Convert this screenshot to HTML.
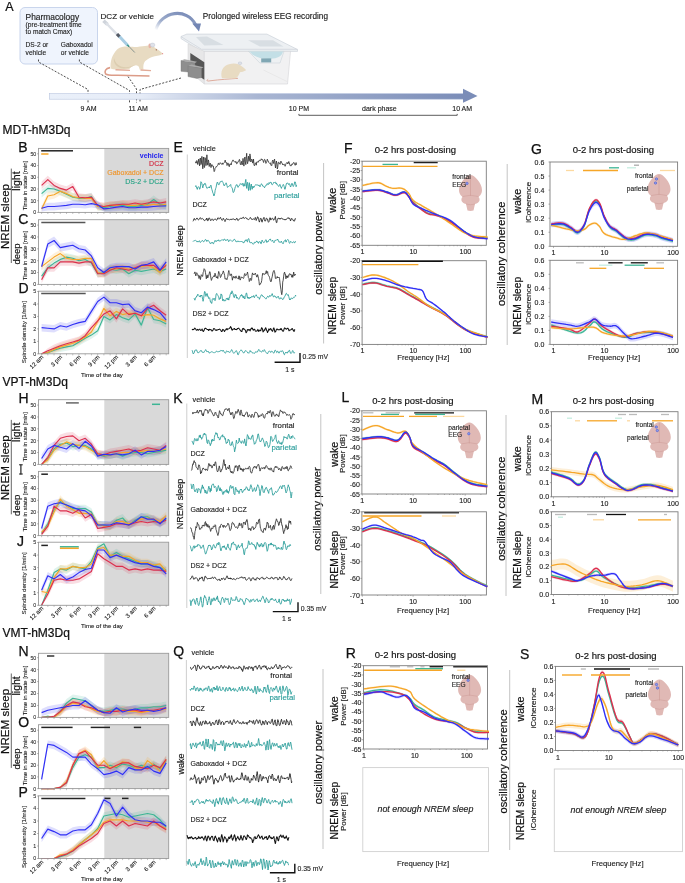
<!DOCTYPE html>
<html><head><meta charset="utf-8"><style>
html,body{margin:0;padding:0;background:#fff;width:685px;height:883px;overflow:hidden}
svg{display:block;font-family:"Liberation Sans",sans-serif;will-change:transform}
</style></head><body>
<svg width="685" height="883" viewBox="0 0 685 883">
<rect width="685" height="883" fill="#fff"/>
<defs><linearGradient id="tl" x1="0" x2="1" y1="0" y2="0"><stop offset="0" stop-color="#eaf0fa"/><stop offset="0.22" stop-color="#e6ecf7"/><stop offset="0.5" stop-color="#a9b6d3"/><stop offset="1" stop-color="#7b8db8"/></linearGradient><linearGradient id="arc" x1="0" x2="1" y1="1" y2="0"><stop offset="0" stop-color="#ffffff"/><stop offset="0.35" stop-color="#9eadcc"/><stop offset="1" stop-color="#7386b4"/></linearGradient></defs>
<text x="5.2" y="10.5" font-size="12.5" fill="#111" stroke="#111" stroke-width="0.22">A</text>
<rect x="20" y="7.5" width="77.5" height="56.5" fill="#eff4fd" stroke="#c3d0ea" stroke-width="0.9" rx="5"/>
<text x="25.6" y="19.5" font-size="8.4" fill="#222" stroke="#222" stroke-width="0.15">Pharmacology</text>
<text x="25.6" y="26.6" font-size="6.6" fill="#222" stroke="#222" stroke-width="0.12">(pre-treatment time</text>
<text x="25.6" y="33.6" font-size="6.6" fill="#222" stroke="#222" stroke-width="0.12">to match Cmax)</text>
<text x="25.6" y="47.2" font-size="6.6" fill="#222" stroke="#222" stroke-width="0.12">DS-2 or</text>
<text x="25.6" y="55.2" font-size="6.6" fill="#222" stroke="#222" stroke-width="0.12">vehicle</text>
<text x="60.8" y="47.2" font-size="6.6" fill="#222" stroke="#222" stroke-width="0.12">Gaboxadol</text>
<text x="60.8" y="55.2" font-size="6.6" fill="#222" stroke="#222" stroke-width="0.12">or vehicle</text>
<text x="100.5" y="19.4" font-size="8.1" fill="#222" stroke="#222" stroke-width="0.15">DCZ or vehicle</text>
<text x="202.8" y="19.2" font-size="8.2" fill="#222" stroke="#222" stroke-width="0.15">Prolonged wireless EEG recording</text>
<path d="M38.5,59.5 L38.5,62 L88,89.5 L88,102.5" fill="none" stroke="#3a3a3a" stroke-width="0.9" stroke-dasharray="2.0,1.5"/>
<path d="M79.4,59.5 L79.4,62 L129.5,90.5 L129.5,102.5" fill="none" stroke="#3a3a3a" stroke-width="0.9" stroke-dasharray="2.0,1.5"/>
<path d="M128,76.5 L136.5,89 L136.5,102.5" fill="none" stroke="#3a3a3a" stroke-width="0.9" stroke-dasharray="2.0,1.5"/>
<path d="M181,78 L140,89.5 L140,102.5" fill="none" stroke="#3a3a3a" stroke-width="0.9" stroke-dasharray="2.0,1.5"/>
<rect x="49.3" y="93.6" width="415" height="5.6" fill="url(#tl)" stroke="#b9c5df" stroke-width="0.6"/>
<path d="M463,88.8 L477.5,95.9 L463,102.8 Z" fill="#7b8db8" />
<text x="88.5" y="110.9" font-size="7" fill="#222" stroke="#222" stroke-width="0.13" text-anchor="middle">9 AM</text>
<text x="138.1" y="110.9" font-size="7" fill="#222" stroke="#222" stroke-width="0.13" text-anchor="middle">11 AM</text>
<text x="298.9" y="110.9" font-size="7" fill="#222" stroke="#222" stroke-width="0.13" text-anchor="middle">10 PM</text>
<text x="379.4" y="110.9" font-size="7" fill="#222" stroke="#222" stroke-width="0.13" text-anchor="middle">dark phase</text>
<text x="462.2" y="110.9" font-size="7" fill="#222" stroke="#222" stroke-width="0.13" text-anchor="middle">10 AM</text>
<path d="M298.9,113.9 L298.9,115.3 L457.2,115.3 L457.2,113.9" fill="none" stroke="#333" stroke-width="0.8" />
<path d="M155.8,30 C161,11 187,7 195.8,25" fill="none" stroke="url(#arc)" stroke-width="3.1" />
<path d="M192.3,23.6 L201,23.6 L199,31.4 Z" fill="#7386b4" />
<path d="M110,67.6 C105.5,68.3 104.2,71.5 105.6,73.8 C107.5,75.5 112,75.2 118,75.3 C130,75.5 142,75.8 149.5,76" fill="none" stroke="#dc9c88" stroke-width="1.6" />
<path d="M110.6,68.6 C110.2,62 111.5,55 117.6,49 C121,46.5 126.6,46.3 131,46.8 C137,47.3 141,46.2 145,45.9 C148.5,45 151,45.3 154,47 C157.5,49.3 160.5,51.5 162.8,53.6 C162,55 158.5,56 154.7,56.2 C151,57 148,58.5 146,60.5 C144,62 143,64.5 143.5,69.5 L139.5,69.6 C139.5,67 138.5,65.5 136,65.2 C132,66 130,68 129,69.3 C124,69.6 118,69.6 113,69.3 C112,69.2 111,69 110.6,68.6 Z" fill="#e8dbc2" />
<path d="M114,58 C113,64 117,68 124,68.5 C130,68.3 134,65.5 136,64 C132,67 126,68 121,66.5 C117,65 115,62 114,58 Z" fill="#dccdb0" />
<ellipse cx="149.9" cy="45.8" rx="1.5" ry="2.4" fill="#e7b2a4"/>
<circle cx="156.3" cy="49.8" r="0.65" fill="#8a4a3a"/>
<circle cx="162.6" cy="53.7" r="0.6" fill="#e58a8a"/>
<ellipse cx="152.5" cy="45" rx="2.4" ry="1.9" fill="#dfe2ea" stroke="#b4bbc9" stroke-width="0.4"/>
<path d="M115.5,69.8 L130,70.4" fill="none" stroke="#e2ab98" stroke-width="1.4" />
<path d="M140.5,70.0 L151,70.6" fill="none" stroke="#e2ab98" stroke-width="1.4" />
<path d="M103.5,20.8 L107.5,24.5" fill="none" stroke="#cfd4db" stroke-width="3.6" />
<path d="M106,23 L117.5,34.8" fill="none" stroke="#dde1e7" stroke-width="2.4" />
<path d="M117,34 L119.8,37" fill="none" stroke="#555b66" stroke-width="3.2" />
<path d="M119.5,36.5 L127.6,45.2" fill="none" stroke="#a8cde3" stroke-width="3" />
<path d="M127.3,44.8 L129,46.6" fill="none" stroke="#3a9a8a" stroke-width="1.6" />
<path d="M128.5,46 L134.8,52.5" fill="none" stroke="#45616a" stroke-width="0.6" />
<path d="M181,36.5 L186.8,34.1 L266.9,34.1 L297.5,49.5 L297.5,51.4 L201.6,51.4 L181,38.6 Z" fill="#edf0f3" stroke="#c6cdd5" stroke-width="0.6" />
<path d="M181,36.6 L201.6,49.3 L297.5,49.3" fill="none" stroke="#cdd3da" stroke-width="0.7" />
<path d="M196,37 L207,36.6 L223.5,45 L204.3,45.5 Z" fill="#d8dee3" />
<path d="M248,40.3 L273,40.3 L283.5,46.4 L259.9,46.4 Z" fill="#d8dee3" />
<path d="M188,43.8 L204.3,51.4 L204.3,84 L188,70.5 Z" fill="#e7e7e8" stroke="#d2d2d4" stroke-width="0.5" />
<path d="M204.3,51.4 L290.5,51.4 L287.5,84 L204.3,84 Z" fill="#f1f1f2" stroke="#d4d4d6" stroke-width="0.6" />
<path d="M263.4,70 L287,81.5" fill="none" stroke="#dedede" stroke-width="0.5" />
<path d="M248.5,51.4 L284,51.4 L280,63 L259.9,63 Z" fill="#eef1f3" stroke="#c5ced5" stroke-width="0.5" />
<path d="M249.5,51.6 L283,51.6 C282,56 278,58.5 270,59 C262,59.2 254,57.5 249.5,51.6 Z" fill="#c3dfe6" />
<rect x="261.2" y="58.4" width="10" height="4" fill="#80a7b4"/>
<path d="M190.3,53 L204.3,62.2 L204.3,79.7 L190.3,70 Z" fill="#565656" />
<path d="M181,60.4 L195,63 L195,72.7 L181,71.3 Z" fill="#8e8e8e" stroke="#777" stroke-width="0.4" />
<path d="M181,60.4 L184.5,59.3 L197,61.8 L195,63 Z" fill="#a9a9a9" />
<path d="M188,65.7 L201.6,68.3 L201.6,77.5 L196.8,78.4 L188,76.6 Z" fill="#8e8e8e" stroke="#777" stroke-width="0.4" />
<path d="M188,65.7 L191.5,64.6 L203.5,67.2 L201.6,68.3 Z" fill="#a9a9a9" />
<path d="M208.2,79.2 C206,80.5 207,81.5 210,80.8 C220,79.5 230,79 238,78.3" fill="none" stroke="#d99a88" stroke-width="0.8" />
<path d="M222,78.3 C220,72 222.5,66 229,64.2 C234,62.8 239,63.5 242,66.5 C244,68 245.5,69 246,70.2 C244,71.5 241.5,72 240,72.2 C239,75 237.5,77.5 235.5,78.4 Z" fill="#e8dbc2" />
<ellipse cx="240" cy="63.2" rx="1.8" ry="1.3" fill="#dfe2ea" stroke="#b4bbc9" stroke-width="0.4"/>
<rect x="104.3" y="148.4" width="64.4" height="64" fill="#d9d9d9"/>
<polygon points="41.6,189.8 47.8,184.5 54.1,185.1 60.3,187.4 66.5,190.4 72.8,193.3 79,194.5 85.2,194.5 91.4,192.7 97.7,202.7 103.9,204.2 110.1,202.7 116.4,201.5 122.6,201.5 128.8,202.7 135.1,202.7 141.3,201.5 147.5,200.3 153.7,195.6 160,200.3 166.2,201.5 166.2,209.2 160,208.1 153.7,203.4 147.5,208.1 141.3,209.2 135.1,210.4 128.8,210.4 122.6,209.2 116.4,209.2 110.1,210.4 103.9,211.2 97.7,210.4 91.4,200.4 85.2,202.2 79,202.2 72.8,201 66.5,198.1 60.3,195.2 54.1,192.8 47.8,192.2 41.6,197.5" fill="#3db595" fill-opacity="0.16"/>
<polygon points="41.6,206.2 47.8,192.1 54.1,191 60.3,187.4 66.5,189.8 72.8,192.7 79,193.9 85.2,194.5 91.4,194.5 97.7,202.7 103.9,202.7 110.1,201.5 116.4,201.5 122.6,200.3 128.8,201.5 135.1,201.5 141.3,200.3 147.5,201.5 153.7,200.3 160,201.5 166.2,200.3 166.2,208.1 160,209.2 153.7,208.1 147.5,209.2 141.3,208.1 135.1,209.2 128.8,209.2 122.6,208.1 116.4,209.2 110.1,209.2 103.9,210.4 97.7,210.4 91.4,202.2 85.2,202.2 79,201.6 72.8,200.4 66.5,197.5 60.3,195.2 54.1,198.7 47.8,199.9 41.6,211.6" fill="#f6a628" fill-opacity="0.16"/>
<polygon points="41.6,181.6 47.8,175.7 54.1,181.6 60.3,184.5 66.5,186.3 72.8,182.7 79,193.3 85.2,193.9 91.4,193.3 97.7,201.5 103.9,202.7 110.1,201.5 116.4,200.9 122.6,200.3 128.8,200.3 135.1,199.2 141.3,200.3 147.5,199.2 153.7,198 160,199.2 166.2,198 166.2,205.7 160,206.9 153.7,205.7 147.5,206.9 141.3,208.1 135.1,206.9 128.8,208.1 122.6,208.1 116.4,208.6 110.1,209.2 103.9,210.4 97.7,209.2 91.4,201 85.2,201.6 79,201 72.8,190.5 66.5,194 60.3,192.2 54.1,189.3 47.8,183.5 41.6,189.3" fill="#dc2f4e" fill-opacity="0.16"/>
<polygon points="41.6,205.2 47.8,202.7 54.1,202.7 60.3,202.1 66.5,201.5 72.8,200.3 79,200.3 85.2,200.9 91.4,199.7 97.7,200.9 103.9,206.2 110.1,205.2 116.4,203.3 122.6,202.7 128.8,204.2 135.1,204.2 141.3,203.3 147.5,203.3 153.7,202.7 160,202.1 166.2,202.1 166.2,209.8 160,209.8 153.7,210.4 147.5,211 141.3,211 135.1,211.2 128.8,211.2 122.6,210.4 116.4,211 110.1,211.4 103.9,211.6 97.7,208.6 91.4,207.5 85.2,208.6 79,208.1 72.8,208.1 66.5,209.2 60.3,209.8 54.1,210.4 47.8,210.4 41.6,211.4" fill="#2f2ff5" fill-opacity="0.16"/>
<polyline points="41.6,193.6 47.8,188.4 54.1,189 60.3,191.3 66.5,194.2 72.8,197.2 79,198.3 85.2,198.3 91.4,196.6 97.7,206.5 103.9,207.7 110.1,206.5 116.4,205.4 122.6,205.4 128.8,206.5 135.1,206.5 141.3,205.4 147.5,204.2 153.7,199.5 160,204.2 166.2,205.4" fill="none" stroke="#3db595" stroke-width="1.15" stroke-linejoin="round"/>
<polyline points="41.6,208.9 47.8,196 54.1,194.8 60.3,191.3 66.5,193.6 72.8,196.6 79,197.8 85.2,198.3 91.4,198.3 97.7,206.5 103.9,206.5 110.1,205.4 116.4,205.4 122.6,204.2 128.8,205.4 135.1,205.4 141.3,204.2 147.5,205.4 153.7,204.2 160,205.4 166.2,204.2" fill="none" stroke="#f6a628" stroke-width="1.15" stroke-linejoin="round"/>
<polyline points="41.6,185.4 47.8,179.6 54.1,185.4 60.3,188.4 66.5,190.1 72.8,186.6 79,197.2 85.2,197.8 91.4,197.2 97.7,205.4 103.9,206.5 110.1,205.4 116.4,204.8 122.6,204.2 128.8,204.2 135.1,203 141.3,204.2 147.5,203 153.7,201.9 160,203 166.2,201.9" fill="none" stroke="#dc2f4e" stroke-width="1.15" stroke-linejoin="round"/>
<polyline points="41.6,208.3 47.8,206.5 54.1,206.5 60.3,206 66.5,205.4 72.8,204.2 79,204.2 85.2,204.8 91.4,203.6 97.7,204.8 103.9,208.9 110.1,208.3 116.4,207.1 122.6,206.5 128.8,207.7 135.1,207.7 141.3,207.1 147.5,207.1 153.7,206.5 160,206 166.2,206" fill="none" stroke="#2f2ff5" stroke-width="1.15" stroke-linejoin="round"/>
<rect x="38.5" y="148.4" width="130.2" height="64" fill="none" stroke="#9a9a9a" stroke-width="0.9"/>
<line x1="41.6" y1="212.4" x2="41.6" y2="214" stroke="#888" stroke-width="0.5"/>
<line x1="47.83" y1="212.4" x2="47.83" y2="214" stroke="#888" stroke-width="0.5"/>
<line x1="54.06" y1="212.4" x2="54.06" y2="214" stroke="#888" stroke-width="0.5"/>
<line x1="60.29" y1="212.4" x2="60.29" y2="214" stroke="#888" stroke-width="0.5"/>
<line x1="66.52" y1="212.4" x2="66.52" y2="214" stroke="#888" stroke-width="0.5"/>
<line x1="72.75" y1="212.4" x2="72.75" y2="214" stroke="#888" stroke-width="0.5"/>
<line x1="78.98" y1="212.4" x2="78.98" y2="214" stroke="#888" stroke-width="0.5"/>
<line x1="85.21" y1="212.4" x2="85.21" y2="214" stroke="#888" stroke-width="0.5"/>
<line x1="91.44" y1="212.4" x2="91.44" y2="214" stroke="#888" stroke-width="0.5"/>
<line x1="97.67" y1="212.4" x2="97.67" y2="214" stroke="#888" stroke-width="0.5"/>
<line x1="103.9" y1="212.4" x2="103.9" y2="214" stroke="#888" stroke-width="0.5"/>
<line x1="110.13" y1="212.4" x2="110.13" y2="214" stroke="#888" stroke-width="0.5"/>
<line x1="116.36" y1="212.4" x2="116.36" y2="214" stroke="#888" stroke-width="0.5"/>
<line x1="122.59" y1="212.4" x2="122.59" y2="214" stroke="#888" stroke-width="0.5"/>
<line x1="128.82" y1="212.4" x2="128.82" y2="214" stroke="#888" stroke-width="0.5"/>
<line x1="135.05" y1="212.4" x2="135.05" y2="214" stroke="#888" stroke-width="0.5"/>
<line x1="141.28" y1="212.4" x2="141.28" y2="214" stroke="#888" stroke-width="0.5"/>
<line x1="147.51" y1="212.4" x2="147.51" y2="214" stroke="#888" stroke-width="0.5"/>
<line x1="153.74" y1="212.4" x2="153.74" y2="214" stroke="#888" stroke-width="0.5"/>
<line x1="159.97" y1="212.4" x2="159.97" y2="214" stroke="#888" stroke-width="0.5"/>
<line x1="166.2" y1="212.4" x2="166.2" y2="214" stroke="#888" stroke-width="0.5"/>
<line x1="37" y1="212.4" x2="38.5" y2="212.4" stroke="#777" stroke-width="0.5"/>
<text x="36.3" y="214.3" font-size="5.3" fill="#333" stroke="#333" stroke-width="0.1" text-anchor="end">0</text>
<line x1="37" y1="200.68" x2="38.5" y2="200.68" stroke="#777" stroke-width="0.5"/>
<text x="36.3" y="202.58" font-size="5.3" fill="#333" stroke="#333" stroke-width="0.1" text-anchor="end">10</text>
<line x1="37" y1="188.96" x2="38.5" y2="188.96" stroke="#777" stroke-width="0.5"/>
<text x="36.3" y="190.86" font-size="5.3" fill="#333" stroke="#333" stroke-width="0.1" text-anchor="end">20</text>
<line x1="37" y1="177.24" x2="38.5" y2="177.24" stroke="#777" stroke-width="0.5"/>
<text x="36.3" y="179.14" font-size="5.3" fill="#333" stroke="#333" stroke-width="0.1" text-anchor="end">30</text>
<line x1="37" y1="165.52" x2="38.5" y2="165.52" stroke="#777" stroke-width="0.5"/>
<text x="36.3" y="167.42" font-size="5.3" fill="#333" stroke="#333" stroke-width="0.1" text-anchor="end">40</text>
<line x1="37" y1="153.8" x2="38.5" y2="153.8" stroke="#777" stroke-width="0.5"/>
<text x="36.3" y="155.7" font-size="5.3" fill="#333" stroke="#333" stroke-width="0.1" text-anchor="end">50</text>
<line x1="41.2" y1="150.8" x2="73" y2="150.8" stroke="#222" stroke-width="1.5"/>
<line x1="41.2" y1="154" x2="48.5" y2="154" stroke="#f6a628" stroke-width="1.5"/>
<rect x="104.3" y="219.7" width="64.4" height="64.7" fill="#d9d9d9"/>
<polygon points="41.6,272.2 47.8,263.9 54.1,259.1 60.3,255.6 66.5,253.2 72.8,254.4 79,256.8 85.2,255.6 91.4,259.1 97.7,269.8 103.9,268.6 110.1,265.1 116.4,266.3 122.6,265.1 128.8,269.8 135.1,266.3 141.3,267.4 147.5,266.3 153.7,265.1 160,267.4 166.2,265.1 166.2,272.9 160,275.3 153.7,272.9 147.5,274.1 141.3,275.3 135.1,274.1 128.8,277.6 122.6,272.9 116.4,274.1 110.1,272.9 103.9,276.5 97.7,277.6 91.4,267 85.2,263.4 79,264.6 72.8,262.2 66.5,261 60.3,263.4 54.1,267 47.8,271.7 41.6,280" fill="#3db595" fill-opacity="0.16"/>
<polygon points="41.6,262.7 47.8,258 54.1,253.2 60.3,249.7 66.5,254.4 72.8,255.6 79,255.6 85.2,254.4 91.4,254.4 97.7,268.6 103.9,269.8 110.1,265.1 116.4,265.1 122.6,263.9 128.8,265.1 135.1,263.9 141.3,262.7 147.5,261.5 153.7,263.9 160,268.6 166.2,260.3 166.2,268.2 160,276.5 153.7,271.7 147.5,269.3 141.3,270.5 135.1,271.7 128.8,272.9 122.6,271.7 116.4,272.9 110.1,272.9 103.9,277.6 97.7,276.5 91.4,262.2 85.2,262.2 79,263.4 72.8,263.4 66.5,262.2 60.3,257.5 54.1,261 47.8,265.8 41.6,270.5" fill="#f6a628" fill-opacity="0.16"/>
<polygon points="41.6,276.1 47.8,263.9 54.1,263.9 60.3,258 66.5,258 72.8,258 79,259.1 85.2,258 91.4,258 97.7,269.8 103.9,269.8 110.1,266.3 116.4,263.9 122.6,265.1 128.8,266.3 135.1,263.9 141.3,261.5 147.5,261.5 153.7,261.5 160,266.3 166.2,261.5 166.2,269.3 160,274.1 153.7,269.3 147.5,269.3 141.3,269.3 135.1,271.7 128.8,274.1 122.6,272.9 116.4,271.7 110.1,274.1 103.9,277.6 97.7,277.6 91.4,265.8 85.2,265.8 79,267 72.8,265.8 66.5,265.8 60.3,265.8 54.1,271.7 47.8,271.7 41.6,283.2" fill="#dc2f4e" fill-opacity="0.16"/>
<polygon points="41.6,262.7 47.8,240.2 54.1,236.6 60.3,243.7 66.5,242.5 72.8,241.3 79,244.9 85.2,246.1 91.4,252 97.7,263.9 103.9,268.6 110.1,263.9 116.4,262.7 122.6,262.7 128.8,262.7 135.1,265.1 141.3,261.5 147.5,260.3 153.7,258 160,266.3 166.2,258 166.2,265.8 160,274.1 153.7,265.8 147.5,268.2 141.3,269.3 135.1,272.9 128.8,270.5 122.6,270.5 116.4,270.5 110.1,271.7 103.9,276.5 97.7,271.7 91.4,259.8 85.2,253.9 79,252.7 72.8,249.2 66.5,250.4 60.3,251.5 54.1,244.4 47.8,248 41.6,270.5" fill="#2f2ff5" fill-opacity="0.16"/>
<polyline points="41.6,276.1 47.8,267.8 54.1,263.1 60.3,259.5 66.5,257.1 72.8,258.3 79,260.7 85.2,259.5 91.4,263.1 97.7,273.7 103.9,272.5 110.1,269 116.4,270.2 122.6,269 128.8,273.7 135.1,270.2 141.3,271.4 147.5,270.2 153.7,269 160,271.4 166.2,269" fill="none" stroke="#3db595" stroke-width="1.15" stroke-linejoin="round"/>
<polyline points="41.6,266.6 47.8,261.9 54.1,257.1 60.3,253.6 66.5,258.3 72.8,259.5 79,259.5 85.2,258.3 91.4,258.3 97.7,272.5 103.9,273.7 110.1,269 116.4,269 122.6,267.8 128.8,269 135.1,267.8 141.3,266.6 147.5,265.4 153.7,267.8 160,272.5 166.2,264.2" fill="none" stroke="#f6a628" stroke-width="1.15" stroke-linejoin="round"/>
<polyline points="41.6,279.7 47.8,267.8 54.1,267.8 60.3,261.9 66.5,261.9 72.8,261.9 79,263.1 85.2,261.9 91.4,261.9 97.7,273.7 103.9,273.7 110.1,270.2 116.4,267.8 122.6,269 128.8,270.2 135.1,267.8 141.3,265.4 147.5,265.4 153.7,265.4 160,270.2 166.2,265.4" fill="none" stroke="#dc2f4e" stroke-width="1.15" stroke-linejoin="round"/>
<polyline points="41.6,266.6 47.8,244.1 54.1,240.5 60.3,247.6 66.5,246.4 72.8,245.3 79,248.8 85.2,250 91.4,255.9 97.7,267.8 103.9,272.5 110.1,267.8 116.4,266.6 122.6,266.6 128.8,266.6 135.1,269 141.3,265.4 147.5,264.2 153.7,261.9 160,270.2 166.2,261.9" fill="none" stroke="#2f2ff5" stroke-width="1.15" stroke-linejoin="round"/>
<rect x="38.5" y="219.7" width="130.2" height="64.7" fill="none" stroke="#9a9a9a" stroke-width="0.9"/>
<line x1="41.6" y1="284.4" x2="41.6" y2="286" stroke="#888" stroke-width="0.5"/>
<line x1="47.83" y1="284.4" x2="47.83" y2="286" stroke="#888" stroke-width="0.5"/>
<line x1="54.06" y1="284.4" x2="54.06" y2="286" stroke="#888" stroke-width="0.5"/>
<line x1="60.29" y1="284.4" x2="60.29" y2="286" stroke="#888" stroke-width="0.5"/>
<line x1="66.52" y1="284.4" x2="66.52" y2="286" stroke="#888" stroke-width="0.5"/>
<line x1="72.75" y1="284.4" x2="72.75" y2="286" stroke="#888" stroke-width="0.5"/>
<line x1="78.98" y1="284.4" x2="78.98" y2="286" stroke="#888" stroke-width="0.5"/>
<line x1="85.21" y1="284.4" x2="85.21" y2="286" stroke="#888" stroke-width="0.5"/>
<line x1="91.44" y1="284.4" x2="91.44" y2="286" stroke="#888" stroke-width="0.5"/>
<line x1="97.67" y1="284.4" x2="97.67" y2="286" stroke="#888" stroke-width="0.5"/>
<line x1="103.9" y1="284.4" x2="103.9" y2="286" stroke="#888" stroke-width="0.5"/>
<line x1="110.13" y1="284.4" x2="110.13" y2="286" stroke="#888" stroke-width="0.5"/>
<line x1="116.36" y1="284.4" x2="116.36" y2="286" stroke="#888" stroke-width="0.5"/>
<line x1="122.59" y1="284.4" x2="122.59" y2="286" stroke="#888" stroke-width="0.5"/>
<line x1="128.82" y1="284.4" x2="128.82" y2="286" stroke="#888" stroke-width="0.5"/>
<line x1="135.05" y1="284.4" x2="135.05" y2="286" stroke="#888" stroke-width="0.5"/>
<line x1="141.28" y1="284.4" x2="141.28" y2="286" stroke="#888" stroke-width="0.5"/>
<line x1="147.51" y1="284.4" x2="147.51" y2="286" stroke="#888" stroke-width="0.5"/>
<line x1="153.74" y1="284.4" x2="153.74" y2="286" stroke="#888" stroke-width="0.5"/>
<line x1="159.97" y1="284.4" x2="159.97" y2="286" stroke="#888" stroke-width="0.5"/>
<line x1="166.2" y1="284.4" x2="166.2" y2="286" stroke="#888" stroke-width="0.5"/>
<line x1="37" y1="284.4" x2="38.5" y2="284.4" stroke="#777" stroke-width="0.5"/>
<text x="36.3" y="286.3" font-size="5.3" fill="#333" stroke="#333" stroke-width="0.1" text-anchor="end">0</text>
<line x1="37" y1="272.54" x2="38.5" y2="272.54" stroke="#777" stroke-width="0.5"/>
<text x="36.3" y="274.44" font-size="5.3" fill="#333" stroke="#333" stroke-width="0.1" text-anchor="end">10</text>
<line x1="37" y1="260.68" x2="38.5" y2="260.68" stroke="#777" stroke-width="0.5"/>
<text x="36.3" y="262.58" font-size="5.3" fill="#333" stroke="#333" stroke-width="0.1" text-anchor="end">20</text>
<line x1="37" y1="248.82" x2="38.5" y2="248.82" stroke="#777" stroke-width="0.5"/>
<text x="36.3" y="250.72" font-size="5.3" fill="#333" stroke="#333" stroke-width="0.1" text-anchor="end">30</text>
<line x1="37" y1="236.96" x2="38.5" y2="236.96" stroke="#777" stroke-width="0.5"/>
<text x="36.3" y="238.86" font-size="5.3" fill="#333" stroke="#333" stroke-width="0.1" text-anchor="end">40</text>
<line x1="37" y1="225.1" x2="38.5" y2="225.1" stroke="#777" stroke-width="0.5"/>
<text x="36.3" y="227" font-size="5.3" fill="#333" stroke="#333" stroke-width="0.1" text-anchor="end">50</text>
<line x1="41.3" y1="222.6" x2="85.4" y2="222.6" stroke="#555" stroke-width="1.5"/>
<rect x="104.3" y="291.2" width="64.4" height="62.6" fill="#d9d9d9"/>
<polygon points="41.6,353.4 47.8,351.3 54.1,347.2 60.3,344.5 66.5,343.2 72.8,342 79,338.2 85.2,334.5 91.4,331.4 97.7,327 103.9,312.7 110.1,316.2 116.4,310.8 122.6,313.9 128.8,316.2 135.1,310.2 141.3,321.4 147.5,304 153.7,315.8 160,317 166.2,320.2 166.2,327.6 160,324.5 153.7,323.3 147.5,311.4 141.3,328.9 135.1,317.7 128.8,323.6 122.6,321.4 116.4,318.3 110.1,323.6 103.9,320.2 97.7,334.5 91.4,338.8 85.2,342 79,345.7 72.8,349.4 66.5,350.7 60.3,351.9 54.1,352.9 47.8,353.8 41.6,353.8" fill="#3db595" fill-opacity="0.16"/>
<polygon points="41.6,353.4 47.8,351.3 54.1,346.2 60.3,343.2 66.5,341.3 72.8,339.5 79,337 85.2,333.2 91.4,328.3 97.7,317.7 103.9,304.6 110.1,312.1 116.4,307.7 122.6,310.8 128.8,309.6 135.1,309.6 141.3,312.1 147.5,310.8 153.7,311.4 160,315.2 166.2,317.7 166.2,325.1 160,322.7 153.7,318.9 147.5,318.3 141.3,319.5 135.1,317 128.8,317 122.6,318.3 116.4,315.2 110.1,319.5 103.9,312.1 97.7,325.1 91.4,335.7 85.2,340.7 79,344.5 72.8,346.9 66.5,348.8 60.3,350.7 54.1,352.7 47.8,353.8 41.6,353.8" fill="#f6a628" fill-opacity="0.16"/>
<polygon points="41.6,353.4 47.8,348.2 54.1,344.5 60.3,342 66.5,340.1 72.8,338.2 79,336.4 85.2,332 91.4,323.9 97.7,317 103.9,310.2 110.1,307.1 116.4,315.2 122.6,305.2 128.8,310.8 135.1,309.6 141.3,312.1 147.5,304.6 153.7,301.5 160,307.1 166.2,311.4 166.2,318.9 160,314.6 153.7,308.9 147.5,312.1 141.3,319.5 135.1,317 128.8,318.3 122.6,312.7 116.4,322.7 110.1,314.6 103.9,317.7 97.7,324.5 91.4,331.4 85.2,339.5 79,343.8 72.8,345.7 66.5,347.6 60.3,349.4 54.1,351.9 47.8,353.1 41.6,353.8" fill="#dc2f4e" fill-opacity="0.16"/>
<polygon points="41.6,323.9 47.8,324.5 54.1,325.1 60.3,322 66.5,323.3 72.8,320.8 79,318.9 85.2,317.7 91.4,307.7 97.7,297.7 103.9,293.4 110.1,299 116.4,299 122.6,300.8 128.8,300.2 135.1,307.1 141.3,308.9 147.5,303.3 153.7,305.8 160,308.9 166.2,316.4 166.2,323.9 160,316.4 153.7,313.3 147.5,310.8 141.3,316.4 135.1,314.6 128.8,307.7 122.6,308.3 116.4,306.5 110.1,306.5 103.9,300.8 97.7,305.2 91.4,315.2 85.2,325.1 79,326.4 72.8,328.3 66.5,330.7 60.3,329.5 54.1,332.6 47.8,332 41.6,331.4" fill="#2f2ff5" fill-opacity="0.16"/>
<polyline points="41.6,353.8 47.8,352.6 54.1,350.1 60.3,348.2 66.5,346.9 72.8,345.7 79,342 85.2,338.2 91.4,335.1 97.7,330.7 103.9,316.4 110.1,319.9 116.4,314.6 122.6,317.7 128.8,319.9 135.1,313.9 141.3,325.1 147.5,307.7 153.7,319.5 160,320.8 166.2,323.9" fill="none" stroke="#3db595" stroke-width="1.15" stroke-linejoin="round"/>
<polyline points="41.6,353.8 47.8,352.6 54.1,349.4 60.3,346.9 66.5,345.1 72.8,343.2 79,340.7 85.2,337 91.4,332 97.7,321.4 103.9,308.3 110.1,315.8 116.4,311.4 122.6,314.6 128.8,313.3 135.1,313.3 141.3,315.8 147.5,314.6 153.7,315.2 160,318.9 166.2,321.4" fill="none" stroke="#f6a628" stroke-width="1.15" stroke-linejoin="round"/>
<polyline points="41.6,353.8 47.8,350.7 54.1,348.2 60.3,345.7 66.5,343.8 72.8,342 79,340.1 85.2,335.7 91.4,327.6 97.7,320.8 103.9,313.9 110.1,310.8 116.4,318.9 122.6,308.9 128.8,314.6 135.1,313.3 141.3,315.8 147.5,308.3 153.7,305.2 160,310.8 166.2,315.2" fill="none" stroke="#dc2f4e" stroke-width="1.15" stroke-linejoin="round"/>
<polyline points="41.6,327.6 47.8,328.3 54.1,328.9 60.3,325.8 66.5,327 72.8,324.5 79,322.6 85.2,321.4 91.4,311.4 97.7,301.5 103.9,297.1 110.1,302.7 116.4,302.7 122.6,304.6 128.8,304 135.1,310.8 141.3,312.7 147.5,307.1 153.7,309.6 160,312.7 166.2,320.2" fill="none" stroke="#2f2ff5" stroke-width="1.15" stroke-linejoin="round"/>
<rect x="38.5" y="291.2" width="130.2" height="62.6" fill="none" stroke="#9a9a9a" stroke-width="0.9"/>
<line x1="41.6" y1="353.8" x2="41.6" y2="355.4" stroke="#888" stroke-width="0.5"/>
<line x1="47.83" y1="353.8" x2="47.83" y2="355.4" stroke="#888" stroke-width="0.5"/>
<line x1="54.06" y1="353.8" x2="54.06" y2="355.4" stroke="#888" stroke-width="0.5"/>
<line x1="60.29" y1="353.8" x2="60.29" y2="355.4" stroke="#888" stroke-width="0.5"/>
<line x1="66.52" y1="353.8" x2="66.52" y2="355.4" stroke="#888" stroke-width="0.5"/>
<line x1="72.75" y1="353.8" x2="72.75" y2="355.4" stroke="#888" stroke-width="0.5"/>
<line x1="78.98" y1="353.8" x2="78.98" y2="355.4" stroke="#888" stroke-width="0.5"/>
<line x1="85.21" y1="353.8" x2="85.21" y2="355.4" stroke="#888" stroke-width="0.5"/>
<line x1="91.44" y1="353.8" x2="91.44" y2="355.4" stroke="#888" stroke-width="0.5"/>
<line x1="97.67" y1="353.8" x2="97.67" y2="355.4" stroke="#888" stroke-width="0.5"/>
<line x1="103.9" y1="353.8" x2="103.9" y2="355.4" stroke="#888" stroke-width="0.5"/>
<line x1="110.13" y1="353.8" x2="110.13" y2="355.4" stroke="#888" stroke-width="0.5"/>
<line x1="116.36" y1="353.8" x2="116.36" y2="355.4" stroke="#888" stroke-width="0.5"/>
<line x1="122.59" y1="353.8" x2="122.59" y2="355.4" stroke="#888" stroke-width="0.5"/>
<line x1="128.82" y1="353.8" x2="128.82" y2="355.4" stroke="#888" stroke-width="0.5"/>
<line x1="135.05" y1="353.8" x2="135.05" y2="355.4" stroke="#888" stroke-width="0.5"/>
<line x1="141.28" y1="353.8" x2="141.28" y2="355.4" stroke="#888" stroke-width="0.5"/>
<line x1="147.51" y1="353.8" x2="147.51" y2="355.4" stroke="#888" stroke-width="0.5"/>
<line x1="153.74" y1="353.8" x2="153.74" y2="355.4" stroke="#888" stroke-width="0.5"/>
<line x1="159.97" y1="353.8" x2="159.97" y2="355.4" stroke="#888" stroke-width="0.5"/>
<line x1="166.2" y1="353.8" x2="166.2" y2="355.4" stroke="#888" stroke-width="0.5"/>
<line x1="37" y1="353.8" x2="38.5" y2="353.8" stroke="#777" stroke-width="0.5"/>
<text x="36.3" y="355.7" font-size="5.3" fill="#333" stroke="#333" stroke-width="0.1" text-anchor="end">0</text>
<line x1="37" y1="341.34" x2="38.5" y2="341.34" stroke="#777" stroke-width="0.5"/>
<text x="36.3" y="343.24" font-size="5.3" fill="#333" stroke="#333" stroke-width="0.1" text-anchor="end">1</text>
<line x1="37" y1="328.88" x2="38.5" y2="328.88" stroke="#777" stroke-width="0.5"/>
<text x="36.3" y="330.78" font-size="5.3" fill="#333" stroke="#333" stroke-width="0.1" text-anchor="end">2</text>
<line x1="37" y1="316.42" x2="38.5" y2="316.42" stroke="#777" stroke-width="0.5"/>
<text x="36.3" y="318.32" font-size="5.3" fill="#333" stroke="#333" stroke-width="0.1" text-anchor="end">3</text>
<line x1="37" y1="303.96" x2="38.5" y2="303.96" stroke="#777" stroke-width="0.5"/>
<text x="36.3" y="305.86" font-size="5.3" fill="#333" stroke="#333" stroke-width="0.1" text-anchor="end">4</text>
<line x1="37" y1="291.5" x2="38.5" y2="291.5" stroke="#777" stroke-width="0.5"/>
<text x="36.3" y="293.4" font-size="5.3" fill="#333" stroke="#333" stroke-width="0.1" text-anchor="end">5</text>
<line x1="41.2" y1="293.6" x2="85.7" y2="293.6" stroke="#555" stroke-width="1.5"/>
<rect x="104.3" y="399.7" width="64.4" height="64.7" fill="#d9d9d9"/>
<polygon points="41.6,464 47.8,454.6 54.1,445.1 60.3,440.3 66.5,439.1 72.8,442.7 79,441.5 85.2,441.5 91.4,445.1 97.7,451 103.9,452.2 110.1,451 116.4,449.8 122.6,452.2 128.8,449.8 135.1,448.6 141.3,448.6 147.5,449.8 153.7,448.6 160,447.4 166.2,446.3 166.2,454.1 160,455.3 153.7,456.5 147.5,457.6 141.3,456.5 135.1,456.5 128.8,457.6 122.6,460 116.4,457.6 110.1,458.8 103.9,460 97.7,458.8 91.4,452.9 85.2,449.3 79,449.3 72.8,450.5 66.5,447 60.3,448.2 54.1,452.9 47.8,462.4 41.6,464.4" fill="#3db595" fill-opacity="0.16"/>
<polygon points="41.6,464 47.8,456.1 54.1,446.3 60.3,441.5 66.5,438 72.8,440.3 79,441.5 85.2,442.7 91.4,446.3 97.7,449.8 103.9,451 110.1,451 116.4,449.8 122.6,448.6 128.8,448.6 135.1,447.4 141.3,447.4 147.5,446.3 153.7,447.4 160,446.3 166.2,445.1 166.2,452.9 160,454.1 153.7,455.3 147.5,454.1 141.3,455.3 135.1,455.3 128.8,456.5 122.6,456.5 116.4,457.6 110.1,458.8 103.9,458.8 97.7,457.6 91.4,454.1 85.2,450.5 79,449.3 72.8,448.2 66.5,445.8 60.3,449.3 54.1,454.1 47.8,463.2 41.6,464.4" fill="#f6a628" fill-opacity="0.16"/>
<polygon points="41.6,464 47.8,453.4 54.1,441.5 60.3,434.4 66.5,432.6 72.8,432 79,436.8 85.2,434.4 91.4,440.3 97.7,449.8 103.9,451 110.1,448.6 116.4,447.4 122.6,446.3 128.8,445.1 135.1,447.4 141.3,446.3 147.5,443.9 153.7,445.1 160,446.3 166.2,441.5 166.2,449.3 160,454.1 153.7,452.9 147.5,451.7 141.3,454.1 135.1,455.3 128.8,452.9 122.6,454.1 116.4,455.3 110.1,456.5 103.9,458.8 97.7,457.6 91.4,448.2 85.2,442.2 79,444.6 72.8,439.8 66.5,440.4 60.3,442.2 54.1,449.3 47.8,461.2 41.6,464.4" fill="#dc2f4e" fill-opacity="0.16"/>
<polygon points="41.6,454.6 47.8,445.1 54.1,441.5 60.3,443.3 66.5,445.1 72.8,439.7 79,444.5 85.2,437.4 91.4,442.1 97.7,452.2 103.9,450.4 110.1,451 116.4,449.8 122.6,451 128.8,449.8 135.1,446.3 141.3,451 147.5,447.4 153.7,447.4 160,446.3 166.2,442.7 166.2,450.5 160,454.1 153.7,455.3 147.5,455.3 141.3,458.8 135.1,454.1 128.8,457.6 122.6,458.8 116.4,457.6 110.1,458.8 103.9,458.2 97.7,460 91.4,449.9 85.2,445.2 79,452.3 72.8,447.6 66.5,452.9 60.3,451.1 54.1,449.3 47.8,452.9 41.6,462.4" fill="#2f2ff5" fill-opacity="0.16"/>
<polyline points="41.6,464.4 47.8,458.5 54.1,449 60.3,444.2 66.5,443.1 72.8,446.6 79,445.4 85.2,445.4 91.4,449 97.7,454.9 103.9,456.1 110.1,454.9 116.4,453.7 122.6,456.1 128.8,453.7 135.1,452.5 141.3,452.5 147.5,453.7 153.7,452.5 160,451.4 166.2,450.2" fill="none" stroke="#3db595" stroke-width="1.15" stroke-linejoin="round"/>
<polyline points="41.6,464.4 47.8,459.7 54.1,450.2 60.3,445.4 66.5,441.9 72.8,444.2 79,445.4 85.2,446.6 91.4,450.2 97.7,453.7 103.9,454.9 110.1,454.9 116.4,453.7 122.6,452.5 128.8,452.5 135.1,451.4 141.3,451.4 147.5,450.2 153.7,451.4 160,450.2 166.2,449" fill="none" stroke="#f6a628" stroke-width="1.15" stroke-linejoin="round"/>
<polyline points="41.6,464.4 47.8,457.3 54.1,445.4 60.3,438.3 66.5,436.5 72.8,435.9 79,440.7 85.2,438.3 91.4,444.2 97.7,453.7 103.9,454.9 110.1,452.5 116.4,451.4 122.6,450.2 128.8,449 135.1,451.4 141.3,450.2 147.5,447.8 153.7,449 160,450.2 166.2,445.4" fill="none" stroke="#dc2f4e" stroke-width="1.15" stroke-linejoin="round"/>
<polyline points="41.6,458.5 47.8,449 54.1,445.4 60.3,447.2 66.5,449 72.8,443.6 79,448.4 85.2,441.3 91.4,446 97.7,456.1 103.9,454.3 110.1,454.9 116.4,453.7 122.6,454.9 128.8,453.7 135.1,450.2 141.3,454.9 147.5,451.4 153.7,451.4 160,450.2 166.2,446.6" fill="none" stroke="#2f2ff5" stroke-width="1.15" stroke-linejoin="round"/>
<rect x="38.5" y="399.7" width="130.2" height="64.7" fill="none" stroke="#9a9a9a" stroke-width="0.9"/>
<line x1="41.6" y1="464.4" x2="41.6" y2="466" stroke="#888" stroke-width="0.5"/>
<line x1="47.83" y1="464.4" x2="47.83" y2="466" stroke="#888" stroke-width="0.5"/>
<line x1="54.06" y1="464.4" x2="54.06" y2="466" stroke="#888" stroke-width="0.5"/>
<line x1="60.29" y1="464.4" x2="60.29" y2="466" stroke="#888" stroke-width="0.5"/>
<line x1="66.52" y1="464.4" x2="66.52" y2="466" stroke="#888" stroke-width="0.5"/>
<line x1="72.75" y1="464.4" x2="72.75" y2="466" stroke="#888" stroke-width="0.5"/>
<line x1="78.98" y1="464.4" x2="78.98" y2="466" stroke="#888" stroke-width="0.5"/>
<line x1="85.21" y1="464.4" x2="85.21" y2="466" stroke="#888" stroke-width="0.5"/>
<line x1="91.44" y1="464.4" x2="91.44" y2="466" stroke="#888" stroke-width="0.5"/>
<line x1="97.67" y1="464.4" x2="97.67" y2="466" stroke="#888" stroke-width="0.5"/>
<line x1="103.9" y1="464.4" x2="103.9" y2="466" stroke="#888" stroke-width="0.5"/>
<line x1="110.13" y1="464.4" x2="110.13" y2="466" stroke="#888" stroke-width="0.5"/>
<line x1="116.36" y1="464.4" x2="116.36" y2="466" stroke="#888" stroke-width="0.5"/>
<line x1="122.59" y1="464.4" x2="122.59" y2="466" stroke="#888" stroke-width="0.5"/>
<line x1="128.82" y1="464.4" x2="128.82" y2="466" stroke="#888" stroke-width="0.5"/>
<line x1="135.05" y1="464.4" x2="135.05" y2="466" stroke="#888" stroke-width="0.5"/>
<line x1="141.28" y1="464.4" x2="141.28" y2="466" stroke="#888" stroke-width="0.5"/>
<line x1="147.51" y1="464.4" x2="147.51" y2="466" stroke="#888" stroke-width="0.5"/>
<line x1="153.74" y1="464.4" x2="153.74" y2="466" stroke="#888" stroke-width="0.5"/>
<line x1="159.97" y1="464.4" x2="159.97" y2="466" stroke="#888" stroke-width="0.5"/>
<line x1="166.2" y1="464.4" x2="166.2" y2="466" stroke="#888" stroke-width="0.5"/>
<line x1="37" y1="464.4" x2="38.5" y2="464.4" stroke="#777" stroke-width="0.5"/>
<text x="36.3" y="466.3" font-size="5.3" fill="#333" stroke="#333" stroke-width="0.1" text-anchor="end">0</text>
<line x1="37" y1="452.54" x2="38.5" y2="452.54" stroke="#777" stroke-width="0.5"/>
<text x="36.3" y="454.44" font-size="5.3" fill="#333" stroke="#333" stroke-width="0.1" text-anchor="end">10</text>
<line x1="37" y1="440.68" x2="38.5" y2="440.68" stroke="#777" stroke-width="0.5"/>
<text x="36.3" y="442.58" font-size="5.3" fill="#333" stroke="#333" stroke-width="0.1" text-anchor="end">20</text>
<line x1="37" y1="428.82" x2="38.5" y2="428.82" stroke="#777" stroke-width="0.5"/>
<text x="36.3" y="430.72" font-size="5.3" fill="#333" stroke="#333" stroke-width="0.1" text-anchor="end">30</text>
<line x1="37" y1="416.96" x2="38.5" y2="416.96" stroke="#777" stroke-width="0.5"/>
<text x="36.3" y="418.86" font-size="5.3" fill="#333" stroke="#333" stroke-width="0.1" text-anchor="end">40</text>
<line x1="37" y1="405.1" x2="38.5" y2="405.1" stroke="#777" stroke-width="0.5"/>
<text x="36.3" y="407" font-size="5.3" fill="#333" stroke="#333" stroke-width="0.1" text-anchor="end">50</text>
<line x1="66" y1="402.9" x2="78.8" y2="402.9" stroke="#666" stroke-width="1.5"/>
<line x1="152" y1="404.3" x2="160" y2="404.3" stroke="#3db595" stroke-width="1.5"/>
<rect x="104.3" y="471.4" width="64.4" height="64.2" fill="#d9d9d9"/>
<polygon points="41.6,531.3 47.8,520 54.1,505.8 60.3,497.6 66.5,501.1 72.8,504.7 79,504.7 85.2,504.7 91.4,508.2 97.7,521.1 103.9,521.1 110.1,522.3 116.4,516.4 122.6,514.1 128.8,521.1 135.1,516.4 141.3,512.9 147.5,512.9 153.7,516.4 160,518.8 166.2,515.3 166.2,523 160,526.5 153.7,524.2 147.5,520.7 141.3,520.7 135.1,524.2 128.8,528.9 122.6,521.8 116.4,524.2 110.1,530.1 103.9,528.9 97.7,528.9 91.4,516 85.2,512.4 79,512.4 72.8,512.4 66.5,508.9 60.3,505.4 54.1,513.6 47.8,527.7 41.6,535.2" fill="#3db595" fill-opacity="0.16"/>
<polygon points="41.6,529.3 47.8,522.3 54.1,508.2 60.3,495.3 66.5,502.3 72.8,505.8 79,509.4 85.2,509.4 91.4,510.6 97.7,520 103.9,522.3 110.1,522.3 116.4,517.6 122.6,517.6 128.8,520 135.1,517.6 141.3,515.3 147.5,514.1 153.7,515.3 160,517.6 166.2,511.7 166.2,519.5 160,525.4 153.7,523 147.5,521.8 141.3,523 135.1,525.4 128.8,527.7 122.6,525.4 116.4,525.4 110.1,530.1 103.9,530.1 97.7,527.7 91.4,518.3 85.2,517.1 79,517.1 72.8,513.6 66.5,510.1 60.3,503 54.1,516 47.8,530.1 41.6,534.8" fill="#f6a628" fill-opacity="0.16"/>
<polygon points="41.6,533.3 47.8,522.3 54.1,502.3 60.3,507 66.5,507 72.8,509.4 79,505.8 85.2,514.1 91.4,510.6 97.7,524.7 103.9,523.5 110.1,522.3 116.4,520 122.6,520 128.8,521.1 135.1,518.8 141.3,517.6 147.5,518.8 153.7,517.6 160,518.8 166.2,516.4 166.2,524.2 160,526.5 153.7,525.4 147.5,526.5 141.3,525.4 135.1,526.5 128.8,528.9 122.6,527.7 116.4,527.7 110.1,530.1 103.9,531.2 97.7,532.4 91.4,518.3 85.2,521.8 79,513.6 72.8,517.1 66.5,514.8 60.3,514.8 54.1,510.1 47.8,530.1 41.6,535.6" fill="#dc2f4e" fill-opacity="0.16"/>
<polygon points="41.6,524.7 47.8,502.3 54.1,500 60.3,498.8 66.5,501.1 72.8,503.5 79,505.8 85.2,507 91.4,511.7 97.7,521.1 103.9,521.1 110.1,521.1 116.4,518.8 122.6,520 128.8,521.1 135.1,517.6 141.3,512.9 147.5,515.3 153.7,515.3 160,520 166.2,514.1 166.2,521.8 160,527.7 153.7,523 147.5,523 141.3,520.7 135.1,525.4 128.8,528.9 122.6,527.7 116.4,526.5 110.1,528.9 103.9,528.9 97.7,528.9 91.4,519.5 85.2,514.8 79,513.6 72.8,511.3 66.5,508.9 60.3,506.6 54.1,507.7 47.8,510.1 41.6,532.4" fill="#2f2ff5" fill-opacity="0.16"/>
<polyline points="41.6,533.2 47.8,523.8 54.1,509.7 60.3,501.5 66.5,505 72.8,508.6 79,508.6 85.2,508.6 91.4,512.1 97.7,525 103.9,525 110.1,526.2 116.4,520.3 122.6,518 128.8,525 135.1,520.3 141.3,516.8 147.5,516.8 153.7,520.3 160,522.7 166.2,519.1" fill="none" stroke="#3db595" stroke-width="1.15" stroke-linejoin="round"/>
<polyline points="41.6,532.1 47.8,526.2 54.1,512.1 60.3,499.1 66.5,506.2 72.8,509.7 79,513.3 85.2,513.3 91.4,514.4 97.7,523.8 103.9,526.2 110.1,526.2 116.4,521.5 122.6,521.5 128.8,523.8 135.1,521.5 141.3,519.1 147.5,518 153.7,519.1 160,521.5 166.2,515.6" fill="none" stroke="#f6a628" stroke-width="1.15" stroke-linejoin="round"/>
<polyline points="41.6,534.4 47.8,526.2 54.1,506.2 60.3,510.9 66.5,510.9 72.8,513.3 79,509.7 85.2,518 91.4,514.4 97.7,528.5 103.9,527.4 110.1,526.2 116.4,523.8 122.6,523.8 128.8,525 135.1,522.7 141.3,521.5 147.5,522.7 153.7,521.5 160,522.7 166.2,520.3" fill="none" stroke="#dc2f4e" stroke-width="1.15" stroke-linejoin="round"/>
<polyline points="41.6,528.5 47.8,506.2 54.1,503.8 60.3,502.7 66.5,505 72.8,507.4 79,509.7 85.2,510.9 91.4,515.6 97.7,525 103.9,525 110.1,525 116.4,522.7 122.6,523.8 128.8,525 135.1,521.5 141.3,516.8 147.5,519.1 153.7,519.1 160,523.8 166.2,518" fill="none" stroke="#2f2ff5" stroke-width="1.15" stroke-linejoin="round"/>
<rect x="38.5" y="471.4" width="130.2" height="64.2" fill="none" stroke="#9a9a9a" stroke-width="0.9"/>
<line x1="41.6" y1="535.6" x2="41.6" y2="537.2" stroke="#888" stroke-width="0.5"/>
<line x1="47.83" y1="535.6" x2="47.83" y2="537.2" stroke="#888" stroke-width="0.5"/>
<line x1="54.06" y1="535.6" x2="54.06" y2="537.2" stroke="#888" stroke-width="0.5"/>
<line x1="60.29" y1="535.6" x2="60.29" y2="537.2" stroke="#888" stroke-width="0.5"/>
<line x1="66.52" y1="535.6" x2="66.52" y2="537.2" stroke="#888" stroke-width="0.5"/>
<line x1="72.75" y1="535.6" x2="72.75" y2="537.2" stroke="#888" stroke-width="0.5"/>
<line x1="78.98" y1="535.6" x2="78.98" y2="537.2" stroke="#888" stroke-width="0.5"/>
<line x1="85.21" y1="535.6" x2="85.21" y2="537.2" stroke="#888" stroke-width="0.5"/>
<line x1="91.44" y1="535.6" x2="91.44" y2="537.2" stroke="#888" stroke-width="0.5"/>
<line x1="97.67" y1="535.6" x2="97.67" y2="537.2" stroke="#888" stroke-width="0.5"/>
<line x1="103.9" y1="535.6" x2="103.9" y2="537.2" stroke="#888" stroke-width="0.5"/>
<line x1="110.13" y1="535.6" x2="110.13" y2="537.2" stroke="#888" stroke-width="0.5"/>
<line x1="116.36" y1="535.6" x2="116.36" y2="537.2" stroke="#888" stroke-width="0.5"/>
<line x1="122.59" y1="535.6" x2="122.59" y2="537.2" stroke="#888" stroke-width="0.5"/>
<line x1="128.82" y1="535.6" x2="128.82" y2="537.2" stroke="#888" stroke-width="0.5"/>
<line x1="135.05" y1="535.6" x2="135.05" y2="537.2" stroke="#888" stroke-width="0.5"/>
<line x1="141.28" y1="535.6" x2="141.28" y2="537.2" stroke="#888" stroke-width="0.5"/>
<line x1="147.51" y1="535.6" x2="147.51" y2="537.2" stroke="#888" stroke-width="0.5"/>
<line x1="153.74" y1="535.6" x2="153.74" y2="537.2" stroke="#888" stroke-width="0.5"/>
<line x1="159.97" y1="535.6" x2="159.97" y2="537.2" stroke="#888" stroke-width="0.5"/>
<line x1="166.2" y1="535.6" x2="166.2" y2="537.2" stroke="#888" stroke-width="0.5"/>
<line x1="37" y1="535.6" x2="38.5" y2="535.6" stroke="#777" stroke-width="0.5"/>
<text x="36.3" y="537.5" font-size="5.3" fill="#333" stroke="#333" stroke-width="0.1" text-anchor="end">0</text>
<line x1="37" y1="523.84" x2="38.5" y2="523.84" stroke="#777" stroke-width="0.5"/>
<text x="36.3" y="525.74" font-size="5.3" fill="#333" stroke="#333" stroke-width="0.1" text-anchor="end">10</text>
<line x1="37" y1="512.08" x2="38.5" y2="512.08" stroke="#777" stroke-width="0.5"/>
<text x="36.3" y="513.98" font-size="5.3" fill="#333" stroke="#333" stroke-width="0.1" text-anchor="end">20</text>
<line x1="37" y1="500.32" x2="38.5" y2="500.32" stroke="#777" stroke-width="0.5"/>
<text x="36.3" y="502.22" font-size="5.3" fill="#333" stroke="#333" stroke-width="0.1" text-anchor="end">30</text>
<line x1="37" y1="488.56" x2="38.5" y2="488.56" stroke="#777" stroke-width="0.5"/>
<text x="36.3" y="490.46" font-size="5.3" fill="#333" stroke="#333" stroke-width="0.1" text-anchor="end">40</text>
<line x1="37" y1="476.8" x2="38.5" y2="476.8" stroke="#777" stroke-width="0.5"/>
<text x="36.3" y="478.7" font-size="5.3" fill="#333" stroke="#333" stroke-width="0.1" text-anchor="end">50</text>
<line x1="41.3" y1="474.2" x2="47.9" y2="474.2" stroke="#222" stroke-width="1.5"/>
<rect x="104.3" y="542.2" width="64.4" height="63.1" fill="#d9d9d9"/>
<polygon points="41.6,604.9 47.8,586.5 54.1,568.9 60.3,565.1 66.5,566.4 72.8,562.6 79,563.9 85.2,565.1 91.4,557.6 97.7,543.8 103.9,542.2 110.1,552.5 116.4,548.8 122.6,552.5 128.8,555.1 135.1,557.6 141.3,560.1 147.5,560.1 153.7,561.3 160,563.9 166.2,566.4 166.2,573.9 160,571.4 153.7,568.9 147.5,567.6 141.3,567.6 135.1,565.1 128.8,562.6 122.6,560.1 116.4,556.3 110.1,560.1 103.9,547.5 97.7,551.3 91.4,565.1 85.2,572.6 79,571.4 72.8,570.1 66.5,573.9 60.3,572.6 54.1,576.4 47.8,594 41.6,605.3" fill="#3db595" fill-opacity="0.16"/>
<polygon points="41.6,587.7 47.8,589 54.1,573.9 60.3,565.1 66.5,565.1 72.8,562.6 79,563.9 85.2,563.9 91.4,560.1 97.7,545 103.9,543.8 110.1,551.3 116.4,551.3 122.6,552.5 128.8,552.5 135.1,556.3 141.3,558.8 147.5,558.8 153.7,561.3 160,560.1 166.2,567.6 166.2,575.2 160,567.6 153.7,568.9 147.5,566.4 141.3,566.4 135.1,563.9 128.8,560.1 122.6,560.1 116.4,558.8 110.1,558.8 103.9,551.3 97.7,552.5 91.4,567.6 85.2,571.4 79,571.4 72.8,570.1 66.5,572.6 60.3,572.6 54.1,581.4 47.8,596.5 41.6,595.3" fill="#f6a628" fill-opacity="0.16"/>
<polygon points="41.6,604.9 47.8,590.2 54.1,576.4 60.3,575.2 66.5,576.4 72.8,576.4 79,575.2 85.2,571.4 91.4,567.6 97.7,550 103.9,555.1 110.1,558.8 116.4,562.6 122.6,562.6 128.8,566.4 135.1,565.1 141.3,566.4 147.5,565.1 153.7,566.4 160,566.4 166.2,567.6 166.2,575.2 160,573.9 153.7,573.9 147.5,572.6 141.3,573.9 135.1,572.6 128.8,573.9 122.6,570.1 116.4,570.1 110.1,566.4 103.9,562.6 97.7,557.6 91.4,575.2 85.2,578.9 79,582.7 72.8,583.9 66.5,583.9 60.3,582.7 54.1,583.9 47.8,597.8 41.6,605.3" fill="#dc2f4e" fill-opacity="0.16"/>
<polygon points="41.6,586.5 47.8,572 54.1,575.2 60.3,570.8 66.5,575.8 72.8,573.3 79,568.9 85.2,565.7 91.4,564.5 97.7,546.3 103.9,546.3 110.1,553.8 116.4,551.3 122.6,553.8 128.8,556.3 135.1,558.8 141.3,560.1 147.5,560.1 153.7,562.6 160,563.9 166.2,570.1 166.2,577.7 160,571.4 153.7,570.1 147.5,567.6 141.3,567.6 135.1,566.4 128.8,563.9 122.6,561.3 116.4,558.8 110.1,561.3 103.9,553.8 97.7,553.8 91.4,572 85.2,573.3 79,576.4 72.8,580.8 66.5,583.3 60.3,578.3 54.1,582.7 47.8,579.6 41.6,594" fill="#2f2ff5" fill-opacity="0.16"/>
<polyline points="41.6,605.3 47.8,590.2 54.1,572.6 60.3,568.9 66.5,570.1 72.8,566.4 79,567.6 85.2,568.9 91.4,561.3 97.7,547.5 103.9,543.8 110.1,556.3 116.4,552.5 122.6,556.3 128.8,558.8 135.1,561.3 141.3,563.9 147.5,563.9 153.7,565.1 160,567.6 166.2,570.1" fill="none" stroke="#3db595" stroke-width="1.15" stroke-linejoin="round"/>
<polyline points="41.6,591.5 47.8,592.7 54.1,577.7 60.3,568.9 66.5,568.9 72.8,566.4 79,567.6 85.2,567.6 91.4,563.9 97.7,548.8 103.9,547.5 110.1,555.1 116.4,555.1 122.6,556.3 128.8,556.3 135.1,560.1 141.3,562.6 147.5,562.6 153.7,565.1 160,563.9 166.2,571.4" fill="none" stroke="#f6a628" stroke-width="1.15" stroke-linejoin="round"/>
<polyline points="41.6,605.3 47.8,594 54.1,580.2 60.3,578.9 66.5,580.2 72.8,580.2 79,578.9 85.2,575.2 91.4,571.4 97.7,553.8 103.9,558.8 110.1,562.6 116.4,566.4 122.6,566.4 128.8,570.1 135.1,568.9 141.3,570.1 147.5,568.9 153.7,570.1 160,570.1 166.2,571.4" fill="none" stroke="#dc2f4e" stroke-width="1.15" stroke-linejoin="round"/>
<polyline points="41.6,590.2 47.8,575.8 54.1,578.9 60.3,574.5 66.5,579.6 72.8,577 79,572.6 85.2,569.5 91.4,568.2 97.7,550 103.9,550 110.1,557.6 116.4,555.1 122.6,557.6 128.8,560.1 135.1,562.6 141.3,563.9 147.5,563.9 153.7,566.4 160,567.6 166.2,573.9" fill="none" stroke="#2f2ff5" stroke-width="1.15" stroke-linejoin="round"/>
<rect x="38.5" y="542.2" width="130.2" height="63.1" fill="none" stroke="#9a9a9a" stroke-width="0.9"/>
<line x1="41.6" y1="605.3" x2="41.6" y2="606.9" stroke="#888" stroke-width="0.5"/>
<line x1="47.83" y1="605.3" x2="47.83" y2="606.9" stroke="#888" stroke-width="0.5"/>
<line x1="54.06" y1="605.3" x2="54.06" y2="606.9" stroke="#888" stroke-width="0.5"/>
<line x1="60.29" y1="605.3" x2="60.29" y2="606.9" stroke="#888" stroke-width="0.5"/>
<line x1="66.52" y1="605.3" x2="66.52" y2="606.9" stroke="#888" stroke-width="0.5"/>
<line x1="72.75" y1="605.3" x2="72.75" y2="606.9" stroke="#888" stroke-width="0.5"/>
<line x1="78.98" y1="605.3" x2="78.98" y2="606.9" stroke="#888" stroke-width="0.5"/>
<line x1="85.21" y1="605.3" x2="85.21" y2="606.9" stroke="#888" stroke-width="0.5"/>
<line x1="91.44" y1="605.3" x2="91.44" y2="606.9" stroke="#888" stroke-width="0.5"/>
<line x1="97.67" y1="605.3" x2="97.67" y2="606.9" stroke="#888" stroke-width="0.5"/>
<line x1="103.9" y1="605.3" x2="103.9" y2="606.9" stroke="#888" stroke-width="0.5"/>
<line x1="110.13" y1="605.3" x2="110.13" y2="606.9" stroke="#888" stroke-width="0.5"/>
<line x1="116.36" y1="605.3" x2="116.36" y2="606.9" stroke="#888" stroke-width="0.5"/>
<line x1="122.59" y1="605.3" x2="122.59" y2="606.9" stroke="#888" stroke-width="0.5"/>
<line x1="128.82" y1="605.3" x2="128.82" y2="606.9" stroke="#888" stroke-width="0.5"/>
<line x1="135.05" y1="605.3" x2="135.05" y2="606.9" stroke="#888" stroke-width="0.5"/>
<line x1="141.28" y1="605.3" x2="141.28" y2="606.9" stroke="#888" stroke-width="0.5"/>
<line x1="147.51" y1="605.3" x2="147.51" y2="606.9" stroke="#888" stroke-width="0.5"/>
<line x1="153.74" y1="605.3" x2="153.74" y2="606.9" stroke="#888" stroke-width="0.5"/>
<line x1="159.97" y1="605.3" x2="159.97" y2="606.9" stroke="#888" stroke-width="0.5"/>
<line x1="166.2" y1="605.3" x2="166.2" y2="606.9" stroke="#888" stroke-width="0.5"/>
<line x1="37" y1="605.3" x2="38.5" y2="605.3" stroke="#777" stroke-width="0.5"/>
<text x="36.3" y="607.2" font-size="5.3" fill="#333" stroke="#333" stroke-width="0.1" text-anchor="end">0</text>
<line x1="37" y1="592.74" x2="38.5" y2="592.74" stroke="#777" stroke-width="0.5"/>
<text x="36.3" y="594.64" font-size="5.3" fill="#333" stroke="#333" stroke-width="0.1" text-anchor="end">1</text>
<line x1="37" y1="580.18" x2="38.5" y2="580.18" stroke="#777" stroke-width="0.5"/>
<text x="36.3" y="582.08" font-size="5.3" fill="#333" stroke="#333" stroke-width="0.1" text-anchor="end">2</text>
<line x1="37" y1="567.62" x2="38.5" y2="567.62" stroke="#777" stroke-width="0.5"/>
<text x="36.3" y="569.52" font-size="5.3" fill="#333" stroke="#333" stroke-width="0.1" text-anchor="end">3</text>
<line x1="37" y1="555.06" x2="38.5" y2="555.06" stroke="#777" stroke-width="0.5"/>
<text x="36.3" y="556.96" font-size="5.3" fill="#333" stroke="#333" stroke-width="0.1" text-anchor="end">4</text>
<line x1="37" y1="542.5" x2="38.5" y2="542.5" stroke="#777" stroke-width="0.5"/>
<text x="36.3" y="544.4" font-size="5.3" fill="#333" stroke="#333" stroke-width="0.1" text-anchor="end">5</text>
<line x1="41.3" y1="545.4" x2="47.9" y2="545.4" stroke="#222" stroke-width="1.5"/>
<line x1="59.9" y1="546.8" x2="78.8" y2="546.8" stroke="#3db595" stroke-width="1.5"/>
<line x1="59.9" y1="548.3" x2="78.8" y2="548.3" stroke="#f6a628" stroke-width="1.5"/>
<rect x="104.3" y="653.3" width="64.4" height="64.1" fill="#d9d9d9"/>
<polygon points="41.6,717 47.8,715 54.1,717 60.3,707.5 66.5,699.1 72.8,694.4 79,695.5 85.2,696.7 91.4,701.5 97.7,706.3 103.9,707.5 110.1,706.3 116.4,705.1 122.6,705.1 128.8,706.3 135.1,705.1 141.3,703.9 147.5,703.9 153.7,702.7 160,702.7 166.2,701.5 166.2,709.4 160,710.6 153.7,710.6 147.5,711.8 141.3,711.8 135.1,713 128.8,714.2 122.6,713 116.4,713 110.1,714.2 103.9,715.4 97.7,714.2 91.4,709.4 85.2,704.6 79,703.4 72.8,702.2 66.5,707 60.3,715.4 54.1,717.4 47.8,717.4 41.6,717.4" fill="#3db595" fill-opacity="0.16"/>
<polygon points="41.6,717 47.8,717 54.1,717 60.3,709 66.5,702.7 72.8,699.1 79,700.3 85.2,701.5 91.4,705.1 97.7,707.5 103.9,709 110.1,707.5 116.4,707.5 122.6,706.3 128.8,707.5 135.1,707.5 141.3,709 147.5,707.5 153.7,706.3 160,706.3 166.2,705.1 166.2,713 160,714.2 153.7,714.2 147.5,715.4 141.3,716.2 135.1,715.4 128.8,715.4 122.6,714.2 116.4,715.4 110.1,715.4 103.9,716.2 97.7,715.4 91.4,713 85.2,709.4 79,708.2 72.8,707 66.5,710.6 60.3,716.2 54.1,717.4 47.8,717.4 41.6,717.4" fill="#f6a628" fill-opacity="0.16"/>
<polygon points="41.6,717 47.8,717 54.1,715 60.3,707.5 66.5,701.5 72.8,697.9 79,699.1 85.2,702.7 91.4,703.9 97.7,706.3 103.9,709 110.1,707.5 116.4,707.5 122.6,706.3 128.8,706.3 135.1,706.3 141.3,707.5 147.5,706.3 153.7,706.3 160,705.1 166.2,703.9 166.2,711.8 160,713 153.7,714.2 147.5,714.2 141.3,715.4 135.1,714.2 128.8,714.2 122.6,714.2 116.4,715.4 110.1,715.4 103.9,716.2 97.7,714.2 91.4,711.8 85.2,710.6 79,707 72.8,705.8 66.5,709.4 60.3,715.4 54.1,717.4 47.8,717.4 41.6,717.4" fill="#dc2f4e" fill-opacity="0.16"/>
<polygon points="41.6,709 47.8,706.3 54.1,705.1 60.3,703.9 66.5,702.7 72.8,701.5 79,701.5 85.2,696.7 91.4,701.5 97.7,706.3 103.9,709 110.1,710 116.4,703.9 122.6,708.1 128.8,706.3 135.1,705.1 141.3,706.3 147.5,706.3 153.7,707.5 160,706.3 166.2,703.9 166.2,711.8 160,714.2 153.7,715.4 147.5,714.2 141.3,714.2 135.1,713 128.8,714.2 122.6,716 116.4,711.8 110.1,716.4 103.9,716.2 97.7,714.2 91.4,709.4 85.2,704.6 79,709.4 72.8,709.4 66.5,710.6 60.3,711.8 54.1,713 47.8,714.2 41.6,716.2" fill="#2f2ff5" fill-opacity="0.16"/>
<polyline points="41.6,717.4 47.8,716.2 54.1,717.4 60.3,711.4 66.5,703.1 72.8,698.3 79,699.5 85.2,700.7 91.4,705.5 97.7,710.2 103.9,711.4 110.1,710.2 116.4,709 122.6,709 128.8,710.2 135.1,709 141.3,707.8 147.5,707.8 153.7,706.7 160,706.7 166.2,705.5" fill="none" stroke="#3db595" stroke-width="1.15" stroke-linejoin="round"/>
<polyline points="41.6,717.4 47.8,717.4 54.1,717.4 60.3,712.6 66.5,706.7 72.8,703.1 79,704.3 85.2,705.5 91.4,709 97.7,711.4 103.9,712.6 110.1,711.4 116.4,711.4 122.6,710.2 128.8,711.4 135.1,711.4 141.3,712.6 147.5,711.4 153.7,710.2 160,710.2 166.2,709" fill="none" stroke="#f6a628" stroke-width="1.15" stroke-linejoin="round"/>
<polyline points="41.6,717.4 47.8,717.4 54.1,716.2 60.3,711.4 66.5,705.5 72.8,701.9 79,703.1 85.2,706.7 91.4,707.8 97.7,710.2 103.9,712.6 110.1,711.4 116.4,711.4 122.6,710.2 128.8,710.2 135.1,710.2 141.3,711.4 147.5,710.2 153.7,710.2 160,709 166.2,707.8" fill="none" stroke="#dc2f4e" stroke-width="1.15" stroke-linejoin="round"/>
<polyline points="41.6,712.6 47.8,710.2 54.1,709 60.3,707.8 66.5,706.7 72.8,705.5 79,705.5 85.2,700.7 91.4,705.5 97.7,710.2 103.9,712.6 110.1,713.2 116.4,707.8 122.6,712 128.8,710.2 135.1,709 141.3,710.2 147.5,710.2 153.7,711.4 160,710.2 166.2,707.8" fill="none" stroke="#2f2ff5" stroke-width="1.15" stroke-linejoin="round"/>
<rect x="38.5" y="653.3" width="130.2" height="64.1" fill="none" stroke="#9a9a9a" stroke-width="0.9"/>
<line x1="41.6" y1="717.4" x2="41.6" y2="719" stroke="#888" stroke-width="0.5"/>
<line x1="47.83" y1="717.4" x2="47.83" y2="719" stroke="#888" stroke-width="0.5"/>
<line x1="54.06" y1="717.4" x2="54.06" y2="719" stroke="#888" stroke-width="0.5"/>
<line x1="60.29" y1="717.4" x2="60.29" y2="719" stroke="#888" stroke-width="0.5"/>
<line x1="66.52" y1="717.4" x2="66.52" y2="719" stroke="#888" stroke-width="0.5"/>
<line x1="72.75" y1="717.4" x2="72.75" y2="719" stroke="#888" stroke-width="0.5"/>
<line x1="78.98" y1="717.4" x2="78.98" y2="719" stroke="#888" stroke-width="0.5"/>
<line x1="85.21" y1="717.4" x2="85.21" y2="719" stroke="#888" stroke-width="0.5"/>
<line x1="91.44" y1="717.4" x2="91.44" y2="719" stroke="#888" stroke-width="0.5"/>
<line x1="97.67" y1="717.4" x2="97.67" y2="719" stroke="#888" stroke-width="0.5"/>
<line x1="103.9" y1="717.4" x2="103.9" y2="719" stroke="#888" stroke-width="0.5"/>
<line x1="110.13" y1="717.4" x2="110.13" y2="719" stroke="#888" stroke-width="0.5"/>
<line x1="116.36" y1="717.4" x2="116.36" y2="719" stroke="#888" stroke-width="0.5"/>
<line x1="122.59" y1="717.4" x2="122.59" y2="719" stroke="#888" stroke-width="0.5"/>
<line x1="128.82" y1="717.4" x2="128.82" y2="719" stroke="#888" stroke-width="0.5"/>
<line x1="135.05" y1="717.4" x2="135.05" y2="719" stroke="#888" stroke-width="0.5"/>
<line x1="141.28" y1="717.4" x2="141.28" y2="719" stroke="#888" stroke-width="0.5"/>
<line x1="147.51" y1="717.4" x2="147.51" y2="719" stroke="#888" stroke-width="0.5"/>
<line x1="153.74" y1="717.4" x2="153.74" y2="719" stroke="#888" stroke-width="0.5"/>
<line x1="159.97" y1="717.4" x2="159.97" y2="719" stroke="#888" stroke-width="0.5"/>
<line x1="166.2" y1="717.4" x2="166.2" y2="719" stroke="#888" stroke-width="0.5"/>
<line x1="37" y1="717.4" x2="38.5" y2="717.4" stroke="#777" stroke-width="0.5"/>
<text x="36.3" y="719.3" font-size="5.3" fill="#333" stroke="#333" stroke-width="0.1" text-anchor="end">0</text>
<line x1="37" y1="705.46" x2="38.5" y2="705.46" stroke="#777" stroke-width="0.5"/>
<text x="36.3" y="707.36" font-size="5.3" fill="#333" stroke="#333" stroke-width="0.1" text-anchor="end">10</text>
<line x1="37" y1="693.52" x2="38.5" y2="693.52" stroke="#777" stroke-width="0.5"/>
<text x="36.3" y="695.42" font-size="5.3" fill="#333" stroke="#333" stroke-width="0.1" text-anchor="end">20</text>
<line x1="37" y1="681.58" x2="38.5" y2="681.58" stroke="#777" stroke-width="0.5"/>
<text x="36.3" y="683.48" font-size="5.3" fill="#333" stroke="#333" stroke-width="0.1" text-anchor="end">30</text>
<line x1="37" y1="669.64" x2="38.5" y2="669.64" stroke="#777" stroke-width="0.5"/>
<text x="36.3" y="671.54" font-size="5.3" fill="#333" stroke="#333" stroke-width="0.1" text-anchor="end">40</text>
<line x1="37" y1="657.7" x2="38.5" y2="657.7" stroke="#777" stroke-width="0.5"/>
<text x="36.3" y="659.6" font-size="5.3" fill="#333" stroke="#333" stroke-width="0.1" text-anchor="end">50</text>
<line x1="47" y1="656" x2="54.3" y2="656" stroke="#333" stroke-width="1.5"/>
<rect x="104.3" y="724.7" width="64.4" height="63.9" fill="#d9d9d9"/>
<polygon points="41.6,788.2 47.8,788.2 54.1,788.2 60.3,786.3 66.5,778.9 72.8,763.7 79,753.2 85.2,750.9 91.4,753.2 97.7,763.7 103.9,763.7 110.1,761.4 116.4,763.7 122.6,760.2 128.8,761.4 135.1,763.7 141.3,761.4 147.5,763.7 153.7,760.2 160,764.9 166.2,756.7 166.2,764.4 160,772.6 153.7,767.9 147.5,771.4 141.3,769.1 135.1,771.4 128.8,769.1 122.6,767.9 116.4,771.4 110.1,769.1 103.9,771.4 97.7,771.4 91.4,760.9 85.2,758.6 79,760.9 72.8,771.4 66.5,786.6 60.3,788.6 54.1,788.6 47.8,788.6 41.6,788.6" fill="#3db595" fill-opacity="0.16"/>
<polygon points="41.6,788.2 47.8,788.2 54.1,788.2 60.3,786.3 66.5,777.7 72.8,761.4 79,749.7 85.2,746.2 91.4,750.9 97.7,763.7 103.9,756.7 110.1,763.7 116.4,762.6 122.6,757.9 128.8,759 135.1,763.7 141.3,766.1 147.5,756.7 153.7,761.4 160,767.2 166.2,755.5 166.2,763.3 160,774.9 153.7,769.1 147.5,764.4 141.3,773.8 135.1,771.4 128.8,766.8 122.6,765.6 116.4,770.3 110.1,771.4 103.9,764.4 97.7,771.4 91.4,758.6 85.2,753.9 79,757.4 72.8,769.1 66.5,785.4 60.3,788.6 54.1,788.6 47.8,788.6 41.6,788.6" fill="#f6a628" fill-opacity="0.16"/>
<polygon points="41.6,788.2 47.8,788.2 54.1,788.2 60.3,786.3 66.5,778.9 72.8,761.4 79,749.7 85.2,747.4 91.4,754.4 97.7,761.4 103.9,761.4 110.1,764.9 116.4,761.4 122.6,759 128.8,759 135.1,762.6 141.3,763.7 147.5,764.9 153.7,761.4 160,763.7 166.2,755.5 166.2,763.3 160,771.4 153.7,769.1 147.5,772.6 141.3,771.4 135.1,770.3 128.8,766.8 122.6,766.8 116.4,769.1 110.1,772.6 103.9,769.1 97.7,769.1 91.4,762.1 85.2,755.1 79,757.4 72.8,769.1 66.5,786.6 60.3,788.6 54.1,788.6 47.8,788.6 41.6,788.6" fill="#dc2f4e" fill-opacity="0.16"/>
<polygon points="41.6,775.4 47.8,740.4 54.1,741.5 60.3,745 66.5,748.5 72.8,753.2 79,753.2 85.2,753.2 91.4,760.2 97.7,764.9 103.9,770.7 110.1,769.6 116.4,767.2 122.6,770.7 128.8,763.7 135.1,766.1 141.3,766.1 147.5,762.6 153.7,767.2 160,769.6 166.2,759 166.2,766.8 160,777.3 153.7,774.9 147.5,770.3 141.3,773.8 135.1,773.8 128.8,771.4 122.6,778.4 116.4,774.9 110.1,777.3 103.9,778.4 97.7,772.6 91.4,767.9 85.2,760.9 79,760.9 72.8,760.9 66.5,756.2 60.3,752.7 54.1,749.2 47.8,748.1 41.6,783.1" fill="#2f2ff5" fill-opacity="0.16"/>
<polyline points="41.6,788.6 47.8,788.6 54.1,788.6 60.3,787.4 66.5,782.8 72.8,767.6 79,757.1 85.2,754.7 91.4,757.1 97.7,767.6 103.9,767.6 110.1,765.2 116.4,767.6 122.6,764.1 128.8,765.2 135.1,767.6 141.3,765.2 147.5,767.6 153.7,764.1 160,768.7 166.2,760.6" fill="none" stroke="#3db595" stroke-width="1.15" stroke-linejoin="round"/>
<polyline points="41.6,788.6 47.8,788.6 54.1,788.6 60.3,787.4 66.5,781.6 72.8,765.2 79,753.6 85.2,750.1 91.4,754.7 97.7,767.6 103.9,760.6 110.1,767.6 116.4,766.4 122.6,761.7 128.8,762.9 135.1,767.6 141.3,769.9 147.5,760.6 153.7,765.2 160,771.1 166.2,759.4" fill="none" stroke="#f6a628" stroke-width="1.15" stroke-linejoin="round"/>
<polyline points="41.6,788.6 47.8,788.6 54.1,788.6 60.3,787.4 66.5,782.8 72.8,765.2 79,753.6 85.2,751.2 91.4,758.2 97.7,765.2 103.9,765.2 110.1,768.7 116.4,765.2 122.6,762.9 128.8,762.9 135.1,766.4 141.3,767.6 147.5,768.7 153.7,765.2 160,767.6 166.2,759.4" fill="none" stroke="#dc2f4e" stroke-width="1.15" stroke-linejoin="round"/>
<polyline points="41.6,779.3 47.8,744.2 54.1,745.4 60.3,748.9 66.5,752.4 72.8,757.1 79,757.1 85.2,757.1 91.4,764.1 97.7,768.7 103.9,774.6 110.1,773.4 116.4,771.1 122.6,774.6 128.8,767.6 135.1,769.9 141.3,769.9 147.5,766.4 153.7,771.1 160,773.4 166.2,762.9" fill="none" stroke="#2f2ff5" stroke-width="1.15" stroke-linejoin="round"/>
<rect x="38.5" y="724.7" width="130.2" height="63.9" fill="none" stroke="#9a9a9a" stroke-width="0.9"/>
<line x1="41.6" y1="788.6" x2="41.6" y2="790.2" stroke="#888" stroke-width="0.5"/>
<line x1="47.83" y1="788.6" x2="47.83" y2="790.2" stroke="#888" stroke-width="0.5"/>
<line x1="54.06" y1="788.6" x2="54.06" y2="790.2" stroke="#888" stroke-width="0.5"/>
<line x1="60.29" y1="788.6" x2="60.29" y2="790.2" stroke="#888" stroke-width="0.5"/>
<line x1="66.52" y1="788.6" x2="66.52" y2="790.2" stroke="#888" stroke-width="0.5"/>
<line x1="72.75" y1="788.6" x2="72.75" y2="790.2" stroke="#888" stroke-width="0.5"/>
<line x1="78.98" y1="788.6" x2="78.98" y2="790.2" stroke="#888" stroke-width="0.5"/>
<line x1="85.21" y1="788.6" x2="85.21" y2="790.2" stroke="#888" stroke-width="0.5"/>
<line x1="91.44" y1="788.6" x2="91.44" y2="790.2" stroke="#888" stroke-width="0.5"/>
<line x1="97.67" y1="788.6" x2="97.67" y2="790.2" stroke="#888" stroke-width="0.5"/>
<line x1="103.9" y1="788.6" x2="103.9" y2="790.2" stroke="#888" stroke-width="0.5"/>
<line x1="110.13" y1="788.6" x2="110.13" y2="790.2" stroke="#888" stroke-width="0.5"/>
<line x1="116.36" y1="788.6" x2="116.36" y2="790.2" stroke="#888" stroke-width="0.5"/>
<line x1="122.59" y1="788.6" x2="122.59" y2="790.2" stroke="#888" stroke-width="0.5"/>
<line x1="128.82" y1="788.6" x2="128.82" y2="790.2" stroke="#888" stroke-width="0.5"/>
<line x1="135.05" y1="788.6" x2="135.05" y2="790.2" stroke="#888" stroke-width="0.5"/>
<line x1="141.28" y1="788.6" x2="141.28" y2="790.2" stroke="#888" stroke-width="0.5"/>
<line x1="147.51" y1="788.6" x2="147.51" y2="790.2" stroke="#888" stroke-width="0.5"/>
<line x1="153.74" y1="788.6" x2="153.74" y2="790.2" stroke="#888" stroke-width="0.5"/>
<line x1="159.97" y1="788.6" x2="159.97" y2="790.2" stroke="#888" stroke-width="0.5"/>
<line x1="166.2" y1="788.6" x2="166.2" y2="790.2" stroke="#888" stroke-width="0.5"/>
<line x1="37" y1="788.6" x2="38.5" y2="788.6" stroke="#777" stroke-width="0.5"/>
<text x="36.3" y="790.5" font-size="5.3" fill="#333" stroke="#333" stroke-width="0.1" text-anchor="end">0</text>
<line x1="37" y1="776.92" x2="38.5" y2="776.92" stroke="#777" stroke-width="0.5"/>
<text x="36.3" y="778.82" font-size="5.3" fill="#333" stroke="#333" stroke-width="0.1" text-anchor="end">10</text>
<line x1="37" y1="765.24" x2="38.5" y2="765.24" stroke="#777" stroke-width="0.5"/>
<text x="36.3" y="767.14" font-size="5.3" fill="#333" stroke="#333" stroke-width="0.1" text-anchor="end">20</text>
<line x1="37" y1="753.56" x2="38.5" y2="753.56" stroke="#777" stroke-width="0.5"/>
<text x="36.3" y="755.46" font-size="5.3" fill="#333" stroke="#333" stroke-width="0.1" text-anchor="end">30</text>
<line x1="37" y1="741.88" x2="38.5" y2="741.88" stroke="#777" stroke-width="0.5"/>
<text x="36.3" y="743.78" font-size="5.3" fill="#333" stroke="#333" stroke-width="0.1" text-anchor="end">40</text>
<line x1="37" y1="730.2" x2="38.5" y2="730.2" stroke="#777" stroke-width="0.5"/>
<text x="36.3" y="732.1" font-size="5.3" fill="#333" stroke="#333" stroke-width="0.1" text-anchor="end">50</text>
<line x1="41.3" y1="727.4" x2="72.6" y2="727.4" stroke="#222" stroke-width="1.5"/>
<line x1="90.7" y1="727.4" x2="110" y2="727.4" stroke="#222" stroke-width="1.5"/>
<line x1="133.8" y1="727.4" x2="141.1" y2="727.4" stroke="#222" stroke-width="1.5"/>
<rect x="104.3" y="795.8" width="64.4" height="62.7" fill="#d9d9d9"/>
<polygon points="41.6,858.1 47.8,858.1 54.1,858.1 60.3,855 66.5,851.9 72.8,847.2 79,841 85.2,836 91.4,831 97.7,824.8 103.9,812.2 110.1,811 116.4,809.8 122.6,811 128.8,813.5 135.1,812.2 141.3,811 147.5,809.8 153.7,811 160,816 166.2,823.5 166.2,831 160,823.5 153.7,818.5 147.5,817.2 141.3,818.5 135.1,819.8 128.8,821 122.6,818.5 116.4,817.2 110.1,818.5 103.9,819.8 97.7,832.2 91.4,838.5 85.2,843.5 79,848.5 72.8,854.8 66.5,857.6 60.3,858.2 54.1,858.5 47.8,858.5 41.6,858.5" fill="#3db595" fill-opacity="0.16"/>
<polygon points="41.6,858.1 47.8,858.1 54.1,858.1 60.3,851.9 66.5,850.8 72.8,846 79,841 85.2,836 91.4,831 97.7,826 103.9,818.5 110.1,816 116.4,816 122.6,816 128.8,817.2 135.1,817.2 141.3,817.2 147.5,818.5 153.7,818.5 160,822.2 166.2,824.8 166.2,832.2 160,829.8 153.7,826 147.5,826 141.3,824.8 135.1,824.8 128.8,824.8 122.6,823.5 116.4,823.5 110.1,823.5 103.9,826 97.7,833.5 91.4,838.5 85.2,843.5 79,848.5 72.8,853.5 66.5,857.4 60.3,857.6 54.1,858.5 47.8,858.5 41.6,858.5" fill="#f6a628" fill-opacity="0.16"/>
<polygon points="41.6,858.1 47.8,858.1 54.1,858.1 60.3,854 66.5,850.8 72.8,847.2 79,842.2 85.2,838.5 91.4,834.8 97.7,829.8 103.9,819.8 110.1,817.2 116.4,822.2 122.6,817.2 128.8,822.2 135.1,819.8 141.3,821 147.5,822.2 153.7,817.2 160,822.2 166.2,826 166.2,833.5 160,829.8 153.7,824.8 147.5,829.8 141.3,828.5 135.1,827.2 128.8,829.8 122.6,824.8 116.4,829.8 110.1,824.8 103.9,827.2 97.7,837.2 91.4,842.2 85.2,846 79,849.8 72.8,854.8 66.5,857.4 60.3,858 54.1,858.5 47.8,858.5 41.6,858.5" fill="#dc2f4e" fill-opacity="0.16"/>
<polygon points="41.6,834.8 47.8,825.4 54.1,827.9 60.3,831 66.5,831 72.8,827.2 79,826 85.2,826 91.4,821 97.7,809.8 103.9,796 110.1,799.8 116.4,812.2 122.6,803.5 128.8,811 135.1,816 141.3,817.2 147.5,817.2 153.7,818.5 160,818.5 166.2,822.2 166.2,829.8 160,826 153.7,826 147.5,824.8 141.3,824.8 135.1,823.5 128.8,818.5 122.6,811 116.4,819.8 110.1,807.2 103.9,803.5 97.7,817.2 91.4,828.5 85.2,833.5 79,833.5 72.8,834.8 66.5,838.5 60.3,838.5 54.1,835.4 47.8,832.9 41.6,842.2" fill="#2f2ff5" fill-opacity="0.16"/>
<polyline points="41.6,858.5 47.8,858.5 54.1,858.5 60.3,856.6 66.5,854.8 72.8,851 79,844.8 85.2,839.8 91.4,834.8 97.7,828.5 103.9,816 110.1,814.8 116.4,813.5 122.6,814.8 128.8,817.2 135.1,816 141.3,814.8 147.5,813.5 153.7,814.8 160,819.8 166.2,827.2" fill="none" stroke="#3db595" stroke-width="1.15" stroke-linejoin="round"/>
<polyline points="41.6,858.5 47.8,858.5 54.1,858.5 60.3,854.8 66.5,854.1 72.8,849.8 79,844.8 85.2,839.8 91.4,834.8 97.7,829.8 103.9,822.2 110.1,819.8 116.4,819.8 122.6,819.8 128.8,821 135.1,821 141.3,821 147.5,822.2 153.7,822.2 160,826 166.2,828.5" fill="none" stroke="#f6a628" stroke-width="1.15" stroke-linejoin="round"/>
<polyline points="41.6,858.5 47.8,858.5 54.1,858.5 60.3,856 66.5,854.1 72.8,851 79,846 85.2,842.2 91.4,838.5 97.7,833.5 103.9,823.5 110.1,821 116.4,826 122.6,821 128.8,826 135.1,823.5 141.3,824.8 147.5,826 153.7,821 160,826 166.2,829.8" fill="none" stroke="#dc2f4e" stroke-width="1.15" stroke-linejoin="round"/>
<polyline points="41.6,838.5 47.8,829.1 54.1,831.6 60.3,834.8 66.5,834.8 72.8,831 79,829.8 85.2,829.8 91.4,824.8 97.7,813.5 103.9,799.8 110.1,803.5 116.4,816 122.6,807.2 128.8,814.8 135.1,819.8 141.3,821 147.5,821 153.7,822.2 160,822.2 166.2,826" fill="none" stroke="#2f2ff5" stroke-width="1.15" stroke-linejoin="round"/>
<rect x="38.5" y="795.8" width="130.2" height="62.7" fill="none" stroke="#9a9a9a" stroke-width="0.9"/>
<line x1="41.6" y1="858.5" x2="41.6" y2="860.1" stroke="#888" stroke-width="0.5"/>
<line x1="47.83" y1="858.5" x2="47.83" y2="860.1" stroke="#888" stroke-width="0.5"/>
<line x1="54.06" y1="858.5" x2="54.06" y2="860.1" stroke="#888" stroke-width="0.5"/>
<line x1="60.29" y1="858.5" x2="60.29" y2="860.1" stroke="#888" stroke-width="0.5"/>
<line x1="66.52" y1="858.5" x2="66.52" y2="860.1" stroke="#888" stroke-width="0.5"/>
<line x1="72.75" y1="858.5" x2="72.75" y2="860.1" stroke="#888" stroke-width="0.5"/>
<line x1="78.98" y1="858.5" x2="78.98" y2="860.1" stroke="#888" stroke-width="0.5"/>
<line x1="85.21" y1="858.5" x2="85.21" y2="860.1" stroke="#888" stroke-width="0.5"/>
<line x1="91.44" y1="858.5" x2="91.44" y2="860.1" stroke="#888" stroke-width="0.5"/>
<line x1="97.67" y1="858.5" x2="97.67" y2="860.1" stroke="#888" stroke-width="0.5"/>
<line x1="103.9" y1="858.5" x2="103.9" y2="860.1" stroke="#888" stroke-width="0.5"/>
<line x1="110.13" y1="858.5" x2="110.13" y2="860.1" stroke="#888" stroke-width="0.5"/>
<line x1="116.36" y1="858.5" x2="116.36" y2="860.1" stroke="#888" stroke-width="0.5"/>
<line x1="122.59" y1="858.5" x2="122.59" y2="860.1" stroke="#888" stroke-width="0.5"/>
<line x1="128.82" y1="858.5" x2="128.82" y2="860.1" stroke="#888" stroke-width="0.5"/>
<line x1="135.05" y1="858.5" x2="135.05" y2="860.1" stroke="#888" stroke-width="0.5"/>
<line x1="141.28" y1="858.5" x2="141.28" y2="860.1" stroke="#888" stroke-width="0.5"/>
<line x1="147.51" y1="858.5" x2="147.51" y2="860.1" stroke="#888" stroke-width="0.5"/>
<line x1="153.74" y1="858.5" x2="153.74" y2="860.1" stroke="#888" stroke-width="0.5"/>
<line x1="159.97" y1="858.5" x2="159.97" y2="860.1" stroke="#888" stroke-width="0.5"/>
<line x1="166.2" y1="858.5" x2="166.2" y2="860.1" stroke="#888" stroke-width="0.5"/>
<line x1="37" y1="858.5" x2="38.5" y2="858.5" stroke="#777" stroke-width="0.5"/>
<text x="36.3" y="860.4" font-size="5.3" fill="#333" stroke="#333" stroke-width="0.1" text-anchor="end">0</text>
<line x1="37" y1="846" x2="38.5" y2="846" stroke="#777" stroke-width="0.5"/>
<text x="36.3" y="847.9" font-size="5.3" fill="#333" stroke="#333" stroke-width="0.1" text-anchor="end">1</text>
<line x1="37" y1="833.5" x2="38.5" y2="833.5" stroke="#777" stroke-width="0.5"/>
<text x="36.3" y="835.4" font-size="5.3" fill="#333" stroke="#333" stroke-width="0.1" text-anchor="end">2</text>
<line x1="37" y1="821" x2="38.5" y2="821" stroke="#777" stroke-width="0.5"/>
<text x="36.3" y="822.9" font-size="5.3" fill="#333" stroke="#333" stroke-width="0.1" text-anchor="end">3</text>
<line x1="37" y1="808.5" x2="38.5" y2="808.5" stroke="#777" stroke-width="0.5"/>
<text x="36.3" y="810.4" font-size="5.3" fill="#333" stroke="#333" stroke-width="0.1" text-anchor="end">4</text>
<line x1="37" y1="796" x2="38.5" y2="796" stroke="#777" stroke-width="0.5"/>
<text x="36.3" y="797.9" font-size="5.3" fill="#333" stroke="#333" stroke-width="0.1" text-anchor="end">5</text>
<line x1="41.3" y1="798.4" x2="85.4" y2="798.4" stroke="#222" stroke-width="1.5"/>
<line x1="104.5" y1="798.4" x2="110.5" y2="798.4" stroke="#222" stroke-width="1.5"/>
<line x1="122" y1="798.4" x2="128.5" y2="798.4" stroke="#222" stroke-width="1.5"/>
<text x="2.5" y="134.3" font-size="12" fill="#111" stroke="#111" stroke-width="0.22">MDT-hM3Dq</text>
<text x="2.5" y="385.5" font-size="12" fill="#111" stroke="#111" stroke-width="0.22">VPT-hM3Dq</text>
<text x="2.5" y="636.8" font-size="12" fill="#111" stroke="#111" stroke-width="0.22">VMT-hM3Dq</text>
<text x="18.2" y="151.5" font-size="14" fill="#111" stroke="#111" stroke-width="0.25">B</text>
<text x="18.3" y="223.8" font-size="14" fill="#111" stroke="#111" stroke-width="0.25">C</text>
<text x="18.6" y="292.5" font-size="14" fill="#111" stroke="#111" stroke-width="0.25">D</text>
<text x="18.6" y="402.8" font-size="14" fill="#111" stroke="#111" stroke-width="0.25">H</text>
<text x="17" y="545.5" font-size="14" fill="#111" stroke="#111" stroke-width="0.25">J</text>
<text x="18.6" y="655.5" font-size="14" fill="#111" stroke="#111" stroke-width="0.25">N</text>
<text x="18.3" y="727.3" font-size="14" fill="#111" stroke="#111" stroke-width="0.25">O</text>
<text x="18.6" y="797.4" font-size="14" fill="#111" stroke="#111" stroke-width="0.25">P</text>
<line x1="20.9" y1="464.6" x2="20.9" y2="474.4" stroke="#111" stroke-width="1.1"/>
<line x1="19" y1="464.8" x2="22.8" y2="464.8" stroke="#111" stroke-width="0.9"/>
<line x1="19" y1="474" x2="22.8" y2="474" stroke="#111" stroke-width="0.9"/>
<text x="9.3" y="216.5" font-size="11.6" fill="#111" stroke="#111" stroke-width="0.21" text-anchor="middle" transform="rotate(-90 9.3 216.5)">NREM sleep</text>
<line x1="11.3" y1="168.6" x2="11.3" y2="263" stroke="#555" stroke-width="0.9"/>
<text x="20.2" y="181" font-size="10.5" fill="#111" stroke="#111" stroke-width="0.19" text-anchor="middle" transform="rotate(-90 20.2 181)">light</text>
<text x="20.3" y="254" font-size="9.5" fill="#111" stroke="#111" stroke-width="0.17" text-anchor="middle" transform="rotate(-90 20.3 254)">deep</text>
<text x="26.8" y="185.5" font-size="6.1" fill="#222" stroke="#222" stroke-width="0.11" text-anchor="middle" transform="rotate(-90 26.8 185.5)">Time in state [min]</text>
<text x="26.8" y="255.5" font-size="6.1" fill="#222" stroke="#222" stroke-width="0.11" text-anchor="middle" transform="rotate(-90 26.8 255.5)">Time in state [min]</text>
<text x="26" y="332" font-size="6.2" fill="#222" stroke="#222" stroke-width="0.11" text-anchor="middle" transform="rotate(-90 26 332)">Spindle density [1/min]</text>
<text x="43.9" y="357.5" font-size="6" fill="#222" stroke="#222" stroke-width="0.11" text-anchor="end" transform="rotate(-45 43.9 357.5)">12 am</text>
<text x="62.59" y="357.5" font-size="6" fill="#222" stroke="#222" stroke-width="0.11" text-anchor="end" transform="rotate(-45 62.59 357.5)">3 pm</text>
<text x="81.28" y="357.5" font-size="6" fill="#222" stroke="#222" stroke-width="0.11" text-anchor="end" transform="rotate(-45 81.28 357.5)">6 pm</text>
<text x="99.97" y="357.5" font-size="6" fill="#222" stroke="#222" stroke-width="0.11" text-anchor="end" transform="rotate(-45 99.97 357.5)">9 pm</text>
<text x="118.66" y="357.5" font-size="6" fill="#222" stroke="#222" stroke-width="0.11" text-anchor="end" transform="rotate(-45 118.66 357.5)">12 pm</text>
<text x="137.35" y="357.5" font-size="6" fill="#222" stroke="#222" stroke-width="0.11" text-anchor="end" transform="rotate(-45 137.35 357.5)">3 am</text>
<text x="156.04" y="357.5" font-size="6" fill="#222" stroke="#222" stroke-width="0.11" text-anchor="end" transform="rotate(-45 156.04 357.5)">6 am</text>
<text x="102" y="376.5" font-size="6.1" fill="#222" stroke="#222" stroke-width="0.11" text-anchor="middle">Time of the day</text>
<text x="9.3" y="467.8" font-size="11.6" fill="#111" stroke="#111" stroke-width="0.21" text-anchor="middle" transform="rotate(-90 9.3 467.8)">NREM sleep</text>
<line x1="11.3" y1="419.9" x2="11.3" y2="514.3" stroke="#555" stroke-width="0.9"/>
<text x="20.2" y="432.3" font-size="10.5" fill="#111" stroke="#111" stroke-width="0.19" text-anchor="middle" transform="rotate(-90 20.2 432.3)">light</text>
<text x="20.3" y="505.3" font-size="9.5" fill="#111" stroke="#111" stroke-width="0.17" text-anchor="middle" transform="rotate(-90 20.3 505.3)">deep</text>
<text x="26.8" y="436.8" font-size="6.1" fill="#222" stroke="#222" stroke-width="0.11" text-anchor="middle" transform="rotate(-90 26.8 436.8)">Time in state [min]</text>
<text x="26.8" y="506.8" font-size="6.1" fill="#222" stroke="#222" stroke-width="0.11" text-anchor="middle" transform="rotate(-90 26.8 506.8)">Time in state [min]</text>
<text x="26" y="583.3" font-size="6.2" fill="#222" stroke="#222" stroke-width="0.11" text-anchor="middle" transform="rotate(-90 26 583.3)">Spindle density [1/min]</text>
<text x="43.9" y="608.8" font-size="6" fill="#222" stroke="#222" stroke-width="0.11" text-anchor="end" transform="rotate(-45 43.9 608.8)">12 am</text>
<text x="62.59" y="608.8" font-size="6" fill="#222" stroke="#222" stroke-width="0.11" text-anchor="end" transform="rotate(-45 62.59 608.8)">3 pm</text>
<text x="81.28" y="608.8" font-size="6" fill="#222" stroke="#222" stroke-width="0.11" text-anchor="end" transform="rotate(-45 81.28 608.8)">6 pm</text>
<text x="99.97" y="608.8" font-size="6" fill="#222" stroke="#222" stroke-width="0.11" text-anchor="end" transform="rotate(-45 99.97 608.8)">9 pm</text>
<text x="118.66" y="608.8" font-size="6" fill="#222" stroke="#222" stroke-width="0.11" text-anchor="end" transform="rotate(-45 118.66 608.8)">12 pm</text>
<text x="137.35" y="608.8" font-size="6" fill="#222" stroke="#222" stroke-width="0.11" text-anchor="end" transform="rotate(-45 137.35 608.8)">3 am</text>
<text x="156.04" y="608.8" font-size="6" fill="#222" stroke="#222" stroke-width="0.11" text-anchor="end" transform="rotate(-45 156.04 608.8)">6 am</text>
<text x="102" y="627.8" font-size="6.1" fill="#222" stroke="#222" stroke-width="0.11" text-anchor="middle">Time of the day</text>
<text x="9.3" y="721.4" font-size="11.6" fill="#111" stroke="#111" stroke-width="0.21" text-anchor="middle" transform="rotate(-90 9.3 721.4)">NREM sleep</text>
<line x1="11.3" y1="673.5" x2="11.3" y2="767.9" stroke="#555" stroke-width="0.9"/>
<text x="20.2" y="685.9" font-size="10.5" fill="#111" stroke="#111" stroke-width="0.19" text-anchor="middle" transform="rotate(-90 20.2 685.9)">light</text>
<text x="20.3" y="758.9" font-size="9.5" fill="#111" stroke="#111" stroke-width="0.17" text-anchor="middle" transform="rotate(-90 20.3 758.9)">deep</text>
<text x="26.8" y="690.4" font-size="6.1" fill="#222" stroke="#222" stroke-width="0.11" text-anchor="middle" transform="rotate(-90 26.8 690.4)">Time in state [min]</text>
<text x="26.8" y="760.4" font-size="6.1" fill="#222" stroke="#222" stroke-width="0.11" text-anchor="middle" transform="rotate(-90 26.8 760.4)">Time in state [min]</text>
<text x="26" y="836.9" font-size="6.2" fill="#222" stroke="#222" stroke-width="0.11" text-anchor="middle" transform="rotate(-90 26 836.9)">Spindle density [1/min]</text>
<text x="43.9" y="862.4" font-size="6" fill="#222" stroke="#222" stroke-width="0.11" text-anchor="end" transform="rotate(-45 43.9 862.4)">12 am</text>
<text x="62.59" y="862.4" font-size="6" fill="#222" stroke="#222" stroke-width="0.11" text-anchor="end" transform="rotate(-45 62.59 862.4)">3 pm</text>
<text x="81.28" y="862.4" font-size="6" fill="#222" stroke="#222" stroke-width="0.11" text-anchor="end" transform="rotate(-45 81.28 862.4)">6 pm</text>
<text x="99.97" y="862.4" font-size="6" fill="#222" stroke="#222" stroke-width="0.11" text-anchor="end" transform="rotate(-45 99.97 862.4)">9 pm</text>
<text x="118.66" y="862.4" font-size="6" fill="#222" stroke="#222" stroke-width="0.11" text-anchor="end" transform="rotate(-45 118.66 862.4)">12 pm</text>
<text x="137.35" y="862.4" font-size="6" fill="#222" stroke="#222" stroke-width="0.11" text-anchor="end" transform="rotate(-45 137.35 862.4)">3 am</text>
<text x="156.04" y="862.4" font-size="6" fill="#222" stroke="#222" stroke-width="0.11" text-anchor="end" transform="rotate(-45 156.04 862.4)">6 am</text>
<text x="102" y="881.4" font-size="6.1" fill="#222" stroke="#222" stroke-width="0.11" text-anchor="middle">Time of the day</text>
<text x="163.5" y="157.5" font-size="7" fill="#2222ee" text-anchor="end" font-weight="bold">vehicle</text>
<text x="163.5" y="166.2" font-size="7" fill="#d3283f" stroke="#d3283f" stroke-width="0.13" text-anchor="end">DCZ</text>
<text x="163.5" y="174.9" font-size="7" fill="#f0952a" stroke="#f0952a" stroke-width="0.13" text-anchor="end">Gaboxadol + DCZ</text>
<text x="163.5" y="183.6" font-size="7" fill="#25a385" stroke="#25a385" stroke-width="0.13" text-anchor="end">DS-2 + DCZ</text>
<text x="173.4" y="151.9" font-size="14" fill="#111" stroke="#111" stroke-width="0.25">E</text>
<line x1="187.3" y1="154.5" x2="187.3" y2="358" stroke="#c8c8c8" stroke-width="0.9"/>
<text x="183" y="250.5" font-size="9" fill="#111" stroke="#111" stroke-width="0.16" text-anchor="middle" transform="rotate(-90 183 250.5)">NREM sleep</text>
<text x="193" y="150.8" font-size="7.3" fill="#222" stroke="#222" stroke-width="0.13">vehicle</text>
<polyline points="195,162.3 195.5,161.9 195.9,163.2 196.4,162.9 196.8,160.5 197.3,161.6 197.7,164.5 198.2,162.2 198.7,159.1 199.1,162.9 199.6,165.9 200,158.6 200.5,158 200.9,164.6 201.4,163.2 201.9,156.4 202.3,162.9 202.8,168.8 203.2,160.9 203.7,157 204.1,167.3 204.6,167.4 205.1,157.7 205.5,160.5 206,165.6 206.4,162.1 206.9,154.8 207.3,162.3 207.8,165.2 208.3,159.9 208.7,161.2 209.2,166.5 209.6,165.2 210.1,163 210.6,164.8 211,167.6 211.5,164.9 211.9,164.5 212.4,166.2 212.8,165.8 213.3,166 213.8,169.7 214.2,171.6 214.7,170.5 215.1,168.2 215.6,167.7 216,166.6 216.5,166.6 217,166.4 217.4,165.6 217.9,165.1 218.3,163.2 218.8,163.5 219.2,164.6 219.7,163.7 220.2,162.7 220.6,163.4 221.1,163.8 221.5,164.1 222,163.8 222.4,162.9 222.9,164.5 223.4,163.6 223.8,163.1 224.3,162.5 224.7,161.9 225.2,160.1 225.6,162.3 226.1,162.9 226.6,162.5 227,165.5 227.5,164.7 227.9,162.9 228.4,164.1 228.8,165.9 229.3,166.7 229.8,164.1 230.2,164.4 230.7,163.7 231.1,165 231.6,162.6 232,161.8 232.5,160.9 233,159.9 233.4,160.9 233.9,161.3 234.3,161.6 234.8,162.1 235.3,161.4 235.7,162.4 236.2,161.8 236.6,163.8 237.1,163.5 237.5,163.2 238,161.5 238.5,161.3 238.9,161.3 239.4,159.4 239.8,160.1 240.3,164.3 240.7,164.8 241.2,163.1 241.7,161.3 242.1,164.9 242.6,162.6 243,158.4 243.5,162.7 243.9,166.1 244.4,159.8 244.9,157 245.3,161.9 245.8,164.6 246.2,158 246.7,153.3 247.1,161.6 247.6,163.7 248.1,159.3 248.5,156.2 249,161.3 249.4,160.3 249.9,153.9 250.3,155.7 250.8,162 251.3,160.7 251.7,159.1 252.2,159.9 252.6,163.1 253.1,162.4 253.5,159 254,165.1 254.5,165.8 254.9,164.4 255.4,162.8 255.8,163.5 256.3,165.2 256.7,162 257.2,162.1 257.7,161.8 258.1,162.3 258.6,161 259,161.3 259.5,160.2 260,160.4 260.4,160.4 260.9,160.2 261.3,158.8 261.8,159.8 262.2,159.4 262.7,159.7 263.2,161.2 263.6,162.5 264.1,160.7 264.5,159.4 265,159.7 265.4,160.8 265.9,163.4 266.4,162.5 266.8,161.8 267.3,159.2 267.7,160.3 268.2,161 268.6,162.3 269.1,162.8 269.6,163.4 270,163.2 270.5,162.9 270.9,165.3 271.4,165.3 271.8,165.7 272.3,161.3 272.8,160.1 273.2,161.8 273.7,163.5 274.1,160.3 274.6,159.1 275,164.3 275.5,168 276,163 276.4,161 276.9,164.2 277.3,169 277.8,166.8 278.2,162.5 278.7,162.1 279.2,163.8 279.6,163.5 280.1,164.3 280.5,162.1 281,161.1 281.4,162.7 281.9,162.7 282.4,163.8 282.8,165 283.3,164.3 283.7,164.6 284.2,164.2 284.7,165.3 285.1,166.3 285.6,164.8 286,163.4 286.5,163 286.9,162.6 287.4,163.8 287.9,162.6 288.3,163.4 288.8,161.5 289.2,162.7 289.7,164.1 290.1,165.7 290.6,165.7 291.1,166 291.5,164.7 292,163.9 292.4,164.5 292.9,163.3 293.3,163.1 293.8,162.4 294.3,163.9 294.7,163.8 295.2,165.3 295.6,163.7 296.1,162.6 296.5,164.5 297,164.1" fill="none" stroke="#333" stroke-width="0.86" stroke-linejoin="round"/>
<text x="298.5" y="175.3" font-size="7.8" fill="#222" stroke="#222" stroke-width="0.14" text-anchor="end">frontal</text>
<polyline points="195,186.3 195.5,186.4 195.9,185.6 196.4,186.9 196.8,188.2 197.3,189.4 197.7,187.5 198.2,186.7 198.7,186.9 199.1,187.4 199.6,189.2 200,188.9 200.5,185.9 200.9,181.7 201.4,182.2 201.9,183.6 202.3,185.4 202.8,187.9 203.2,186.4 203.7,184.3 204.1,184.8 204.6,183.4 205.1,183.2 205.5,183.7 206,186.1 206.4,187.1 206.9,188.4 207.3,188 207.8,187.8 208.3,187.4 208.7,187.8 209.2,186.8 209.6,188 210.1,186.6 210.6,185.4 211,185.1 211.5,188.1 211.9,189.5 212.4,191.1 212.8,192.8 213.3,193.7 213.8,196 214.2,195.6 214.7,193.7 215.1,190.6 215.6,188.7 216,187.7 216.5,185 217,182.9 217.4,182 217.9,182.9 218.3,184.6 218.8,184.6 219.2,184.6 219.7,183.2 220.2,181.7 220.6,181.6 221.1,181.6 221.5,181.5 222,180.8 222.4,181.6 222.9,182.3 223.4,183.7 223.8,185.1 224.3,186 224.7,185.3 225.2,184 225.6,183.7 226.1,182.8 226.6,184 227,185.7 227.5,187.4 227.9,187 228.4,186.6 228.8,186.6 229.3,186.1 229.8,185.2 230.2,185 230.7,184.5 231.1,186.7 231.6,187.3 232,187.9 232.5,188.9 233,192.2 233.4,192.6 233.9,191.8 234.3,190.8 234.8,188.8 235.3,186.8 235.7,186.5 236.2,184.8 236.6,184.8 237.1,184.7 237.5,186.5 238,187.4 238.5,186 238.9,185.8 239.4,185.6 239.8,185 240.3,183.6 240.7,184 241.2,184.4 241.7,184.5 242.1,183.3 242.6,183.6 243,185.8 243.5,186.2 243.9,183.5 244.4,184.5 244.9,186.2 245.3,182.1 245.8,179.4 246.2,183.2 246.7,188.4 247.1,183.8 247.6,182.3 248.1,186.8 248.5,190.5 249,184.8 249.4,182.7 249.9,188.5 250.3,190.3 250.8,185.8 251.3,184 251.7,187.4 252.2,189.3 252.6,186.6 253.1,186 253.5,187.8 254,187.3 254.5,186 254.9,185.7 255.4,185.3 255.8,184.6 256.3,184.7 256.7,185.2 257.2,184.8 257.7,185.1 258.1,185.1 258.6,185.7 259,184.9 259.5,185.9 260,186.8 260.4,185.6 260.9,185.1 261.3,183.7 261.8,184.1 262.2,184.8 262.7,186.1 263.2,185.9 263.6,186.5 264.1,186.7 264.5,187.8 265,186.4 265.4,186.1 265.9,186 266.4,184.6 266.8,184 267.3,183.5 267.7,184.7 268.2,184.5 268.6,184.4 269.1,182.5 269.6,183.5 270,183 270.5,182.2 270.9,182 271.4,183.1 271.8,184.5 272.3,184.8 272.8,184.2 273.2,183.6 273.7,182.4 274.1,182.9 274.6,182.3 275,181.9 275.5,182.3 276,183.8 276.4,182.9 276.9,184.6 277.3,184.4 277.8,185.2 278.2,185.9 278.7,186.5 279.2,185.6 279.6,184.6 280.1,184.4 280.5,186.7 281,187 281.4,188.4 281.9,186.6 282.4,186.3 282.8,185.4 283.3,184.4 283.7,185.2 284.2,186.7 284.7,189.1 285.1,189.3 285.6,187 286,185.2 286.5,183.4 286.9,183.6 287.4,182.9 287.9,183.2 288.3,184.1 288.8,184.7 289.2,183.5 289.7,184.3 290.1,185.9 290.6,187 291.1,185.7 291.5,184 292,183.2 292.4,183.9 292.9,185.8 293.3,186.5 293.8,185.3 294.3,184 294.7,181.9 295.2,181.9 295.6,183.2 296.1,186.7 296.5,185.4 297,185.8" fill="none" stroke="#2a9d9a" stroke-width="0.86" stroke-linejoin="round"/>
<text x="299.5" y="198" font-size="7.8" fill="#2a9d9a" stroke="#2a9d9a" stroke-width="0.14" text-anchor="end">parietal</text>
<text x="192.5" y="206.5" font-size="7" fill="#222" stroke="#222" stroke-width="0.13">DCZ</text>
<polyline points="193,221.3 193.5,220.3 193.9,218.9 194.4,218.4 194.8,219.7 195.3,220.2 195.7,219.5 196.2,219.2 196.7,218.2 197.1,218 197.6,219.2 198,219.4 198.5,219.8 199,219.6 199.4,218.6 199.9,218.2 200.3,217.6 200.8,218.6 201.2,219.3 201.7,218.6 202.2,218.3 202.6,218.7 203.1,219.3 203.5,219.3 204,220.4 204.4,220.5 204.9,220.6 205.4,220.2 205.8,219.5 206.3,219.8 206.7,218 207.2,218.9 207.6,220.7 208.1,220.7 208.6,219 209,217.8 209.5,218.2 209.9,218.8 210.4,220.4 210.9,220.6 211.3,219.8 211.8,219.6 212.2,218.8 212.7,219.4 213.1,220.5 213.6,220.3 214.1,219.6 214.5,219.2 215,219.2 215.4,218.9 215.9,219.8 216.3,220.1 216.8,220.2 217.3,219.3 217.7,218 218.2,217.6 218.6,218.3 219.1,219.2 219.6,218.7 220,217.8 220.5,217.3 220.9,218.5 221.4,219.2 221.8,220.1 222.3,220.4 222.8,219.6 223.2,218.2 223.7,218.7 224.1,219.7 224.6,220.5 225,221.6 225.5,220.6 226,219 226.4,218.6 226.9,218.6 227.3,219.5 227.8,219.4 228.2,219.4 228.7,219.2 229.2,219.9 229.6,220.1 230.1,219.5 230.5,219.4 231,218.9 231.5,220 231.9,219.6 232.4,219.2 232.8,219 233.3,218.8 233.7,218.9 234.2,219.8 234.7,219.4 235.1,220.1 235.6,219.7 236,219.5 236.5,218.4 236.9,218.1 237.4,220.1 237.9,220.2 238.3,220.5 238.8,219.5 239.2,218.9 239.7,218.9 240.2,218.5 240.6,218.3 241.1,218.3 241.5,218.8 242,217.7 242.4,217.9 242.9,217.6 243.4,217.2 243.8,218.3 244.3,218.5 244.7,218.2 245.2,217.8 245.6,217.6 246.1,217.9 246.6,218.1 247,219.2 247.5,219 247.9,219 248.4,219.5 248.8,219.6 249.3,219.2 249.8,218.6 250.2,217.4 250.7,217.8 251.1,218.2 251.6,219.4 252.1,219.3 252.5,219.5 253,218.9 253.4,218.7 253.9,219.5 254.3,219.6 254.8,219.2 255.3,217.4 255.7,218 256.2,220.5 256.6,219.2 257.1,218.4 257.5,216.8 258,217 258.5,219.6 258.9,220.7 259.4,222.1 259.8,220.6 260.3,218.3 260.8,218.6 261.2,218.5 261.7,221.5 262.1,222.2 262.6,219.9 263,219.4 263.5,218.1 264,217.3 264.4,219.6 264.9,221.1 265.3,221.1 265.8,220.2 266.2,218.2 266.7,218.4 267.2,218.7 267.6,220.1 268.1,221.5 268.5,222.3 269,221.7 269.4,218.8 269.9,217.6 270.4,218 270.8,220.1 271.3,219 271.7,218.6 272.2,218.3 272.7,218.3 273.1,219 273.6,220.2 274,219.9 274.5,218.9 274.9,218.1 275.4,216.4 275.9,220.2 276.3,222.5 276.8,222.7 277.2,220.2 277.7,219.3 278.1,218.1 278.6,218.1 279.1,218.9 279.5,218.4 280,219.3 280.4,218.3 280.9,218.8 281.4,218 281.8,217.9 282.3,218.5 282.7,219.3 283.2,219.3 283.6,219.1 284.1,219.6 284.6,220.1 285,219 285.5,219.8 285.9,219.5 286.4,219.5 286.8,218.8 287.3,218.3 287.8,217.7 288.2,218.4 288.7,217.7 289.1,218.8 289.6,218.3 290,219 290.5,220.9 291,219.8 291.4,218.4 291.9,219.1 292.3,219 292.8,219.4 293.3,220.6 293.7,220.2 294.2,221.3 294.6,220.7 295.1,218.6 295.5,218.8 296,218.8" fill="none" stroke="#222" stroke-width="0.86" stroke-linejoin="round"/>
<polyline points="193,241.7 193.5,241 193.9,240.6 194.4,240.7 194.8,240.8 195.3,240.3 195.7,240.4 196.2,240.8 196.7,241.2 197.1,242.1 197.6,241.2 198,241.6 198.5,242.1 199,241 199.4,240.7 199.9,241.8 200.3,242.5 200.8,242.1 201.2,241.5 201.7,241.1 202.2,240.5 202.6,240.5 203.1,241.3 203.5,241.8 204,241.6 204.4,240.8 204.9,240.7 205.4,239.4 205.8,239.7 206.3,240 206.7,241.4 207.2,241.3 207.6,240.4 208.1,240.2 208.6,240.8 209,241.4 209.5,242.3 209.9,243.3 210.4,243.4 210.9,243.8 211.3,242.5 211.8,242 212.2,242.6 212.7,242.5 213.1,243.8 213.6,243.7 214.1,242.3 214.5,241.5 215,240.5 215.4,241.4 215.9,240.7 216.3,241.5 216.8,241.2 217.3,240.3 217.7,240.7 218.2,240.9 218.6,239.8 219.1,240.7 219.6,241.1 220,241.1 220.5,240.8 220.9,240.6 221.4,240 221.8,239.8 222.3,239.6 222.8,240.3 223.2,240 223.7,240.4 224.1,239.1 224.6,239 225,239.7 225.5,240.5 226,239.9 226.4,240.4 226.9,239.6 227.3,239.5 227.8,239.5 228.2,240.8 228.7,241.7 229.2,240.5 229.6,240 230.1,240.3 230.5,239.9 231,240.3 231.5,240.9 231.9,241.4 232.4,241.1 232.8,241 233.3,240.7 233.7,240.2 234.2,239.1 234.7,239.4 235.1,240.3 235.6,240.6 236,241.9 236.5,241.7 236.9,241.4 237.4,241.6 237.9,240.8 238.3,241.6 238.8,241.5 239.2,241.9 239.7,241.5 240.2,241.6 240.6,241.1 241.1,241.8 241.5,241.5 242,241.9 242.4,241.9 242.9,241.8 243.4,242.9 243.8,243 244.3,241.6 244.7,241.8 245.2,240.2 245.6,240.6 246.1,239.6 246.6,241.1 247,241.5 247.5,241.9 247.9,239.2 248.4,238.8 248.8,238.6 249.3,240.7 249.8,242.3 250.2,243 250.7,242.7 251.1,242.9 251.6,242.3 252.1,243.3 252.5,243.6 253,243.6 253.4,244.3 253.9,243.8 254.3,242.3 254.8,242.3 255.3,242.8 255.7,242.2 256.2,241.8 256.6,240.9 257.1,242.2 257.5,242 258,241.6 258.5,243.3 258.9,242.1 259.4,241.7 259.8,241.4 260.3,241.9 260.8,243.6 261.2,243.7 261.7,241.6 262.1,240.1 262.6,241.2 263,242 263.5,242.6 264,242.5 264.4,242.3 264.9,241.3 265.3,240.6 265.8,239.7 266.2,239.9 266.7,242.4 267.2,242.3 267.6,241.4 268.1,241.9 268.5,240.7 269,239.9 269.4,239.6 269.9,239.6 270.4,238.9 270.8,240.3 271.3,240.9 271.7,241.3 272.2,241 272.7,240.2 273.1,241.6 273.6,242 274,242.7 274.5,241.7 274.9,240.4 275.4,240.4 275.9,240.3 276.3,240.3 276.8,239.7 277.2,240 277.7,239.1 278.1,240.1 278.6,241 279.1,242.4 279.5,242 280,242.1 280.4,242.1 280.9,242.4 281.4,241.2 281.8,242.2 282.3,243.2 282.7,243.3 283.2,243.8 283.6,242.5 284.1,241 284.6,240.6 285,240.2 285.5,239.8 285.9,242.1 286.4,241.8 286.8,240.3 287.3,239.9 287.8,239.4 288.2,239.9 288.7,240.7 289.1,242.6 289.6,243.4 290,242.7 290.5,241.5 291,241.4 291.4,241.8 291.9,242.6 292.3,242.6 292.8,242.8 293.3,242.1 293.7,241.5 294.2,241.9 294.6,242.8 295.1,242.5 295.5,241.5 296,241.5" fill="none" stroke="#2a9d9a" stroke-width="0.86" stroke-linejoin="round"/>
<text x="192.5" y="261.7" font-size="7" fill="#222" stroke="#222" stroke-width="0.13">Gaboxadol + DCZ</text>
<polyline points="194,273.9 194.5,273.1 194.9,271.9 195.4,273.7 195.8,275.9 196.3,273.7 196.7,272.7 197.2,273.8 197.7,274.2 198.1,276.1 198.6,275.5 199,278.5 199.5,275.8 199.9,276.1 200.4,279.6 200.9,277 201.3,274.7 201.8,275.2 202.2,276.2 202.7,276.4 203.1,272.7 203.6,271.6 204.1,268.7 204.5,269.3 205,269.8 205.4,272.3 205.9,275 206.3,278.8 206.8,275.4 207.3,275 207.7,278 208.2,276.7 208.6,276 209.1,274 209.6,271.8 210,271.7 210.5,275.2 210.9,278 211.4,280.4 211.8,279.3 212.3,277.6 212.8,277.3 213.2,276.6 213.7,276.6 214.1,275.5 214.6,276.6 215,273.2 215.5,274.9 216,276.7 216.4,277.9 216.9,276.7 217.3,276.7 217.8,278.5 218.2,274.7 218.7,271.4 219.2,272.9 219.6,273.4 220.1,276.1 220.5,277.5 221,276.6 221.4,275 221.9,274.1 222.4,273.8 222.8,272.4 223.3,270.9 223.7,272 224.2,273.8 224.6,275.3 225.1,279.2 225.6,278.8 226,279 226.5,278.8 226.9,279.7 227.4,277.7 227.8,276.6 228.3,272.7 228.8,270.5 229.2,272.5 229.7,273.4 230.1,275.7 230.6,275.2 231,274 231.5,274.1 232,277.3 232.4,280.2 232.9,277.4 233.3,277.6 233.8,276.2 234.3,278 234.7,277.5 235.2,278.3 235.6,276.4 236.1,275.9 236.5,277.9 237,277.9 237.5,278.1 237.9,278.6 238.4,279 238.8,275.9 239.3,276 239.7,279 240.2,280.1 240.7,278.8 241.1,276.8 241.6,277.5 242,277.9 242.5,277.5 242.9,277.8 243.4,278.5 243.9,277.3 244.3,274.8 244.8,273.5 245.2,274.8 245.7,275.7 246.1,275.1 246.6,274.2 247.1,273.5 247.5,272 248,275.1 248.4,277.7 248.9,278.3 249.3,281.5 249.8,280.5 250.3,278.2 250.7,278.7 251.2,280.5 251.6,279.6 252.1,274.8 252.5,272.9 253,274.7 253.5,274.3 253.9,275 254.4,274.4 254.8,274.2 255.3,273.1 255.7,274.4 256.2,275.1 256.7,277 257.1,276.9 257.6,274.6 258,276.2 258.5,278.3 259,281.4 259.4,285 259.9,284.6 260.3,284.4 260.8,283 261.2,282.8 261.7,280.6 262.2,276.6 262.6,273.4 263.1,274.4 263.5,273.6 264,274.2 264.4,274.5 264.9,273.5 265.4,273.8 265.8,272.3 266.3,270.7 266.7,273.4 267.2,272.6 267.6,271.5 268.1,275.1 268.6,275.5 269,276 269.5,277.5 269.9,278.9 270.4,281.1 270.8,281.9 271.3,281.3 271.8,278.1 272.2,276.8 272.7,274 273.1,272 273.6,271 274,270.4 274.5,271.5 275,274.6 275.4,278.5 275.9,278.1 276.3,278.3 276.8,278 277.2,276.5 277.7,278 278.2,277.3 278.6,277.6 279.1,277.1 279.5,278.3 280,282.8 280.4,286 280.9,289.3 281.4,293.1 281.8,294.7 282.3,290.9 282.7,282.1 283.2,280.2 283.7,276.1 284.1,273.1 284.6,272.1 285,274.5 285.5,274.3 285.9,278.8 286.4,275.8 286.9,277.3 287.3,276 287.8,277.8 288.2,275.6 288.7,276.3 289.1,274.3 289.6,273.6 290.1,274.8 290.5,274.3 291,274.1 291.4,275.8 291.9,277.3 292.3,274.8 292.8,277.3 293.3,274.6 293.7,272 294.2,275.8 294.6,274.9 295.1,274.1 295.5,274.9 296,275" fill="none" stroke="#333" stroke-width="0.86" stroke-linejoin="round"/>
<polyline points="194,298.2 194.5,299.1 194.9,300.2 195.4,297.9 195.8,297.9 196.3,297 196.7,296 197.2,296.1 197.7,294.2 198.1,294.6 198.6,295.2 199,295.5 199.5,297 199.9,296.5 200.4,296.9 200.9,295 201.3,296 201.8,295.1 202.2,296.9 202.7,299.6 203.1,301.3 203.6,298.6 204.1,294.9 204.5,291.6 205,291.6 205.4,293.5 205.9,296.4 206.3,295.3 206.8,293.5 207.3,293.7 207.7,296.5 208.2,296.3 208.6,298.4 209.1,298.2 209.6,297.7 210,299.7 210.5,302.1 210.9,301.8 211.4,303.2 211.8,303.5 212.3,299.1 212.8,298.5 213.2,298.8 213.7,299.5 214.1,298.2 214.6,299.3 215,300.7 215.5,299.6 216,294.8 216.4,293.7 216.9,293.5 217.3,294.8 217.8,295.3 218.2,296.4 218.7,296.7 219.2,299.6 219.6,299 220.1,297.8 220.5,298.5 221,293.9 221.4,294.9 221.9,294.7 222.4,298.9 222.8,300.9 223.3,299.8 223.7,299.2 224.2,301.2 224.6,300.5 225.1,300.4 225.6,300.8 226,299.6 226.5,298 226.9,298.4 227.4,298.2 227.8,299.8 228.3,298.5 228.8,300.1 229.2,297.1 229.7,297.5 230.1,294.3 230.6,294.2 231,292.5 231.5,293.8 232,290.8 232.4,292.5 232.9,292.8 233.3,295.1 233.8,296.9 234.3,297.7 234.7,295.9 235.2,294.3 235.6,295.5 236.1,294.9 236.5,298.2 237,297 237.5,298 237.9,298.7 238.4,298.8 238.8,299.3 239.3,298.5 239.7,297.5 240.2,296.5 240.7,295.4 241.1,296.1 241.6,294.5 242,295.8 242.5,295.6 242.9,297.5 243.4,298.1 243.9,295.9 244.3,297.7 244.8,299 245.2,297.4 245.7,296.6 246.1,293.2 246.6,293 247.1,295.2 247.5,298.2 248,297 248.4,298.4 248.9,297.4 249.3,298.6 249.8,298 250.3,297 250.7,298.1 251.2,297.3 251.6,296.4 252.1,296.4 252.5,296.7 253,297.1 253.5,295.6 253.9,296.6 254.4,297.7 254.8,296.6 255.3,295.5 255.7,295.1 256.2,294.7 256.7,296 257.1,296.4 257.6,297.5 258,297.4 258.5,297.3 259,297.8 259.4,299.3 259.9,297.9 260.3,296.7 260.8,296.3 261.2,294.9 261.7,294.8 262.2,295 262.6,295.9 263.1,296.8 263.5,296.4 264,297 264.4,297.6 264.9,297.7 265.4,298.5 265.8,298.9 266.3,298.8 266.7,297.6 267.2,297.1 267.6,296.3 268.1,296.4 268.6,297.3 269,297 269.5,295.5 269.9,295.9 270.4,296 270.8,296.3 271.3,295 271.8,294.9 272.2,293.6 272.7,295.1 273.1,296.2 273.6,297 274,296.9 274.5,295.7 275,296.5 275.4,296.6 275.9,296.7 276.3,298.1 276.8,297.7 277.2,297.2 277.7,297.1 278.2,296.2 278.6,297.2 279.1,298.6 279.5,299 280,299.1 280.4,297.7 280.9,298.3 281.4,298.1 281.8,298.2 282.3,299 282.7,299.7 283.2,298.8 283.7,298.7 284.1,297 284.6,296.7 285,296.1 285.5,294.8 285.9,293.7 286.4,293.3 286.9,294.3 287.3,294.9 287.8,295.3 288.2,294.6 288.7,296.3 289.1,297.8 289.6,299.9 290.1,299.1 290.5,299.7 291,298.1 291.4,297.9 291.9,298.6 292.3,298.6 292.8,298.5 293.3,297.6 293.7,297.2 294.2,297.5 294.6,296.9 295.1,296.5 295.5,295.2 296,296.1" fill="none" stroke="#2a9d9a" stroke-width="0.86" stroke-linejoin="round"/>
<text x="192.5" y="316" font-size="7" fill="#222" stroke="#222" stroke-width="0.13">DS2 + DCZ</text>
<polyline points="192,329.9 192.5,329.3 192.9,329.8 193.4,329.6 193.8,329.2 194.3,329.1 194.7,328.1 195.2,328.5 195.7,329 196.1,329.9 196.6,330.2 197,330 197.5,329.4 198,330 198.4,330.2 198.9,329.6 199.3,329.4 199.8,329.1 200.2,329.8 200.7,330.4 201.2,330.2 201.6,329.9 202.1,329 202.5,330.5 203,331.2 203.4,331.5 203.9,330.8 204.4,329.4 204.8,328.5 205.3,328.3 205.7,328.3 206.2,328.6 206.6,329.1 207.1,329.4 207.6,329.4 208,329.6 208.5,330.5 208.9,329.5 209.4,329.3 209.9,329.9 210.3,329.6 210.8,329.8 211.2,329.8 211.7,330.5 212.1,331.1 212.6,330.7 213.1,329.9 213.5,328.7 214,328.6 214.4,328.8 214.9,329.1 215.3,330.1 215.8,330.3 216.3,330.4 216.7,329.7 217.2,330.1 217.6,330.1 218.1,329.6 218.6,329.4 219,329.4 219.5,329.1 219.9,329.2 220.4,329.9 220.8,330.2 221.3,331.4 221.8,331.5 222.2,331.2 222.7,329.4 223.1,329.8 223.6,329.8 224,330.6 224.5,331.5 225,330.5 225.4,330 225.9,329.8 226.3,328.8 226.8,328.8 227.2,329.8 227.7,328.8 228.2,329.1 228.6,328.9 229.1,328.6 229.5,328.1 230,328 230.5,326.6 230.9,327.1 231.4,327.9 231.8,329.8 232.3,330.2 232.7,329.3 233.2,329.2 233.7,329.1 234.1,328.6 234.6,328.6 235,329.4 235.5,329.4 235.9,329.4 236.4,329.6 236.9,329.7 237.3,328.5 237.8,328.4 238.2,328.5 238.7,328 239.2,328.7 239.6,329.2 240.1,330 240.5,330.7 241,330.9 241.4,331.6 241.9,331.6 242.4,329.1 242.8,328.6 243.3,329.2 243.7,328.4 244.2,329 244.6,329.4 245.1,330 245.6,330.8 246,332.7 246.5,332.4 246.9,331.5 247.4,329.6 247.8,330 248.3,329.5 248.8,330.2 249.2,330 249.7,329.5 250.1,330.9 250.6,329.6 251.1,328.5 251.5,328 252,328.6 252.4,328.1 252.9,329.5 253.3,330.3 253.8,329.4 254.3,329.5 254.7,329.2 255.2,330.8 255.6,331.2 256.1,331.2 256.5,331.1 257,331 257.5,330.1 257.9,329.4 258.4,330.9 258.8,331.5 259.3,330.3 259.8,330.2 260.2,330.2 260.7,330.8 261.1,329.3 261.6,327.7 262,328.1 262.5,329.1 263,331.9 263.4,331.4 263.9,330.9 264.3,329.7 264.8,330.1 265.2,328.6 265.7,327.7 266.2,328.9 266.6,330.4 267.1,331 267.5,332.5 268,331.6 268.4,330.5 268.9,328.9 269.4,329.7 269.8,330 270.3,328.6 270.7,328.7 271.2,329.3 271.7,330.4 272.1,330.8 272.6,331.3 273,330 273.5,328.1 273.9,327.9 274.4,329.7 274.9,332.2 275.3,331.8 275.8,331.3 276.2,330 276.7,329.1 277.1,328.9 277.6,329.4 278.1,329.9 278.5,329.7 279,329.8 279.4,329.8 279.9,329.8 280.4,328.8 280.8,329.5 281.3,328.6 281.7,329.7 282.2,330.3 282.6,331.1 283.1,331.2 283.6,331 284,329.2 284.5,327.9 284.9,328.3 285.4,328.3 285.8,328.7 286.3,329.3 286.8,328.9 287.2,328.5 287.7,328.2 288.1,328.5 288.6,329.5 289,330.8 289.5,330.3 290,330.1 290.4,330.1 290.9,329.7 291.3,329.6 291.8,328.8 292.3,328.6 292.7,329.2 293.2,330.2 293.6,331.1 294.1,331.4 294.5,329.7 295,330.3" fill="none" stroke="#111" stroke-width="1.03" stroke-linejoin="round"/>
<polyline points="192,350.2 192.5,351 192.9,353 193.4,354 193.8,353.2 194.3,352.6 194.7,351 195.2,350 195.7,350 196.1,350 196.6,349.9 197,351.1 197.5,352.3 198,352.2 198.4,353.1 198.9,352.5 199.3,352.1 199.8,351.4 200.2,350.7 200.7,350.9 201.2,350.4 201.6,351 202.1,352.2 202.5,352.3 203,352.6 203.4,352.4 203.9,352.6 204.4,351.6 204.8,350.8 205.3,350.5 205.7,349.6 206.2,350.3 206.6,351.6 207.1,351.6 207.6,351.5 208,351 208.5,351.7 208.9,352.8 209.4,352.8 209.9,353.2 210.3,352.5 210.8,351.9 211.2,351.7 211.7,351.9 212.1,352 212.6,352 213.1,352.3 213.5,352.6 214,352.7 214.4,352.8 214.9,352.3 215.3,352.2 215.8,352.1 216.3,351.4 216.7,351.1 217.2,351.4 217.6,351.8 218.1,352.2 218.6,351.5 219,351.4 219.5,351.4 219.9,351.6 220.4,350.6 220.8,350.4 221.3,350.5 221.8,350.5 222.2,351.3 222.7,351 223.1,350.1 223.6,350.8 224,351.7 224.5,352.6 225,353.2 225.4,353 225.9,352.7 226.3,351.2 226.8,350.8 227.2,351.1 227.7,351.7 228.2,352.1 228.6,351.4 229.1,352 229.5,352.4 230,352.5 230.5,351.7 230.9,351.2 231.4,349.8 231.8,349.6 232.3,350.5 232.7,351.6 233.2,352.7 233.7,353.3 234.1,353.2 234.6,352.6 235,352.4 235.5,351.3 235.9,350.8 236.4,350.7 236.9,351.8 237.3,352.8 237.8,354.6 238.2,354.8 238.7,353.7 239.2,352.3 239.6,351.5 240.1,351 240.5,350.6 241,349.8 241.4,350.4 241.9,350.4 242.4,351.6 242.8,351.8 243.3,352.8 243.7,352.9 244.2,352.8 244.6,351.7 245.1,350.8 245.6,350.8 246,350.5 246.5,351.2 246.9,351.6 247.4,352.1 247.8,353 248.3,352.8 248.8,353.3 249.2,352.3 249.7,351.5 250.1,350.5 250.6,351.7 251.1,351.4 251.5,351.8 252,352.1 252.4,353 252.9,353.2 253.3,352.8 253.8,353.4 254.3,353.4 254.7,353.2 255.2,352.5 255.6,351.8 256.1,351.6 256.5,352.2 257,352.2 257.5,351.9 257.9,350.6 258.4,350.3 258.8,349.4 259.3,350.5 259.8,351.4 260.2,351.3 260.7,351.3 261.1,351.6 261.6,352 262,351.7 262.5,350.5 263,351.3 263.4,351.3 263.9,350.6 264.3,349.6 264.8,350.4 265.2,351.4 265.7,352.3 266.2,352.7 266.6,352.9 267.1,353.2 267.5,353.8 268,352.8 268.4,351.7 268.9,351.3 269.4,351.2 269.8,351.1 270.3,351.7 270.7,352.5 271.2,351.7 271.7,351 272.1,351.2 272.6,351.7 273,352.3 273.5,353.1 273.9,353.2 274.4,352.3 274.9,350.3 275.3,350.1 275.8,350.8 276.2,351.2 276.7,352.6 277.1,352.3 277.6,351.2 278.1,351.5 278.5,351.9 279,353.2 279.4,351.9 279.9,351.5 280.4,351.2 280.8,351.3 281.3,351.9 281.7,351.8 282.2,350.6 282.6,351.1 283.1,351.4 283.6,353 284,354.4 284.5,354.7 284.9,353.5 285.4,353 285.8,352 286.3,352.6 286.8,352.7 287.2,353.2 287.7,351.8 288.1,351.7 288.6,351.9 289,350.4 289.5,350.3 290,351.7 290.4,353.2 290.9,353 291.3,353.3 291.8,352.7 292.3,351.2 292.7,350.5 293.2,351.3 293.6,352.2 294.1,353.2 294.5,352.7 295,352.6" fill="none" stroke="#2a9d9a" stroke-width="0.86" stroke-linejoin="round"/>
<path d="M274.6,362.3 L300,362.3 L300,352.9" fill="none" stroke="#111" stroke-width="1.4" />
<text x="302.4" y="358.9" font-size="6.9" fill="#222" stroke="#222" stroke-width="0.12">0.25 mV</text>
<text x="285.3" y="371.5" font-size="6.9" fill="#222" stroke="#222" stroke-width="0.12">1 s</text>
<text x="173.2" y="403.4" font-size="14" fill="#111" stroke="#111" stroke-width="0.25">K</text>
<line x1="186.8" y1="403.5" x2="186.8" y2="608" stroke="#c8c8c8" stroke-width="0.9"/>
<text x="183.3" y="504" font-size="9" fill="#111" stroke="#111" stroke-width="0.16" text-anchor="middle" transform="rotate(-90 183.3 504)">NREM sleep</text>
<text x="192.5" y="402" font-size="7.3" fill="#222" stroke="#222" stroke-width="0.13">vehicle</text>
<polyline points="192,414 192.5,413.7 192.9,412.2 193.4,413.5 193.8,412.8 194.3,412.3 194.7,412.9 195.2,413 195.7,412.4 196.1,413 196.6,412.4 197,410.8 197.5,410.2 198,413.1 198.4,413.1 198.9,411.9 199.3,411.7 199.8,410 200.2,411.2 200.7,411 201.2,410.3 201.6,412.1 202.1,415 202.5,415.5 203,413.5 203.4,415.9 203.9,412.9 204.4,411.3 204.8,410.5 205.3,409.1 205.7,410.1 206.2,410.2 206.6,409.7 207.1,410.7 207.6,410.5 208,413.4 208.5,412.4 208.9,411.6 209.4,409.6 209.9,409.4 210.3,409.3 210.8,410 211.2,411.8 211.7,411.9 212.1,412.7 212.6,414 213.1,414.8 213.5,415.8 214,416 214.4,414.5 214.9,413.1 215.3,412 215.8,412.5 216.3,415 216.7,415.4 217.2,415.4 217.6,415.7 218.1,418 218.6,416.7 219,413.4 219.5,410.7 219.9,411.5 220.4,413.9 220.8,413.4 221.3,414.7 221.8,414.4 222.2,415.6 222.7,415.8 223.1,414.8 223.6,412.1 224,411.7 224.5,410.4 225,409.1 225.4,409.1 225.9,409.5 226.3,408.6 226.8,409.1 227.2,409 227.7,410.8 228.2,410.1 228.6,409.3 229.1,408.2 229.5,411.9 230,412 230.5,414.7 230.9,413.5 231.4,414.5 231.8,412.5 232.3,412.5 232.7,412.4 233.2,416.4 233.7,418.6 234.1,418.3 234.6,415.7 235,414.1 235.5,413.1 235.9,411.3 236.4,412.6 236.9,413.4 237.3,412.7 237.8,410.4 238.2,409.3 238.7,411 239.2,412.1 239.6,413.5 240.1,415.3 240.5,412.6 241,409.9 241.4,411.6 241.9,413.3 242.4,415.8 242.8,415 243.3,416.1 243.7,415.3 244.2,416.6 244.6,415 245.1,414.4 245.6,414.3 246,412.6 246.5,412.1 246.9,411.8 247.4,412.6 247.8,416.4 248.3,417.1 248.8,416 249.2,414.8 249.7,414.9 250.1,415.6 250.6,416.3 251.1,417.6 251.5,415.7 252,414.1 252.4,414.5 252.9,415.5 253.3,417.1 253.8,417.5 254.3,415.8 254.7,413.3 255.2,412 255.6,412.3 256.1,412.4 256.5,412.5 257,412.8 257.5,413.9 257.9,415 258.4,417.4 258.8,415.5 259.3,416.1 259.8,416.8 260.2,415.2 260.7,414.9 261.1,415.3 261.6,415.7 262,413.9 262.5,413.7 263,414.2 263.4,417 263.9,417.7 264.3,418.3 264.8,417.9 265.2,415.5 265.7,414.4 266.2,413.9 266.6,413.2 267.1,414 267.5,413.9 268,411.2 268.4,412.2 268.9,412.6 269.4,413.1 269.8,411.1 270.3,410.4 270.7,411.7 271.2,413.3 271.7,416.7 272.1,413.9 272.6,412.2 273,411.6 273.5,412.6 273.9,414.8 274.4,415.7 274.9,416.4 275.3,415.9 275.8,414.7 276.2,415.2 276.7,414.1 277.1,414.4 277.6,415.5 278.1,415.2 278.5,416.8 279,416.2 279.4,412.9 279.9,412.1 280.4,409.9 280.8,410.7 281.3,411.1 281.7,411.9 282.2,411.4 282.6,413 283.1,413.5 283.6,412.7 284,411.7 284.5,412.5 284.9,412.3 285.4,412.6 285.8,413.6 286.3,414.2 286.8,415.5 287.2,414.6 287.7,414.4 288.1,414.9 288.6,415.3 289,414.9 289.5,414.6 290,415.3 290.4,416.3 290.9,419.3 291.3,418.5 291.8,417.6 292.3,415.5 292.7,414 293.2,413.4 293.6,414 294.1,415.1 294.5,414.5 295,414" fill="none" stroke="#333" stroke-width="0.86" stroke-linejoin="round"/>
<text x="294.5" y="428.3" font-size="7.8" fill="#222" stroke="#222" stroke-width="0.14" text-anchor="end">frontal</text>
<polyline points="192,440.9 192.5,442.5 192.9,442.7 193.4,444.5 193.8,442.2 194.3,439.8 194.7,438.4 195.2,439.2 195.7,440.3 196.1,441.1 196.6,439.6 197,438.6 197.5,440.6 198,440.8 198.4,438.3 198.9,437.8 199.3,435.5 199.8,437.1 200.2,434.9 200.7,437.9 201.2,437.3 201.6,439.3 202.1,438.3 202.5,437.7 203,436.1 203.4,434.1 203.9,434.3 204.4,433.1 204.8,434.9 205.3,433.8 205.7,434.2 206.2,436.2 206.6,440 207.1,442.9 207.6,443.6 208,439.8 208.5,440.4 208.9,440.5 209.4,443.6 209.9,443.5 210.3,445.7 210.8,443.6 211.2,443.8 211.7,439.7 212.1,441.4 212.6,439.1 213.1,439.9 213.5,440.4 214,441 214.4,437.5 214.9,434.9 215.3,434.5 215.8,432.5 216.3,432.9 216.7,434.3 217.2,433.5 217.6,436.2 218.1,438 218.6,437.2 219,437.9 219.5,440.1 219.9,439.7 220.4,438.8 220.8,436.9 221.3,436.1 221.8,435.7 222.2,436.4 222.7,434.7 223.1,437.2 223.6,436.6 224,436.3 224.5,436.9 225,439.4 225.4,438.3 225.9,442.1 226.3,443.6 226.8,442.5 227.2,443 227.7,442 228.2,439.2 228.6,440.1 229.1,439.9 229.5,441.7 230,445.2 230.5,445.4 230.9,444.8 231.4,445.2 231.8,442.4 232.3,441.6 232.7,443.3 233.2,445.5 233.7,446.8 234.1,447.5 234.6,451.9 235,449.8 235.5,448 235.9,444 236.4,440.1 236.9,442.7 237.3,443.3 237.8,443.4 238.2,443.1 238.7,441.9 239.2,438 239.6,440 240.1,442 240.5,442.1 241,442.2 241.4,443.4 241.9,441.3 242.4,440.7 242.8,441.2 243.3,442.8 243.7,443.4 244.2,442 244.6,438.9 245.1,442 245.6,445.1 246,446 246.5,443.3 246.9,438.3 247.4,434.6 247.8,435.5 248.3,436 248.8,439.2 249.2,438.2 249.7,437.9 250.1,438.9 250.6,439.4 251.1,439.2 251.5,436.7 252,437 252.4,435.1 252.9,435.1 253.3,440.2 253.8,441 254.3,444.3 254.7,443.4 255.2,443.6 255.6,443.3 256.1,441.1 256.5,439.8 257,439.2 257.5,437 257.9,434.1 258.4,433.9 258.8,435.9 259.3,439.2 259.8,440.8 260.2,441.9 260.7,441 261.1,441.4 261.6,440.3 262,438.2 262.5,438.1 263,439.4 263.4,440.1 263.9,442.4 264.3,443.5 264.8,446.5 265.2,446 265.7,444.5 266.2,441.1 266.6,441.5 267.1,442.3 267.5,444.5 268,446.1 268.4,447.6 268.9,447.3 269.4,446.3 269.8,444.8 270.3,441.9 270.7,436.5 271.2,436.4 271.7,437.1 272.1,439.9 272.6,441.5 273,440.3 273.5,440.3 273.9,439.4 274.4,438.6 274.9,437.5 275.3,435.5 275.8,434.8 276.2,439.1 276.7,441.7 277.1,442 277.6,443.5 278.1,442 278.5,440.7 279,441.1 279.4,443.4 279.9,443.9 280.4,444 280.8,442.6 281.3,442.3 281.7,444.6 282.2,443.1 282.6,443 283.1,440.8 283.6,438.8 284,436.4 284.5,437.5 284.9,437.2 285.4,437.9 285.8,437.2 286.3,437.3 286.8,438.8 287.2,439.1 287.7,437.5 288.1,435.8 288.6,434.2 289,434.7 289.5,437.3 290,438.7 290.4,438.5 290.9,438.1 291.3,436.1 291.8,438.3 292.3,436.4 292.7,435.6 293.2,436.7 293.6,437.1 294.1,437.7 294.5,438.2 295,439.2" fill="none" stroke="#2a9d9a" stroke-width="0.86" stroke-linejoin="round"/>
<text x="297" y="449.5" font-size="7.8" fill="#2a9d9a" stroke="#2a9d9a" stroke-width="0.14" text-anchor="end">parietal</text>
<text x="190.5" y="455.5" font-size="7" fill="#222" stroke="#222" stroke-width="0.13">DCZ</text>
<polyline points="191,470.1 191.5,470.2 191.9,469.7 192.4,466.1 192.8,463.8 193.3,464.4 193.7,462 194.2,460.6 194.7,462.5 195.1,462.1 195.6,463.2 196,466.7 196.5,467.7 196.9,467.9 197.4,468.4 197.9,469.7 198.3,467 198.8,464.7 199.2,465 199.7,466.4 200.1,468.8 200.6,473.9 201.1,471.8 201.5,472.9 202,470.1 202.4,469.8 202.9,468 203.3,468 203.8,469.1 204.3,469.4 204.7,469.3 205.2,469.1 205.6,470.4 206.1,468.9 206.5,469.5 207,470.2 207.5,470.5 207.9,468.6 208.4,465.5 208.8,463.4 209.3,463.9 209.7,466 210.2,466.2 210.7,464.8 211.1,465.3 211.6,466.2 212,468.1 212.5,465.9 212.9,465.7 213.4,465.4 213.9,464.1 214.3,465.9 214.8,463.9 215.2,462 215.7,461.8 216.1,465 216.6,467.9 217,470.6 217.5,471.9 218,471.1 218.4,469.8 218.9,467.9 219.3,465.9 219.8,468.2 220.2,471 220.7,472.1 221.2,471 221.6,469.3 222.1,469.6 222.5,468.5 223,465 223.4,462.3 223.9,459.6 224.4,463.2 224.8,465.7 225.3,464 225.7,468.3 226.2,469.8 226.6,469 227.1,467.9 227.6,467 228,467.3 228.5,469 228.9,468.1 229.4,465 229.8,467.8 230.3,470.7 230.8,472.3 231.2,471.5 231.7,473 232.1,471.4 232.6,472.5 233,473.4 233.5,472.3 234,471.3 234.4,468.5 234.9,467.2 235.3,465.7 235.8,467.5 236.2,466.1 236.7,465.7 237.2,466.1 237.6,471.1 238.1,469.3 238.5,467.3 239,465.1 239.4,465.2 239.9,467.4 240.4,469.7 240.8,468.1 241.3,469.8 241.7,468.7 242.2,470.3 242.6,469.4 243.1,471.6 243.6,468.8 244,469.2 244.5,469.7 244.9,469.6 245.4,468.2 245.8,468.4 246.3,468.7 246.8,469 247.2,468.4 247.7,467.9 248.1,469.2 248.6,467.6 249,466.5 249.5,466.4 250,467.5 250.4,470.7 250.9,472.6 251.3,472.8 251.8,473.1 252.2,471.4 252.7,469.6 253.2,468.2 253.6,467.1 254.1,467.5 254.5,466.3 255,467.4 255.4,467.3 255.9,466.5 256.4,468.5 256.8,466.6 257.3,465.9 257.7,465.7 258.2,464.1 258.6,464.5 259.1,466 259.6,469.4 260,471.1 260.5,469.9 260.9,468.1 261.4,468.1 261.8,467.6 262.3,467.9 262.8,468.8 263.2,468.3 263.7,467.7 264.1,467.1 264.6,468.8 265,468.7 265.5,466.9 266,465.6 266.4,465.6 266.9,466.1 267.3,467.8 267.8,468.3 268.2,468.2 268.7,469.4 269.1,468.2 269.6,469.4 270.1,470.2 270.5,469.3 271,467.8 271.4,468.2 271.9,470.1 272.3,471.1 272.8,471.3 273.3,471.1 273.7,472.1 274.2,468.5 274.6,467.8 275.1,466.7 275.5,466.2 276,467.9 276.5,466.6 276.9,466.6 277.4,466.9 277.8,467.5 278.3,468.9 278.7,469.9 279.2,469.1 279.7,468.3 280.1,468.8 280.6,470.6 281,470.1 281.5,470.4 281.9,466.8 282.4,466.5 282.9,467.6 283.3,468.9 283.8,468.5 284.2,469.1 284.7,468.8 285.1,467.1 285.6,467.3 286.1,468.9 286.5,466.7 287,466.3 287.4,467 287.9,470.5 288.3,470.8 288.8,469.8 289.3,468.7 289.7,469 290.2,466.9 290.6,465.7 291.1,466.2 291.5,467.6 292,468.6" fill="none" stroke="#333" stroke-width="0.86" stroke-linejoin="round"/>
<polyline points="191,483.8 191.5,486.8 191.9,488.9 192.4,486.1 192.8,485.8 193.3,484 193.7,485.1 194.2,489.6 194.7,491.1 195.1,491.9 195.6,490.4 196,489.6 196.5,488.9 196.9,488.6 197.4,492.9 197.9,491.2 198.3,488.6 198.8,488.7 199.2,489.2 199.7,489.2 200.1,490.2 200.6,493.3 201.1,490.9 201.5,487.5 202,486.7 202.4,484.9 202.9,488.5 203.3,486.8 203.8,488.6 204.3,489.6 204.7,491.1 205.2,493.1 205.6,490.2 206.1,491.2 206.5,493.3 207,493.8 207.5,491.7 207.9,491.1 208.4,488 208.8,486.2 209.3,487.6 209.7,489.4 210.2,492.2 210.7,488.5 211.1,490.9 211.6,485.6 212,485.5 212.5,484.2 212.9,483.8 213.4,484.1 213.9,485.8 214.3,487.7 214.8,486.8 215.2,486.3 215.7,487.1 216.1,487.6 216.6,491.7 217,490.7 217.5,490.4 218,486.8 218.4,485.5 218.9,487.6 219.3,488.7 219.8,490.9 220.2,487.7 220.7,490.8 221.2,489.7 221.6,489.5 222.1,492.2 222.5,492.7 223,494.6 223.4,491.7 223.9,493.3 224.4,491.4 224.8,491.4 225.3,490.5 225.7,490.7 226.2,492.3 226.6,489.5 227.1,489.8 227.6,492.6 228,491 228.5,493.4 228.9,491.7 229.4,491.1 229.8,486.9 230.3,485.7 230.8,485.3 231.2,488.3 231.7,488.2 232.1,486.7 232.6,487.5 233,486.4 233.5,490.1 234,494 234.4,494.3 234.9,494.8 235.3,487.9 235.8,487.3 236.2,490 236.7,489.5 237.2,491.8 237.6,490.6 238.1,491 238.5,491 239,493.6 239.4,492.4 239.9,490.3 240.4,489.3 240.8,490 241.3,489 241.7,490.3 242.2,492.5 242.6,492.6 243.1,490.8 243.6,491 244,490.2 244.5,489.1 244.9,490.1 245.4,488.5 245.8,488.6 246.3,486.7 246.8,487.3 247.2,488 247.7,490 248.1,489.8 248.6,489.8 249,491 249.5,489.2 250,489.1 250.4,485.7 250.9,484.7 251.3,485.8 251.8,487.7 252.2,489.3 252.7,491.6 253.2,490.7 253.6,490.3 254.1,488.7 254.5,487.7 255,489.5 255.4,491.4 255.9,491 256.4,490 256.8,486.8 257.3,486.5 257.7,484.7 258.2,485.4 258.6,486.5 259.1,488.4 259.6,491.6 260,495.6 260.5,491.9 260.9,490 261.4,488.5 261.8,485.5 262.3,486 262.8,489.1 263.2,492.3 263.7,492 264.1,492.6 264.6,491.1 265,488.9 265.5,489 266,487.3 266.4,487.4 266.9,488.7 267.3,489.9 267.8,491.2 268.2,491.9 268.7,493.4 269.1,490.1 269.6,489.4 270.1,489.7 270.5,489 271,487.9 271.4,487.7 271.9,490 272.3,492.7 272.8,495.1 273.3,495.2 273.7,494.3 274.2,494.2 274.6,492.9 275.1,492.5 275.5,491.4 276,491.6 276.5,492.5 276.9,491.7 277.4,491.6 277.8,491.2 278.3,489.3 278.7,489.2 279.2,488.5 279.7,486.7 280.1,486.4 280.6,486.1 281,486.3 281.5,488.1 281.9,489 282.4,485.7 282.9,485.5 283.3,486.4 283.8,485.9 284.2,485.1 284.7,486.6 285.1,488 285.6,491 286.1,492.9 286.5,491.8 287,491.4 287.4,488.4 287.9,486.3 288.3,484.8 288.8,486.8 289.3,487.1 289.7,490.2 290.2,491.5 290.6,493.7 291.1,498 291.5,496.6 292,492" fill="none" stroke="#2a9d9a" stroke-width="0.86" stroke-linejoin="round"/>
<text x="190.5" y="511.5" font-size="7" fill="#222" stroke="#222" stroke-width="0.13">Gaboxadol + DCZ</text>
<polyline points="190,527.8 190.5,527.8 190.9,528 191.4,529.2 191.8,531.8 192.3,532.8 192.7,532.9 193.2,536.7 193.7,536.5 194.1,539.3 194.6,535.4 195,531.5 195.5,530.1 195.9,526.5 196.4,527.9 196.9,526.4 197.3,522.4 197.8,524.1 198.2,524.6 198.7,524.7 199.1,526.6 199.6,529.4 200.1,528.7 200.5,529.3 201,528.1 201.4,527.4 201.9,528.1 202.3,525.4 202.8,525.9 203.3,524.9 203.7,525.9 204.2,526.3 204.6,524.6 205.1,522.1 205.5,521.6 206,525.5 206.5,523.5 206.9,526.6 207.4,526.8 207.8,524.4 208.3,526.4 208.7,527.4 209.2,525.8 209.7,527.8 210.1,529 210.6,531.4 211,530.3 211.5,528.1 211.9,527.9 212.4,528.5 212.9,528.6 213.3,526 213.8,526 214.2,526.7 214.7,526.5 215.1,524.7 215.6,525.3 216,529.4 216.5,530.9 217,532.8 217.4,533.7 217.9,535.5 218.3,534.2 218.8,531.9 219.2,527.5 219.7,526.6 220.2,527.6 220.6,525.3 221.1,524.3 221.5,524.4 222,524.8 222.4,525.2 222.9,527.1 223.4,527.5 223.8,525 224.3,525.5 224.7,526.5 225.2,527.3 225.6,527.2 226.1,525.9 226.6,526 227,525.4 227.5,524.5 227.9,523.1 228.4,524.4 228.8,524.3 229.3,527.1 229.8,529.7 230.2,530.6 230.7,529.5 231.1,529.1 231.6,525.7 232,522.8 232.5,522.4 233,522.8 233.4,524.1 233.9,523.7 234.3,525.1 234.8,526.3 235.2,527.1 235.7,527.6 236.2,526.9 236.6,526.8 237.1,527.6 237.5,528.5 238,527.8 238.4,525.1 238.9,524.9 239.4,522.9 239.8,525.8 240.3,525.3 240.7,524.8 241.2,523.4 241.6,524.8 242.1,528.1 242.6,527.5 243,524.6 243.5,522.3 243.9,523.2 244.4,522.5 244.8,522.8 245.3,524.8 245.8,521.5 246.2,521.8 246.7,519.7 247.1,519.5 247.6,522.8 248,526.6 248.5,529.8 249,529 249.4,528.4 249.9,529.5 250.3,528.6 250.8,530.7 251.2,528.8 251.7,527.9 252.2,526.6 252.6,527.1 253.1,526.7 253.5,529.6 254,528.6 254.4,528.8 254.9,527.8 255.4,527.7 255.8,526.7 256.3,523.5 256.7,522.2 257.2,523.1 257.6,524 258.1,523.6 258.6,519.9 259,519.5 259.5,518.9 259.9,523.6 260.4,528.2 260.8,528.5 261.3,531.1 261.8,531 262.2,531.2 262.7,531.6 263.1,532.7 263.6,529.8 264,528.4 264.5,528.8 265,528 265.4,530.3 265.9,528.3 266.3,527 266.8,524.4 267.2,522.1 267.7,523.2 268.1,523 268.6,527.8 269.1,527.8 269.5,526.8 270,526.3 270.4,525.3 270.9,528.6 271.3,529.6 271.8,530.3 272.3,529.1 272.7,526.6 273.2,526.7 273.6,525.2 274.1,529.4 274.5,527.9 275,525.4 275.5,521.8 275.9,520.9 276.4,518.8 276.8,519.7 277.3,521.7 277.7,521.4 278.2,522.6 278.7,525.5 279.1,525 279.6,521.8 280,522.5 280.5,520.2 280.9,518.4 281.4,521.7 281.9,525.5 282.3,525.3 282.8,529.1 283.2,531.1 283.7,533.6 284.1,530.8 284.6,531 285.1,528 285.5,527.9 286,524.7 286.4,527.5 286.9,526.3 287.3,529.6 287.8,527.6 288.3,528.7 288.7,522.6 289.2,520.7 289.6,522.7 290.1,522.9 290.5,521 291,524.5" fill="none" stroke="#333" stroke-width="0.86" stroke-linejoin="round"/>
<polyline points="190,545.6 190.5,546.5 190.9,548.4 191.4,549.8 191.8,551.2 192.3,549.9 192.7,549.8 193.2,546.7 193.7,547 194.1,545.7 194.6,548.2 195,547.9 195.5,546.5 195.9,546.7 196.4,545.8 196.9,546.8 197.3,546.2 197.8,544.4 198.2,544.8 198.7,544.9 199.1,544.6 199.6,545.5 200.1,545.5 200.5,547.8 201,548.5 201.4,547.5 201.9,547.7 202.3,546.6 202.8,545.5 203.3,544.9 203.7,547.2 204.2,549.3 204.6,550.4 205.1,552.9 205.5,554 206,553.8 206.5,551.8 206.9,550.8 207.4,549.1 207.8,548 208.3,546.1 208.7,545.1 209.2,545.8 209.7,545 210.1,545 210.6,546.6 211,546.6 211.5,550 211.9,548.8 212.4,548.8 212.9,546.2 213.3,544.9 213.8,544.5 214.2,545.4 214.7,546.8 215.1,548.1 215.6,547.9 216,546.4 216.5,546 217,543.4 217.4,543.3 217.9,544.1 218.3,545 218.8,542.2 219.2,543.2 219.7,543.4 220.2,547.2 220.6,550.3 221.1,550.9 221.5,548.7 222,547.7 222.4,546.4 222.9,547.4 223.4,546.2 223.8,547.2 224.3,545.7 224.7,547.7 225.2,548.2 225.6,547.7 226.1,549.8 226.6,547.9 227,547.1 227.5,545.9 227.9,543.9 228.4,546.6 228.8,548.2 229.3,548.5 229.8,548.8 230.2,550.3 230.7,548.3 231.1,547.2 231.6,543.4 232,544.4 232.5,543.4 233,542.2 233.4,542 233.9,543.7 234.3,545.1 234.8,544.5 235.2,545 235.7,544.7 236.2,546.9 236.6,550 237.1,548.6 237.5,546.8 238,545.9 238.4,544.8 238.9,547.1 239.4,547.8 239.8,547 240.3,546.2 240.7,545.7 241.2,545.7 241.6,545.8 242.1,543.2 242.6,547.7 243,548.2 243.5,549.8 243.9,553.9 244.4,554.8 244.8,551.9 245.3,549.2 245.8,548.4 246.2,548.4 246.7,548.2 247.1,548.3 247.6,546.2 248,544.8 248.5,540.8 249,541.4 249.4,544.3 249.9,544.7 250.3,543.8 250.8,544.4 251.2,543.9 251.7,542.5 252.2,543.3 252.6,544.3 253.1,545 253.5,544.3 254,545.3 254.4,544.8 254.9,547.2 255.4,546.8 255.8,549.4 256.3,546.2 256.7,545.2 257.2,542.3 257.6,544 258.1,543.8 258.6,545.8 259,546.3 259.5,547.1 259.9,544.6 260.4,546.2 260.8,544.4 261.3,543.2 261.8,543.9 262.2,546.5 262.7,547.1 263.1,544.6 263.6,546.3 264,544.8 264.5,542.8 265,542.8 265.4,542.6 265.9,543.4 266.3,545.9 266.8,549.1 267.2,551.3 267.7,550.2 268.1,548.1 268.6,544.2 269.1,545.3 269.5,544.9 270,544.1 270.4,543.3 270.9,545.1 271.3,542.9 271.8,544.8 272.3,544 272.7,544.7 273.2,544.6 273.6,546.4 274.1,544.9 274.5,545.3 275,545.1 275.5,545.4 275.9,546.6 276.4,548.8 276.8,549.7 277.3,547.7 277.7,548 278.2,548.6 278.7,547.3 279.1,548.9 279.6,548.6 280,549 280.5,549.2 280.9,548.8 281.4,547.2 281.9,549.7 282.3,549.5 282.8,549.2 283.2,545.6 283.7,541.7 284.1,541 284.6,543.7 285.1,543.6 285.5,545.6 286,548.8 286.4,549.7 286.9,548.6 287.3,547 287.8,545.8 288.3,546.4 288.7,545.7 289.2,546.5 289.6,545.3 290.1,544.4 290.5,545.6 291,545.1" fill="none" stroke="#2a9d9a" stroke-width="0.86" stroke-linejoin="round"/>
<text x="190.5" y="567.5" font-size="7" fill="#222" stroke="#222" stroke-width="0.13">DS2 + DCZ</text>
<polyline points="190,579.7 190.5,578.5 190.9,578.6 191.4,577.9 191.8,576.6 192.3,575.8 192.7,576.4 193.2,578 193.7,579.3 194.1,579.1 194.6,578.8 195,577.7 195.5,578 195.9,577.9 196.4,577.7 196.9,578.2 197.3,578.8 197.8,579.9 198.2,581.2 198.7,580.3 199.1,580 199.6,578.1 200.1,577.7 200.5,578.9 201,578.3 201.4,578 201.9,576.9 202.3,577.1 202.8,579.4 203.3,580.8 203.7,581.2 204.2,579.9 204.6,577.2 205.1,576.1 205.6,576.3 206,577.8 206.5,577.7 206.9,578.1 207.4,578.9 207.8,579.2 208.3,578.4 208.8,578.9 209.2,578.3 209.7,578.6 210.1,579 210.6,578.1 211,578.2 211.5,578.4 212,577.3 212.4,577.2 212.9,577.5 213.3,578.6 213.8,578.2 214.2,577.4 214.7,577 215.2,577.5 215.6,578.5 216.1,579.2 216.5,579.1 217,579.6 217.4,580.3 217.9,580 218.4,579.8 218.8,579.2 219.3,579.1 219.7,580.4 220.2,581 220.6,580.4 221.1,579.6 221.6,578.1 222,578.5 222.5,579.4 222.9,578.5 223.4,578.2 223.8,578.2 224.3,578.6 224.8,579.9 225.2,579.7 225.7,578.5 226.1,577.9 226.6,576.9 227,575.8 227.5,576.9 228,578 228.4,579 228.9,578.2 229.3,579 229.8,578.1 230.3,577.8 230.7,579.1 231.2,578.2 231.6,579 232.1,579.2 232.5,579.3 233,579.6 233.5,578.6 233.9,578.4 234.4,579.3 234.8,579.2 235.3,579.7 235.7,579.7 236.2,579.3 236.7,578.4 237.1,578.5 237.6,578 238,578.2 238.5,578.6 238.9,578.1 239.4,577.9 239.9,577.7 240.3,577.4 240.8,577.7 241.2,577.6 241.7,576.7 242.1,577.7 242.6,578 243.1,577.4 243.5,578.3 244,577.7 244.4,577.7 244.9,577.1 245.3,578.3 245.8,579.8 246.3,580 246.7,580.3 247.2,579.7 247.6,579.1 248.1,578.4 248.5,578 249,577.8 249.5,577.8 249.9,578.6 250.4,579.8 250.8,580.9 251.3,580.5 251.7,579.3 252.2,578 252.7,577.8 253.1,577.7 253.6,577.9 254,579.1 254.5,579.9 255,579.8 255.4,579.2 255.9,580.3 256.3,578.2 256.8,578 257.2,577.5 257.7,577.9 258.2,578.8 258.6,578.4 259.1,578.5 259.5,579.7 260,579 260.4,578.2 260.9,577.7 261.4,577.8 261.8,577.4 262.3,576.9 262.7,577.5 263.2,579 263.6,578.5 264.1,579.4 264.6,578.7 265,578.9 265.5,578.6 265.9,578.1 266.4,577.4 266.8,577 267.3,577.4 267.8,577.9 268.2,578.6 268.7,578.5 269.1,578.6 269.6,578.7 270,578.6 270.5,578.7 271,577.5 271.4,577.1 271.9,577 272.3,578.4 272.8,578.2 273.2,578.4 273.7,579.3 274.2,578.5 274.6,577.7 275.1,577.8 275.5,577.7 276,577.7 276.4,577 276.9,577.5 277.4,578.8 277.8,579.9 278.3,579.6 278.7,579.5 279.2,578.1 279.7,577 280.1,577.2 280.6,578 281,579.1 281.5,579.3 281.9,579.9 282.4,579.5 282.9,578.5 283.3,577.5 283.8,576.3 284.2,577.6 284.7,577.5 285.1,578.3 285.6,579.5 286.1,579.9 286.5,579.6 287,579.8 287.4,578.6 287.9,578.6 288.3,578.2 288.8,577.3 289.3,577.6 289.7,578.6 290.2,580.1 290.6,580.5 291.1,580.5 291.5,579.6 292,578.4" fill="none" stroke="#222" stroke-width="0.86" stroke-linejoin="round"/>
<polyline points="190,599.7 190.5,602.2 190.9,605.7 191.4,601.9 191.8,600.8 192.3,601.2 192.7,599.4 193.2,599.3 193.7,599 194.1,599.3 194.6,602.5 195,603.5 195.5,604.4 195.9,601.3 196.4,599.7 196.9,598 197.3,600.6 197.8,602.5 198.2,604.8 198.7,605.6 199.1,604.7 199.6,602.4 200.1,600.3 200.5,597.2 201,596.8 201.4,600.6 201.9,603.6 202.3,607.1 202.8,606.7 203.3,603.5 203.7,598 204.2,597.8 204.6,595.4 205.1,597.3 205.6,597 206,598.7 206.5,600.9 206.9,601.4 207.4,605 207.8,602.6 208.3,600.6 208.8,598.5 209.2,596.7 209.7,598.9 210.1,600.8 210.6,604.8 211,604.8 211.5,600.6 212,598.6 212.4,601.2 212.9,601.1 213.3,599.8 213.8,597.8 214.2,597.9 214.7,600.3 215.2,600.8 215.6,599.6 216.1,599.4 216.5,597.6 217,599.4 217.4,595.9 217.9,598.8 218.4,601.8 218.8,600.8 219.3,601.6 219.7,602.9 220.2,603.5 220.6,604.7 221.1,601.1 221.6,599.1 222,598 222.5,597.1 222.9,598.3 223.4,598.9 223.8,600.6 224.3,602.6 224.8,601.4 225.2,598.7 225.7,597.9 226.1,599.2 226.6,599.3 227,600 227.5,599.3 228,598.4 228.4,602.1 228.9,602.8 229.3,604.8 229.8,604.3 230.3,603.2 230.7,600.6 231.2,597.4 231.6,598.1 232.1,599.6 232.5,600.5 233,600 233.5,600 233.9,600.3 234.4,599.8 234.8,600.7 235.3,600.2 235.7,598.3 236.2,596.5 236.7,597 237.1,599.8 237.6,599.6 238,601.5 238.5,602 238.9,600.9 239.4,601.4 239.9,600 240.3,598.5 240.8,599.2 241.2,599.5 241.7,598.9 242.1,599.5 242.6,601.2 243.1,601.2 243.5,602.9 244,604.7 244.4,604.6 244.9,602.7 245.3,601.5 245.8,599.2 246.3,598 246.7,598.7 247.2,599 247.6,599.3 248.1,600.2 248.5,599.8 249,600.8 249.5,602 249.9,602.4 250.4,600.4 250.8,599.5 251.3,601.3 251.7,601.4 252.2,599.7 252.7,599.5 253.1,599.3 253.6,599.1 254,600.3 254.5,601.7 255,601.2 255.4,601.2 255.9,600.1 256.3,599.5 256.8,599.2 257.2,598.8 257.7,600.9 258.2,601.9 258.6,601.6 259.1,600.3 259.5,600.3 260,600.3 260.4,601.6 260.9,599.9 261.4,599.5 261.8,598 262.3,597.3 262.7,596.2 263.2,596.5 263.6,598.7 264.1,599.2 264.6,601.1 265,602.8 265.5,602 265.9,599.9 266.4,597.7 266.8,598.9 267.3,599.4 267.8,599.7 268.2,602.1 268.7,603 269.1,602 269.6,601.7 270,600.5 270.5,599 271,598.9 271.4,599.7 271.9,598.1 272.3,598.9 272.8,599.2 273.2,600.1 273.7,600.1 274.2,600.2 274.6,600.7 275.1,600 275.5,598.9 276,600.8 276.4,601.1 276.9,602.3 277.4,602.8 277.8,602.3 278.3,602.1 278.7,600.9 279.2,598.9 279.7,602.4 280.1,603.2 280.6,604.2 281,604 281.5,601.9 281.9,600.4 282.4,599.1 282.9,599.6 283.3,599.2 283.8,600.9 284.2,600.1 284.7,601.7 285.1,600.8 285.6,600.5 286.1,601.5 286.5,600.2 287,600.8 287.4,598.8 287.9,600.6 288.3,601 288.8,600.1 289.3,599.4 289.7,600.9 290.2,604.5 290.6,603 291.1,602.1 291.5,599.1 292,598.9" fill="none" stroke="#2a9d9a" stroke-width="0.86" stroke-linejoin="round"/>
<path d="M272.8,611.6 L298,611.6 L298,602.3" fill="none" stroke="#111" stroke-width="1.4" />
<text x="300.7" y="610.8" font-size="6.9" fill="#222" stroke="#222" stroke-width="0.12">0.35 mV</text>
<text x="282" y="621" font-size="6.9" fill="#222" stroke="#222" stroke-width="0.12">1 s</text>
<text x="173.3" y="655.5" font-size="14" fill="#111" stroke="#111" stroke-width="0.25">Q</text>
<line x1="186.4" y1="660" x2="186.4" y2="866" stroke="#c8c8c8" stroke-width="0.9"/>
<text x="183.5" y="764" font-size="9" fill="#111" stroke="#111" stroke-width="0.16" text-anchor="middle" transform="rotate(-90 183.5 764)">wake</text>
<text x="191.5" y="654.5" font-size="7.3" fill="#222" stroke="#222" stroke-width="0.13">vehicle</text>
<polyline points="190,667.4 190.5,667.4 190.9,668.6 191.4,669.5 191.8,669.3 192.3,668.4 192.7,667.8 193.2,667.9 193.7,666.6 194.1,666.3 194.6,665.3 195,665.2 195.5,666.1 195.9,669.4 196.4,670.9 196.9,669.3 197.3,667.2 197.8,664.8 198.2,665.6 198.7,665.7 199.1,666 199.6,668 200.1,669 200.5,669 201,669.2 201.4,667.6 201.9,667.8 202.3,666.5 202.8,665.7 203.3,666.3 203.7,666.4 204.2,666.1 204.6,667.8 205.1,667.7 205.6,668.5 206,668.7 206.5,667.1 206.9,666.6 207.4,666.7 207.8,667.4 208.3,667.1 208.8,665.9 209.2,667.1 209.7,669 210.1,668.4 210.6,669.8 211,668.8 211.5,669.4 212,668.8 212.4,667.6 212.9,666.4 213.3,667.3 213.8,668.4 214.2,668.3 214.7,668.7 215.2,667.3 215.6,667.4 216.1,667.8 216.5,666.4 217,666.3 217.4,667 217.9,666.2 218.4,667.5 218.8,668 219.3,669 219.7,667.5 220.2,667.1 220.6,667.4 221.1,665.1 221.6,665.9 222,666.4 222.5,668.2 222.9,668 223.4,668.2 223.8,666.6 224.3,665.6 224.8,666 225.2,667.5 225.7,667.3 226.1,667 226.6,667 227,667.2 227.5,668.2 228,669 228.4,668.2 228.9,665.6 229.3,666.3 229.8,666.2 230.3,668 230.7,668.4 231.2,668.7 231.6,667.5 232.1,667.3 232.5,666.7 233,667.5 233.5,666.8 233.9,668.7 234.4,668.8 234.8,668.7 235.3,668 235.7,668.1 236.2,668.2 236.7,667.5 237.1,668.9 237.6,668.4 238,668.3 238.5,668.3 238.9,666.3 239.4,666.6 239.9,666.5 240.3,668.2 240.8,667.5 241.2,668 241.7,670.1 242.1,669.4 242.6,671.5 243.1,670 243.5,667.4 244,665.8 244.4,666.5 244.9,667.8 245.3,669 245.8,669.1 246.3,667.6 246.7,667 247.2,667.7 247.6,667.9 248.1,669.4 248.5,667.1 249,666.4 249.5,667 249.9,666.8 250.4,668.3 250.8,668.6 251.3,668.4 251.7,666.8 252.2,667.3 252.7,669.1 253.1,670.8 253.6,668.4 254,667 254.5,666.6 255,666.8 255.4,667.1 255.9,665.8 256.3,667.2 256.8,667.8 257.2,669.3 257.7,668 258.2,667 258.6,666.8 259.1,665 259.5,665.3 260,666.8 260.4,668.5 260.9,669.4 261.4,669 261.8,667.6 262.3,666.3 262.7,666.6 263.2,667.2 263.6,666 264.1,665.5 264.6,666.2 265,667.1 265.5,667.8 265.9,665.8 266.4,667.8 266.8,669.4 267.3,669.8 267.8,669 268.2,667.8 268.7,667.7 269.1,668 269.6,669.1 270,669 270.5,668.9 271,667.9 271.4,666.7 271.9,667.5 272.3,667.6 272.8,668.9 273.2,668.1 273.7,667.5 274.2,667.4 274.6,665.9 275.1,665.6 275.5,665 276,664.3 276.4,665.7 276.9,667.1 277.4,668.1 277.8,669 278.3,667.9 278.7,668.5 279.2,666.2 279.7,664.9 280.1,665.4 280.6,665.8 281,667.4 281.5,669.7 281.9,668.5 282.4,668.1 282.9,667.1 283.3,667.6 283.8,667.3 284.2,666.6 284.7,666.9 285.1,667.7 285.6,667.7 286.1,667.4 286.5,667.4 287,666.1 287.4,665.6 287.9,666 288.3,666.1 288.8,666 289.3,667.2 289.7,668.2 290.2,668.5 290.6,668.6 291.1,667.6 291.5,666.9 292,667.5" fill="none" stroke="#222" stroke-width="0.86" stroke-linejoin="round"/>
<text x="292" y="677.5" font-size="7.8" fill="#222" stroke="#222" stroke-width="0.14" text-anchor="end">frontal</text>
<polyline points="190,689.1 190.5,690.4 190.9,689.4 191.4,689.2 191.8,688 192.3,689.1 192.7,688.9 193.2,689.5 193.7,687.5 194.1,685.9 194.6,687.4 195,687.9 195.5,690.7 195.9,691 196.4,688.2 196.9,688.5 197.3,687.5 197.8,687.8 198.2,690.1 198.7,691.3 199.1,689.8 199.6,690.6 200.1,687.9 200.5,689.5 201,688.4 201.4,690 201.9,689.6 202.3,690.9 202.8,691.4 203.3,690.4 203.7,689.3 204.2,688.6 204.6,690.2 205.1,689.3 205.6,687.9 206,688 206.5,688.1 206.9,688.2 207.4,690.7 207.8,689.2 208.3,686.4 208.8,686 209.2,688.3 209.7,689.8 210.1,691.5 210.6,690 211,688.9 211.5,688.6 212,691.3 212.4,692.3 212.9,689.7 213.3,687.4 213.8,688.4 214.2,687 214.7,689.9 215.2,689.9 215.6,688.2 216.1,689.8 216.5,687.5 217,685.7 217.4,688.3 217.9,691 218.4,690.3 218.8,687.9 219.3,687.2 219.7,686.5 220.2,688.5 220.6,690.4 221.1,691 221.6,690.5 222,690 222.5,688.3 222.9,687.2 223.4,688.4 223.8,689.4 224.3,690.3 224.8,690.8 225.2,691.5 225.7,688.1 226.1,687.4 226.6,687.6 227,689.9 227.5,690.7 228,691 228.4,688.2 228.9,687.7 229.3,687.2 229.8,689.2 230.3,687.8 230.7,690.5 231.2,691.1 231.6,689.9 232.1,689.3 232.5,690 233,688.4 233.5,688.1 233.9,690 234.4,691.2 234.8,690.2 235.3,688.6 235.7,689.1 236.2,690.4 236.7,691 237.1,691.5 237.6,691.5 238,690.2 238.5,689.3 238.9,689.1 239.4,687 239.9,688.9 240.3,690.6 240.8,689.5 241.2,688.9 241.7,688 242.1,686.1 242.6,689.3 243.1,691.1 243.5,689.8 244,689.8 244.4,687.7 244.9,687.2 245.3,688.2 245.8,689.7 246.3,690.5 246.7,690.9 247.2,690.4 247.6,688.8 248.1,686.6 248.5,688.7 249,688.6 249.5,689.4 249.9,690.1 250.4,691 250.8,690.2 251.3,688.7 251.7,688.9 252.2,690.6 252.7,690.2 253.1,692.8 253.6,692.3 254,691 254.5,689 255,686.1 255.4,688.1 255.9,692.2 256.3,694.1 256.8,692 257.2,688.4 257.7,686.2 258.2,689 258.6,690.3 259.1,691.8 259.5,691.6 260,688.6 260.4,690.3 260.9,690 261.4,690.6 261.8,690.8 262.3,691.6 262.7,692.4 263.2,692.3 263.6,688.5 264.1,687 264.6,688.5 265,687.2 265.5,690.9 265.9,691.5 266.4,692.4 266.8,690.4 267.3,687.4 267.8,684.8 268.2,686.9 268.7,690.7 269.1,692.7 269.6,693.5 270,689.3 270.5,688.6 271,687.4 271.4,687.9 271.9,688.7 272.3,690.9 272.8,691.5 273.2,689.4 273.7,687.9 274.2,688.4 274.6,690.2 275.1,688.8 275.5,688.5 276,686 276.4,686.1 276.9,688.1 277.4,690.8 277.8,691.7 278.3,692.4 278.7,690.5 279.2,690.4 279.7,687.4 280.1,686.4 280.6,690.6 281,694 281.5,694.3 281.9,693.6 282.4,688.2 282.9,685.8 283.3,687 283.8,690.1 284.2,691.2 284.7,691.3 285.1,690.5 285.6,689 286.1,687.4 286.5,686.3 287,687.2 287.4,691 287.9,695.1 288.3,693.8 288.8,691.1 289.3,688.9 289.7,689.4 290.2,689.9 290.6,692.5 291.1,694.3 291.5,692.7 292,691.6" fill="none" stroke="#2a9d9a" stroke-width="0.86" stroke-linejoin="round"/>
<text x="295" y="700" font-size="7.8" fill="#2a9d9a" stroke="#2a9d9a" stroke-width="0.14" text-anchor="end">parietal</text>
<text x="190.5" y="710.5" font-size="7" fill="#222" stroke="#222" stroke-width="0.13">DCZ</text>
<polyline points="190,722.7 190.5,721.1 190.9,721.5 191.4,724.3 191.8,726 192.3,725.5 192.7,723.3 193.2,720.8 193.7,722.1 194.1,721.8 194.6,723.3 195,725.3 195.5,725.6 195.9,722.2 196.4,719.9 196.9,717.6 197.3,718.2 197.8,721.8 198.2,723.4 198.7,723.1 199.1,724.7 199.6,725.5 200.1,722.9 200.5,721.6 201,724.1 201.4,725.4 201.9,725.3 202.3,723.4 202.8,721.4 203.3,720.9 203.7,721.4 204.2,722.6 204.6,724.1 205.1,724.1 205.6,720.7 206,721 206.5,722 206.9,724 207.4,724.2 207.8,723.3 208.3,723.6 208.8,722.8 209.2,723.3 209.7,721.5 210.1,722.9 210.6,724.5 211,725.8 211.5,724.7 212,723.2 212.4,722.6 212.9,722 213.3,724 213.8,724 214.2,724.9 214.7,724.5 215.2,722.8 215.6,721.1 216.1,720.3 216.5,719.9 217,722 217.4,723.9 217.9,725 218.4,723.3 218.8,719.9 219.3,719.5 219.7,720.3 220.2,723.3 220.6,724.3 221.1,724.5 221.6,722 222,722.3 222.5,721.5 222.9,721.9 223.4,722.4 223.8,724.9 224.3,723.9 224.8,723.4 225.2,722.6 225.7,721.5 226.1,722.1 226.6,721.2 227,721.9 227.5,720.9 228,721.7 228.4,722.6 228.9,723.6 229.3,722.8 229.8,722.2 230.3,720.5 230.7,721.9 231.2,723.8 231.6,723.6 232.1,724.8 232.5,723.4 233,721.9 233.5,719.9 233.9,719.5 234.4,720.8 234.8,722.3 235.3,723.2 235.7,723.6 236.2,722.5 236.7,722.3 237.1,721.5 237.6,720.5 238,721.4 238.5,721.9 238.9,721.9 239.4,723.5 239.9,723 240.3,722.4 240.8,723.2 241.2,724 241.7,724 242.1,723.2 242.6,721.8 243.1,721.8 243.5,721.8 244,723.8 244.4,723 244.9,723.2 245.3,723 245.8,723 246.3,722.4 246.7,724.1 247.2,724.5 247.6,722.4 248.1,722.2 248.5,721.9 249,722.7 249.5,720.3 249.9,721.4 250.4,721.2 250.8,721.2 251.3,721.1 251.7,721.8 252.2,722.6 252.7,723.4 253.1,720.7 253.6,720.4 254,723 254.5,724.4 255,723.7 255.4,722.6 255.9,721 256.3,719.9 256.8,719.6 257.2,720.8 257.7,721.2 258.2,723.5 258.6,723 259.1,720.8 259.5,720.2 260,719.8 260.4,722.9 260.9,723.3 261.4,725 261.8,725.2 262.3,723.4 262.7,721 263.2,721.3 263.6,723.2 264.1,724.6 264.6,724.4 265,721.8 265.5,720.5 265.9,720.6 266.4,722.5 266.8,722.9 267.3,724.7 267.8,722 268.2,721.7 268.7,721.7 269.1,721.4 269.6,722 270,723.5 270.5,723.4 271,722.6 271.4,720.5 271.9,719.3 272.3,719.2 272.8,722.3 273.2,724.7 273.7,724.8 274.2,722.5 274.6,721 275.1,719.8 275.5,721.7 276,725.5 276.4,725.6 276.9,725.8 277.4,722.1 277.8,719.6 278.3,720.6 278.7,722.3 279.2,724.7 279.7,725.6 280.1,725 280.6,722.9 281,720.6 281.5,719.2 281.9,721.5 282.4,722.4 282.9,724.1 283.3,722.2 283.8,721.4 284.2,720.5 284.7,721 285.1,722.7 285.6,724.9 286.1,723.3 286.5,719.4 287,720.6 287.4,721.6 287.9,721.4 288.3,723.7 288.8,725 289.3,724.7 289.7,722.9 290.2,720.3 290.6,720.4 291.1,720.8 291.5,723.3 292,725.4" fill="none" stroke="#222" stroke-width="0.86" stroke-linejoin="round"/>
<polyline points="190,745.4 190.5,743.6 190.9,747.1 191.4,749 191.8,746.8 192.3,744.7 192.7,743.4 193.2,743.2 193.7,744.9 194.1,745.2 194.6,746.6 195,745.5 195.5,744.1 195.9,742.8 196.4,748.1 196.9,746.4 197.3,745.7 197.8,743.8 198.2,743.6 198.7,744.6 199.1,743.5 199.6,744.1 200.1,741.9 200.5,743.5 201,744.5 201.4,745.7 201.9,745.8 202.3,745.6 202.8,741.4 203.3,741.1 203.7,743.4 204.2,748.8 204.6,749.4 205.1,745 205.6,741.4 206,738.9 206.5,741.6 206.9,746.4 207.4,747 207.8,743 208.3,739 208.8,744.4 209.2,747.8 209.7,748.3 210.1,746.7 210.6,744.3 211,744.1 211.5,744.7 212,748 212.4,749.5 212.9,743.9 213.3,739.6 213.8,740.4 214.2,746.3 214.7,751.2 215.2,749.6 215.6,746.4 216.1,742 216.5,743.1 217,743.8 217.4,744 217.9,745.2 218.4,743.9 218.8,744.9 219.3,744.3 219.7,745.1 220.2,743.6 220.6,741.4 221.1,740.7 221.6,741.3 222,745 222.5,745.9 222.9,742.6 223.4,740.5 223.8,742.2 224.3,746.7 224.8,750.8 225.2,749.6 225.7,745 226.1,742.8 226.6,743.2 227,746.5 227.5,745.4 228,745.5 228.4,743.6 228.9,743.2 229.3,746.1 229.8,747.1 230.3,745.3 230.7,744 231.2,745.2 231.6,744.4 232.1,744.2 232.5,744.1 233,742.6 233.5,742.2 233.9,745.7 234.4,747.8 234.8,747.6 235.3,744.5 235.7,742.3 236.2,743 236.7,745.1 237.1,747.9 237.6,746 238,743.4 238.5,743.7 238.9,745.1 239.4,745.8 239.9,743.2 240.3,746.4 240.8,747.1 241.2,748 241.7,746.6 242.1,744.5 242.6,745.4 243.1,746.2 243.5,747.1 244,746.4 244.4,743.5 244.9,744.6 245.3,746.4 245.8,747.6 246.3,744.3 246.7,745 247.2,746 247.6,744.8 248.1,742.7 248.5,740.7 249,743 249.5,744.5 249.9,747.3 250.4,745.9 250.8,747 251.3,743.1 251.7,742.3 252.2,745.6 252.7,745.8 253.1,744.9 253.6,744.8 254,745.5 254.5,745.3 255,746.4 255.4,746 255.9,745.6 256.3,743.6 256.8,745.7 257.2,745.3 257.7,745.1 258.2,741 258.6,738.5 259.1,741.4 259.5,745.4 260,745.1 260.4,745 260.9,744 261.4,745.7 261.8,746 262.3,745.5 262.7,744.9 263.2,744.4 263.6,744 264.1,742.3 264.6,743.5 265,744.7 265.5,746.7 265.9,750.2 266.4,747.7 266.8,743.6 267.3,740.9 267.8,745.7 268.2,749.8 268.7,748.4 269.1,741.8 269.6,739.6 270,744.1 270.5,747 271,749.4 271.4,747 271.9,744.3 272.3,743 272.8,742.8 273.2,744.8 273.7,746.4 274.2,744.7 274.6,743.4 275.1,745.1 275.5,745.8 276,745.8 276.4,744 276.9,743.3 277.4,745.7 277.8,746.7 278.3,747.5 278.7,746.1 279.2,747.7 279.7,747.2 280.1,745.4 280.6,748.6 281,749.5 281.5,747.5 281.9,746.8 282.4,744 282.9,744.5 283.3,747 283.8,745.9 284.2,745.2 284.7,744.9 285.1,743 285.6,745.4 286.1,747.7 286.5,749.1 287,749 287.4,744.8 287.9,743.2 288.3,742.6 288.8,745.5 289.3,745.6 289.7,746.3 290.2,743.1 290.6,742 291.1,744.1 291.5,746.9 292,749.7" fill="none" stroke="#2a9d9a" stroke-width="0.86" stroke-linejoin="round"/>
<text x="190.5" y="766" font-size="7" fill="#222" stroke="#222" stroke-width="0.13">Gaboxadol + DCZ</text>
<polyline points="190,780.4 190.5,778.3 190.9,777.7 191.4,777.9 191.8,779.4 192.3,779.2 192.7,779.4 193.2,779 193.7,778.9 194.1,777.7 194.6,774.7 195,777 195.5,777 195.9,780.4 196.4,783.4 196.9,780.7 197.3,779 197.8,778.9 198.2,778.4 198.7,777.5 199.1,779.8 199.6,783.2 200.1,784.1 200.5,781.8 201,782.8 201.4,779.5 201.9,777.8 202.3,779.7 202.8,780 203.3,780.1 203.7,778.3 204.2,776.7 204.6,776.1 205.1,777.9 205.6,778.8 206,782.7 206.5,781.7 206.9,780 207.4,778.3 207.8,775.5 208.3,776.4 208.8,777.5 209.2,779.6 209.7,779 210.1,778.7 210.6,777 211,775.8 211.5,776.3 212,776.4 212.4,775.5 212.9,778.8 213.3,781.2 213.8,784.2 214.2,783 214.7,779.5 215.2,779.2 215.6,778 216.1,779.1 216.5,780.1 217,781 217.4,780.6 217.9,782.5 218.4,782 218.8,780.4 219.3,779.3 219.7,777.8 220.2,776.3 220.6,775.5 221.1,776.5 221.6,777.9 222,780.6 222.5,780.7 222.9,779.6 223.4,779.5 223.8,778.1 224.3,774.5 224.8,774.5 225.2,773 225.7,776.4 226.1,777.2 226.6,777.8 227,777.6 227.5,777.9 228,777.8 228.4,776.3 228.9,775.6 229.3,775.8 229.8,781 230.3,782.2 230.7,781.4 231.2,777.8 231.6,775.6 232.1,777.7 232.5,779.2 233,780.6 233.5,782.2 233.9,780.8 234.4,780.8 234.8,780.1 235.3,779.3 235.7,779.2 236.2,778.8 236.7,779.8 237.1,777.5 237.6,778.5 238,778.4 238.5,779.4 238.9,779.1 239.4,780 239.9,779.3 240.3,778.2 240.8,779.2 241.2,775.9 241.7,772.8 242.1,772.8 242.6,776.1 243.1,778.4 243.5,779.3 244,780.2 244.4,780.1 244.9,777.3 245.3,775.3 245.8,775.3 246.3,779.8 246.7,780.2 247.2,780.4 247.6,779.2 248.1,776.7 248.5,777.8 249,780.4 249.5,782.6 249.9,782.9 250.4,781.9 250.8,781.5 251.3,778.4 251.7,779.8 252.2,779.6 252.7,780.2 253.1,777.8 253.6,775 254,775.9 254.5,777.4 255,777.8 255.4,779.3 255.9,780.5 256.3,776.5 256.8,773.8 257.2,771.6 257.7,775.2 258.2,780.5 258.6,782.1 259.1,779 259.5,777.1 260,774.3 260.4,774.5 260.9,776.2 261.4,780.8 261.8,780.8 262.3,779.7 262.7,777.4 263.2,776.3 263.6,778.4 264.1,778.3 264.6,778.1 265,777.5 265.5,777.9 265.9,777.2 266.4,777.6 266.8,779.6 267.3,780 267.8,782.8 268.2,779.6 268.7,776.5 269.1,776 269.6,775.8 270,775.8 270.5,776.3 271,778.9 271.4,777.8 271.9,775.3 272.3,774 272.8,775.6 273.2,779.2 273.7,780.6 274.2,778.3 274.6,778.4 275.1,779 275.5,779.2 276,781 276.4,780.3 276.9,779 277.4,778.6 277.8,776.6 278.3,775.5 278.7,778.5 279.2,781.3 279.7,782.9 280.1,781.1 280.6,779.5 281,776.4 281.5,775.7 281.9,776.9 282.4,778.4 282.9,778.3 283.3,777.8 283.8,778.3 284.2,779 284.7,777.8 285.1,779.1 285.6,778.5 286.1,778.5 286.5,777.7 287,777.3 287.4,777.4 287.9,777.1 288.3,779.9 288.8,779.2 289.3,777.1 289.7,773.7 290.2,773.8 290.6,777 291.1,779.4 291.5,782.8 292,781.7" fill="none" stroke="#222" stroke-width="0.86" stroke-linejoin="round"/>
<polyline points="190,802.5 190.5,801.8 190.9,802.4 191.4,801.8 191.8,800.5 192.3,800.7 192.7,802.7 193.2,805 193.7,803.6 194.1,802.4 194.6,801.1 195,802.3 195.5,801.6 195.9,801.3 196.4,799.8 196.9,799.7 197.3,799.4 197.8,799.3 198.2,800 198.7,800 199.1,802.1 199.6,803.6 200.1,803.6 200.5,802.8 201,802.2 201.4,801.7 201.9,801.3 202.3,803 202.8,802.2 203.3,801.3 203.7,803 204.2,803.6 204.6,803.7 205.1,802.2 205.6,801 206,799.4 206.5,799.5 206.9,801.3 207.4,800.1 207.8,800.9 208.3,801.3 208.8,800.3 209.2,800.1 209.7,799.6 210.1,801.3 210.6,801.2 211,802.1 211.5,801.8 212,802.6 212.4,803.5 212.9,801.9 213.3,799.7 213.8,801.6 214.2,803.2 214.7,806.7 215.2,804.8 215.6,801.4 216.1,798.8 216.5,798.5 217,800.7 217.4,803.1 217.9,801.4 218.4,804.2 218.8,802.1 219.3,801.2 219.7,797.8 220.2,797.9 220.6,798.2 221.1,803 221.6,804.8 222,801.9 222.5,798.9 222.9,797.8 223.4,797.5 223.8,799 224.3,801 224.8,802.9 225.2,802.9 225.7,803.7 226.1,801.8 226.6,797.9 227,799.9 227.5,801.6 228,804.3 228.4,804.7 228.9,801.5 229.3,801.3 229.8,798.8 230.3,800 230.7,801.5 231.2,803.2 231.6,803.2 232.1,797.9 232.5,796.9 233,797.3 233.5,800 233.9,801.5 234.4,801.2 234.8,801.1 235.3,799.7 235.7,798.9 236.2,799.8 236.7,800.1 237.1,802.1 237.6,803.3 238,803.3 238.5,803.9 238.9,803 239.4,802.5 239.9,802.2 240.3,801.9 240.8,802.6 241.2,801.7 241.7,801.4 242.1,801.3 242.6,800.2 243.1,801.6 243.5,798.9 244,798.3 244.4,798.4 244.9,800.8 245.3,803.2 245.8,803.3 246.3,801.3 246.7,799.6 247.2,798.2 247.6,799.1 248.1,803.1 248.5,803.3 249,802.7 249.5,802.3 249.9,801.7 250.4,801.3 250.8,801.9 251.3,801.2 251.7,801.6 252.2,801.3 252.7,802.9 253.1,799.5 253.6,801.2 254,801.9 254.5,803.9 255,804.4 255.4,803.5 255.9,801 256.3,799.6 256.8,797.9 257.2,803.1 257.7,805.1 258.2,805.3 258.6,802.9 259.1,799.3 259.5,799.6 260,800.2 260.4,805.9 260.9,805.5 261.4,802.5 261.8,799 262.3,797.5 262.7,799 263.2,802.5 263.6,802.8 264.1,801 264.6,798.4 265,798 265.5,799.3 265.9,799.4 266.4,801.1 266.8,802.8 267.3,802.9 267.8,801.3 268.2,800.3 268.7,799.4 269.1,801.7 269.6,803.3 270,803.8 270.5,804 271,801.8 271.4,801.4 271.9,800.9 272.3,800.2 272.8,800.9 273.2,802.5 273.7,802.2 274.2,801.6 274.6,801.3 275.1,800 275.5,801.9 276,802.3 276.4,801.4 276.9,801.7 277.4,801.7 277.8,802.3 278.3,802.6 278.7,804.4 279.2,804 279.7,803.8 280.1,801.6 280.6,801.4 281,803.3 281.5,804.3 281.9,806.7 282.4,804.1 282.9,800.6 283.3,799.4 283.8,800.1 284.2,800.8 284.7,802.1 285.1,803 285.6,801.2 286.1,802.5 286.5,802.7 287,802.8 287.4,802.7 287.9,801.8 288.3,800.7 288.8,802.1 289.3,802.8 289.7,802.8 290.2,800.1 290.6,799.9 291.1,798.7 291.5,799.9 292,803.2" fill="none" stroke="#2a9d9a" stroke-width="0.86" stroke-linejoin="round"/>
<text x="190.5" y="822" font-size="7" fill="#222" stroke="#222" stroke-width="0.13">DS2 + DCZ</text>
<polyline points="187,835.1 187.5,836.8 187.9,838.3 188.4,837.6 188.8,838.7 189.3,837.3 189.7,837.9 190.2,837.5 190.7,838.2 191.1,836.7 191.6,837 192,837.3 192.5,838.7 192.9,838.4 193.4,838.9 193.9,838.5 194.3,838.1 194.8,837.7 195.2,837.6 195.7,837.4 196.1,838.7 196.6,839.2 197.1,838.7 197.5,838.5 198,838.5 198.4,836.7 198.9,836.8 199.3,838.3 199.8,837.8 200.3,838.2 200.7,838.4 201.2,837 201.6,837.5 202.1,836.7 202.6,837.5 203,838.3 203.5,839.1 203.9,840.1 204.4,838.1 204.8,837.2 205.3,836 205.8,837 206.2,839.7 206.7,840.9 207.1,840.1 207.6,837.4 208,836.1 208.5,836.2 209,837.5 209.4,838.6 209.9,840.2 210.3,839.2 210.8,837.5 211.2,837.2 211.7,836.3 212.2,836.3 212.6,836.6 213.1,839.5 213.5,840.3 214,840.7 214.4,839.2 214.9,836.6 215.4,836.1 215.8,837.5 216.3,838 216.7,840.2 217.2,841.1 217.6,842 218.1,839.2 218.6,838.2 219,837.4 219.5,838.9 219.9,840.6 220.4,841.8 220.8,839.8 221.3,836.2 221.8,834.6 222.2,836.3 222.7,839 223.1,841.9 223.6,840.6 224,838.8 224.5,836.8 225,837.1 225.4,837.9 225.9,838.3 226.3,839.6 226.8,842.3 227.3,840.1 227.7,840.6 228.2,838.6 228.6,837.3 229.1,836.9 229.5,838.6 230,838.1 230.5,837.2 230.9,835.8 231.4,834.8 231.8,837.2 232.3,839.6 232.7,840.1 233.2,838.7 233.7,837.4 234.1,835.6 234.6,834.8 235,836.1 235.5,838.8 235.9,841.1 236.4,838.9 236.9,838.2 237.3,837.8 237.8,836.3 238.2,837.5 238.7,838.6 239.1,839.4 239.6,840 240.1,839.1 240.5,836.9 241,835.4 241.4,836.9 241.9,838.6 242.3,840 242.8,840.1 243.3,837.6 243.7,836 244.2,835.9 244.6,836 245.1,837.1 245.5,837.5 246,839.4 246.5,839.5 246.9,837.9 247.4,834.8 247.8,836 248.3,835.5 248.7,836.2 249.2,837.1 249.7,837.7 250.1,838 250.6,837.5 251,838.5 251.5,839 252,839.3 252.4,842.4 252.9,842.4 253.3,840.4 253.8,840 254.2,837.2 254.7,836.9 255.2,836.7 255.6,838.7 256.1,838.5 256.5,838.4 257,837.9 257.4,836.4 257.9,835.7 258.4,834.8 258.8,835.6 259.3,836.1 259.7,838.1 260.2,838.1 260.6,838.2 261.1,836.8 261.6,836.3 262,836.1 262.5,838.1 262.9,839.3 263.4,839.1 263.8,839 264.3,838.4 264.8,836.9 265.2,837 265.7,837.7 266.1,837 266.6,836.6 267,839.3 267.5,839.5 268,838.6 268.4,837.6 268.9,836.1 269.3,835.5 269.8,836.3 270.2,838 270.7,837.8 271.2,837.3 271.6,838.7 272.1,838.6 272.5,838.6 273,837.4 273.4,837.3 273.9,836.5 274.4,839.9 274.8,841.5 275.3,843.6 275.7,842.3 276.2,838.8 276.7,836.8 277.1,836.9 277.6,838.5 278,840.4 278.5,840.8 278.9,839.1 279.4,836.2 279.9,836.2 280.3,836 280.8,834.9 281.2,835.9 281.7,837.2 282.1,837.2 282.6,836.4 283.1,835.3 283.5,836.4 284,837.7 284.4,837.3 284.9,838.5 285.3,837.7 285.8,837.2 286.3,835.9 286.7,837.6 287.2,838.4 287.6,839.9 288.1,840.2 288.5,838.4 289,837.2" fill="none" stroke="#111" stroke-width="1.03" stroke-linejoin="round"/>
<polyline points="187,860.9 187.5,863.7 187.9,864.4 188.4,864.3 188.8,859.8 189.3,859.1 189.7,861 190.2,863.1 190.7,864.9 191.1,865.4 191.6,866.3 192,864.4 192.5,864 192.9,863.5 193.4,865.2 193.9,865.7 194.3,864.3 194.8,862.8 195.2,861.6 195.7,864.5 196.1,866.8 196.6,867.9 197.1,864.6 197.5,864.6 198,864.4 198.4,864.3 198.9,865.4 199.3,864.1 199.8,862.5 200.3,862.1 200.7,858.8 201.2,858.6 201.6,862.6 202.1,864.8 202.6,864 203,861.3 203.5,860.6 203.9,862 204.4,864.6 204.8,865.8 205.3,865.3 205.8,861.8 206.2,857.1 206.7,858.8 207.1,863.5 207.6,866.1 208,865.1 208.5,864.2 209,863.7 209.4,863 209.9,860 210.3,862.5 210.8,867 211.2,867.9 211.7,866.7 212.2,862.3 212.6,860.5 213.1,862.2 213.5,865.4 214,867.7 214.4,866.8 214.9,866 215.4,863 215.8,866.4 216.3,866.9 216.7,866 217.2,864.1 217.6,862.6 218.1,861.7 218.6,864 219,864.9 219.5,863.4 219.9,862.9 220.4,863.1 220.8,866.5 221.3,862.9 221.8,863.9 222.2,863 222.7,861.4 223.1,862.5 223.6,865 224,863.8 224.5,862.5 225,863.4 225.4,864.8 225.9,864.8 226.3,864.7 226.8,863.9 227.3,864.9 227.7,867.3 228.2,866.5 228.6,864.6 229.1,859.5 229.5,861.2 230,864.1 230.5,865.1 230.9,866.6 231.4,868.3 231.8,862.8 232.3,860.6 232.7,862.9 233.2,865 233.7,865 234.1,862.1 234.6,860.2 235,859.3 235.5,861.7 235.9,864.3 236.4,865.4 236.9,862.4 237.3,859.8 237.8,861 238.2,864.7 238.7,866.4 239.1,865 239.6,864.2 240.1,862.7 240.5,862.9 241,866.2 241.4,866.6 241.9,862.6 242.3,860.1 242.8,860.7 243.3,863.6 243.7,867 244.2,865.2 244.6,863.4 245.1,861.5 245.5,863.4 246,866.2 246.5,865.1 246.9,861.6 247.4,863 247.8,863.5 248.3,862.9 248.7,862.7 249.2,863.2 249.7,862.7 250.1,859.8 250.6,859.7 251,860.7 251.5,863.5 252,867.8 252.4,865.4 252.9,862.7 253.3,862 253.8,865.6 254.2,866.4 254.7,863.6 255.2,861.5 255.6,860.7 256.1,860.8 256.5,865.6 257,865.8 257.4,864.2 257.9,862.4 258.4,863.1 258.8,862.6 259.3,864.7 259.7,864.1 260.2,862 260.6,858.9 261.1,859.2 261.6,863.2 262,864.9 262.5,869.6 262.9,865.4 263.4,859 263.8,858.9 264.3,861.5 264.8,866.1 265.2,868.5 265.7,867.2 266.1,862.3 266.6,860.1 267,861.2 267.5,864.9 268,870 268.4,868.7 268.9,862.8 269.3,860.7 269.8,862.6 270.2,865.2 270.7,867 271.2,865.6 271.6,866.2 272.1,865.7 272.5,865.5 273,862.3 273.4,860.9 273.9,860.1 274.4,863 274.8,862.9 275.3,863 275.7,862.5 276.2,863.6 276.7,861.4 277.1,863.5 277.6,863.6 278,864.4 278.5,862.7 278.9,863.9 279.4,862.1 279.9,861.1 280.3,863.6 280.8,863.1 281.2,861.9 281.7,861.7 282.1,860.6 282.6,860.2 283.1,861.5 283.5,863.4 284,863.4 284.4,865.5 284.9,864.1 285.3,863.2 285.8,860.9 286.3,862.3 286.7,861.9 287.2,862.7 287.6,862.1 288.1,863.6 288.5,864.8 289,864.8" fill="none" stroke="#2a9d9a" stroke-width="0.86" stroke-linejoin="round"/>
<path d="M269.9,872.8 L294.8,872.8 L294.8,863.7" fill="none" stroke="#111" stroke-width="1.4" />
<text x="297.4" y="871.3" font-size="6.9" fill="#222" stroke="#222" stroke-width="0.12">0.35 mV</text>
<text x="276.8" y="882.1" font-size="6.9" fill="#222" stroke="#222" stroke-width="0.12">1 s</text>
<text x="343.9" y="152.5" font-size="14" fill="#111" stroke="#111" stroke-width="0.25">F</text>
<text x="415.3" y="152.7" font-size="9.5" fill="#111" stroke="#111" stroke-width="0.17" text-anchor="middle">0-2 hrs post-dosing</text>
<rect x="362.1" y="161.2" width="124.2" height="84.1" fill="none" stroke="#7c7c7c" stroke-width="0.9"/>
<line x1="360.6" y1="161.2" x2="362.1" y2="161.2" stroke="#777" stroke-width="0.6"/>
<text x="360.1" y="163.7" font-size="7" fill="#222" stroke="#222" stroke-width="0.13" text-anchor="end">-20</text>
<line x1="360.6" y1="170.54" x2="362.1" y2="170.54" stroke="#777" stroke-width="0.6"/>
<text x="360.1" y="173.04" font-size="7" fill="#222" stroke="#222" stroke-width="0.13" text-anchor="end">-25</text>
<line x1="360.6" y1="179.89" x2="362.1" y2="179.89" stroke="#777" stroke-width="0.6"/>
<text x="360.1" y="182.39" font-size="7" fill="#222" stroke="#222" stroke-width="0.13" text-anchor="end">-30</text>
<line x1="360.6" y1="189.23" x2="362.1" y2="189.23" stroke="#777" stroke-width="0.6"/>
<text x="360.1" y="191.73" font-size="7" fill="#222" stroke="#222" stroke-width="0.13" text-anchor="end">-35</text>
<line x1="360.6" y1="198.58" x2="362.1" y2="198.58" stroke="#777" stroke-width="0.6"/>
<text x="360.1" y="201.08" font-size="7" fill="#222" stroke="#222" stroke-width="0.13" text-anchor="end">-40</text>
<line x1="360.6" y1="207.92" x2="362.1" y2="207.92" stroke="#777" stroke-width="0.6"/>
<text x="360.1" y="210.42" font-size="7" fill="#222" stroke="#222" stroke-width="0.13" text-anchor="end">-45</text>
<line x1="360.6" y1="217.27" x2="362.1" y2="217.27" stroke="#777" stroke-width="0.6"/>
<text x="360.1" y="219.77" font-size="7" fill="#222" stroke="#222" stroke-width="0.13" text-anchor="end">-50</text>
<line x1="360.6" y1="226.61" x2="362.1" y2="226.61" stroke="#777" stroke-width="0.6"/>
<text x="360.1" y="229.11" font-size="7" fill="#222" stroke="#222" stroke-width="0.13" text-anchor="end">-55</text>
<line x1="360.6" y1="235.96" x2="362.1" y2="235.96" stroke="#777" stroke-width="0.6"/>
<text x="360.1" y="238.46" font-size="7" fill="#222" stroke="#222" stroke-width="0.13" text-anchor="end">-60</text>
<line x1="360.6" y1="245.3" x2="362.1" y2="245.3" stroke="#777" stroke-width="0.6"/>
<text x="360.1" y="247.8" font-size="7" fill="#222" stroke="#222" stroke-width="0.13" text-anchor="end">-65</text>
<line x1="362.5" y1="245.3" x2="362.5" y2="247.1" stroke="#777" stroke-width="0.5"/>
<line x1="377.79" y1="245.3" x2="377.79" y2="246.3" stroke="#777" stroke-width="0.5"/>
<line x1="386.74" y1="245.3" x2="386.74" y2="246.3" stroke="#777" stroke-width="0.5"/>
<line x1="393.08" y1="245.3" x2="393.08" y2="246.3" stroke="#777" stroke-width="0.5"/>
<line x1="398.01" y1="245.3" x2="398.01" y2="246.3" stroke="#777" stroke-width="0.5"/>
<line x1="402.03" y1="245.3" x2="402.03" y2="246.3" stroke="#777" stroke-width="0.5"/>
<line x1="405.43" y1="245.3" x2="405.43" y2="246.3" stroke="#777" stroke-width="0.5"/>
<line x1="408.38" y1="245.3" x2="408.38" y2="246.3" stroke="#777" stroke-width="0.5"/>
<line x1="410.98" y1="245.3" x2="410.98" y2="246.3" stroke="#777" stroke-width="0.5"/>
<line x1="413.3" y1="245.3" x2="413.3" y2="247.1" stroke="#777" stroke-width="0.5"/>
<line x1="428.98" y1="245.3" x2="428.98" y2="246.3" stroke="#777" stroke-width="0.5"/>
<line x1="438.16" y1="245.3" x2="438.16" y2="246.3" stroke="#777" stroke-width="0.5"/>
<line x1="444.67" y1="245.3" x2="444.67" y2="246.3" stroke="#777" stroke-width="0.5"/>
<line x1="449.72" y1="245.3" x2="449.72" y2="246.3" stroke="#777" stroke-width="0.5"/>
<line x1="453.84" y1="245.3" x2="453.84" y2="246.3" stroke="#777" stroke-width="0.5"/>
<line x1="457.33" y1="245.3" x2="457.33" y2="246.3" stroke="#777" stroke-width="0.5"/>
<line x1="460.35" y1="245.3" x2="460.35" y2="246.3" stroke="#777" stroke-width="0.5"/>
<line x1="463.02" y1="245.3" x2="463.02" y2="246.3" stroke="#777" stroke-width="0.5"/>
<line x1="465.4" y1="245.3" x2="465.4" y2="247.1" stroke="#777" stroke-width="0.5"/>
<line x1="481.08" y1="245.3" x2="481.08" y2="246.3" stroke="#777" stroke-width="0.5"/>
<text x="362.5" y="254.3" font-size="7" fill="#222" stroke="#222" stroke-width="0.13" text-anchor="middle">1</text>
<text x="413.3" y="254.3" font-size="7" fill="#222" stroke="#222" stroke-width="0.13" text-anchor="middle">10</text>
<text x="465.4" y="254.3" font-size="7" fill="#222" stroke="#222" stroke-width="0.13" text-anchor="middle">100</text>
<polygon points="362.5,190 364.2,189.8 366.7,189.5 369.6,189.2 372.6,188.9 375.4,188.7 377.8,188.7 379.7,188.8 381.2,189.1 382.7,189.5 384,190 385.3,190.5 386.7,190.9 388.2,191.4 389.8,192 391.3,192.6 392.8,193.2 394.2,193.6 395.7,193.7 397.1,193.5 398.6,193 400,192.3 401.4,191.6 402.7,191.1 403.8,190.9 404.8,191.1 405.6,191.6 406.3,192.2 407,193 407.6,193.8 408.4,194.7 409.1,195.6 409.8,196.6 410.6,197.7 411.3,198.8 412.2,200 413.3,201.2 414.6,202.4 416.1,203.8 417.8,205.1 419.5,206.4 421.1,207.6 422.5,208.7 423.7,209.5 424.7,210.3 425.7,210.9 426.7,211.4 427.8,211.9 429,212.4 430.3,212.8 431.8,213 433.3,213.2 434.8,213.4 436.5,213.8 438.2,214.3 440,215 441.9,215.8 443.8,216.7 445.8,217.7 447.8,218.8 449.7,219.9 451.6,221.1 453.5,222.4 455.4,223.7 457.3,225.1 458.9,226.3 460.4,227.4 461.5,228.2 462.3,228.8 463,229.4 463.6,229.9 464.4,230.5 465.4,231.1 466.6,231.9 468,232.7 469.5,233.6 471.1,234.5 472.8,235.2 474.6,235.8 476.7,236.2 479.1,236.4 481.6,236.5 484,236.6 486,236.6 487.5,236.7 487.5,238.9 486,238.9 484,238.8 481.6,238.8 479.1,238.6 476.7,238.4 474.6,238 472.8,237.4 471.1,236.7 469.5,235.9 468,235 466.6,234.1 465.4,233.3 464.4,232.7 463.6,232.2 463,231.6 462.3,231.1 461.5,230.4 460.4,229.6 458.9,228.6 457.3,227.3 455.4,226 453.5,224.6 451.6,223.3 449.7,222.1 447.8,221 445.8,220 443.8,219 441.9,218 440,217.2 438.2,216.5 436.5,216 434.8,215.7 433.3,215.5 431.8,215.3 430.3,215 429,214.7 427.8,214.2 426.7,213.7 425.7,213.1 424.7,212.5 423.7,211.8 422.5,210.9 421.1,209.9 419.5,208.7 417.8,207.3 416.1,206 414.6,204.7 413.3,203.4 412.2,202.3 411.3,201.1 410.6,199.9 409.8,198.8 409.1,197.8 408.4,196.9 407.6,196 407,195.2 406.3,194.4 405.6,193.8 404.8,193.4 403.8,193.2 402.7,193.3 401.4,193.8 400,194.5 398.6,195.2 397.1,195.7 395.7,196 394.2,195.8 392.8,195.4 391.3,194.9 389.8,194.3 388.2,193.7 386.7,193.2 385.3,192.7 384,192.2 382.7,191.8 381.2,191.4 379.7,191.1 377.8,190.9 375.4,190.9 372.6,191.1 369.6,191.4 366.7,191.8 364.2,192 362.5,192.2" fill="#3db595" fill-opacity="0.18"/>
<polygon points="362.5,190.5 364.2,190.4 366.7,190.1 369.6,189.7 372.6,189.5 375.4,189.3 377.8,189.2 379.7,189.4 381.2,189.7 382.7,190.1 384,190.6 385.3,191 386.7,191.5 388.2,192 389.8,192.6 391.3,193.2 392.8,193.7 394.2,194.1 395.7,194.3 397.1,194.1 398.6,193.5 400,192.8 401.4,192.1 402.7,191.6 403.8,191.5 404.8,191.7 405.6,192.1 406.3,192.8 407,193.5 407.6,194.4 408.4,195.2 409.1,196.1 409.8,197.2 410.6,198.3 411.3,199.4 412.2,200.6 413.3,201.8 414.6,203 416.1,204.3 417.8,205.7 419.5,207 421.1,208.2 422.5,209.2 423.7,210.1 424.7,210.8 425.7,211.4 426.7,212 427.8,212.5 429,213 430.3,213.3 431.8,213.6 433.3,213.8 434.8,214 436.5,214.3 438.2,214.8 440,215.5 441.9,216.4 443.8,217.3 445.8,218.3 447.8,219.4 449.7,220.4 451.6,221.6 453.5,222.9 455.4,224.3 457.3,225.6 458.9,226.9 460.4,227.9 461.5,228.7 462.3,229.4 463,230 463.6,230.5 464.4,231 465.4,231.7 466.6,232.4 468,233.3 469.5,234.2 471.1,235 472.8,235.8 474.6,236.3 476.7,236.7 479.1,237 481.6,237.1 484,237.2 486,237.2 487.5,237.3 487.5,239.5 486,239.4 484,239.4 481.6,239.3 479.1,239.2 476.7,239 474.6,238.6 472.8,238 471.1,237.3 469.5,236.4 468,235.5 466.6,234.7 465.4,233.9 464.4,233.3 463.6,232.7 463,232.2 462.3,231.7 461.5,231 460.4,230.2 458.9,229.1 457.3,227.9 455.4,226.5 453.5,225.2 451.6,223.9 449.7,222.7 447.8,221.6 445.8,220.5 443.8,219.5 441.9,218.6 440,217.8 438.2,217.1 436.5,216.6 434.8,216.2 433.3,216 431.8,215.8 430.3,215.6 429,215.2 427.8,214.7 426.7,214.2 425.7,213.7 424.7,213.1 423.7,212.3 422.5,211.5 421.1,210.4 419.5,209.2 417.8,207.9 416.1,206.6 414.6,205.2 413.3,204 412.2,202.8 411.3,201.6 410.6,200.5 409.8,199.4 409.1,198.4 408.4,197.5 407.6,196.6 407,195.8 406.3,195 405.6,194.4 404.8,193.9 403.8,193.7 402.7,193.9 401.4,194.4 400,195.1 398.6,195.8 397.1,196.3 395.7,196.5 394.2,196.4 392.8,196 391.3,195.4 389.8,194.8 388.2,194.2 386.7,193.7 385.3,193.3 384,192.8 382.7,192.3 381.2,191.9 379.7,191.6 377.8,191.5 375.4,191.5 372.6,191.7 369.6,192 366.7,192.3 364.2,192.6 362.5,192.8" fill="#dc2f4e" fill-opacity="0.18"/>
<polygon points="362.5,184.4 364.2,184 366.7,183.4 369.6,182.7 372.6,182.1 375.4,181.7 377.8,181.6 379.7,181.8 381.3,182.4 382.8,183.1 384.2,184 385.5,184.7 386.7,185.3 387.9,185.7 388.9,186.1 389.9,186.5 390.9,186.8 391.9,187 393.1,187.2 394.5,187.2 396,187.1 397.6,187 399.1,186.9 400.7,186.9 402,187.2 403.3,187.7 404.4,188.3 405.5,189 406.5,189.9 407.4,190.9 408.4,191.8 409.2,193 410,194.2 410.7,195.5 411.4,196.9 412.2,198.2 413.3,199.3 414.6,200.4 416.1,201.4 417.8,202.4 419.5,203.3 421.1,204.1 422.5,204.9 423.7,205.6 424.7,206.2 425.7,206.8 426.7,207.4 427.8,208 429,208.7 430.3,209.5 431.8,210.3 433.3,211.2 434.8,212.2 436.5,213.2 438.2,214.3 440,215.4 441.9,216.6 443.8,217.9 445.8,219.2 447.8,220.5 449.7,221.8 451.6,223.1 453.5,224.4 455.4,225.8 457.3,227.1 458.9,228.3 460.4,229.2 461.5,230 462.3,230.5 463,230.9 463.6,231.3 464.4,231.6 465.4,232 466.6,232.5 468,233 469.5,233.5 471.1,234 472.8,234.5 474.6,234.8 476.7,235.1 479.1,235.3 481.6,235.5 484,235.6 486,235.7 487.5,235.8 487.5,238 486,237.9 484,237.8 481.6,237.7 479.1,237.6 476.7,237.4 474.6,237.1 472.8,236.7 471.1,236.3 469.5,235.8 468,235.3 466.6,234.8 465.4,234.3 464.4,233.9 463.6,233.5 463,233.2 462.3,232.8 461.5,232.2 460.4,231.5 458.9,230.5 457.3,229.3 455.4,228 453.5,226.7 451.6,225.3 449.7,224 447.8,222.7 445.8,221.4 443.8,220.1 441.9,218.9 440,217.7 438.2,216.5 436.5,215.5 434.8,214.4 433.3,213.5 431.8,212.6 430.3,211.7 429,210.9 427.8,210.2 426.7,209.6 425.7,209 424.7,208.5 423.7,207.9 422.5,207.2 421.1,206.4 419.5,205.5 417.8,204.6 416.1,203.6 414.6,202.6 413.3,201.6 412.2,200.4 411.4,199.1 410.7,197.8 410,196.4 409.2,195.2 408.4,194.1 407.4,193.1 406.5,192.2 405.5,191.3 404.4,190.5 403.3,189.9 402,189.4 400.7,189.2 399.1,189.1 397.6,189.2 396,189.4 394.5,189.5 393.1,189.4 391.9,189.2 390.9,189 389.9,188.7 388.9,188.4 387.9,188 386.7,187.6 385.5,187 384.2,186.2 382.8,185.4 381.3,184.6 379.7,184.1 377.8,183.8 375.4,183.9 372.6,184.4 369.6,185 366.7,185.6 364.2,186.2 362.5,186.6" fill="#f6a628" fill-opacity="0.18"/>
<polygon points="362.5,190 364.2,189.8 366.7,189.5 369.6,189.2 372.6,188.9 375.4,188.7 377.8,188.7 379.7,188.8 381.2,189.1 382.7,189.5 384,190 385.3,190.5 386.7,190.9 388.2,191.4 389.8,192 391.3,192.6 392.8,193.2 394.2,193.6 395.7,193.7 397.1,193.5 398.6,193 400,192.3 401.4,191.6 402.7,191.1 403.8,190.9 404.8,191.1 405.6,191.5 406.3,192.1 407,192.8 407.6,193.7 408.4,194.7 409.1,195.8 409.8,197.2 410.6,198.8 411.3,200.4 412.2,201.8 413.3,203.1 414.6,204.1 416.1,205 417.8,205.7 419.5,206.5 421.1,207.1 422.5,207.7 423.7,208.3 424.7,208.8 425.7,209.2 426.7,209.6 427.8,210 429,210.5 430.3,211.1 431.8,211.7 433.3,212.3 434.8,212.9 436.5,213.6 438.2,214.3 440,215 441.9,215.6 443.8,216.3 445.8,217.1 447.8,217.9 449.7,218.9 451.6,220.2 453.5,221.6 455.4,223.2 457.3,224.8 458.9,226.2 460.4,227.4 461.5,228.2 462.3,228.9 463,229.5 463.6,230 464.4,230.5 465.4,231.1 466.6,231.9 468,232.7 469.5,233.5 471.1,234.4 472.8,235.1 474.6,235.8 476.7,236.3 479.1,236.7 481.6,237 484,237.3 486,237.5 487.5,237.6 487.5,239.9 486,239.7 484,239.5 481.6,239.2 479.1,238.9 476.7,238.5 474.6,238 472.8,237.4 471.1,236.6 469.5,235.8 468,234.9 466.6,234.1 465.4,233.3 464.4,232.7 463.6,232.2 463,231.7 462.3,231.2 461.5,230.5 460.4,229.6 458.9,228.4 457.3,227 455.4,225.5 453.5,223.9 451.6,222.4 449.7,221.2 447.8,220.2 445.8,219.3 443.8,218.6 441.9,217.9 440,217.2 438.2,216.5 436.5,215.8 434.8,215.2 433.3,214.5 431.8,213.9 430.3,213.3 429,212.8 427.8,212.3 426.7,211.8 425.7,211.4 424.7,211 423.7,210.5 422.5,210 421.1,209.4 419.5,208.7 417.8,208 416.1,207.2 414.6,206.3 413.3,205.3 412.2,204.1 411.3,202.6 410.6,201 409.8,199.5 409.1,198.1 408.4,196.9 407.6,195.9 407,195.1 406.3,194.3 405.6,193.7 404.8,193.3 403.8,193.2 402.7,193.3 401.4,193.8 400,194.5 398.6,195.2 397.1,195.7 395.7,196 394.2,195.8 392.8,195.4 391.3,194.9 389.8,194.3 388.2,193.7 386.7,193.2 385.3,192.7 384,192.2 382.7,191.8 381.2,191.4 379.7,191.1 377.8,190.9 375.4,190.9 372.6,191.1 369.6,191.4 366.7,191.8 364.2,192 362.5,192.2" fill="#2f2ff5" fill-opacity="0.18"/>
<polyline points="362.5,191.1 364.2,190.9 366.7,190.6 369.6,190.3 372.6,190 375.4,189.8 377.8,189.8 379.7,190 381.2,190.3 382.7,190.7 384,191.1 385.3,191.6 386.7,192 388.2,192.5 389.8,193.1 391.3,193.8 392.8,194.3 394.2,194.7 395.7,194.8 397.1,194.6 398.6,194.1 400,193.4 401.4,192.7 402.7,192.2 403.8,192 404.8,192.2 405.6,192.7 406.3,193.3 407,194.1 407.6,194.9 408.4,195.8 409.1,196.7 409.8,197.7 410.6,198.8 411.3,200 412.2,201.1 413.3,202.3 414.6,203.6 416.1,204.9 417.8,206.2 419.5,207.5 421.1,208.8 422.5,209.8 423.7,210.7 424.7,211.4 425.7,212 426.7,212.6 427.8,213.1 429,213.5 430.3,213.9 431.8,214.2 433.3,214.3 434.8,214.6 436.5,214.9 438.2,215.4 440,216.1 441.9,216.9 443.8,217.9 445.8,218.9 447.8,219.9 449.7,221 451.6,222.2 453.5,223.5 455.4,224.9 457.3,226.2 458.9,227.4 460.4,228.5 461.5,229.3 462.3,230 463,230.5 463.6,231 464.4,231.6 465.4,232.2 466.6,233 468,233.8 469.5,234.7 471.1,235.6 472.8,236.3 474.6,236.9 476.7,237.3 479.1,237.5 481.6,237.6 484,237.7 486,237.8 487.5,237.8" fill="none" stroke="#3db595" stroke-width="1.35" stroke-linejoin="round"/>
<polyline points="362.5,191.7 364.2,191.5 366.7,191.2 369.6,190.9 372.6,190.6 375.4,190.4 377.8,190.4 379.7,190.5 381.2,190.8 382.7,191.2 384,191.7 385.3,192.2 386.7,192.6 388.2,193.1 389.8,193.7 391.3,194.3 392.8,194.9 394.2,195.3 395.7,195.4 397.1,195.2 398.6,194.6 400,193.9 401.4,193.3 402.7,192.8 403.8,192.6 404.8,192.8 405.6,193.3 406.3,193.9 407,194.6 407.6,195.5 408.4,196.3 409.1,197.3 409.8,198.3 410.6,199.4 411.3,200.5 412.2,201.7 413.3,202.9 414.6,204.1 416.1,205.4 417.8,206.8 419.5,208.1 421.1,209.3 422.5,210.4 423.7,211.2 424.7,211.9 425.7,212.6 426.7,213.1 427.8,213.6 429,214.1 430.3,214.5 431.8,214.7 433.3,214.9 434.8,215.1 436.5,215.5 438.2,216 440,216.7 441.9,217.5 443.8,218.4 445.8,219.4 447.8,220.5 449.7,221.6 451.6,222.7 453.5,224.1 455.4,225.4 457.3,226.8 458.9,228 460.4,229 461.5,229.9 462.3,230.5 463,231.1 463.6,231.6 464.4,232.1 465.4,232.8 466.6,233.5 468,234.4 469.5,235.3 471.1,236.1 472.8,236.9 474.6,237.5 476.7,237.8 479.1,238.1 481.6,238.2 484,238.3 486,238.3 487.5,238.4" fill="none" stroke="#dc2f4e" stroke-width="1.35" stroke-linejoin="round"/>
<polyline points="362.5,185.5 364.2,185.1 366.7,184.5 369.6,183.9 372.6,183.2 375.4,182.8 377.8,182.7 379.7,183 381.3,183.5 382.8,184.3 384.2,185.1 385.5,185.8 386.7,186.4 387.9,186.9 388.9,187.3 389.9,187.6 390.9,187.9 391.9,188.1 393.1,188.3 394.5,188.4 396,188.3 397.6,188.1 399.1,188 400.7,188.1 402,188.3 403.3,188.8 404.4,189.4 405.5,190.2 406.5,191 407.4,192 408.4,193 409.2,194.1 410,195.3 410.7,196.7 411.4,198 412.2,199.3 413.3,200.4 414.6,201.5 416.1,202.5 417.8,203.5 419.5,204.4 421.1,205.2 422.5,206.1 423.7,206.8 424.7,207.4 425.7,207.9 426.7,208.5 427.8,209.1 429,209.8 430.3,210.6 431.8,211.5 433.3,212.4 434.8,213.3 436.5,214.3 438.2,215.4 440,216.5 441.9,217.8 443.8,219 445.8,220.3 447.8,221.6 449.7,222.9 451.6,224.2 453.5,225.5 455.4,226.9 457.3,228.2 458.9,229.4 460.4,230.3 461.5,231.1 462.3,231.6 463,232 463.6,232.4 464.4,232.7 465.4,233.2 466.6,233.6 468,234.2 469.5,234.7 471.1,235.2 472.8,235.6 474.6,236 476.7,236.2 479.1,236.4 481.6,236.6 484,236.7 486,236.8 487.5,236.9" fill="none" stroke="#f6a628" stroke-width="1.35" stroke-linejoin="round"/>
<polyline points="362.5,191.1 364.2,190.9 366.7,190.6 369.6,190.3 372.6,190 375.4,189.8 377.8,189.8 379.7,190 381.2,190.3 382.7,190.7 384,191.1 385.3,191.6 386.7,192 388.2,192.5 389.8,193.1 391.3,193.8 392.8,194.3 394.2,194.7 395.7,194.8 397.1,194.6 398.6,194.1 400,193.4 401.4,192.7 402.7,192.2 403.8,192 404.8,192.2 405.6,192.6 406.3,193.2 407,193.9 407.6,194.8 408.4,195.8 409.1,196.9 409.8,198.4 410.6,199.9 411.3,201.5 412.2,202.9 413.3,204.2 414.6,205.2 416.1,206.1 417.8,206.9 419.5,207.6 421.1,208.2 422.5,208.9 423.7,209.4 424.7,209.9 425.7,210.3 426.7,210.7 427.8,211.2 429,211.7 430.3,212.2 431.8,212.8 433.3,213.4 434.8,214 436.5,214.7 438.2,215.4 440,216.1 441.9,216.7 443.8,217.4 445.8,218.2 447.8,219.1 449.7,220.1 451.6,221.3 453.5,222.8 455.4,224.3 457.3,225.9 458.9,227.3 460.4,228.5 461.5,229.4 462.3,230 463,230.6 463.6,231.1 464.4,231.6 465.4,232.2 466.6,233 468,233.8 469.5,234.7 471.1,235.5 472.8,236.3 474.6,236.9 476.7,237.4 479.1,237.8 481.6,238.1 484,238.4 486,238.6 487.5,238.8" fill="none" stroke="#2f2ff5" stroke-width="1.35" stroke-linejoin="round"/>
<line x1="362.7" y1="166.3" x2="437.5" y2="166.3" stroke="#f6a628" stroke-width="1.3"/>
<line x1="382.5" y1="164.4" x2="398" y2="164.4" stroke="#3db595" stroke-width="1.3"/>
<line x1="413.7" y1="162.6" x2="437.7" y2="162.6" stroke="#222" stroke-width="1.3"/>
<path d="M470.5,175 C474.5,175 482,183 482,190 C482,194 479.5,196 478.5,197 C480.5,199 480,203 475,204 L473.5,210.5 C471.5,211 469.5,211 467.5,210.5 L466,204 C461,203 460.5,199 462.5,197 C461.5,196 459,194 459,190 C459,183 466.5,175 470.5,175 Z" fill="#e0b9b5" />
<path d="M470.5,176 L470.5,196" fill="none" stroke="#cc9a96" stroke-width="0.6" />
<path d="M462.5,196.5 Q470.5,194 478.5,196.5" fill="none" stroke="#cc9a96" stroke-width="0.5" />
<path d="M466,204 Q470.5,205.5 475,204" fill="none" stroke="#cc9a96" stroke-width="0.5" />
<circle cx="467" cy="183.4" r="1.2" fill="#8f9ee8" stroke="#3b4bd0" stroke-width="0.5"/>
<text x="452.3" y="179" font-size="6.6" fill="#222" stroke="#222" stroke-width="0.12">frontal</text>
<text x="452.3" y="186.5" font-size="6.6" fill="#222" stroke="#222" stroke-width="0.12">EEG</text>
<rect x="362.1" y="260.7" width="124.2" height="83.7" fill="none" stroke="#7c7c7c" stroke-width="0.9"/>
<line x1="360.6" y1="260.7" x2="362.1" y2="260.7" stroke="#777" stroke-width="0.6"/>
<text x="360.1" y="263.2" font-size="7" fill="#222" stroke="#222" stroke-width="0.13" text-anchor="end">-20</text>
<line x1="360.6" y1="277.44" x2="362.1" y2="277.44" stroke="#777" stroke-width="0.6"/>
<text x="360.1" y="279.94" font-size="7" fill="#222" stroke="#222" stroke-width="0.13" text-anchor="end">-30</text>
<line x1="360.6" y1="294.18" x2="362.1" y2="294.18" stroke="#777" stroke-width="0.6"/>
<text x="360.1" y="296.68" font-size="7" fill="#222" stroke="#222" stroke-width="0.13" text-anchor="end">-40</text>
<line x1="360.6" y1="310.92" x2="362.1" y2="310.92" stroke="#777" stroke-width="0.6"/>
<text x="360.1" y="313.42" font-size="7" fill="#222" stroke="#222" stroke-width="0.13" text-anchor="end">-50</text>
<line x1="360.6" y1="327.66" x2="362.1" y2="327.66" stroke="#777" stroke-width="0.6"/>
<text x="360.1" y="330.16" font-size="7" fill="#222" stroke="#222" stroke-width="0.13" text-anchor="end">-60</text>
<line x1="360.6" y1="344.4" x2="362.1" y2="344.4" stroke="#777" stroke-width="0.6"/>
<text x="360.1" y="346.9" font-size="7" fill="#222" stroke="#222" stroke-width="0.13" text-anchor="end">-70</text>
<line x1="362.5" y1="344.4" x2="362.5" y2="346.2" stroke="#777" stroke-width="0.5"/>
<line x1="377.79" y1="344.4" x2="377.79" y2="345.4" stroke="#777" stroke-width="0.5"/>
<line x1="386.74" y1="344.4" x2="386.74" y2="345.4" stroke="#777" stroke-width="0.5"/>
<line x1="393.08" y1="344.4" x2="393.08" y2="345.4" stroke="#777" stroke-width="0.5"/>
<line x1="398.01" y1="344.4" x2="398.01" y2="345.4" stroke="#777" stroke-width="0.5"/>
<line x1="402.03" y1="344.4" x2="402.03" y2="345.4" stroke="#777" stroke-width="0.5"/>
<line x1="405.43" y1="344.4" x2="405.43" y2="345.4" stroke="#777" stroke-width="0.5"/>
<line x1="408.38" y1="344.4" x2="408.38" y2="345.4" stroke="#777" stroke-width="0.5"/>
<line x1="410.98" y1="344.4" x2="410.98" y2="345.4" stroke="#777" stroke-width="0.5"/>
<line x1="413.3" y1="344.4" x2="413.3" y2="346.2" stroke="#777" stroke-width="0.5"/>
<line x1="428.98" y1="344.4" x2="428.98" y2="345.4" stroke="#777" stroke-width="0.5"/>
<line x1="438.16" y1="344.4" x2="438.16" y2="345.4" stroke="#777" stroke-width="0.5"/>
<line x1="444.67" y1="344.4" x2="444.67" y2="345.4" stroke="#777" stroke-width="0.5"/>
<line x1="449.72" y1="344.4" x2="449.72" y2="345.4" stroke="#777" stroke-width="0.5"/>
<line x1="453.84" y1="344.4" x2="453.84" y2="345.4" stroke="#777" stroke-width="0.5"/>
<line x1="457.33" y1="344.4" x2="457.33" y2="345.4" stroke="#777" stroke-width="0.5"/>
<line x1="460.35" y1="344.4" x2="460.35" y2="345.4" stroke="#777" stroke-width="0.5"/>
<line x1="463.02" y1="344.4" x2="463.02" y2="345.4" stroke="#777" stroke-width="0.5"/>
<line x1="465.4" y1="344.4" x2="465.4" y2="346.2" stroke="#777" stroke-width="0.5"/>
<line x1="481.08" y1="344.4" x2="481.08" y2="345.4" stroke="#777" stroke-width="0.5"/>
<text x="362.5" y="353.4" font-size="7" fill="#222" stroke="#222" stroke-width="0.13" text-anchor="middle">1</text>
<text x="413.3" y="353.4" font-size="7" fill="#222" stroke="#222" stroke-width="0.13" text-anchor="middle">10</text>
<text x="465.4" y="353.4" font-size="7" fill="#222" stroke="#222" stroke-width="0.13" text-anchor="middle">100</text>
<polygon points="362.5,282.8 363.8,282.6 365.5,282.2 367.6,281.8 369.8,281.4 372.1,281.1 374.2,281.1 376.3,281.4 378.4,281.9 380.5,282.5 382.6,283.2 384.7,283.9 386.7,284.5 388.7,284.9 390.6,285.2 392.5,285.6 394.4,285.9 396.2,286.4 398,287 399.8,287.8 401.6,288.7 403.3,289.8 405.1,290.8 406.7,291.9 408.4,292.8 409.9,293.7 411.4,294.5 412.8,295.3 414.3,296.1 415.8,296.9 417.4,297.9 419.2,298.9 420.9,299.9 422.8,301 424.7,302.1 426.8,303.3 429,304.6 431.3,305.8 433.7,307 436.3,308.2 438.9,309.6 441.7,311.1 444.7,312.9 447.8,315.1 451.2,317.7 454.6,320.5 458.2,323.3 461.8,325.8 465.4,328 469.3,329.8 473.5,331.3 477.7,332.7 481.7,333.9 485,334.8 487.5,335.5 487.5,338.2 485,337.5 481.7,336.5 477.7,335.4 473.5,334 469.3,332.5 465.4,330.7 461.8,328.5 458.2,326 454.6,323.2 451.2,320.4 447.8,317.8 444.7,315.6 441.7,313.8 438.9,312.3 436.3,310.9 433.7,309.7 431.3,308.5 429,307.2 426.8,306 424.7,304.8 422.8,303.7 420.9,302.6 419.2,301.5 417.4,300.5 415.8,299.6 414.3,298.8 412.8,298 411.4,297.2 409.9,296.4 408.4,295.5 406.7,294.6 405.1,293.5 403.3,292.4 401.6,291.4 399.8,290.5 398,289.7 396.2,289.1 394.4,288.6 392.5,288.2 390.6,287.9 388.7,287.6 386.7,287.1 384.7,286.6 382.6,285.9 380.5,285.2 378.4,284.6 376.3,284.1 374.2,283.8 372.1,283.8 369.8,284 367.6,284.4 365.5,284.9 363.8,285.2 362.5,285.5" fill="#3db595" fill-opacity="0.18"/>
<polygon points="362.5,283.6 363.8,283.4 365.5,283 367.6,282.6 369.8,282.2 372.1,282 374.2,282 376.3,282.2 378.4,282.7 380.5,283.4 382.6,284.1 384.7,284.7 386.7,285.3 388.7,285.7 390.6,286.1 392.5,286.4 394.4,286.8 396.2,287.2 398,287.8 399.8,288.6 401.6,289.6 403.3,290.6 405.1,291.7 406.7,292.7 408.4,293.7 409.9,294.5 411.4,295.4 412.8,296.1 414.3,296.9 415.8,297.8 417.4,298.7 419.2,299.7 420.9,300.7 422.8,301.8 424.7,303 426.8,304.2 429,305.4 431.3,306.6 433.7,307.8 436.3,309.1 438.9,310.4 441.7,312 444.7,313.8 447.8,316 451.2,318.6 454.6,321.4 458.2,324.1 461.8,326.7 465.4,328.8 469.3,330.6 473.5,332.2 477.7,333.5 481.7,334.7 485,335.6 487.5,336.4 487.5,338.4 485,337.6 481.7,336.7 477.7,335.5 473.5,334.2 469.3,332.6 465.4,330.8 461.8,328.7 458.2,326.1 454.6,323.4 451.2,320.6 447.8,318 444.7,315.8 441.7,314 438.9,312.4 436.3,311.1 433.7,309.8 431.3,308.6 429,307.4 426.8,306.2 424.7,305 422.8,303.8 420.9,302.8 419.2,301.7 417.4,300.7 415.8,299.8 414.3,298.9 412.8,298.1 411.4,297.4 409.9,296.6 408.4,295.7 406.7,294.7 405.1,293.7 403.3,292.6 401.6,291.6 399.8,290.6 398,289.8 396.2,289.2 394.4,288.8 392.5,288.4 390.6,288.1 388.7,287.7 386.7,287.3 384.7,286.7 382.6,286.1 380.5,285.4 378.4,284.7 376.3,284.2 374.2,284 372.1,284 369.8,284.2 367.6,284.6 365.5,285 363.8,285.4 362.5,285.6" fill="#dc2f4e" fill-opacity="0.18"/>
<polygon points="362.5,276.4 363.8,276.1 365.5,275.6 367.6,275 369.8,274.4 372.1,274 374.2,273.9 376.3,274.1 378.4,274.5 380.5,275.1 382.6,275.8 384.7,276.5 386.7,277.3 388.7,278.1 390.6,279 392.5,279.9 394.4,281 396.2,282 398,283.1 399.8,284.3 401.6,285.6 403.3,286.9 405.1,288.2 406.7,289.5 408.4,290.7 409.9,291.7 411.4,292.6 412.8,293.5 414.3,294.4 415.8,295.4 417.4,296.5 419.2,297.8 420.9,299.1 422.8,300.6 424.7,302 426.8,303.5 429,304.9 431.4,306.3 434.1,307.7 437,309.2 439.8,310.6 442.4,312 444.7,313.3 446.5,314.5 448.1,315.6 449.5,316.6 450.8,317.7 452.2,318.8 453.8,320 455.5,321.3 457.1,322.7 458.8,324.1 460.7,325.5 462.8,327 465.4,328.3 468.7,329.7 472.8,331.2 477.1,332.6 481.3,333.9 484.9,335.1 487.5,335.9 487.5,337.9 484.9,337.1 481.3,335.9 477.1,334.6 472.8,333.2 468.7,331.7 465.4,330.3 462.8,329 460.7,327.5 458.8,326.1 457.1,324.7 455.5,323.3 453.8,322 452.2,320.8 450.8,319.7 449.5,318.6 448.1,317.6 446.5,316.5 444.7,315.3 442.4,314 439.8,312.6 437,311.2 434.1,309.8 431.4,308.3 429,306.9 426.8,305.5 424.7,304 422.8,302.6 420.9,301.1 419.2,299.8 417.4,298.5 415.8,297.4 414.3,296.5 412.8,295.6 411.4,294.7 409.9,293.7 408.4,292.7 406.7,291.5 405.1,290.2 403.3,288.9 401.6,287.6 399.8,286.3 398,285.1 396.2,284 394.4,283 392.5,281.9 390.6,281 388.7,280.1 386.7,279.3 384.7,278.5 382.6,277.8 380.5,277.1 378.4,276.5 376.3,276.1 374.2,275.9 372.1,276 369.8,276.4 367.6,277 365.5,277.6 363.8,278.1 362.5,278.4" fill="#f6a628" fill-opacity="0.18"/>
<polygon points="362.5,279.8 363.8,279.5 365.5,278.9 367.6,278.4 369.8,277.8 372.1,277.4 374.2,277.3 376.3,277.4 378.4,277.7 380.5,278.1 382.6,278.6 384.7,279.2 386.7,279.8 388.7,280.4 390.6,281.1 392.5,281.9 394.4,282.6 396.2,283.3 398,284 399.8,284.5 401.6,285 403.3,285.4 405.1,285.8 406.7,286.1 408.4,286.5 410,286.8 411.6,287.1 413.2,287.4 414.8,287.6 416.2,287.9 417.4,288.2 418.5,288.4 419.4,288.5 420.3,288.6 421,288.8 421.7,289.2 422.5,289.8 423.2,290.9 423.8,292.2 424.4,293.8 425,295.4 425.7,296.9 426.6,298.2 427.6,299.2 428.7,300 429.9,300.7 431.2,301.4 432.6,302.2 434,303.2 435.6,304.4 437.4,305.8 439.2,307.2 441.1,308.7 442.9,310.2 444.7,311.6 446.3,313 447.7,314.4 449.2,315.8 450.7,317.2 452.2,318.6 453.8,320 455.7,321.4 457.6,322.9 459.6,324.4 461.6,325.8 463.6,327.1 465.4,328.3 467,329.4 468.5,330.3 469.9,331.2 471.3,332 472.9,332.7 474.6,333.4 476.7,333.9 479.1,334.5 481.6,334.9 484,335.3 486,335.6 487.5,335.9 487.5,337.9 486,337.6 484,337.3 481.6,336.9 479.1,336.5 476.7,336 474.6,335.4 472.9,334.7 471.3,334 469.9,333.2 468.5,332.4 467,331.4 465.4,330.3 463.6,329.1 461.6,327.8 459.6,326.4 457.6,324.9 455.7,323.4 453.8,322 452.2,320.6 450.7,319.2 449.2,317.8 447.7,316.4 446.3,315 444.7,313.6 442.9,312.2 441.1,310.7 439.2,309.2 437.4,307.8 435.6,306.4 434,305.2 432.6,304.2 431.2,303.4 429.9,302.7 428.7,302 427.6,301.2 426.6,300.2 425.7,298.9 425,297.4 424.4,295.8 423.8,294.3 423.2,292.9 422.5,291.8 421.7,291.2 421,290.8 420.3,290.6 419.4,290.5 418.5,290.4 417.4,290.2 416.2,289.9 414.8,289.6 413.2,289.4 411.6,289.1 410,288.8 408.4,288.5 406.7,288.1 405.1,287.8 403.3,287.4 401.6,287 399.8,286.5 398,286 396.2,285.4 394.4,284.6 392.5,283.9 390.6,283.1 388.7,282.4 386.7,281.8 384.7,281.2 382.6,280.6 380.5,280.1 378.4,279.7 376.3,279.4 374.2,279.3 372.1,279.4 369.8,279.8 367.6,280.4 365.5,281 363.8,281.5 362.5,281.8" fill="#2f2ff5" fill-opacity="0.18"/>
<polyline points="362.5,284.1 363.8,283.9 365.5,283.5 367.6,283.1 369.8,282.7 372.1,282.5 374.2,282.5 376.3,282.7 378.4,283.2 380.5,283.9 382.6,284.6 384.7,285.2 386.7,285.8 388.7,286.2 390.6,286.6 392.5,286.9 394.4,287.3 396.2,287.7 398,288.3 399.8,289.1 401.6,290.1 403.3,291.1 405.1,292.2 406.7,293.2 408.4,294.2 409.9,295 411.4,295.9 412.8,296.6 414.3,297.4 415.8,298.3 417.4,299.2 419.2,300.2 420.9,301.2 422.8,302.3 424.7,303.5 426.8,304.7 429,305.9 431.3,307.1 433.7,308.3 436.3,309.6 438.9,310.9 441.7,312.5 444.7,314.3 447.8,316.5 451.2,319.1 454.6,321.9 458.2,324.6 461.8,327.2 465.4,329.3 469.3,331.1 473.5,332.7 477.7,334 481.7,335.2 485,336.1 487.5,336.9" fill="none" stroke="#3db595" stroke-width="1.35" stroke-linejoin="round"/>
<polyline points="362.5,284.6 363.8,284.4 365.5,284 367.6,283.6 369.8,283.2 372.1,283 374.2,283 376.3,283.2 378.4,283.7 380.5,284.4 382.6,285.1 384.7,285.7 386.7,286.3 388.7,286.7 390.6,287.1 392.5,287.4 394.4,287.8 396.2,288.2 398,288.8 399.8,289.6 401.6,290.6 403.3,291.6 405.1,292.7 406.7,293.7 408.4,294.7 409.9,295.5 411.4,296.4 412.8,297.1 414.3,297.9 415.8,298.8 417.4,299.7 419.2,300.7 420.9,301.8 422.8,302.8 424.7,304 426.8,305.2 429,306.4 431.3,307.6 433.7,308.8 436.3,310.1 438.9,311.4 441.7,313 444.7,314.8 447.8,317 451.2,319.6 454.6,322.4 458.2,325.1 461.8,327.7 465.4,329.8 469.3,331.6 473.5,333.2 477.7,334.5 481.7,335.7 485,336.6 487.5,337.4" fill="none" stroke="#dc2f4e" stroke-width="1.35" stroke-linejoin="round"/>
<polyline points="362.5,277.4 363.8,277.1 365.5,276.6 367.6,276 369.8,275.4 372.1,275 374.2,274.9 376.3,275.1 378.4,275.5 380.5,276.1 382.6,276.8 384.7,277.5 386.7,278.3 388.7,279.1 390.6,280 392.5,280.9 394.4,282 396.2,283 398,284.1 399.8,285.3 401.6,286.6 403.3,287.9 405.1,289.2 406.7,290.5 408.4,291.7 409.9,292.7 411.4,293.7 412.8,294.5 414.3,295.5 415.8,296.4 417.4,297.5 419.2,298.8 420.9,300.1 422.8,301.6 424.7,303 426.8,304.5 429,305.9 431.4,307.3 434.1,308.8 437,310.2 439.8,311.6 442.4,313 444.7,314.3 446.5,315.5 448.1,316.6 449.5,317.6 450.8,318.7 452.2,319.8 453.8,321 455.5,322.3 457.1,323.7 458.8,325.1 460.7,326.5 462.8,328 465.4,329.3 468.7,330.7 472.8,332.2 477.1,333.6 481.3,334.9 484.9,336.1 487.5,336.9" fill="none" stroke="#f6a628" stroke-width="1.35" stroke-linejoin="round"/>
<polyline points="362.5,280.8 363.8,280.5 365.5,280 367.6,279.4 369.8,278.8 372.1,278.4 374.2,278.3 376.3,278.4 378.4,278.7 380.5,279.1 382.6,279.6 384.7,280.2 386.7,280.8 388.7,281.4 390.6,282.1 392.5,282.9 394.4,283.6 396.2,284.4 398,285 399.8,285.5 401.6,286 403.3,286.4 405.1,286.8 406.7,287.1 408.4,287.5 410,287.8 411.6,288.1 413.2,288.4 414.8,288.6 416.2,288.9 417.4,289.2 418.5,289.4 419.4,289.5 420.3,289.6 421,289.8 421.7,290.2 422.5,290.8 423.2,291.9 423.8,293.2 424.4,294.8 425,296.4 425.7,297.9 426.6,299.2 427.6,300.2 428.7,301 429.9,301.7 431.2,302.4 432.6,303.2 434,304.2 435.6,305.4 437.4,306.8 439.2,308.2 441.1,309.7 442.9,311.2 444.7,312.6 446.3,314 447.7,315.4 449.2,316.8 450.7,318.2 452.2,319.6 453.8,321 455.7,322.4 457.6,323.9 459.6,325.4 461.6,326.8 463.6,328.1 465.4,329.3 467,330.4 468.5,331.3 469.9,332.2 471.3,333 472.9,333.7 474.6,334.4 476.7,334.9 479.1,335.5 481.6,335.9 484,336.3 486,336.6 487.5,336.9" fill="none" stroke="#2f2ff5" stroke-width="1.35" stroke-linejoin="round"/>
<line x1="362.1" y1="261.3" x2="442.9" y2="261.3" stroke="#111" stroke-width="1.4"/>
<line x1="362.1" y1="264.6" x2="418.4" y2="264.6" stroke="#f6a628" stroke-width="1.3"/>
<text x="423.3" y="359.5" font-size="7.7" fill="#222" stroke="#222" stroke-width="0.14" text-anchor="middle">Frequency [Hz]</text>
<text x="336.1" y="200.3" font-size="10.7" fill="#111" stroke="#111" stroke-width="0.19" text-anchor="middle" transform="rotate(-90 336.1 200.3)">wake</text>
<text x="345.3" y="200.3" font-size="7.9" fill="#222" stroke="#222" stroke-width="0.14" text-anchor="middle" transform="rotate(-90 345.3 200.3)">Power [dB]</text>
<text x="336.3" y="305.6" font-size="10.3" fill="#111" stroke="#111" stroke-width="0.19" text-anchor="middle" transform="rotate(-90 336.3 305.6)">NREM sleep</text>
<text x="345.3" y="305.6" font-size="7.9" fill="#222" stroke="#222" stroke-width="0.14" text-anchor="middle" transform="rotate(-90 345.3 305.6)">Power [dB]</text>
<text x="321.8" y="253" font-size="11.2" fill="#111" stroke="#111" stroke-width="0.2" text-anchor="middle" transform="rotate(-90 321.8 253)">oscillatory power</text>
<line x1="323.6" y1="163" x2="323.6" y2="343.5" stroke="#bdbdbd" stroke-width="0.9"/>
<text x="341.4" y="402" font-size="14" fill="#111" stroke="#111" stroke-width="0.25">L</text>
<text x="413" y="403.5" font-size="9.5" fill="#111" stroke="#111" stroke-width="0.17" text-anchor="middle">0-2 hrs post-dosing</text>
<rect x="361.9" y="410.8" width="124.5" height="83.2" fill="none" stroke="#7c7c7c" stroke-width="0.9"/>
<line x1="360.4" y1="410.8" x2="361.9" y2="410.8" stroke="#777" stroke-width="0.6"/>
<text x="359.9" y="413.3" font-size="7" fill="#222" stroke="#222" stroke-width="0.13" text-anchor="end">-20</text>
<line x1="360.4" y1="420.04" x2="361.9" y2="420.04" stroke="#777" stroke-width="0.6"/>
<text x="359.9" y="422.54" font-size="7" fill="#222" stroke="#222" stroke-width="0.13" text-anchor="end">-25</text>
<line x1="360.4" y1="429.29" x2="361.9" y2="429.29" stroke="#777" stroke-width="0.6"/>
<text x="359.9" y="431.79" font-size="7" fill="#222" stroke="#222" stroke-width="0.13" text-anchor="end">-30</text>
<line x1="360.4" y1="438.53" x2="361.9" y2="438.53" stroke="#777" stroke-width="0.6"/>
<text x="359.9" y="441.03" font-size="7" fill="#222" stroke="#222" stroke-width="0.13" text-anchor="end">-35</text>
<line x1="360.4" y1="447.78" x2="361.9" y2="447.78" stroke="#777" stroke-width="0.6"/>
<text x="359.9" y="450.28" font-size="7" fill="#222" stroke="#222" stroke-width="0.13" text-anchor="end">-40</text>
<line x1="360.4" y1="457.02" x2="361.9" y2="457.02" stroke="#777" stroke-width="0.6"/>
<text x="359.9" y="459.52" font-size="7" fill="#222" stroke="#222" stroke-width="0.13" text-anchor="end">-45</text>
<line x1="360.4" y1="466.27" x2="361.9" y2="466.27" stroke="#777" stroke-width="0.6"/>
<text x="359.9" y="468.77" font-size="7" fill="#222" stroke="#222" stroke-width="0.13" text-anchor="end">-50</text>
<line x1="360.4" y1="475.51" x2="361.9" y2="475.51" stroke="#777" stroke-width="0.6"/>
<text x="359.9" y="478.01" font-size="7" fill="#222" stroke="#222" stroke-width="0.13" text-anchor="end">-55</text>
<line x1="360.4" y1="484.76" x2="361.9" y2="484.76" stroke="#777" stroke-width="0.6"/>
<text x="359.9" y="487.26" font-size="7" fill="#222" stroke="#222" stroke-width="0.13" text-anchor="end">-60</text>
<line x1="360.4" y1="494" x2="361.9" y2="494" stroke="#777" stroke-width="0.6"/>
<text x="359.9" y="496.5" font-size="7" fill="#222" stroke="#222" stroke-width="0.13" text-anchor="end">-65</text>
<line x1="362.3" y1="494" x2="362.3" y2="495.8" stroke="#777" stroke-width="0.5"/>
<line x1="377.59" y1="494" x2="377.59" y2="495" stroke="#777" stroke-width="0.5"/>
<line x1="386.54" y1="494" x2="386.54" y2="495" stroke="#777" stroke-width="0.5"/>
<line x1="392.88" y1="494" x2="392.88" y2="495" stroke="#777" stroke-width="0.5"/>
<line x1="397.81" y1="494" x2="397.81" y2="495" stroke="#777" stroke-width="0.5"/>
<line x1="401.83" y1="494" x2="401.83" y2="495" stroke="#777" stroke-width="0.5"/>
<line x1="405.23" y1="494" x2="405.23" y2="495" stroke="#777" stroke-width="0.5"/>
<line x1="408.18" y1="494" x2="408.18" y2="495" stroke="#777" stroke-width="0.5"/>
<line x1="410.78" y1="494" x2="410.78" y2="495" stroke="#777" stroke-width="0.5"/>
<line x1="413.1" y1="494" x2="413.1" y2="495.8" stroke="#777" stroke-width="0.5"/>
<line x1="428.78" y1="494" x2="428.78" y2="495" stroke="#777" stroke-width="0.5"/>
<line x1="437.96" y1="494" x2="437.96" y2="495" stroke="#777" stroke-width="0.5"/>
<line x1="444.47" y1="494" x2="444.47" y2="495" stroke="#777" stroke-width="0.5"/>
<line x1="449.52" y1="494" x2="449.52" y2="495" stroke="#777" stroke-width="0.5"/>
<line x1="453.64" y1="494" x2="453.64" y2="495" stroke="#777" stroke-width="0.5"/>
<line x1="457.13" y1="494" x2="457.13" y2="495" stroke="#777" stroke-width="0.5"/>
<line x1="460.15" y1="494" x2="460.15" y2="495" stroke="#777" stroke-width="0.5"/>
<line x1="462.82" y1="494" x2="462.82" y2="495" stroke="#777" stroke-width="0.5"/>
<line x1="465.2" y1="494" x2="465.2" y2="495.8" stroke="#777" stroke-width="0.5"/>
<line x1="480.88" y1="494" x2="480.88" y2="495" stroke="#777" stroke-width="0.5"/>
<text x="362.3" y="503" font-size="7" fill="#222" stroke="#222" stroke-width="0.13" text-anchor="middle">1</text>
<text x="413.1" y="503" font-size="7" fill="#222" stroke="#222" stroke-width="0.13" text-anchor="middle">10</text>
<text x="465.2" y="503" font-size="7" fill="#222" stroke="#222" stroke-width="0.13" text-anchor="middle">100</text>
<polygon points="362.3,437.4 364,437.2 366.5,436.8 369.4,436.4 372.4,436.1 375.2,435.7 377.6,435.6 379.5,435.5 381,435.6 382.5,435.7 383.8,436 385.1,436.2 386.5,436.5 388.1,436.9 389.7,437.5 391.3,438.1 392.8,438.6 394.3,439.1 395.5,439.3 396.5,439.3 397.3,439.2 397.9,438.9 398.5,438.6 399.2,438.1 399.9,437.4 400.8,436.5 401.7,435.2 402.6,433.8 403.5,432.5 404.4,431.4 405.2,431 406,431 406.8,431.5 407.5,432.3 408.2,433.3 408.9,434.4 409.5,435.6 410.1,436.9 410.6,438.5 411,440.1 411.5,441.8 412.2,443.4 413.1,444.8 414.3,445.9 415.7,446.9 417.2,447.7 418.8,448.5 420.5,449.4 422.3,450.4 424.1,451.5 426,452.8 428,454.1 430,455.4 431.9,456.6 433.8,457.8 435.7,458.8 437.5,459.7 439.3,460.5 441.1,461.4 442.8,462.3 444.5,463.3 446.1,464.4 447.5,465.6 449,466.8 450.5,468.1 452,469.4 453.6,470.7 455.5,472.1 457.4,473.6 459.4,475.1 461.4,476.6 463.4,477.9 465.2,479 466.8,479.9 468.3,480.7 469.7,481.3 471.1,481.8 472.7,482.3 474.4,482.7 476.5,483.2 478.9,483.5 481.4,483.9 483.8,484.2 485.8,484.4 487.3,484.6 487.3,486.8 485.8,486.6 483.8,486.4 481.4,486.1 478.9,485.8 476.5,485.4 474.4,484.9 472.7,484.5 471.1,484 469.7,483.5 468.3,482.9 466.8,482.1 465.2,481.2 463.4,480.1 461.4,478.8 459.4,477.3 457.4,475.8 455.5,474.3 453.6,472.9 452,471.6 450.5,470.3 449,469.1 447.5,467.8 446.1,466.6 444.5,465.5 442.8,464.5 441.1,463.6 439.3,462.8 437.5,461.9 435.7,461 433.8,460 431.9,458.8 430,457.6 428,456.3 426,455 424.1,453.7 422.3,452.6 420.5,451.6 418.8,450.7 417.2,449.9 415.7,449.1 414.3,448.2 413.1,447 412.2,445.7 411.5,444.1 411,442.4 410.6,440.7 410.1,439.1 409.5,437.8 408.9,436.6 408.2,435.5 407.5,434.5 406.8,433.7 406,433.2 405.2,433.2 404.4,433.7 403.5,434.7 402.6,436 401.7,437.4 400.8,438.7 399.9,439.6 399.2,440.3 398.5,440.8 397.9,441.1 397.3,441.4 396.5,441.5 395.5,441.5 394.3,441.3 392.8,440.8 391.3,440.3 389.7,439.7 388.1,439.1 386.5,438.7 385.1,438.4 383.8,438.2 382.5,438 381,437.8 379.5,437.8 377.6,437.8 375.2,438 372.4,438.3 369.4,438.7 366.5,439.1 364,439.4 362.3,439.6" fill="#3db595" fill-opacity="0.18"/>
<polygon points="362.3,438.5 364,438.3 366.5,438 369.4,437.6 372.4,437.2 375.2,436.9 377.6,436.7 379.5,436.7 381,436.7 382.5,436.9 383.8,437.1 385.1,437.3 386.5,437.6 388.1,438 389.7,438.6 391.3,439.2 392.8,439.7 394.3,440.2 395.5,440.4 396.5,440.4 397.3,440.3 397.9,440 398.5,439.7 399.2,439.2 399.9,438.5 400.8,437.6 401.7,436.3 402.6,434.9 403.5,433.6 404.4,432.6 405.2,432.1 406,432.1 406.8,432.6 407.5,433.4 408.2,434.4 408.9,435.5 409.5,436.7 410.1,438 410.6,439.6 411,441.2 411.5,443 412.2,444.5 413.1,445.9 414.3,447 415.7,448 417.2,448.8 418.8,449.6 420.5,450.5 422.3,451.5 424.1,452.6 426,453.9 428,455.2 430,456.5 431.9,457.7 433.8,458.9 435.7,459.9 437.5,460.8 439.3,461.6 441.1,462.5 442.8,463.4 444.5,464.4 446.1,465.5 447.5,466.7 449,467.9 450.5,469.2 452,470.5 453.6,471.8 455.5,473.2 457.4,474.7 459.4,476.2 461.4,477.7 463.4,479 465.2,480.1 466.8,481 468.3,481.8 469.7,482.4 471.1,482.9 472.7,483.4 474.4,483.8 476.5,484.3 478.9,484.7 481.4,485 483.8,485.3 485.8,485.5 487.3,485.7 487.3,487.9 485.8,487.7 483.8,487.5 481.4,487.2 478.9,486.9 476.5,486.5 474.4,486 472.7,485.6 471.1,485.1 469.7,484.6 468.3,484 466.8,483.3 465.2,482.4 463.4,481.2 461.4,479.9 459.4,478.4 457.4,476.9 455.5,475.4 453.6,474 452,472.7 450.5,471.4 449,470.2 447.5,468.9 446.1,467.8 444.5,466.6 442.8,465.6 441.1,464.7 439.3,463.9 437.5,463 435.7,462.1 433.8,461.1 431.9,459.9 430,458.7 428,457.4 426,456.1 424.1,454.8 422.3,453.7 420.5,452.7 418.8,451.8 417.2,451 415.7,450.2 414.3,449.3 413.1,448.1 412.2,446.8 411.5,445.2 411,443.5 410.6,441.8 410.1,440.2 409.5,438.9 408.9,437.7 408.2,436.6 407.5,435.6 406.8,434.8 406,434.4 405.2,434.3 404.4,434.8 403.5,435.8 402.6,437.1 401.7,438.5 400.8,439.8 399.9,440.8 399.2,441.4 398.5,441.9 397.9,442.3 397.3,442.5 396.5,442.6 395.5,442.6 394.3,442.4 392.8,442 391.3,441.4 389.7,440.8 388.1,440.2 386.5,439.8 385.1,439.5 383.8,439.3 382.5,439.1 381,438.9 379.5,438.9 377.6,438.9 375.2,439.1 372.4,439.4 369.4,439.8 366.5,440.2 364,440.5 362.3,440.8" fill="#dc2f4e" fill-opacity="0.18"/>
<polygon points="362.3,429.1 363.7,428.5 365.7,427.6 368.1,426.6 370.6,425.6 373.1,424.8 375.3,424.5 377.2,424.6 379.2,425.1 381,425.8 382.8,426.6 384.7,427.5 386.5,428.2 388.5,428.9 390.4,429.6 392.4,430.4 394.3,431.1 396.2,431.6 397.8,431.9 399.3,431.8 400.7,431.4 402,430.8 403.1,430.3 404.2,430 405.2,430 406.1,430.5 406.9,431.3 407.6,432.2 408.3,433.3 408.9,434.5 409.5,435.6 410,436.6 410.3,437.7 410.6,438.8 411,440 411.8,441.4 413.1,443 415,444.8 417.4,446.9 420.2,449.2 423.1,451.5 426,453.8 428.8,455.9 431.3,457.9 433.8,459.7 436.3,461.6 438.9,463.4 441.6,465.2 444.5,467 447.6,468.9 451,470.9 454.4,472.9 458,474.8 461.6,476.6 465.2,478.1 469.1,479.4 473.3,480.6 477.5,481.6 481.5,482.4 484.8,483.1 487.3,483.6 487.3,485.9 484.8,485.3 481.5,484.6 477.5,483.8 473.3,482.8 469.1,481.6 465.2,480.3 461.6,478.8 458,477 454.4,475.1 451,473.1 447.6,471.1 444.5,469.2 441.6,467.4 438.9,465.6 436.3,463.8 433.8,462 431.3,460.1 428.8,458.1 426,456 423.1,453.7 420.2,451.4 417.4,449.2 415,447 413.1,445.2 411.8,443.6 411,442.2 410.6,441 410.3,439.9 410,438.9 409.5,437.8 408.9,436.7 408.3,435.5 407.6,434.4 406.9,433.5 406.1,432.7 405.2,432.2 404.2,432.2 403.1,432.5 402,433.1 400.7,433.6 399.3,434 397.8,434.1 396.2,433.8 394.3,433.3 392.4,432.6 390.4,431.8 388.5,431.1 386.5,430.4 384.7,429.7 382.8,428.9 381,428 379.2,427.3 377.2,426.8 375.3,426.7 373.1,427 370.6,427.8 368.1,428.8 365.7,429.8 363.7,430.7 362.3,431.3" fill="#f6a628" fill-opacity="0.18"/>
<polygon points="362.3,437.4 364,437.2 366.5,436.8 369.4,436.4 372.4,436.1 375.2,435.7 377.6,435.6 379.5,435.5 381,435.6 382.5,435.7 383.8,436 385.1,436.2 386.5,436.5 388.1,436.9 389.7,437.5 391.3,438.1 392.8,438.6 394.3,439.1 395.5,439.3 396.5,439.3 397.3,439.2 397.9,438.9 398.5,438.6 399.2,438.1 399.9,437.4 400.8,436.5 401.7,435.2 402.6,433.8 403.5,432.5 404.4,431.4 405.2,431 406,431 406.8,431.5 407.5,432.3 408.2,433.3 408.9,434.4 409.5,435.6 410.1,436.9 410.6,438.5 411,440.1 411.5,441.8 412.2,443.4 413.1,444.8 414.3,445.9 415.7,446.9 417.2,447.7 418.8,448.5 420.5,449.4 422.3,450.4 424.1,451.5 426,452.7 428,454 430,455.3 431.9,456.6 433.8,457.8 435.7,458.8 437.5,459.8 439.3,460.8 441.1,461.8 442.8,462.8 444.5,463.9 446.1,465 447.5,466.2 449,467.4 450.5,468.7 452,470 453.6,471.3 455.5,472.6 457.4,474.1 459.4,475.6 461.4,477.1 463.4,478.4 465.2,479.6 466.8,480.5 468.3,481.2 469.7,481.8 471.1,482.4 472.7,482.8 474.4,483.3 476.5,483.7 478.9,484.1 481.4,484.4 483.8,484.7 485.8,484.9 487.3,485.1 487.3,487.3 485.8,487.2 483.8,486.9 481.4,486.7 478.9,486.3 476.5,485.9 474.4,485.5 472.7,485 471.1,484.6 469.7,484.1 468.3,483.4 466.8,482.7 465.2,481.8 463.4,480.7 461.4,479.3 459.4,477.9 457.4,476.4 455.5,474.9 453.6,473.5 452,472.2 450.5,470.9 449,469.6 447.5,468.4 446.1,467.2 444.5,466.1 442.8,465 441.1,464 439.3,463 437.5,462.1 435.7,461.1 433.8,460 431.9,458.8 430,457.5 428,456.2 426,455 424.1,453.7 422.3,452.6 420.5,451.6 418.8,450.7 417.2,449.9 415.7,449.1 414.3,448.2 413.1,447 412.2,445.7 411.5,444.1 411,442.4 410.6,440.7 410.1,439.1 409.5,437.8 408.9,436.6 408.2,435.5 407.5,434.5 406.8,433.7 406,433.2 405.2,433.2 404.4,433.7 403.5,434.7 402.6,436 401.7,437.4 400.8,438.7 399.9,439.6 399.2,440.3 398.5,440.8 397.9,441.1 397.3,441.4 396.5,441.5 395.5,441.5 394.3,441.3 392.8,440.8 391.3,440.3 389.7,439.7 388.1,439.1 386.5,438.7 385.1,438.4 383.8,438.2 382.5,438 381,437.8 379.5,437.8 377.6,437.8 375.2,438 372.4,438.3 369.4,438.7 366.5,439.1 364,439.4 362.3,439.6" fill="#2f2ff5" fill-opacity="0.18"/>
<polyline points="362.3,438.5 364,438.3 366.5,438 369.4,437.6 372.4,437.2 375.2,436.9 377.6,436.7 379.5,436.7 381,436.7 382.5,436.9 383.8,437.1 385.1,437.3 386.5,437.6 388.1,438 389.7,438.6 391.3,439.2 392.8,439.7 394.3,440.2 395.5,440.4 396.5,440.4 397.3,440.3 397.9,440 398.5,439.7 399.2,439.2 399.9,438.5 400.8,437.6 401.7,436.3 402.6,434.9 403.5,433.6 404.4,432.6 405.2,432.1 406,432.1 406.8,432.6 407.5,433.4 408.2,434.4 408.9,435.5 409.5,436.7 410.1,438 410.6,439.6 411,441.2 411.5,443 412.2,444.5 413.1,445.9 414.3,447 415.7,448 417.2,448.8 418.8,449.6 420.5,450.5 422.3,451.5 424.1,452.6 426,453.9 428,455.2 430,456.5 431.9,457.7 433.8,458.9 435.7,459.9 437.5,460.8 439.3,461.6 441.1,462.5 442.8,463.4 444.5,464.4 446.1,465.5 447.5,466.7 449,467.9 450.5,469.2 452,470.5 453.6,471.8 455.5,473.2 457.4,474.7 459.4,476.2 461.4,477.7 463.4,479 465.2,480.1 466.8,481 468.3,481.8 469.7,482.4 471.1,482.9 472.7,483.4 474.4,483.8 476.5,484.3 478.9,484.7 481.4,485 483.8,485.3 485.8,485.5 487.3,485.7" fill="none" stroke="#3db595" stroke-width="1.35" stroke-linejoin="round"/>
<polyline points="362.3,439.6 364,439.4 366.5,439.1 369.4,438.7 372.4,438.3 375.2,438 377.6,437.8 379.5,437.8 381,437.8 382.5,438 383.8,438.2 385.1,438.4 386.5,438.7 388.1,439.1 389.7,439.7 391.3,440.3 392.8,440.8 394.3,441.3 395.5,441.5 396.5,441.5 397.3,441.4 397.9,441.1 398.5,440.8 399.2,440.3 399.9,439.6 400.8,438.7 401.7,437.4 402.6,436 403.5,434.7 404.4,433.7 405.2,433.2 406,433.2 406.8,433.7 407.5,434.5 408.2,435.5 408.9,436.6 409.5,437.8 410.1,439.1 410.6,440.7 411,442.4 411.5,444.1 412.2,445.7 413.1,447 414.3,448.2 415.7,449.1 417.2,449.9 418.8,450.7 420.5,451.6 422.3,452.6 424.1,453.7 426,455 428,456.3 430,457.6 431.9,458.8 433.8,460 435.7,461 437.5,461.9 439.3,462.8 441.1,463.6 442.8,464.5 444.5,465.5 446.1,466.6 447.5,467.8 449,469.1 450.5,470.3 452,471.6 453.6,472.9 455.5,474.3 457.4,475.8 459.4,477.3 461.4,478.8 463.4,480.1 465.2,481.2 466.8,482.1 468.3,482.9 469.7,483.5 471.1,484 472.7,484.5 474.4,484.9 476.5,485.4 478.9,485.8 481.4,486.1 483.8,486.4 485.8,486.6 487.3,486.8" fill="none" stroke="#dc2f4e" stroke-width="1.35" stroke-linejoin="round"/>
<polyline points="362.3,430.2 363.7,429.6 365.7,428.7 368.1,427.7 370.6,426.7 373.1,425.9 375.3,425.6 377.2,425.7 379.2,426.2 381,426.9 382.8,427.7 384.7,428.6 386.5,429.3 388.5,430 390.4,430.7 392.4,431.5 394.3,432.2 396.2,432.7 397.8,433 399.3,432.9 400.7,432.5 402,431.9 403.1,431.4 404.2,431.1 405.2,431.1 406.1,431.6 406.9,432.4 407.6,433.3 408.3,434.4 408.9,435.6 409.5,436.7 410,437.7 410.3,438.8 410.6,439.9 411,441.1 411.8,442.5 413.1,444.1 415,445.9 417.4,448.1 420.2,450.3 423.1,452.6 426,454.9 428.8,457 431.3,459 433.8,460.9 436.3,462.7 438.9,464.5 441.6,466.3 444.5,468.1 447.6,470 451,472 454.4,474 458,475.9 461.6,477.7 465.2,479.2 469.1,480.5 473.3,481.7 477.5,482.7 481.5,483.5 484.8,484.2 487.3,484.8" fill="none" stroke="#f6a628" stroke-width="1.35" stroke-linejoin="round"/>
<polyline points="362.3,438.5 364,438.3 366.5,438 369.4,437.6 372.4,437.2 375.2,436.9 377.6,436.7 379.5,436.7 381,436.7 382.5,436.9 383.8,437.1 385.1,437.3 386.5,437.6 388.1,438 389.7,438.6 391.3,439.2 392.8,439.7 394.3,440.2 395.5,440.4 396.5,440.4 397.3,440.3 397.9,440 398.5,439.7 399.2,439.2 399.9,438.5 400.8,437.6 401.7,436.3 402.6,434.9 403.5,433.6 404.4,432.6 405.2,432.1 406,432.1 406.8,432.6 407.5,433.4 408.2,434.4 408.9,435.5 409.5,436.7 410.1,438 410.6,439.6 411,441.2 411.5,443 412.2,444.5 413.1,445.9 414.3,447 415.7,448 417.2,448.8 418.8,449.6 420.5,450.5 422.3,451.5 424.1,452.6 426,453.9 428,455.1 430,456.4 431.9,457.7 433.8,458.9 435.7,459.9 437.5,461 439.3,461.9 441.1,462.9 442.8,463.9 444.5,465 446.1,466.1 447.5,467.3 449,468.5 450.5,469.8 452,471.1 453.6,472.4 455.5,473.8 457.4,475.2 459.4,476.8 461.4,478.2 463.4,479.6 465.2,480.7 466.8,481.6 468.3,482.3 469.7,482.9 471.1,483.5 472.7,483.9 474.4,484.4 476.5,484.8 478.9,485.2 481.4,485.5 483.8,485.8 485.8,486.1 487.3,486.2" fill="none" stroke="#2f2ff5" stroke-width="1.35" stroke-linejoin="round"/>
<line x1="363" y1="412.8" x2="373.4" y2="412.8" stroke="#bbbbbb" stroke-width="1.3"/>
<line x1="385.6" y1="412.8" x2="400" y2="412.8" stroke="#bbbbbb" stroke-width="1.3"/>
<line x1="381" y1="414.4" x2="399" y2="414.4" stroke="#3db595" stroke-width="1.3"/>
<line x1="414.2" y1="412.8" x2="454" y2="412.8" stroke="#111" stroke-width="1.3"/>
<line x1="415.2" y1="414.4" x2="445" y2="414.4" stroke="#3db595" stroke-width="1.3"/>
<line x1="363" y1="416.4" x2="404" y2="416.4" stroke="#f6a628" stroke-width="1.3"/>
<line x1="409" y1="416.4" x2="437" y2="416.4" stroke="#f6a628" stroke-width="1.3"/>
<line x1="443" y1="416.4" x2="464.3" y2="416.4" stroke="#fcd9a0" stroke-width="1.3"/>
<path d="M469.3,422.4 C473.3,422.4 480.8,430.4 480.8,437.4 C480.8,441.4 478.3,443.4 477.3,444.4 C479.3,446.4 478.8,450.4 473.8,451.4 L472.3,457.9 C470.3,458.4 468.3,458.4 466.3,457.9 L464.8,451.4 C459.8,450.4 459.3,446.4 461.3,444.4 C460.3,443.4 457.8,441.4 457.8,437.4 C457.8,430.4 465.3,422.4 469.3,422.4 Z" fill="#e0b9b5" />
<path d="M469.3,423.4 L469.3,443.4" fill="none" stroke="#cc9a96" stroke-width="0.6" />
<path d="M461.3,443.9 Q469.3,441.4 477.3,443.9" fill="none" stroke="#cc9a96" stroke-width="0.5" />
<path d="M464.8,451.4 Q469.3,452.9 473.8,451.4" fill="none" stroke="#cc9a96" stroke-width="0.5" />
<circle cx="468.8" cy="433.7" r="1.2" fill="#8f9ee8" stroke="#3b4bd0" stroke-width="0.5"/>
<text x="448.3" y="429.5" font-size="6.6" fill="#222" stroke="#222" stroke-width="0.12">parietal</text>
<text x="448.3" y="437.3" font-size="6.6" fill="#222" stroke="#222" stroke-width="0.12">EEG</text>
<rect x="361.9" y="511.8" width="124.5" height="83.2" fill="none" stroke="#7c7c7c" stroke-width="0.9"/>
<line x1="360.4" y1="511.8" x2="361.9" y2="511.8" stroke="#777" stroke-width="0.6"/>
<text x="359.9" y="514.3" font-size="7" fill="#222" stroke="#222" stroke-width="0.13" text-anchor="end">-20</text>
<line x1="360.4" y1="528.44" x2="361.9" y2="528.44" stroke="#777" stroke-width="0.6"/>
<text x="359.9" y="530.94" font-size="7" fill="#222" stroke="#222" stroke-width="0.13" text-anchor="end">-30</text>
<line x1="360.4" y1="545.08" x2="361.9" y2="545.08" stroke="#777" stroke-width="0.6"/>
<text x="359.9" y="547.58" font-size="7" fill="#222" stroke="#222" stroke-width="0.13" text-anchor="end">-40</text>
<line x1="360.4" y1="561.72" x2="361.9" y2="561.72" stroke="#777" stroke-width="0.6"/>
<text x="359.9" y="564.22" font-size="7" fill="#222" stroke="#222" stroke-width="0.13" text-anchor="end">-50</text>
<line x1="360.4" y1="578.36" x2="361.9" y2="578.36" stroke="#777" stroke-width="0.6"/>
<text x="359.9" y="580.86" font-size="7" fill="#222" stroke="#222" stroke-width="0.13" text-anchor="end">-60</text>
<line x1="360.4" y1="595" x2="361.9" y2="595" stroke="#777" stroke-width="0.6"/>
<text x="359.9" y="597.5" font-size="7" fill="#222" stroke="#222" stroke-width="0.13" text-anchor="end">-70</text>
<line x1="362.3" y1="595" x2="362.3" y2="596.8" stroke="#777" stroke-width="0.5"/>
<line x1="377.59" y1="595" x2="377.59" y2="596" stroke="#777" stroke-width="0.5"/>
<line x1="386.54" y1="595" x2="386.54" y2="596" stroke="#777" stroke-width="0.5"/>
<line x1="392.88" y1="595" x2="392.88" y2="596" stroke="#777" stroke-width="0.5"/>
<line x1="397.81" y1="595" x2="397.81" y2="596" stroke="#777" stroke-width="0.5"/>
<line x1="401.83" y1="595" x2="401.83" y2="596" stroke="#777" stroke-width="0.5"/>
<line x1="405.23" y1="595" x2="405.23" y2="596" stroke="#777" stroke-width="0.5"/>
<line x1="408.18" y1="595" x2="408.18" y2="596" stroke="#777" stroke-width="0.5"/>
<line x1="410.78" y1="595" x2="410.78" y2="596" stroke="#777" stroke-width="0.5"/>
<line x1="413.1" y1="595" x2="413.1" y2="596.8" stroke="#777" stroke-width="0.5"/>
<line x1="428.78" y1="595" x2="428.78" y2="596" stroke="#777" stroke-width="0.5"/>
<line x1="437.96" y1="595" x2="437.96" y2="596" stroke="#777" stroke-width="0.5"/>
<line x1="444.47" y1="595" x2="444.47" y2="596" stroke="#777" stroke-width="0.5"/>
<line x1="449.52" y1="595" x2="449.52" y2="596" stroke="#777" stroke-width="0.5"/>
<line x1="453.64" y1="595" x2="453.64" y2="596" stroke="#777" stroke-width="0.5"/>
<line x1="457.13" y1="595" x2="457.13" y2="596" stroke="#777" stroke-width="0.5"/>
<line x1="460.15" y1="595" x2="460.15" y2="596" stroke="#777" stroke-width="0.5"/>
<line x1="462.82" y1="595" x2="462.82" y2="596" stroke="#777" stroke-width="0.5"/>
<line x1="465.2" y1="595" x2="465.2" y2="596.8" stroke="#777" stroke-width="0.5"/>
<line x1="480.88" y1="595" x2="480.88" y2="596" stroke="#777" stroke-width="0.5"/>
<text x="362.3" y="604" font-size="7" fill="#222" stroke="#222" stroke-width="0.13" text-anchor="middle">1</text>
<text x="413.1" y="604" font-size="7" fill="#222" stroke="#222" stroke-width="0.13" text-anchor="middle">10</text>
<text x="465.2" y="604" font-size="7" fill="#222" stroke="#222" stroke-width="0.13" text-anchor="middle">100</text>
<polygon points="362.3,529.9 363.6,529.5 365.3,528.9 367.4,528.1 369.6,527.4 371.9,526.9 374,526.6 376,526.7 378,526.9 380,527.3 382.1,527.9 384.3,528.5 386.5,529.1 389,529.8 391.6,530.6 394.3,531.5 396.9,532.4 399.5,533.3 401.8,534.1 403.9,534.8 405.7,535.5 407.4,536.1 409.2,536.7 411,537.4 413.1,538.3 415.4,539.1 417.8,540 420.4,541 423,542.1 425.8,543.4 428.8,544.9 432,546.7 435.5,548.8 439.2,551 442.8,553.4 446.3,555.8 449.5,558.2 452.3,560.7 454.9,563.2 457.3,565.8 459.7,568.4 462.3,570.9 465.2,573.2 468.8,575.5 472.9,577.8 477.2,580 481.3,582 484.8,583.6 487.3,584.8 487.3,586.8 484.8,585.6 481.3,583.9 477.2,582 472.9,579.8 468.8,577.5 465.2,575.2 462.3,572.9 459.7,570.4 457.3,567.8 454.9,565.2 452.3,562.7 449.5,560.2 446.3,557.8 442.8,555.4 439.2,553 435.5,550.8 432,548.7 428.8,546.9 425.8,545.4 423,544.1 420.4,543 417.8,542 415.4,541.1 413.1,540.3 411,539.4 409.2,538.7 407.4,538.1 405.7,537.5 403.9,536.8 401.8,536.1 399.5,535.3 396.9,534.4 394.3,533.5 391.6,532.6 389,531.8 386.5,531.1 384.3,530.5 382.1,529.9 380,529.3 378,528.9 376,528.7 374,528.6 371.9,528.9 369.6,529.4 367.4,530.1 365.3,530.9 363.6,531.5 362.3,531.9" fill="#3db595" fill-opacity="0.18"/>
<polygon points="362.3,530.8 363.6,530.3 365.3,529.7 367.4,528.9 369.6,528.2 371.9,527.7 374,527.4 376,527.5 378,527.7 380,528.2 382.1,528.7 384.3,529.3 386.5,529.9 389,530.6 391.6,531.4 394.3,532.3 396.9,533.2 399.5,534.1 401.8,534.9 403.9,535.6 405.7,536.3 407.4,536.9 409.2,537.5 411,538.3 413.1,539.1 415.4,540 417.8,540.9 420.4,541.8 423,542.9 425.8,544.2 428.8,545.7 432,547.6 435.5,549.6 439.2,551.9 442.8,554.3 446.3,556.7 449.5,559.1 452.3,561.5 454.9,564 457.3,566.6 459.7,569.2 462.3,571.7 465.2,574 468.8,576.3 472.9,578.6 477.2,580.8 481.3,582.8 484.8,584.5 487.3,585.7 487.3,587.7 484.8,586.4 481.3,584.8 477.2,582.8 472.9,580.6 468.8,578.3 465.2,576 462.3,573.7 459.7,571.2 457.3,568.6 454.9,566 452.3,563.5 449.5,561.1 446.3,558.7 442.8,556.2 439.2,553.9 435.5,551.6 432,549.6 428.8,547.7 425.8,546.2 423,544.9 420.4,543.8 417.8,542.9 415.4,542 413.1,541.1 411,540.3 409.2,539.5 407.4,538.9 405.7,538.3 403.9,537.6 401.8,536.9 399.5,536.1 396.9,535.2 394.3,534.3 391.6,533.4 389,532.6 386.5,531.9 384.3,531.3 382.1,530.7 380,530.2 378,529.7 376,529.5 374,529.4 371.9,529.7 369.6,530.2 367.4,530.9 365.3,531.7 363.6,532.3 362.3,532.8" fill="#dc2f4e" fill-opacity="0.18"/>
<polygon points="362.3,520.8 363.7,520.1 365.7,519.1 368.1,517.9 370.6,516.8 373.1,516 375.3,515.8 377.2,516.2 379,517 380.8,518.2 382.5,519.6 384.4,521 386.5,522.4 388.9,524 391.5,525.7 394.2,527.5 396.9,529.4 399.5,531 401.8,532.4 403.9,533.5 405.7,534.3 407.4,534.9 409.2,535.6 411,536.4 413.1,537.4 415.4,538.7 417.8,540.2 420.4,541.8 423,543.5 425.8,545.4 428.8,547.4 432,549.7 435.5,552.2 439.2,554.8 442.8,557.5 446.3,560 449.5,562.4 452.3,564.5 454.9,566.5 457.3,568.4 459.7,570.3 462.3,572.1 465.2,574 468.8,576.1 472.9,578.3 477.2,580.6 481.3,582.7 484.8,584.4 487.3,585.7 487.3,587.7 484.8,586.4 481.3,584.7 477.2,582.6 472.9,580.3 468.8,578.1 465.2,576 462.3,574.1 459.7,572.3 457.3,570.4 454.9,568.5 452.3,566.5 449.5,564.4 446.3,562 442.8,559.5 439.2,556.8 435.5,554.2 432,551.7 428.8,549.4 425.8,547.4 423,545.5 420.4,543.8 417.8,542.2 415.4,540.7 413.1,539.4 411,538.4 409.2,537.6 407.4,536.9 405.7,536.3 403.9,535.5 401.8,534.4 399.5,533 396.9,531.3 394.2,529.5 391.5,527.7 388.9,526 386.5,524.4 384.4,523 382.5,521.5 380.8,520.2 379,519 377.2,518.2 375.3,517.8 373.1,518 370.6,518.8 368.1,519.9 365.7,521.1 363.7,522.1 362.3,522.8" fill="#f6a628" fill-opacity="0.18"/>
<polygon points="362.3,528.3 363.6,527.7 365.3,526.9 367.4,526 369.6,525.1 371.9,524.4 374,524.1 376,524.2 378,524.6 380,525.2 382.1,525.9 384.3,526.7 386.5,527.4 389,528.2 391.6,529 394.3,529.9 396.9,530.8 399.5,531.7 401.8,532.4 404,533.1 406,533.7 407.9,534.2 409.8,534.7 411.5,535.2 413.1,535.8 414.6,536.3 416,536.9 417.3,537.5 418.5,538.1 419.7,538.6 420.7,539.1 421.6,539.3 422.3,539.4 422.8,539.4 423.4,539.5 424.2,539.9 425.1,540.8 426.2,542.2 427.4,544 428.8,546.2 430.2,548.4 431.9,550.5 433.8,552.4 436.1,554 438.8,555.4 441.7,556.8 444.6,558.1 447.3,559.4 449.5,560.7 451.2,562.1 452.6,563.6 453.8,565 454.9,566.4 455.9,567.8 457.1,569 458.3,570.2 459.3,571.3 460.3,572.3 461.5,573.3 463,574.4 465.2,575.7 468.3,577.3 472.3,579.1 476.7,581.1 481,583 484.7,584.6 487.3,585.7 487.3,587.7 484.7,586.6 481,585 476.7,583.1 472.3,581.1 468.3,579.3 465.2,577.7 463,576.4 461.5,575.3 460.3,574.3 459.3,573.3 458.3,572.2 457.1,571 455.9,569.7 454.9,568.4 453.8,567 452.6,565.6 451.2,564.1 449.5,562.7 447.3,561.4 444.6,560.1 441.7,558.8 438.8,557.4 436.1,556 433.8,554.4 431.9,552.5 430.2,550.4 428.8,548.2 427.4,546 426.2,544.2 425.1,542.8 424.2,541.9 423.4,541.5 422.8,541.4 422.3,541.4 421.6,541.3 420.7,541.1 419.7,540.6 418.5,540.1 417.3,539.5 416,538.9 414.6,538.3 413.1,537.8 411.5,537.2 409.8,536.7 407.9,536.2 406,535.7 404,535.1 401.8,534.4 399.5,533.7 396.9,532.8 394.3,531.9 391.6,531 389,530.2 386.5,529.4 384.3,528.7 382.1,527.9 380,527.2 378,526.6 376,526.2 374,526.1 371.9,526.4 369.6,527.1 367.4,528 365.3,528.9 363.6,529.7 362.3,530.3" fill="#2f2ff5" fill-opacity="0.18"/>
<polyline points="362.3,530.9 363.6,530.5 365.3,529.9 367.4,529.1 369.6,528.4 371.9,527.9 374,527.6 376,527.7 378,527.9 380,528.3 382.1,528.9 384.3,529.5 386.5,530.1 389,530.8 391.6,531.6 394.3,532.5 396.9,533.4 399.5,534.3 401.8,535.1 403.9,535.8 405.7,536.5 407.4,537.1 409.2,537.7 411,538.4 413.1,539.3 415.4,540.1 417.8,541 420.4,542 423,543.1 425.8,544.4 428.8,545.9 432,547.7 435.5,549.8 439.2,552 442.8,554.4 446.3,556.8 449.5,559.2 452.3,561.7 454.9,564.2 457.3,566.8 459.7,569.4 462.3,571.9 465.2,574.2 468.8,576.5 472.9,578.8 477.2,581 481.3,583 484.8,584.6 487.3,585.8" fill="none" stroke="#3db595" stroke-width="1.35" stroke-linejoin="round"/>
<polyline points="362.3,531.8 363.6,531.3 365.3,530.7 367.4,529.9 369.6,529.2 371.9,528.7 374,528.4 376,528.5 378,528.7 380,529.2 382.1,529.7 384.3,530.3 386.5,530.9 389,531.6 391.6,532.4 394.3,533.3 396.9,534.2 399.5,535.1 401.8,535.9 403.9,536.6 405.7,537.3 407.4,537.9 409.2,538.5 411,539.3 413.1,540.1 415.4,541 417.8,541.9 420.4,542.8 423,543.9 425.8,545.2 428.8,546.7 432,548.6 435.5,550.6 439.2,552.9 442.8,555.2 446.3,557.7 449.5,560.1 452.3,562.5 454.9,565 457.3,567.6 459.7,570.2 462.3,572.7 465.2,575 468.8,577.3 472.9,579.6 477.2,581.8 481.3,583.8 484.8,585.5 487.3,586.7" fill="none" stroke="#dc2f4e" stroke-width="1.35" stroke-linejoin="round"/>
<polyline points="362.3,521.8 363.7,521.1 365.7,520.1 368.1,518.9 370.6,517.8 373.1,517 375.3,516.8 377.2,517.2 379,518 380.8,519.2 382.5,520.6 384.4,522 386.5,523.4 388.9,525 391.5,526.7 394.2,528.5 396.9,530.4 399.5,532 401.8,533.4 403.9,534.5 405.7,535.3 407.4,535.9 409.2,536.6 411,537.4 413.1,538.4 415.4,539.7 417.8,541.2 420.4,542.8 423,544.5 425.8,546.4 428.8,548.4 432,550.7 435.5,553.2 439.2,555.8 442.8,558.5 446.3,561 449.5,563.4 452.3,565.5 454.9,567.5 457.3,569.4 459.7,571.3 462.3,573.1 465.2,575 468.8,577.1 472.9,579.3 477.2,581.6 481.3,583.7 484.8,585.4 487.3,586.7" fill="none" stroke="#f6a628" stroke-width="1.35" stroke-linejoin="round"/>
<polyline points="362.3,529.3 363.6,528.7 365.3,527.9 367.4,527 369.6,526.1 371.9,525.4 374,525.1 376,525.2 378,525.6 380,526.2 382.1,526.9 384.3,527.7 386.5,528.4 389,529.2 391.6,530 394.3,530.9 396.9,531.8 399.5,532.7 401.8,533.4 404,534.1 406,534.7 407.9,535.2 409.8,535.7 411.5,536.2 413.1,536.8 414.6,537.3 416,537.9 417.3,538.5 418.5,539.1 419.7,539.6 420.7,540.1 421.6,540.3 422.3,540.4 422.8,540.4 423.4,540.5 424.2,540.9 425.1,541.8 426.2,543.2 427.4,545 428.8,547.2 430.2,549.4 431.9,551.5 433.8,553.4 436.1,555 438.8,556.4 441.7,557.8 444.6,559.1 447.3,560.4 449.5,561.7 451.2,563.1 452.6,564.6 453.8,566 454.9,567.4 455.9,568.7 457.1,570 458.3,571.2 459.3,572.3 460.3,573.3 461.5,574.3 463,575.4 465.2,576.7 468.3,578.3 472.3,580.1 476.7,582.1 481,584 484.7,585.6 487.3,586.7" fill="none" stroke="#2f2ff5" stroke-width="1.35" stroke-linejoin="round"/>
<line x1="364.2" y1="512.8" x2="459" y2="512.8" stroke="#444" stroke-width="1.6"/>
<line x1="362.5" y1="516" x2="421.5" y2="516" stroke="#f6a628" stroke-width="1.3"/>
<line x1="442" y1="516" x2="456" y2="516" stroke="#fcd9a0" stroke-width="1.3"/>
<text x="423" y="612.5" font-size="7.7" fill="#222" stroke="#222" stroke-width="0.14" text-anchor="middle">Frequency [Hz]</text>
<text x="337.6" y="454.2" font-size="10.7" fill="#111" stroke="#111" stroke-width="0.19" text-anchor="middle" transform="rotate(-90 337.6 454.2)">wake</text>
<text x="344.8" y="453.7" font-size="7.9" fill="#222" stroke="#222" stroke-width="0.14" text-anchor="middle" transform="rotate(-90 344.8 453.7)">Power [dB]</text>
<text x="337.6" y="559.6" font-size="10.3" fill="#111" stroke="#111" stroke-width="0.19" text-anchor="middle" transform="rotate(-90 337.6 559.6)">NREM sleep</text>
<text x="344.8" y="555.6" font-size="7.9" fill="#222" stroke="#222" stroke-width="0.14" text-anchor="middle" transform="rotate(-90 344.8 555.6)">Power [dB]</text>
<text x="321" y="509" font-size="11.2" fill="#111" stroke="#111" stroke-width="0.2" text-anchor="middle" transform="rotate(-90 321 509)">oscillatory power</text>
<line x1="320.8" y1="414" x2="320.8" y2="594" stroke="#bdbdbd" stroke-width="0.9"/>
<text x="345.7" y="657.5" font-size="14" fill="#111" stroke="#111" stroke-width="0.25">R</text>
<text x="415.5" y="657.7" font-size="9.5" fill="#111" stroke="#111" stroke-width="0.17" text-anchor="middle">0-2 hrs post-dosing</text>
<rect x="363.5" y="665.7" width="124" height="83.3" fill="none" stroke="#7c7c7c" stroke-width="0.9"/>
<line x1="362" y1="665.7" x2="363.5" y2="665.7" stroke="#777" stroke-width="0.6"/>
<text x="361.5" y="668.2" font-size="7" fill="#222" stroke="#222" stroke-width="0.13" text-anchor="end">-20</text>
<line x1="362" y1="674.96" x2="363.5" y2="674.96" stroke="#777" stroke-width="0.6"/>
<text x="361.5" y="677.46" font-size="7" fill="#222" stroke="#222" stroke-width="0.13" text-anchor="end">-25</text>
<line x1="362" y1="684.21" x2="363.5" y2="684.21" stroke="#777" stroke-width="0.6"/>
<text x="361.5" y="686.71" font-size="7" fill="#222" stroke="#222" stroke-width="0.13" text-anchor="end">-30</text>
<line x1="362" y1="693.47" x2="363.5" y2="693.47" stroke="#777" stroke-width="0.6"/>
<text x="361.5" y="695.97" font-size="7" fill="#222" stroke="#222" stroke-width="0.13" text-anchor="end">-35</text>
<line x1="362" y1="702.72" x2="363.5" y2="702.72" stroke="#777" stroke-width="0.6"/>
<text x="361.5" y="705.22" font-size="7" fill="#222" stroke="#222" stroke-width="0.13" text-anchor="end">-40</text>
<line x1="362" y1="711.98" x2="363.5" y2="711.98" stroke="#777" stroke-width="0.6"/>
<text x="361.5" y="714.48" font-size="7" fill="#222" stroke="#222" stroke-width="0.13" text-anchor="end">-45</text>
<line x1="362" y1="721.23" x2="363.5" y2="721.23" stroke="#777" stroke-width="0.6"/>
<text x="361.5" y="723.73" font-size="7" fill="#222" stroke="#222" stroke-width="0.13" text-anchor="end">-50</text>
<line x1="362" y1="730.49" x2="363.5" y2="730.49" stroke="#777" stroke-width="0.6"/>
<text x="361.5" y="732.99" font-size="7" fill="#222" stroke="#222" stroke-width="0.13" text-anchor="end">-55</text>
<line x1="362" y1="739.74" x2="363.5" y2="739.74" stroke="#777" stroke-width="0.6"/>
<text x="361.5" y="742.24" font-size="7" fill="#222" stroke="#222" stroke-width="0.13" text-anchor="end">-60</text>
<line x1="362" y1="749" x2="363.5" y2="749" stroke="#777" stroke-width="0.6"/>
<text x="361.5" y="751.5" font-size="7" fill="#222" stroke="#222" stroke-width="0.13" text-anchor="end">-65</text>
<line x1="364" y1="749" x2="364" y2="750.8" stroke="#777" stroke-width="0.5"/>
<line x1="379.29" y1="749" x2="379.29" y2="750" stroke="#777" stroke-width="0.5"/>
<line x1="388.24" y1="749" x2="388.24" y2="750" stroke="#777" stroke-width="0.5"/>
<line x1="394.58" y1="749" x2="394.58" y2="750" stroke="#777" stroke-width="0.5"/>
<line x1="399.51" y1="749" x2="399.51" y2="750" stroke="#777" stroke-width="0.5"/>
<line x1="403.53" y1="749" x2="403.53" y2="750" stroke="#777" stroke-width="0.5"/>
<line x1="406.93" y1="749" x2="406.93" y2="750" stroke="#777" stroke-width="0.5"/>
<line x1="409.88" y1="749" x2="409.88" y2="750" stroke="#777" stroke-width="0.5"/>
<line x1="412.48" y1="749" x2="412.48" y2="750" stroke="#777" stroke-width="0.5"/>
<line x1="414.8" y1="749" x2="414.8" y2="750.8" stroke="#777" stroke-width="0.5"/>
<line x1="430.48" y1="749" x2="430.48" y2="750" stroke="#777" stroke-width="0.5"/>
<line x1="439.66" y1="749" x2="439.66" y2="750" stroke="#777" stroke-width="0.5"/>
<line x1="446.17" y1="749" x2="446.17" y2="750" stroke="#777" stroke-width="0.5"/>
<line x1="451.22" y1="749" x2="451.22" y2="750" stroke="#777" stroke-width="0.5"/>
<line x1="455.34" y1="749" x2="455.34" y2="750" stroke="#777" stroke-width="0.5"/>
<line x1="458.83" y1="749" x2="458.83" y2="750" stroke="#777" stroke-width="0.5"/>
<line x1="461.85" y1="749" x2="461.85" y2="750" stroke="#777" stroke-width="0.5"/>
<line x1="464.52" y1="749" x2="464.52" y2="750" stroke="#777" stroke-width="0.5"/>
<line x1="466.9" y1="749" x2="466.9" y2="750.8" stroke="#777" stroke-width="0.5"/>
<line x1="482.58" y1="749" x2="482.58" y2="750" stroke="#777" stroke-width="0.5"/>
<text x="364" y="758" font-size="7" fill="#222" stroke="#222" stroke-width="0.13" text-anchor="middle">1</text>
<text x="414.8" y="758" font-size="7" fill="#222" stroke="#222" stroke-width="0.13" text-anchor="middle">10</text>
<text x="466.9" y="758" font-size="7" fill="#222" stroke="#222" stroke-width="0.13" text-anchor="middle">100</text>
<polygon points="364,691.4 366.2,691 369.1,690.4 372.7,689.6 376.5,689 380.5,688.6 384.2,688.7 388,689.2 392.2,690.1 396.3,691.2 400.4,692.5 404,693.8 406.9,695.1 409.1,696.4 410.6,697.9 411.7,699.4 412.6,700.8 413.6,702.2 414.8,703.5 416.2,704.5 417.7,705.5 419.2,706.3 420.7,707.1 422.3,708 424,709 425.7,710.2 427.3,711.4 429.1,712.8 431,714.1 433.1,715.3 435.5,716.4 438.5,717.3 441.8,718.1 445.4,718.8 449,719.5 452.4,720.2 455.3,721 457.8,722.1 459.9,723.2 461.8,724.4 463.5,725.6 465.2,726.6 466.9,727.5 468.5,728.2 470,728.8 471.4,729.3 472.8,729.7 474.4,730 476.1,730.3 478.2,730.6 480.6,730.8 483.1,730.9 485.5,731.1 487.5,731.2 489,731.2 489,733.5 487.5,733.4 485.5,733.3 483.1,733.2 480.6,733 478.2,732.8 476.1,732.5 474.4,732.2 472.8,731.9 471.4,731.5 470,731 468.5,730.4 466.9,729.7 465.2,728.9 463.5,727.8 461.8,726.6 459.9,725.4 457.8,724.3 455.3,723.3 452.4,722.4 449,721.7 445.4,721 441.8,720.3 438.5,719.6 435.5,718.6 433.1,717.5 431,716.3 429.1,715 427.3,713.7 425.7,712.4 424,711.2 422.3,710.2 420.7,709.4 419.2,708.5 417.7,707.7 416.2,706.7 414.8,705.7 413.6,704.4 412.6,703 411.7,701.6 410.6,700.1 409.1,698.7 406.9,697.4 404,696.1 400.4,694.7 396.3,693.4 392.2,692.3 388,691.4 384.2,690.9 380.5,690.8 376.5,691.2 372.7,691.9 369.1,692.6 366.2,693.2 364,693.7" fill="#3db595" fill-opacity="0.18"/>
<polygon points="364,692.4 366.3,692.1 369.4,691.7 373.2,691.3 377.1,690.9 380.9,690.6 384.2,690.5 387.1,690.6 390,690.8 392.7,691.1 395.2,691.5 397.5,691.9 399.5,692.4 401.2,692.8 402.5,693.2 403.7,693.7 404.7,694.3 405.8,695.1 406.9,696.1 408.2,697.3 409.5,698.8 410.8,700.5 412.1,702.2 413.4,703.8 414.8,705.3 416.2,706.7 417.7,708 419.2,709.2 420.7,710.5 422.3,711.6 424,712.7 425.8,713.8 427.7,714.8 429.7,715.8 431.7,716.8 433.6,717.6 435.5,718.3 437.4,718.8 439.2,719.2 441,719.4 442.8,719.6 444.5,719.9 446.2,720.1 447.8,720.4 449.2,720.6 450.7,720.8 452.2,721.1 453.7,721.5 455.3,722 457.2,722.7 459.1,723.6 461.1,724.6 463.1,725.7 465.1,726.7 466.9,727.5 468.5,728.3 470,729 471.4,729.7 472.8,730.3 474.4,730.8 476.1,731.2 478.2,731.4 480.6,731.5 483.1,731.5 485.5,731.4 487.5,731.3 489,731.2 489,733.5 487.5,733.5 485.5,733.6 483.1,733.7 480.6,733.7 478.2,733.7 476.1,733.5 474.4,733.1 472.8,732.6 471.4,731.9 470,731.3 468.5,730.5 466.9,729.7 465.1,728.9 463.1,727.9 461.1,726.9 459.1,725.8 457.2,724.9 455.3,724.2 453.7,723.7 452.2,723.3 450.7,723 449.2,722.8 447.8,722.6 446.2,722.3 444.5,722.1 442.8,721.9 441,721.6 439.2,721.4 437.4,721 435.5,720.5 433.6,719.8 431.7,719 429.7,718.1 427.7,717.1 425.8,716 424,714.9 422.3,713.8 420.7,712.7 419.2,711.5 417.7,710.2 416.2,708.9 414.8,707.5 413.4,706 412.1,704.4 410.8,702.7 409.5,701 408.2,699.5 406.9,698.3 405.8,697.3 404.7,696.6 403.7,696 402.5,695.5 401.2,695 399.5,694.6 397.5,694.1 395.2,693.7 392.7,693.3 390,693 387.1,692.8 384.2,692.7 380.9,692.8 377.1,693.1 373.2,693.5 369.4,694 366.3,694.3 364,694.6" fill="#dc2f4e" fill-opacity="0.18"/>
<polygon points="364,687.7 366.8,687.4 370.8,686.8 375.4,686.2 380.2,685.6 384.7,685.2 388.2,685 390.9,685 393,685.2 394.7,685.5 396.3,685.9 397.8,686.3 399.5,686.8 401.4,687.3 403.2,687.8 405.1,688.3 406.9,688.9 408.5,689.7 409.9,690.5 410.9,691.5 411.5,692.6 412,693.7 412.6,695 413.4,696.4 414.8,697.9 416.8,699.6 419.2,701.4 422,703.3 424.9,705.3 427.7,707.2 430.5,709 433.2,710.7 436,712.4 438.7,714.1 441.4,715.7 443.9,717.1 446.2,718.3 448,719.2 449.6,719.8 451,720.4 452.3,720.8 453.7,721.3 455.3,722 457,722.8 458.6,723.8 460.3,724.8 462.2,725.8 464.3,726.7 466.9,727.5 470.2,728.2 474.3,728.8 478.6,729.3 482.8,729.7 486.4,730 489,730.3 489,732.5 486.4,732.3 482.8,731.9 478.6,731.5 474.3,731 470.2,730.4 466.9,729.7 464.3,729 462.2,728 460.3,727 458.6,726 457,725 455.3,724.2 453.7,723.5 452.3,723 451,722.6 449.6,722.1 448,721.4 446.2,720.5 443.9,719.3 441.4,717.9 438.7,716.3 436,714.7 433.2,713 430.5,711.2 427.7,709.5 424.9,707.5 422,705.6 419.2,703.6 416.8,701.8 414.8,700.1 413.4,698.6 412.6,697.3 412,696 411.5,694.8 410.9,693.7 409.9,692.7 408.5,691.9 406.9,691.1 405.1,690.5 403.2,690 401.4,689.5 399.5,689 397.8,688.6 396.3,688.1 394.7,687.7 393,687.4 390.9,687.2 388.2,687.2 384.7,687.4 380.2,687.9 375.4,688.4 370.8,689.1 366.8,689.6 364,689.9" fill="#f6a628" fill-opacity="0.18"/>
<polygon points="364,692.9 365.7,692.5 368.2,692 371.1,691.3 374.1,690.8 376.9,690.3 379.3,690.1 381.2,690.3 382.7,690.6 384.2,691.2 385.5,691.8 386.8,692.4 388.2,692.9 389.7,693.4 391.3,694 392.8,694.6 394.3,695.1 395.7,695.5 397.2,695.7 398.6,695.6 400.1,695.2 401.5,694.7 402.9,694.2 404.2,693.9 405.3,693.8 406.3,694.1 407.1,694.5 407.8,695 408.5,695.7 409.1,696.5 409.9,697.5 410.6,698.8 411.3,700.4 412.1,702.2 412.8,703.9 413.7,705.5 414.8,706.8 416.1,707.7 417.5,708.3 419,708.8 420.6,709.3 422.3,709.8 424,710.5 425.8,711.5 427.7,712.6 429.7,713.8 431.7,715 433.6,716.1 435.5,717 437.4,717.7 439.2,718.2 441,718.6 442.8,719 444.5,719.3 446.2,719.8 447.8,720.2 449.2,720.5 450.7,720.8 452.2,721.2 453.7,721.7 455.3,722.5 457.2,723.6 459.1,725 461.1,726.5 463.1,728.1 465.1,729.6 466.9,730.9 468.5,732 470,733.1 471.4,734.1 472.8,735 474.4,735.8 476.1,736.4 478.2,736.8 480.6,737.1 483.1,737.2 485.5,737.3 487.5,737.3 489,737.3 489,740.3 487.5,740.3 485.5,740.2 483.1,740.2 480.6,740.1 478.2,739.8 476.1,739.4 474.4,738.7 472.8,738 471.4,737.1 470,736 468.5,735 466.9,733.8 465.1,732.5 463.1,731 461.1,729.5 459.1,728 457.2,726.6 455.3,725.5 453.7,724.7 452.2,724.2 450.7,723.8 449.2,723.4 447.8,723.1 446.2,722.7 444.5,722.3 442.8,721.9 441,721.6 439.2,721.1 437.4,720.6 435.5,719.9 433.6,719 431.7,717.9 429.7,716.8 427.7,715.5 425.8,714.4 424,713.5 422.3,712.7 420.6,712.2 419,711.8 417.5,711.3 416.1,710.7 414.8,709.8 413.7,708.5 412.8,706.9 412.1,705.1 411.3,703.4 410.6,701.8 409.9,700.5 409.1,699.5 408.5,698.6 407.8,698 407.1,697.4 406.3,697 405.3,696.8 404.2,696.8 402.9,697.2 401.5,697.7 400.1,698.2 398.6,698.5 397.2,698.6 395.7,698.5 394.3,698.1 392.8,697.6 391.3,697 389.7,696.4 388.2,695.9 386.8,695.3 385.5,694.7 384.2,694.1 382.7,693.6 381.2,693.2 379.3,693.1 376.9,693.3 374.1,693.7 371.1,694.3 368.2,694.9 365.7,695.5 364,695.9" fill="#2f2ff5" fill-opacity="0.18"/>
<polyline points="364,692.5 366.2,692.1 369.1,691.5 372.7,690.7 376.5,690.1 380.5,689.7 384.2,689.8 388,690.3 392.2,691.2 396.3,692.3 400.4,693.6 404,694.9 406.9,696.2 409.1,697.6 410.6,699 411.7,700.5 412.6,701.9 413.6,703.3 414.8,704.6 416.2,705.6 417.7,706.6 419.2,707.4 420.7,708.2 422.3,709.1 424,710.1 425.7,711.3 427.3,712.6 429.1,713.9 431,715.2 433.1,716.4 435.5,717.5 438.5,718.4 441.8,719.2 445.4,719.9 449,720.6 452.4,721.3 455.3,722.2 457.8,723.2 459.9,724.3 461.8,725.5 463.5,726.7 465.2,727.8 466.9,728.6 468.5,729.3 470,729.9 471.4,730.4 472.8,730.8 474.4,731.1 476.1,731.4 478.2,731.7 480.6,731.9 483.1,732.1 485.5,732.2 487.5,732.3 489,732.3" fill="none" stroke="#3db595" stroke-width="1.35" stroke-linejoin="round"/>
<polyline points="364,693.5 366.3,693.2 369.4,692.8 373.2,692.4 377.1,692 380.9,691.7 384.2,691.6 387.1,691.7 390,691.9 392.7,692.2 395.2,692.6 397.5,693 399.5,693.5 401.2,693.9 402.5,694.4 403.7,694.9 404.7,695.5 405.8,696.2 406.9,697.2 408.2,698.4 409.5,699.9 410.8,701.6 412.1,703.3 413.4,704.9 414.8,706.4 416.2,707.8 417.7,709.1 419.2,710.4 420.7,711.6 422.3,712.7 424,713.8 425.8,714.9 427.7,716 429.7,717 431.7,717.9 433.6,718.7 435.5,719.4 437.4,719.9 439.2,720.3 441,720.5 442.8,720.8 444.5,721 446.2,721.2 447.8,721.5 449.2,721.7 450.7,721.9 452.2,722.2 453.7,722.6 455.3,723.1 457.2,723.8 459.1,724.7 461.1,725.7 463.1,726.8 465.1,727.8 466.9,728.6 468.5,729.4 470,730.1 471.4,730.8 472.8,731.4 474.4,732 476.1,732.3 478.2,732.6 480.6,732.6 483.1,732.6 485.5,732.5 487.5,732.4 489,732.3" fill="none" stroke="#dc2f4e" stroke-width="1.35" stroke-linejoin="round"/>
<polyline points="364,688.8 366.8,688.5 370.8,687.9 375.4,687.3 380.2,686.7 384.7,686.3 388.2,686.1 390.9,686.1 393,686.3 394.7,686.6 396.3,687 397.8,687.4 399.5,687.9 401.4,688.4 403.2,688.9 405.1,689.4 406.9,690 408.5,690.8 409.9,691.6 410.9,692.6 411.5,693.7 412,694.9 412.6,696.1 413.4,697.5 414.8,699 416.8,700.7 419.2,702.5 422,704.5 424.9,706.4 427.7,708.3 430.5,710.1 433.2,711.8 436,713.6 438.7,715.2 441.4,716.8 443.9,718.2 446.2,719.4 448,720.3 449.6,721 451,721.5 452.3,721.9 453.7,722.4 455.3,723.1 457,723.9 458.6,724.9 460.3,725.9 462.2,726.9 464.3,727.9 466.9,728.6 470.2,729.3 474.3,729.9 478.6,730.4 482.8,730.8 486.4,731.1 489,731.4" fill="none" stroke="#f6a628" stroke-width="1.35" stroke-linejoin="round"/>
<polyline points="364,694.4 365.7,694 368.2,693.5 371.1,692.8 374.1,692.2 376.9,691.8 379.3,691.6 381.2,691.8 382.7,692.1 384.2,692.7 385.5,693.3 386.8,693.9 388.2,694.4 389.7,694.9 391.3,695.5 392.8,696.1 394.3,696.6 395.7,697 397.2,697.2 398.6,697.1 400.1,696.7 401.5,696.2 402.9,695.7 404.2,695.4 405.3,695.3 406.3,695.5 407.1,695.9 407.8,696.5 408.5,697.2 409.1,698 409.9,699 410.6,700.3 411.3,701.9 412.1,703.6 412.8,705.4 413.7,707 414.8,708.3 416.1,709.2 417.5,709.8 419,710.3 420.6,710.7 422.3,711.3 424,712 425.8,712.9 427.7,714.1 429.7,715.3 431.7,716.5 433.6,717.6 435.5,718.5 437.4,719.1 439.2,719.7 441,720.1 442.8,720.4 444.5,720.8 446.2,721.2 447.8,721.6 449.2,722 450.7,722.3 452.2,722.7 453.7,723.2 455.3,724 457.2,725.1 459.1,726.5 461.1,728 463.1,729.6 465.1,731 466.9,732.3 468.5,733.5 470,734.6 471.4,735.6 472.8,736.5 474.4,737.3 476.1,737.9 478.2,738.3 480.6,738.6 483.1,738.7 485.5,738.8 487.5,738.8 489,738.8" fill="none" stroke="#2f2ff5" stroke-width="1.35" stroke-linejoin="round"/>
<line x1="389.8" y1="666.7" x2="400" y2="666.7" stroke="#bbbbbb" stroke-width="1.4"/>
<line x1="407.1" y1="666.7" x2="413.3" y2="666.7" stroke="#bbbbbb" stroke-width="1.4"/>
<line x1="420.4" y1="666.7" x2="424.5" y2="666.7" stroke="#bbbbbb" stroke-width="1.4"/>
<line x1="415.3" y1="668.7" x2="443" y2="668.7" stroke="#3db595" stroke-width="1.4"/>
<line x1="429.6" y1="666.7" x2="443" y2="666.7" stroke="#222" stroke-width="1.4"/>
<line x1="453.2" y1="666.7" x2="487" y2="666.7" stroke="#333" stroke-width="1.4"/>
<line x1="457.2" y1="670.3" x2="465.4" y2="670.3" stroke="#fcd9a0" stroke-width="1.4"/>
<line x1="364.2" y1="670.3" x2="442" y2="670.3" stroke="#f6a628" stroke-width="1.4"/>
<path d="M469.6,674.8 C473.6,674.8 481.1,682.8 481.1,689.8 C481.1,693.8 478.6,695.8 477.6,696.8 C479.6,698.8 479.1,702.8 474.1,703.8 L472.6,710.3 C470.6,710.8 468.6,710.8 466.6,710.3 L465.1,703.8 C460.1,702.8 459.6,698.8 461.6,696.8 C460.6,695.8 458.1,693.8 458.1,689.8 C458.1,682.8 465.6,674.8 469.6,674.8 Z" fill="#e0b9b5" />
<path d="M469.6,675.8 L469.6,695.8" fill="none" stroke="#cc9a96" stroke-width="0.6" />
<path d="M461.6,696.3 Q469.6,693.8 477.6,696.3" fill="none" stroke="#cc9a96" stroke-width="0.5" />
<path d="M465.1,703.8 Q469.6,705.3 474.1,703.8" fill="none" stroke="#cc9a96" stroke-width="0.5" />
<circle cx="468.1" cy="680.3" r="1.2" fill="#8f9ee8" stroke="#3b4bd0" stroke-width="0.5"/>
<text x="451.7" y="679.1" font-size="6.6" fill="#222" stroke="#222" stroke-width="0.12">frontal</text>
<text x="451.7" y="686.7" font-size="6.6" fill="#222" stroke="#222" stroke-width="0.12">EEG</text>
<rect x="362.8" y="767.6" width="125.7" height="84" fill="none" stroke="#d0d0d0" stroke-width="0.9"/>
<text x="425.5" y="811.5" font-size="8.8" fill="#222" stroke="#222" stroke-width="0.16" text-anchor="middle" font-style="italic">not enough NREM sleep</text>
<text x="423" y="865.5" font-size="7.7" fill="#222" stroke="#222" stroke-width="0.14" text-anchor="middle">Frequency [Hz]</text>
<text x="337.6" y="708.7" font-size="10.7" fill="#111" stroke="#111" stroke-width="0.19" text-anchor="middle" transform="rotate(-90 337.6 708.7)">wake</text>
<text x="345.6" y="706.4" font-size="7.9" fill="#222" stroke="#222" stroke-width="0.14" text-anchor="middle" transform="rotate(-90 345.6 706.4)">Power [dB]</text>
<text x="337.6" y="810.6" font-size="10.3" fill="#111" stroke="#111" stroke-width="0.19" text-anchor="middle" transform="rotate(-90 337.6 810.6)">NREM sleep</text>
<text x="345.6" y="811.7" font-size="7.9" fill="#222" stroke="#222" stroke-width="0.14" text-anchor="middle" transform="rotate(-90 345.6 811.7)">Power [dB]</text>
<text x="531.1" y="153.8" font-size="14" fill="#111" stroke="#111" stroke-width="0.25">G</text>
<text x="613.3" y="152.7" font-size="9.5" fill="#111" stroke="#111" stroke-width="0.17" text-anchor="middle">0-2 hrs post-dosing</text>
<rect x="550" y="162" width="127.6" height="84.3" fill="none" stroke="#7c7c7c" stroke-width="0.9"/>
<line x1="548.5" y1="246.3" x2="550" y2="246.3" stroke="#777" stroke-width="0.6"/>
<text x="544.3" y="248.8" font-size="7" fill="#222" stroke="#222" stroke-width="0.13" text-anchor="end">0.0</text>
<line x1="548.5" y1="232.25" x2="550" y2="232.25" stroke="#777" stroke-width="0.6"/>
<text x="544.3" y="234.75" font-size="7" fill="#222" stroke="#222" stroke-width="0.13" text-anchor="end">0.1</text>
<line x1="548.5" y1="218.2" x2="550" y2="218.2" stroke="#777" stroke-width="0.6"/>
<text x="544.3" y="220.7" font-size="7" fill="#222" stroke="#222" stroke-width="0.13" text-anchor="end">0.2</text>
<line x1="548.5" y1="204.15" x2="550" y2="204.15" stroke="#777" stroke-width="0.6"/>
<text x="544.3" y="206.65" font-size="7" fill="#222" stroke="#222" stroke-width="0.13" text-anchor="end">0.3</text>
<line x1="548.5" y1="190.1" x2="550" y2="190.1" stroke="#777" stroke-width="0.6"/>
<text x="544.3" y="192.6" font-size="7" fill="#222" stroke="#222" stroke-width="0.13" text-anchor="end">0.4</text>
<line x1="548.5" y1="176.05" x2="550" y2="176.05" stroke="#777" stroke-width="0.6"/>
<text x="544.3" y="178.55" font-size="7" fill="#222" stroke="#222" stroke-width="0.13" text-anchor="end">0.5</text>
<line x1="548.5" y1="162" x2="550" y2="162" stroke="#777" stroke-width="0.6"/>
<text x="544.3" y="164.5" font-size="7" fill="#222" stroke="#222" stroke-width="0.13" text-anchor="end">0.6</text>
<line x1="553.5" y1="246.3" x2="553.5" y2="248.1" stroke="#777" stroke-width="0.5"/>
<line x1="568.85" y1="246.3" x2="568.85" y2="247.3" stroke="#777" stroke-width="0.5"/>
<line x1="577.83" y1="246.3" x2="577.83" y2="247.3" stroke="#777" stroke-width="0.5"/>
<line x1="584.21" y1="246.3" x2="584.21" y2="247.3" stroke="#777" stroke-width="0.5"/>
<line x1="589.15" y1="246.3" x2="589.15" y2="247.3" stroke="#777" stroke-width="0.5"/>
<line x1="593.19" y1="246.3" x2="593.19" y2="247.3" stroke="#777" stroke-width="0.5"/>
<line x1="596.6" y1="246.3" x2="596.6" y2="247.3" stroke="#777" stroke-width="0.5"/>
<line x1="599.56" y1="246.3" x2="599.56" y2="247.3" stroke="#777" stroke-width="0.5"/>
<line x1="602.17" y1="246.3" x2="602.17" y2="247.3" stroke="#777" stroke-width="0.5"/>
<line x1="604.5" y1="246.3" x2="604.5" y2="248.1" stroke="#777" stroke-width="0.5"/>
<line x1="625.12" y1="246.3" x2="625.12" y2="247.3" stroke="#777" stroke-width="0.5"/>
<line x1="637.18" y1="246.3" x2="637.18" y2="247.3" stroke="#777" stroke-width="0.5"/>
<line x1="645.74" y1="246.3" x2="645.74" y2="247.3" stroke="#777" stroke-width="0.5"/>
<line x1="652.38" y1="246.3" x2="652.38" y2="247.3" stroke="#777" stroke-width="0.5"/>
<line x1="657.8" y1="246.3" x2="657.8" y2="247.3" stroke="#777" stroke-width="0.5"/>
<line x1="662.39" y1="246.3" x2="662.39" y2="247.3" stroke="#777" stroke-width="0.5"/>
<line x1="666.36" y1="246.3" x2="666.36" y2="247.3" stroke="#777" stroke-width="0.5"/>
<line x1="669.87" y1="246.3" x2="669.87" y2="247.3" stroke="#777" stroke-width="0.5"/>
<line x1="673" y1="246.3" x2="673" y2="248.1" stroke="#777" stroke-width="0.5"/>
<text x="553.5" y="255.3" font-size="7" fill="#222" stroke="#222" stroke-width="0.13" text-anchor="middle">1</text>
<text x="604.5" y="255.3" font-size="7" fill="#222" stroke="#222" stroke-width="0.13" text-anchor="middle">10</text>
<text x="673" y="255.3" font-size="7" fill="#222" stroke="#222" stroke-width="0.13" text-anchor="middle">100</text>
<polygon points="551.2,223.8 552.4,223.7 554.2,223.5 556.3,223.2 558.5,223 560.6,223 562.5,223.1 564.1,223.5 565.6,224.2 567,224.9 568.4,225.7 569.7,226.6 571,227.3 572.2,228.2 573.4,229.2 574.5,230.1 575.6,231 576.7,231.5 577.8,231.5 578.9,231.1 580,230.4 581.1,229.3 582.2,227.9 583.2,226.3 584.2,224.5 585.1,222.3 585.9,219.6 586.7,216.7 587.5,213.8 588.3,211 589.1,208.7 590.1,206.7 591.1,204.9 592.1,203.2 593.1,201.8 594.1,200.7 595,200 595.8,199.7 596.6,199.8 597.3,200.1 598,200.8 598.8,201.7 599.6,202.9 600.4,204.5 601.2,206.6 602,209 602.8,211.5 603.6,213.8 604.5,216 605.4,217.9 606.2,219.7 607.1,221.5 608,223.1 608.9,224.6 609.9,225.9 610.9,226.9 612,227.7 613,228.2 614.2,228.7 615.3,229.3 616.6,230.1 617.9,231.2 619.3,232.5 620.8,233.8 622.3,235.1 623.8,236.3 625.1,237.2 626.4,237.8 627.5,238.2 628.6,238.4 629.7,238.5 630.7,238.6 631.8,238.6 632.7,238.5 633.5,238.4 634.4,238.2 635.2,237.9 636.1,237.6 637.2,237.2 638.4,236.7 639.8,236 641.2,235.3 642.7,234.6 644.2,234 645.7,233.7 647.3,233.5 648.9,233.5 650.6,233.6 652.2,233.8 653.8,234.1 655.2,234.4 656.5,234.7 657.6,235.1 658.7,235.6 659.8,236.2 661,236.7 662.4,237.2 664.1,237.7 666.1,238.2 668.1,238.7 670.1,239.2 671.8,239.7 673,240 673,242.8 671.8,242.5 670.1,242.1 668.1,241.6 666.1,241 664.1,240.5 662.4,240 661,239.5 659.8,239 658.7,238.4 657.6,237.9 656.5,237.5 655.2,237.2 653.8,236.9 652.2,236.6 650.6,236.4 648.9,236.3 647.3,236.3 645.7,236.5 644.2,236.8 642.7,237.4 641.2,238.1 639.8,238.8 638.4,239.5 637.2,240 636.1,240.4 635.2,240.7 634.4,241 633.5,241.2 632.7,241.3 631.8,241.4 630.7,241.4 629.7,241.3 628.6,241.2 627.5,241 626.4,240.6 625.1,240 623.8,239.1 622.3,237.9 620.8,236.6 619.3,235.3 617.9,234 616.6,233 615.3,232.2 614.2,231.6 613,231 612,230.5 610.9,229.7 609.9,228.7 608.9,227.4 608,226 607.1,224.3 606.2,222.5 605.4,220.7 604.5,218.8 603.6,216.7 602.8,214.3 602,211.8 601.2,209.4 600.4,207.4 599.6,205.7 598.8,204.5 598,203.6 597.3,202.9 596.6,202.6 595.8,202.5 595,202.8 594.1,203.5 593.1,204.6 592.1,206 591.1,207.7 590.1,209.5 589.1,211.5 588.3,213.9 587.5,216.6 586.7,219.5 585.9,222.5 585.1,225.1 584.2,227.3 583.2,229.1 582.2,230.7 581.1,232.1 580,233.2 578.9,233.9 577.8,234.4 576.7,234.3 575.6,233.8 574.5,233 573.4,232 572.2,231 571,230.1 569.7,229.4 568.4,228.6 567,227.7 565.6,227 564.1,226.3 562.5,225.9 560.6,225.8 558.5,225.8 556.3,226 554.2,226.3 552.4,226.5 551.2,226.6" fill="#3db595" fill-opacity="0.18"/>
<polygon points="551.2,222.4 552.4,222.3 554.2,222.1 556.3,221.8 558.5,221.6 560.6,221.6 562.5,221.7 564.1,222.1 565.6,222.8 567,223.5 568.4,224.3 569.7,225.2 571,225.9 572.2,226.8 573.4,227.7 574.5,228.7 575.6,229.6 576.7,230.1 577.8,230.1 578.9,229.7 580,228.9 581.1,227.9 582.2,226.5 583.2,224.9 584.2,223.1 585.1,221 585.9,218.3 586.7,215.5 587.5,212.6 588.3,210 589.1,207.7 590.1,205.7 591.1,203.8 592.1,202 593.1,200.6 594.1,199.5 595,198.7 595.8,198.4 596.6,198.5 597.3,198.8 598,199.5 598.8,200.5 599.6,201.7 600.4,203.4 601.2,205.5 602,208 602.8,210.6 603.6,213 604.5,215.1 605.4,217 606.2,218.7 607.1,220.4 608,221.9 608.9,223.3 609.9,224.5 610.9,225.5 612,226.2 613,226.8 614.2,227.3 615.3,227.9 616.6,228.7 617.9,229.8 619.3,231.1 620.8,232.4 622.3,233.7 623.8,234.9 625.1,235.8 626.4,236.4 627.5,236.8 628.6,237 629.7,237.1 630.7,237.2 631.8,237.2 632.7,237.1 633.5,237 634.4,236.8 635.2,236.5 636.1,236.2 637.2,235.8 638.4,235.3 639.8,234.6 641.2,233.9 642.7,233.2 644.2,232.6 645.7,232.3 647.3,232.1 648.9,232.1 650.6,232.2 652.2,232.4 653.8,232.7 655.2,233 656.5,233.3 657.6,233.7 658.7,234.2 659.8,234.7 661,235.3 662.4,235.8 664.1,236.3 666.1,236.8 668.1,237.3 670.1,237.8 671.8,238.3 673,238.6 673,241.4 671.8,241.1 670.1,240.7 668.1,240.2 666.1,239.6 664.1,239.1 662.4,238.6 661,238.1 659.8,237.6 658.7,237 657.6,236.5 656.5,236.1 655.2,235.8 653.8,235.5 652.2,235.2 650.6,235 648.9,234.9 647.3,234.9 645.7,235.1 644.2,235.4 642.7,236 641.2,236.7 639.8,237.4 638.4,238.1 637.2,238.6 636.1,239 635.2,239.3 634.4,239.6 633.5,239.8 632.7,239.9 631.8,240 630.7,240 629.7,239.9 628.6,239.8 627.5,239.6 626.4,239.2 625.1,238.6 623.8,237.7 622.3,236.5 620.8,235.2 619.3,233.9 617.9,232.6 616.6,231.5 615.3,230.7 614.2,230.1 613,229.6 612,229 610.9,228.3 609.9,227.3 608.9,226.1 608,224.7 607.1,223.2 606.2,221.5 605.4,219.8 604.5,217.9 603.6,215.8 602.8,213.4 602,210.8 601.2,208.4 600.4,206.2 599.6,204.5 598.8,203.3 598,202.3 597.3,201.6 596.6,201.3 595.8,201.2 595,201.5 594.1,202.3 593.1,203.4 592.1,204.9 591.1,206.6 590.1,208.5 589.1,210.5 588.3,212.8 587.5,215.5 586.7,218.3 585.9,221.2 585.1,223.8 584.2,225.9 583.2,227.7 582.2,229.3 581.1,230.7 580,231.8 578.9,232.5 577.8,233 576.7,232.9 575.6,232.4 574.5,231.5 573.4,230.6 572.2,229.6 571,228.7 569.7,228 568.4,227.2 567,226.3 565.6,225.6 564.1,224.9 562.5,224.5 560.6,224.4 558.5,224.4 556.3,224.6 554.2,224.9 552.4,225.1 551.2,225.2" fill="#dc2f4e" fill-opacity="0.18"/>
<polygon points="551.2,223.8 553.2,224.3 556.1,225 559.4,225.8 562.9,226.7 566.2,227.4 568.9,228 570.9,228.5 572.6,228.8 574,229.1 575.4,229.3 576.6,229.4 577.8,229.4 579.1,229.4 580.2,229.3 581.3,229.1 582.3,228.8 583.3,228.5 584.2,228 585.1,227.5 585.9,226.8 586.7,226 587.5,225.2 588.3,224.4 589.1,223.8 590.1,223.3 591.1,222.8 592.1,222.3 593.1,221.9 594.1,221.7 595,221.7 595.8,221.9 596.6,222.3 597.3,222.9 598,223.6 598.8,224.4 599.6,225.2 600.3,226.2 600.9,227.4 601.6,228.7 602.3,230 603.3,231.2 604.5,232.3 606.1,233.1 608.1,234 610.3,234.7 612.5,235.4 614.7,236 616.6,236.5 618.2,236.9 619.5,237.3 620.8,237.7 622.1,237.9 623.5,238 625.1,237.9 627,237.5 629,236.8 631.2,236 633.3,235.1 635.3,234.3 637.2,233.7 638.8,233.1 640.2,232.6 641.5,232.2 642.8,231.9 644.2,231.6 645.7,231.5 647.5,231.6 649.4,231.8 651.4,232.2 653.4,232.6 655.6,233.1 657.8,233.7 660.3,234.4 663.2,235.3 666.2,236.2 668.9,237.2 671.3,238 673,238.6 673,241.4 671.3,240.8 668.9,240 666.2,239.1 663.2,238.1 660.3,237.2 657.8,236.5 655.6,235.9 653.4,235.4 651.4,235 649.4,234.6 647.5,234.4 645.7,234.4 644.2,234.4 642.8,234.7 641.5,235 640.2,235.5 638.8,235.9 637.2,236.5 635.3,237.1 633.3,237.9 631.2,238.8 629,239.6 627,240.3 625.1,240.7 623.5,240.8 622.1,240.7 620.8,240.5 619.5,240.2 618.2,239.7 616.6,239.3 614.7,238.8 612.5,238.2 610.3,237.5 608.1,236.8 606.1,236 604.5,235.1 603.3,234 602.3,232.8 601.6,231.5 600.9,230.2 600.3,229 599.6,228 598.8,227.2 598,226.4 597.3,225.7 596.6,225.1 595.8,224.7 595,224.5 594.1,224.5 593.1,224.7 592.1,225.1 591.1,225.6 590.1,226.1 589.1,226.6 588.3,227.2 587.5,228 586.7,228.8 585.9,229.6 585.1,230.3 584.2,230.8 583.3,231.3 582.3,231.6 581.3,231.9 580.2,232.1 579.1,232.2 577.8,232.3 576.6,232.2 575.4,232.1 574,231.9 572.6,231.6 570.9,231.3 568.9,230.8 566.2,230.3 562.9,229.5 559.4,228.6 556.1,227.8 553.2,227.1 551.2,226.6" fill="#f6a628" fill-opacity="0.18"/>
<polygon points="551.2,221.7 552.4,221.6 554.2,221.3 556.3,221.1 558.5,220.9 560.6,220.9 562.5,221 564.1,221.4 565.6,222.1 567,222.8 568.4,223.6 569.7,224.5 571,225.2 572.2,226.1 573.4,227 574.5,228 575.6,228.9 576.7,229.4 577.8,229.4 578.9,229 580,228.2 581.1,227.1 582.2,225.7 583.2,224.1 584.2,222.4 585.1,220.4 585.9,218 586.7,215.5 587.5,212.9 588.3,210.5 589.1,208.4 590.1,206.5 591.1,204.7 592.1,203.1 593.1,201.7 594.1,200.6 595,199.9 595.8,199.6 596.6,199.7 597.3,200 598,200.7 598.8,201.6 599.6,202.7 600.4,204.3 601.2,206.4 602,208.7 602.8,211.1 603.6,213.4 604.5,215.4 605.4,217.1 606.2,218.7 607.1,220.1 608,221.5 608.9,222.7 609.9,223.8 610.9,224.7 612,225.4 613,226 614.2,226.6 615.3,227.2 616.6,228 617.9,229.1 619.3,230.4 620.8,231.7 622.3,233 623.8,234.2 625.1,235.1 626.4,235.7 627.5,236 628.6,236.3 629.7,236.4 630.7,236.5 631.8,236.5 632.7,236.4 633.5,236.3 634.4,236.1 635.2,235.8 636.1,235.4 637.2,235.1 638.4,234.5 639.8,233.9 641.2,233.2 642.7,232.5 644.2,231.9 645.7,231.5 647.3,231.4 648.9,231.4 650.6,231.5 652.2,231.7 653.8,232 655.2,232.2 656.5,232.6 657.6,233 658.7,233.5 659.8,234 661,234.6 662.4,235.1 664.1,235.6 666.1,236.1 668.1,236.6 670.1,237.1 671.8,237.6 673,237.9 673,243.5 671.8,243.2 670.1,242.8 668.1,242.3 666.1,241.7 664.1,241.2 662.4,240.7 661,240.2 659.8,239.7 658.7,239.1 657.6,238.7 656.5,238.2 655.2,237.9 653.8,237.6 652.2,237.3 650.6,237.1 648.9,237 647.3,237 645.7,237.2 644.2,237.5 642.7,238.1 641.2,238.8 639.8,239.5 638.4,240.2 637.2,240.7 636.1,241.1 635.2,241.4 634.4,241.7 633.5,241.9 632.7,242 631.8,242.1 630.7,242.1 629.7,242 628.6,241.9 627.5,241.7 626.4,241.3 625.1,240.7 623.8,239.8 622.3,238.7 620.8,237.3 619.3,236 617.9,234.7 616.6,233.7 615.3,232.8 614.2,232.2 613,231.6 612,231.1 610.9,230.4 609.9,229.4 608.9,228.3 608,227.1 607.1,225.8 606.2,224.3 605.4,222.7 604.5,221 603.6,219 602.8,216.7 602,214.3 601.2,212 600.4,210 599.6,208.4 598.8,207.2 598,206.3 597.3,205.6 596.6,205.3 595.8,205.3 595,205.6 594.1,206.2 593.1,207.3 592.1,208.7 591.1,210.3 590.1,212.1 589.1,214 588.3,216.1 587.5,218.5 586.7,221.1 585.9,223.7 585.1,226 584.2,228 583.2,229.7 582.2,231.3 581.1,232.7 580,233.8 578.9,234.6 577.8,235.1 576.7,235 575.6,234.5 574.5,233.7 573.4,232.7 572.2,231.7 571,230.8 569.7,230.1 568.4,229.3 567,228.4 565.6,227.7 564.1,227 562.5,226.6 560.6,226.5 558.5,226.5 556.3,226.7 554.2,227 552.4,227.2 551.2,227.3" fill="#2f2ff5" fill-opacity="0.18"/>
<polyline points="551.2,225.2 552.4,225.1 554.2,224.9 556.3,224.6 558.5,224.4 560.6,224.4 562.5,224.5 564.1,224.9 565.6,225.6 567,226.3 568.4,227.2 569.7,228 571,228.7 572.2,229.6 573.4,230.6 574.5,231.5 575.6,232.4 576.7,232.9 577.8,233 578.9,232.5 580,231.8 581.1,230.7 582.2,229.3 583.2,227.7 584.2,225.9 585.1,223.7 585.9,221 586.7,218.1 587.5,215.2 588.3,212.4 589.1,210.1 590.1,208.1 591.1,206.3 592.1,204.6 593.1,203.2 594.1,202.1 595,201.4 595.8,201.1 596.6,201.2 597.3,201.5 598,202.2 598.8,203.1 599.6,204.3 600.4,206 601.2,208 602,210.4 602.8,212.9 603.6,215.2 604.5,217.4 605.4,219.3 606.2,221.1 607.1,222.9 608,224.5 608.9,226 609.9,227.3 610.9,228.3 612,229.1 613,229.6 614.2,230.1 615.3,230.7 616.6,231.5 617.9,232.6 619.3,233.9 620.8,235.2 622.3,236.5 623.8,237.7 625.1,238.6 626.4,239.2 627.5,239.6 628.6,239.8 629.7,239.9 630.7,240 631.8,240 632.7,239.9 633.5,239.8 634.4,239.6 635.2,239.3 636.1,239 637.2,238.6 638.4,238.1 639.8,237.4 641.2,236.7 642.7,236 644.2,235.4 645.7,235.1 647.3,234.9 648.9,234.9 650.6,235 652.2,235.2 653.8,235.5 655.2,235.8 656.5,236.1 657.6,236.5 658.7,237 659.8,237.6 661,238.1 662.4,238.6 664.1,239.1 666.1,239.6 668.1,240.2 670.1,240.7 671.8,241.1 673,241.4" fill="none" stroke="#3db595" stroke-width="1.35" stroke-linejoin="round"/>
<polyline points="551.2,223.8 552.4,223.7 554.2,223.5 556.3,223.2 558.5,223 560.6,223 562.5,223.1 564.1,223.5 565.6,224.2 567,224.9 568.4,225.7 569.7,226.6 571,227.3 572.2,228.2 573.4,229.2 574.5,230.1 575.6,231 576.7,231.5 577.8,231.5 578.9,231.1 580,230.4 581.1,229.3 582.2,227.9 583.2,226.3 584.2,224.5 585.1,222.4 585.9,219.8 586.7,216.9 587.5,214 588.3,211.4 589.1,209.1 590.1,207.1 591.1,205.2 592.1,203.4 593.1,202 594.1,200.9 595,200.1 595.8,199.8 596.6,199.9 597.3,200.2 598,200.9 598.8,201.9 599.6,203.1 600.4,204.8 601.2,207 602,209.4 602.8,212 603.6,214.4 604.5,216.5 605.4,218.4 606.2,220.1 607.1,221.8 608,223.3 608.9,224.7 609.9,225.9 610.9,226.9 612,227.6 613,228.2 614.2,228.7 615.3,229.3 616.6,230.1 617.9,231.2 619.3,232.5 620.8,233.8 622.3,235.1 623.8,236.3 625.1,237.2 626.4,237.8 627.5,238.2 628.6,238.4 629.7,238.5 630.7,238.6 631.8,238.6 632.7,238.5 633.5,238.4 634.4,238.2 635.2,237.9 636.1,237.6 637.2,237.2 638.4,236.7 639.8,236 641.2,235.3 642.7,234.6 644.2,234 645.7,233.7 647.3,233.5 648.9,233.5 650.6,233.6 652.2,233.8 653.8,234.1 655.2,234.4 656.5,234.7 657.6,235.1 658.7,235.6 659.8,236.2 661,236.7 662.4,237.2 664.1,237.7 666.1,238.2 668.1,238.7 670.1,239.2 671.8,239.7 673,240" fill="none" stroke="#dc2f4e" stroke-width="1.35" stroke-linejoin="round"/>
<polyline points="551.2,225.2 553.2,225.7 556.1,226.4 559.4,227.2 562.9,228.1 566.2,228.9 568.9,229.4 570.9,229.9 572.6,230.2 574,230.5 575.4,230.7 576.6,230.8 577.8,230.8 579.1,230.8 580.2,230.7 581.3,230.5 582.3,230.2 583.3,229.9 584.2,229.4 585.1,228.9 585.9,228.2 586.7,227.4 587.5,226.6 588.3,225.8 589.1,225.2 590.1,224.7 591.1,224.2 592.1,223.7 593.1,223.3 594.1,223.1 595,223.1 595.8,223.3 596.6,223.7 597.3,224.3 598,225 598.8,225.8 599.6,226.6 600.3,227.6 600.9,228.8 601.6,230.1 602.3,231.4 603.3,232.6 604.5,233.7 606.1,234.6 608.1,235.4 610.3,236.1 612.5,236.8 614.7,237.4 616.6,237.9 618.2,238.3 619.5,238.8 620.8,239.1 622.1,239.3 623.5,239.4 625.1,239.3 627,238.9 629,238.2 631.2,237.4 633.3,236.5 635.3,235.7 637.2,235.1 638.8,234.5 640.2,234 641.5,233.6 642.8,233.3 644.2,233 645.7,233 647.5,233 649.4,233.2 651.4,233.6 653.4,234 655.6,234.5 657.8,235.1 660.3,235.8 663.2,236.7 666.2,237.7 668.9,238.6 671.3,239.4 673,240" fill="none" stroke="#f6a628" stroke-width="1.35" stroke-linejoin="round"/>
<polyline points="551.2,224.5 552.4,224.4 554.2,224.2 556.3,223.9 558.5,223.7 560.6,223.7 562.5,223.8 564.1,224.2 565.6,224.9 567,225.6 568.4,226.4 569.7,227.3 571,228 572.2,228.9 573.4,229.9 574.5,230.8 575.6,231.7 576.7,232.2 577.8,232.2 578.9,231.8 580,231 581.1,229.9 582.2,228.5 583.2,226.9 584.2,225.2 585.1,223.2 585.9,220.9 586.7,218.3 587.5,215.7 588.3,213.3 589.1,211.2 590.1,209.3 591.1,207.5 592.1,205.9 593.1,204.5 594.1,203.4 595,202.7 595.8,202.4 596.6,202.5 597.3,202.8 598,203.5 598.8,204.4 599.6,205.6 600.4,207.1 601.2,209.2 602,211.5 602.8,213.9 603.6,216.2 604.5,218.2 605.4,219.9 606.2,221.5 607.1,222.9 608,224.3 608.9,225.5 609.9,226.6 610.9,227.5 612,228.2 613,228.8 614.2,229.4 615.3,230 616.6,230.8 617.9,231.9 619.3,233.2 620.8,234.5 622.3,235.8 623.8,237 625.1,237.9 626.4,238.5 627.5,238.9 628.6,239.1 629.7,239.2 630.7,239.3 631.8,239.3 632.7,239.2 633.5,239.1 634.4,238.9 635.2,238.6 636.1,238.3 637.2,237.9 638.4,237.4 639.8,236.7 641.2,236 642.7,235.3 644.2,234.7 645.7,234.4 647.3,234.2 648.9,234.2 650.6,234.3 652.2,234.5 653.8,234.8 655.2,235.1 656.5,235.4 657.6,235.8 658.7,236.3 659.8,236.9 661,237.4 662.4,237.9 664.1,238.4 666.1,238.9 668.1,239.5 670.1,240 671.8,240.4 673,240.7" fill="none" stroke="#2f2ff5" stroke-width="1.35" stroke-linejoin="round"/>
<line x1="566" y1="170.5" x2="574" y2="170.5" stroke="#fcd9a0" stroke-width="1.3"/>
<line x1="583" y1="170.5" x2="618" y2="170.5" stroke="#f6a628" stroke-width="1.3"/>
<line x1="609" y1="167.8" x2="619" y2="167.8" stroke="#3db595" stroke-width="1.3"/>
<line x1="627" y1="167.8" x2="636" y2="167.8" stroke="#c5ecdf" stroke-width="1.3"/>
<line x1="634" y1="165.2" x2="639" y2="165.2" stroke="#aaaaaa" stroke-width="1.3"/>
<line x1="660" y1="170.5" x2="675" y2="170.5" stroke="#fcd9a0" stroke-width="1.3"/>
<path d="M659,174 C663,174 670.5,182 670.5,189 C670.5,193 668,195 667,196 C669,198 668.5,202 663.5,203 L662,209.5 C660,210 658,210 656,209.5 L654.5,203 C649.5,202 649,198 651,196 C650,195 647.5,193 647.5,189 C647.5,182 655,174 659,174 Z" fill="#e0b9b5" />
<path d="M659,175 L659,195" fill="none" stroke="#cc9a96" stroke-width="0.6" />
<path d="M651,195.5 Q659,193 667,195.5" fill="none" stroke="#cc9a96" stroke-width="0.5" />
<path d="M654.5,203 Q659,204.5 663.5,203" fill="none" stroke="#cc9a96" stroke-width="0.5" />
<circle cx="656.5" cy="179" r="1.2" fill="#8f9ee8" stroke="#3b4bd0" stroke-width="0.5"/>
<circle cx="655.5" cy="183" r="1.2" fill="#8f9ee8" stroke="#3b4bd0" stroke-width="0.5"/>
<text x="635" y="178.1" font-size="6.6" fill="#222" stroke="#222" stroke-width="0.12">frontal</text>
<text x="626.8" y="190.8" font-size="6.6" fill="#222" stroke="#222" stroke-width="0.12">parietal</text>
<rect x="550" y="260.3" width="127.6" height="84.1" fill="none" stroke="#7c7c7c" stroke-width="0.9"/>
<line x1="548.5" y1="344.4" x2="550" y2="344.4" stroke="#777" stroke-width="0.6"/>
<text x="544.3" y="346.9" font-size="7" fill="#222" stroke="#222" stroke-width="0.13" text-anchor="end">0.0</text>
<line x1="548.5" y1="330.38" x2="550" y2="330.38" stroke="#777" stroke-width="0.6"/>
<text x="544.3" y="332.88" font-size="7" fill="#222" stroke="#222" stroke-width="0.13" text-anchor="end">0.1</text>
<line x1="548.5" y1="316.37" x2="550" y2="316.37" stroke="#777" stroke-width="0.6"/>
<text x="544.3" y="318.87" font-size="7" fill="#222" stroke="#222" stroke-width="0.13" text-anchor="end">0.2</text>
<line x1="548.5" y1="302.35" x2="550" y2="302.35" stroke="#777" stroke-width="0.6"/>
<text x="544.3" y="304.85" font-size="7" fill="#222" stroke="#222" stroke-width="0.13" text-anchor="end">0.3</text>
<line x1="548.5" y1="288.33" x2="550" y2="288.33" stroke="#777" stroke-width="0.6"/>
<text x="544.3" y="290.83" font-size="7" fill="#222" stroke="#222" stroke-width="0.13" text-anchor="end">0.4</text>
<line x1="548.5" y1="274.32" x2="550" y2="274.32" stroke="#777" stroke-width="0.6"/>
<text x="544.3" y="276.82" font-size="7" fill="#222" stroke="#222" stroke-width="0.13" text-anchor="end">0.5</text>
<line x1="548.5" y1="260.3" x2="550" y2="260.3" stroke="#777" stroke-width="0.6"/>
<text x="544.3" y="262.8" font-size="7" fill="#222" stroke="#222" stroke-width="0.13" text-anchor="end">0.6</text>
<line x1="553.5" y1="344.4" x2="553.5" y2="346.2" stroke="#777" stroke-width="0.5"/>
<line x1="568.85" y1="344.4" x2="568.85" y2="345.4" stroke="#777" stroke-width="0.5"/>
<line x1="577.83" y1="344.4" x2="577.83" y2="345.4" stroke="#777" stroke-width="0.5"/>
<line x1="584.21" y1="344.4" x2="584.21" y2="345.4" stroke="#777" stroke-width="0.5"/>
<line x1="589.15" y1="344.4" x2="589.15" y2="345.4" stroke="#777" stroke-width="0.5"/>
<line x1="593.19" y1="344.4" x2="593.19" y2="345.4" stroke="#777" stroke-width="0.5"/>
<line x1="596.6" y1="344.4" x2="596.6" y2="345.4" stroke="#777" stroke-width="0.5"/>
<line x1="599.56" y1="344.4" x2="599.56" y2="345.4" stroke="#777" stroke-width="0.5"/>
<line x1="602.17" y1="344.4" x2="602.17" y2="345.4" stroke="#777" stroke-width="0.5"/>
<line x1="604.5" y1="344.4" x2="604.5" y2="346.2" stroke="#777" stroke-width="0.5"/>
<line x1="625.12" y1="344.4" x2="625.12" y2="345.4" stroke="#777" stroke-width="0.5"/>
<line x1="637.18" y1="344.4" x2="637.18" y2="345.4" stroke="#777" stroke-width="0.5"/>
<line x1="645.74" y1="344.4" x2="645.74" y2="345.4" stroke="#777" stroke-width="0.5"/>
<line x1="652.38" y1="344.4" x2="652.38" y2="345.4" stroke="#777" stroke-width="0.5"/>
<line x1="657.8" y1="344.4" x2="657.8" y2="345.4" stroke="#777" stroke-width="0.5"/>
<line x1="662.39" y1="344.4" x2="662.39" y2="345.4" stroke="#777" stroke-width="0.5"/>
<line x1="666.36" y1="344.4" x2="666.36" y2="345.4" stroke="#777" stroke-width="0.5"/>
<line x1="669.87" y1="344.4" x2="669.87" y2="345.4" stroke="#777" stroke-width="0.5"/>
<line x1="673" y1="344.4" x2="673" y2="346.2" stroke="#777" stroke-width="0.5"/>
<text x="553.5" y="353.4" font-size="7" fill="#222" stroke="#222" stroke-width="0.13" text-anchor="middle">1</text>
<text x="604.5" y="353.4" font-size="7" fill="#222" stroke="#222" stroke-width="0.13" text-anchor="middle">10</text>
<text x="673" y="353.4" font-size="7" fill="#222" stroke="#222" stroke-width="0.13" text-anchor="middle">100</text>
<polygon points="551.2,323.4 554.2,324.5 558.6,326.1 563.8,328 569.1,329.8 574,331.2 577.8,331.8 580.7,331.5 582.9,330.5 584.8,329.1 586.4,327.5 587.8,326 589.1,324.8 590.4,323.8 591.4,322.7 592.2,321.7 592.9,320.9 593.8,320.5 595,320.6 596.2,321.3 597.5,322.5 598.8,324.1 600.4,325.8 602.2,327.5 604.5,329 607.4,330.4 610.9,331.8 614.7,333.3 618.5,334.5 622.1,335.5 625.1,336 627.5,335.9 629.5,335.3 631.2,334.4 632.8,333.3 634.8,332.4 637.2,331.8 640.2,331.4 643.6,331.1 647.3,330.9 651,330.8 654.6,330.9 657.8,331.1 660.8,331.5 663.8,332.3 666.7,333.1 669.3,334 671.4,334.8 673,335.3 673,338.1 671.4,337.6 669.3,336.8 666.7,335.9 663.8,335.1 660.8,334.4 657.8,333.9 654.6,333.7 651,333.6 647.3,333.7 643.6,333.9 640.2,334.2 637.2,334.6 634.8,335.2 632.8,336.1 631.2,337.2 629.5,338.1 627.5,338.7 625.1,338.8 622.1,338.3 618.5,337.3 614.7,336.1 610.9,334.6 607.4,333.2 604.5,331.8 602.2,330.3 600.4,328.6 598.8,326.9 597.5,325.3 596.2,324.1 595,323.4 593.8,323.3 592.9,323.7 592.2,324.5 591.4,325.5 590.4,326.6 589.1,327.6 587.8,328.8 586.4,330.3 584.8,331.9 582.9,333.3 580.7,334.3 577.8,334.6 574,334 569.1,332.6 563.8,330.8 558.6,328.9 554.2,327.3 551.2,326.2" fill="#3db595" fill-opacity="0.18"/>
<polygon points="551.2,324.8 553.2,325.1 556.1,325.5 559.4,326 562.9,326.5 566.2,327.1 568.9,327.6 570.8,328.2 572.4,328.9 573.7,329.7 575,330.3 576.3,330.6 577.8,330.4 579.6,329.6 581.6,328.3 583.7,326.6 585.7,324.9 587.6,323.3 589.1,322 590.4,320.9 591.4,319.8 592.3,318.9 593.1,318.2 594,317.8 595,317.8 596,318.3 597,319.2 598,320.5 599.2,321.9 600.5,323.4 602.2,324.8 604.2,326.2 606.6,327.7 609.3,329.3 611.9,330.8 614.4,332.1 616.6,333.2 618.3,334 619.7,334.6 621,335 622.2,335.2 623.6,335.3 625.1,335.3 626.9,335 628.8,334.5 630.7,333.8 632.8,333 635,332.3 637.2,331.8 639.5,331.4 641.8,330.9 644.2,330.6 646.8,330.3 649.5,330.2 652.4,330.4 655.7,330.9 659.6,331.7 663.6,332.7 667.5,333.8 670.7,334.7 673,335.3 673,338.1 670.7,337.5 667.5,336.6 663.6,335.6 659.6,334.5 655.7,333.7 652.4,333.2 649.5,333 646.8,333.1 644.2,333.4 641.8,333.7 639.5,334.2 637.2,334.6 635,335.1 632.8,335.8 630.7,336.6 628.8,337.3 626.9,337.8 625.1,338.1 623.6,338.1 622.2,338 621,337.8 619.7,337.4 618.3,336.8 616.6,336 614.4,334.9 611.9,333.6 609.3,332.1 606.6,330.5 604.2,329 602.2,327.6 600.5,326.2 599.2,324.7 598,323.3 597,322 596,321.1 595,320.6 594,320.6 593.1,321 592.3,321.7 591.4,322.6 590.4,323.7 589.1,324.8 587.6,326.1 585.7,327.7 583.7,329.4 581.6,331.1 579.6,332.4 577.8,333.2 576.3,333.4 575,333.1 573.7,332.5 572.4,331.7 570.8,331 568.9,330.4 566.2,329.9 562.9,329.3 559.4,328.8 556.1,328.3 553.2,327.9 551.2,327.6" fill="#dc2f4e" fill-opacity="0.18"/>
<polygon points="551.2,326.2 553.1,326.4 555.8,326.6 559,327 562.5,327.3 565.8,327.5 568.9,327.6 571.6,327.5 574.3,327.3 577,327 579.5,326.6 581.9,326.4 584.2,326.2 586.3,326 588.2,325.9 589.9,325.7 591.6,325.7 593.3,325.8 595,326.2 596.5,326.8 597.8,327.7 599.1,328.8 600.5,329.9 602.3,330.9 604.5,331.8 607.3,332.5 610.6,333.2 614.1,333.8 617.8,334.3 621.6,334.6 625.1,334.6 628.7,334.2 632.3,333.6 636,332.7 639.5,331.7 642.8,330.9 645.7,330.4 648.2,330.1 650.3,329.9 652.1,329.9 653.9,329.9 655.7,330.1 657.8,330.4 660.3,330.9 663.2,331.6 666.2,332.5 668.9,333.3 671.3,334.1 673,334.6 673,337.4 671.3,336.9 668.9,336.1 666.2,335.3 663.2,334.4 660.3,333.7 657.8,333.2 655.7,332.9 653.9,332.7 652.1,332.7 650.3,332.7 648.2,332.9 645.7,333.2 642.8,333.7 639.5,334.5 636,335.5 632.3,336.4 628.7,337 625.1,337.4 621.6,337.4 617.8,337.1 614.1,336.6 610.6,336 607.3,335.3 604.5,334.6 602.3,333.8 600.5,332.7 599.1,331.6 597.8,330.5 596.5,329.6 595,329 593.3,328.6 591.6,328.5 589.9,328.5 588.2,328.7 586.3,328.8 584.2,329 581.9,329.2 579.5,329.4 577,329.8 574.3,330.1 571.6,330.3 568.9,330.4 565.8,330.3 562.5,330.1 559,329.8 555.8,329.4 553.1,329.2 551.2,329" fill="#f6a628" fill-opacity="0.18"/>
<polygon points="551.2,319.2 553.2,319.5 556.1,319.9 559.4,320.5 562.9,321 566.2,321.6 568.9,322 570.8,322.4 572.4,322.8 573.7,323.1 575,323.4 576.3,323.5 577.8,323.4 579.6,323 581.6,322.3 583.7,321.5 585.7,320.7 587.6,319.9 589.1,319.2 590.4,318.5 591.4,317.8 592.3,317.2 593.1,316.6 594,316.3 595,316.4 596.1,316.9 597.2,317.8 598.4,318.9 599.7,320.1 600.9,321.2 602.2,322 603.4,322.5 604.8,322.8 606.1,323 607.4,323.2 608.7,323.3 609.9,323.4 611.1,323.4 612.1,323.2 613.2,322.9 614.2,322.8 615.4,322.9 616.6,323.4 617.9,324.3 619.3,325.7 620.8,327.3 622.3,329 623.8,330.5 625.1,331.8 626.3,332.8 627.2,333.8 628.1,334.6 629.1,335.3 630.2,335.7 631.8,336 633.7,335.9 635.9,335.6 638.4,335 641,334.4 643.4,333.7 645.7,333.2 647.8,332.6 649.8,332 651.7,331.3 653.6,330.8 655.6,330.4 657.8,330.4 660.3,330.7 663.2,331.4 666.2,332.3 668.9,333.2 671.3,334 673,334.6 673,340.2 671.3,339.7 668.9,338.8 666.2,337.9 663.2,337 660.3,336.3 657.8,336 655.6,336.1 653.6,336.4 651.7,337 649.8,337.6 647.8,338.2 645.7,338.8 643.4,339.3 641,340 638.4,340.6 635.9,341.2 633.7,341.5 631.8,341.6 630.2,341.4 629.1,340.9 628.1,340.2 627.2,339.4 626.3,338.4 625.1,337.4 623.8,336.1 622.3,334.6 620.8,332.9 619.3,331.3 617.9,329.9 616.6,329 615.4,328.5 614.2,328.4 613.2,328.5 612.1,328.8 611.1,329 609.9,329 608.7,328.9 607.4,328.8 606.1,328.6 604.8,328.4 603.4,328.1 602.2,327.6 600.9,326.8 599.7,325.7 598.4,324.5 597.2,323.4 596.1,322.5 595,322 594,321.9 593.1,322.2 592.3,322.8 591.4,323.4 590.4,324.1 589.1,324.8 587.6,325.5 585.7,326.3 583.7,327.1 581.6,327.9 579.6,328.6 577.8,329 576.3,329.1 575,329 573.7,328.7 572.4,328.4 570.8,328 568.9,327.6 566.2,327.2 562.9,326.6 559.4,326.1 556.1,325.6 553.2,325.1 551.2,324.8" fill="#2f2ff5" fill-opacity="0.18"/>
<polyline points="551.2,324.8 554.2,325.9 558.6,327.5 563.8,329.4 569.1,331.2 574,332.6 577.8,333.2 580.7,332.9 582.9,331.9 584.8,330.5 586.4,328.9 587.8,327.4 589.1,326.2 590.4,325.2 591.4,324.1 592.2,323.1 592.9,322.3 593.8,321.9 595,322 596.2,322.7 597.5,323.9 598.8,325.5 600.4,327.2 602.2,328.9 604.5,330.4 607.4,331.8 610.9,333.2 614.7,334.7 618.5,335.9 622.1,336.9 625.1,337.4 627.5,337.3 629.5,336.7 631.2,335.8 632.8,334.7 634.8,333.8 637.2,333.2 640.2,332.8 643.6,332.5 647.3,332.3 651,332.2 654.6,332.3 657.8,332.5 660.8,333 663.8,333.7 666.7,334.5 669.3,335.4 671.4,336.2 673,336.7" fill="none" stroke="#3db595" stroke-width="1.35" stroke-linejoin="round"/>
<polyline points="551.2,326.2 553.2,326.5 556.1,326.9 559.4,327.4 562.9,327.9 566.2,328.5 568.9,329 570.8,329.6 572.4,330.3 573.7,331.1 575,331.7 576.3,332 577.8,331.8 579.6,331 581.6,329.7 583.7,328 585.7,326.3 587.6,324.7 589.1,323.4 590.4,322.3 591.4,321.2 592.3,320.3 593.1,319.6 594,319.2 595,319.2 596,319.7 597,320.6 598,321.9 599.2,323.3 600.5,324.8 602.2,326.2 604.2,327.6 606.6,329.1 609.3,330.7 611.9,332.2 614.4,333.5 616.6,334.6 618.3,335.4 619.7,336 621,336.4 622.2,336.6 623.6,336.7 625.1,336.7 626.9,336.4 628.8,335.9 630.7,335.2 632.8,334.4 635,333.7 637.2,333.2 639.5,332.8 641.8,332.3 644.2,332 646.8,331.7 649.5,331.6 652.4,331.8 655.7,332.3 659.6,333.1 663.6,334.2 667.5,335.2 670.7,336.1 673,336.7" fill="none" stroke="#dc2f4e" stroke-width="1.35" stroke-linejoin="round"/>
<polyline points="551.2,327.6 553.1,327.8 555.8,328 559,328.4 562.5,328.7 565.8,328.9 568.9,329 571.6,328.9 574.3,328.7 577,328.4 579.5,328 581.9,327.8 584.2,327.6 586.3,327.4 588.2,327.3 589.9,327.1 591.6,327.1 593.3,327.2 595,327.6 596.5,328.2 597.8,329.1 599.1,330.2 600.5,331.3 602.3,332.3 604.5,333.2 607.3,333.9 610.6,334.6 614.1,335.2 617.8,335.7 621.6,336 625.1,336 628.7,335.6 632.3,335 636,334.1 639.5,333.1 642.8,332.3 645.7,331.8 648.2,331.5 650.3,331.3 652.1,331.3 653.9,331.3 655.7,331.5 657.8,331.8 660.3,332.3 663.2,333 666.2,333.9 668.9,334.7 671.3,335.5 673,336" fill="none" stroke="#f6a628" stroke-width="1.35" stroke-linejoin="round"/>
<polyline points="551.2,322 553.2,322.3 556.1,322.8 559.4,323.3 562.9,323.8 566.2,324.4 568.9,324.8 570.8,325.2 572.4,325.6 573.7,325.9 575,326.2 576.3,326.3 577.8,326.2 579.6,325.8 581.6,325.1 583.7,324.3 585.7,323.5 587.6,322.7 589.1,322 590.4,321.3 591.4,320.6 592.3,320 593.1,319.4 594,319.1 595,319.2 596.1,319.7 597.2,320.6 598.4,321.7 599.7,322.9 600.9,324 602.2,324.8 603.4,325.3 604.8,325.6 606.1,325.8 607.4,326 608.7,326.1 609.9,326.2 611.1,326.2 612.1,326 613.2,325.7 614.2,325.6 615.4,325.7 616.6,326.2 617.9,327.1 619.3,328.5 620.8,330.1 622.3,331.8 623.8,333.3 625.1,334.6 626.3,335.6 627.2,336.6 628.1,337.4 629.1,338.1 630.2,338.5 631.8,338.8 633.7,338.7 635.9,338.4 638.4,337.8 641,337.2 643.4,336.5 645.7,336 647.8,335.4 649.8,334.8 651.7,334.2 653.6,333.6 655.6,333.2 657.8,333.2 660.3,333.5 663.2,334.2 666.2,335.1 668.9,336 671.3,336.9 673,337.4" fill="none" stroke="#2f2ff5" stroke-width="1.35" stroke-linejoin="round"/>
<line x1="576" y1="262.8" x2="583.8" y2="262.8" stroke="#bbbbbb" stroke-width="1.3"/>
<line x1="608.3" y1="262.8" x2="622.6" y2="262.8" stroke="#111" stroke-width="1.3"/>
<line x1="630.8" y1="262.8" x2="647.8" y2="262.8" stroke="#111" stroke-width="1.3"/>
<line x1="656.4" y1="262.8" x2="664" y2="262.8" stroke="#bbbbbb" stroke-width="1.3"/>
<line x1="599" y1="265.2" x2="612.4" y2="265.2" stroke="#c5ecdf" stroke-width="1.3"/>
<line x1="624.6" y1="265.2" x2="644.6" y2="265.2" stroke="#3db595" stroke-width="1.3"/>
<line x1="589.5" y1="268.3" x2="606.3" y2="268.3" stroke="#f6a628" stroke-width="1.3"/>
<line x1="644" y1="268.3" x2="664" y2="268.3" stroke="#f6a628" stroke-width="1.3"/>
<text x="614" y="359.5" font-size="7.7" fill="#222" stroke="#222" stroke-width="0.14" text-anchor="middle">Frequency [Hz]</text>
<text x="521.1" y="201.3" font-size="10.7" fill="#111" stroke="#111" stroke-width="0.19" text-anchor="middle" transform="rotate(-90 521.1 201.3)">wake</text>
<text x="531.2" y="202.3" font-size="8" fill="#222" stroke="#222" stroke-width="0.14" text-anchor="middle" transform="rotate(-90 531.2 202.3)">iCoherence</text>
<text x="520.8" y="305.6" font-size="10.3" fill="#111" stroke="#111" stroke-width="0.19" text-anchor="middle" transform="rotate(-90 520.8 305.6)">NREM sleep</text>
<text x="531" y="304.3" font-size="8" fill="#222" stroke="#222" stroke-width="0.14" text-anchor="middle" transform="rotate(-90 531 304.3)">iCoherence</text>
<text x="505" y="253.8" font-size="11.1" fill="#111" stroke="#111" stroke-width="0.2" text-anchor="middle" transform="rotate(-90 505 253.8)">oscillatory coherence</text>
<line x1="507.2" y1="164" x2="507.2" y2="345" stroke="#bdbdbd" stroke-width="0.9"/>
<text x="531.4" y="404.2" font-size="14" fill="#111" stroke="#111" stroke-width="0.25">M</text>
<text x="613.5" y="403.9" font-size="9.5" fill="#111" stroke="#111" stroke-width="0.17" text-anchor="middle">0-2 hrs post-dosing</text>
<rect x="551.4" y="411.7" width="126.6" height="85.1" fill="none" stroke="#7c7c7c" stroke-width="0.9"/>
<line x1="549.9" y1="496.8" x2="551.4" y2="496.8" stroke="#777" stroke-width="0.6"/>
<text x="549.1" y="499.3" font-size="7" fill="#222" stroke="#222" stroke-width="0.13" text-anchor="end">0.0</text>
<line x1="549.9" y1="482.62" x2="551.4" y2="482.62" stroke="#777" stroke-width="0.6"/>
<text x="549.1" y="485.12" font-size="7" fill="#222" stroke="#222" stroke-width="0.13" text-anchor="end">0.1</text>
<line x1="549.9" y1="468.43" x2="551.4" y2="468.43" stroke="#777" stroke-width="0.6"/>
<text x="549.1" y="470.93" font-size="7" fill="#222" stroke="#222" stroke-width="0.13" text-anchor="end">0.2</text>
<line x1="549.9" y1="454.25" x2="551.4" y2="454.25" stroke="#777" stroke-width="0.6"/>
<text x="549.1" y="456.75" font-size="7" fill="#222" stroke="#222" stroke-width="0.13" text-anchor="end">0.3</text>
<line x1="549.9" y1="440.07" x2="551.4" y2="440.07" stroke="#777" stroke-width="0.6"/>
<text x="549.1" y="442.57" font-size="7" fill="#222" stroke="#222" stroke-width="0.13" text-anchor="end">0.4</text>
<line x1="549.9" y1="425.88" x2="551.4" y2="425.88" stroke="#777" stroke-width="0.6"/>
<text x="549.1" y="428.38" font-size="7" fill="#222" stroke="#222" stroke-width="0.13" text-anchor="end">0.5</text>
<line x1="549.9" y1="411.7" x2="551.4" y2="411.7" stroke="#777" stroke-width="0.6"/>
<text x="549.1" y="414.2" font-size="7" fill="#222" stroke="#222" stroke-width="0.13" text-anchor="end">0.6</text>
<line x1="553.5" y1="496.8" x2="553.5" y2="498.6" stroke="#777" stroke-width="0.5"/>
<line x1="568.85" y1="496.8" x2="568.85" y2="497.8" stroke="#777" stroke-width="0.5"/>
<line x1="577.83" y1="496.8" x2="577.83" y2="497.8" stroke="#777" stroke-width="0.5"/>
<line x1="584.21" y1="496.8" x2="584.21" y2="497.8" stroke="#777" stroke-width="0.5"/>
<line x1="589.15" y1="496.8" x2="589.15" y2="497.8" stroke="#777" stroke-width="0.5"/>
<line x1="593.19" y1="496.8" x2="593.19" y2="497.8" stroke="#777" stroke-width="0.5"/>
<line x1="596.6" y1="496.8" x2="596.6" y2="497.8" stroke="#777" stroke-width="0.5"/>
<line x1="599.56" y1="496.8" x2="599.56" y2="497.8" stroke="#777" stroke-width="0.5"/>
<line x1="602.17" y1="496.8" x2="602.17" y2="497.8" stroke="#777" stroke-width="0.5"/>
<line x1="604.5" y1="496.8" x2="604.5" y2="498.6" stroke="#777" stroke-width="0.5"/>
<line x1="625.12" y1="496.8" x2="625.12" y2="497.8" stroke="#777" stroke-width="0.5"/>
<line x1="637.18" y1="496.8" x2="637.18" y2="497.8" stroke="#777" stroke-width="0.5"/>
<line x1="645.74" y1="496.8" x2="645.74" y2="497.8" stroke="#777" stroke-width="0.5"/>
<line x1="652.38" y1="496.8" x2="652.38" y2="497.8" stroke="#777" stroke-width="0.5"/>
<line x1="657.8" y1="496.8" x2="657.8" y2="497.8" stroke="#777" stroke-width="0.5"/>
<line x1="662.39" y1="496.8" x2="662.39" y2="497.8" stroke="#777" stroke-width="0.5"/>
<line x1="666.36" y1="496.8" x2="666.36" y2="497.8" stroke="#777" stroke-width="0.5"/>
<line x1="669.87" y1="496.8" x2="669.87" y2="497.8" stroke="#777" stroke-width="0.5"/>
<line x1="673" y1="496.8" x2="673" y2="498.6" stroke="#777" stroke-width="0.5"/>
<text x="553.5" y="505.8" font-size="7" fill="#222" stroke="#222" stroke-width="0.13" text-anchor="middle">1</text>
<text x="604.5" y="505.8" font-size="7" fill="#222" stroke="#222" stroke-width="0.13" text-anchor="middle">10</text>
<text x="673" y="505.8" font-size="7" fill="#222" stroke="#222" stroke-width="0.13" text-anchor="middle">100</text>
<polygon points="551.2,470.6 553.2,471.2 556.1,472 559.4,473 562.9,474.1 566.2,475.2 568.9,476.2 570.9,477.4 572.6,478.7 574,480.1 575.4,481.3 576.6,482.2 577.8,482.6 579.1,482.6 580.2,482.1 581.3,481.4 582.3,480.4 583.3,479.1 584.2,477.7 585.1,475.8 585.9,473.6 586.7,471 587.5,468.4 588.3,465.9 589.1,463.5 590.1,461 591.1,458.4 592.1,455.8 593.1,453.5 594.1,451.7 595,450.7 595.8,450.5 596.6,450.9 597.3,451.8 598,453.1 598.8,454.6 599.6,456.4 600.3,458.5 600.9,461.1 601.6,463.9 602.3,466.8 603.3,469.6 604.5,472 606.1,474 608.1,475.9 610.3,477.6 612.5,479.1 614.7,480.6 616.6,481.9 618.2,483.2 619.7,484.3 621.2,485.4 622.5,486.3 623.8,487 625.1,487.6 626.3,488 627.4,488.2 628.3,488.2 629.4,488.1 630.5,487.9 631.8,487.6 633.2,487.1 634.8,486.3 636.5,485.5 638.3,484.6 640,483.8 641.8,483.3 643.5,483 645.3,482.9 647.1,482.9 648.9,483 650.6,483.1 652.4,483.3 654.1,483.6 655.7,484.1 657.4,484.6 659,485.1 660.7,485.7 662.4,486.2 664.2,486.7 666.3,487.2 668.3,487.8 670.2,488.3 671.8,488.7 673,489 673,491.8 671.8,491.5 670.2,491.1 668.3,490.6 666.3,490 664.2,489.5 662.4,489 660.7,488.5 659,487.9 657.4,487.4 655.7,486.9 654.1,486.5 652.4,486.2 650.6,485.9 648.9,485.8 647.1,485.7 645.3,485.7 643.5,485.9 641.8,486.2 640,486.7 638.3,487.4 636.5,488.3 634.8,489.2 633.2,489.9 631.8,490.4 630.5,490.7 629.4,490.9 628.3,491 627.4,491 626.3,490.8 625.1,490.4 623.8,489.8 622.5,489.1 621.2,488.2 619.7,487.2 618.2,486 616.6,484.7 614.7,483.4 612.5,482 610.3,480.4 608.1,478.7 606.1,476.8 604.5,474.8 603.3,472.4 602.3,469.7 601.6,466.7 600.9,463.9 600.3,461.3 599.6,459.2 598.8,457.5 598,455.9 597.3,454.6 596.6,453.7 595.8,453.3 595,453.5 594.1,454.6 593.1,456.4 592.1,458.7 591.1,461.3 590.1,463.9 589.1,466.3 588.3,468.7 587.5,471.3 586.7,473.9 585.9,476.4 585.1,478.6 584.2,480.5 583.3,482 582.3,483.2 581.3,484.3 580.2,485 579.1,485.4 577.8,485.5 576.6,485 575.4,484.1 574,482.9 572.6,481.6 570.9,480.2 568.9,479.1 566.2,478 562.9,476.9 559.4,475.8 556.1,474.8 553.2,474 551.2,473.4" fill="#3db595" fill-opacity="0.18"/>
<polygon points="551.2,472 553.2,472.6 556.1,473.4 559.4,474.4 562.9,475.4 566.2,476.5 568.9,477.5 570.9,478.6 572.6,479.9 574,481.2 575.4,482.4 576.6,483.3 577.8,483.7 579.1,483.6 580.2,483.2 581.3,482.5 582.3,481.5 583.3,480.3 584.2,478.9 585.1,477.1 585.9,474.9 586.7,472.5 587.5,469.9 588.3,467.4 589.1,465.1 590.1,462.8 591.1,460.2 592.1,457.7 593.1,455.5 594.1,453.7 595,452.7 595.8,452.5 596.6,452.9 597.3,453.8 598,455 598.8,456.6 599.6,458.2 600.3,460.3 600.9,462.8 601.6,465.5 602.3,468.4 603.3,471.1 604.5,473.4 606.1,475.3 608.1,477.1 610.3,478.8 612.5,480.3 614.7,481.7 616.6,483 618.2,484.2 619.7,485.3 621.2,486.4 622.5,487.2 623.8,488 625.1,488.5 626.3,488.9 627.4,489.1 628.3,489.1 629.4,489 630.5,488.8 631.8,488.5 633.2,488 634.8,487.3 636.5,486.4 638.3,485.6 640,484.9 641.8,484.4 643.5,484.1 645.3,484 647.1,483.9 648.9,484 650.6,484.2 652.4,484.4 654.1,484.7 655.7,485.1 657.4,485.6 659,486.1 660.7,486.6 662.4,487.1 664.2,487.6 666.3,488.1 668.3,488.7 670.2,489.2 671.8,489.6 673,489.9 673,492.7 671.8,492.4 670.2,492 668.3,491.5 666.3,491 664.2,490.5 662.4,490 660.7,489.5 659,488.9 657.4,488.4 655.7,487.9 654.1,487.5 652.4,487.2 650.6,487 648.9,486.9 647.1,486.8 645.3,486.8 643.5,486.9 641.8,487.2 640,487.7 638.3,488.4 636.5,489.3 634.8,490.1 633.2,490.8 631.8,491.3 630.5,491.6 629.4,491.8 628.3,491.9 627.4,491.9 626.3,491.7 625.1,491.3 623.8,490.8 622.5,490.1 621.2,489.2 619.7,488.2 618.2,487.1 616.6,485.8 614.7,484.5 612.5,483.1 610.3,481.6 608.1,480 606.1,478.2 604.5,476.2 603.3,473.9 602.3,471.2 601.6,468.4 600.9,465.6 600.3,463.1 599.6,461.1 598.8,459.4 598,457.9 597.3,456.6 596.6,455.7 595.8,455.3 595,455.6 594.1,456.6 593.1,458.3 592.1,460.6 591.1,463.1 590.1,465.6 589.1,468 588.3,470.3 587.5,472.8 586.7,475.3 585.9,477.7 585.1,479.9 584.2,481.7 583.3,483.2 582.3,484.4 581.3,485.4 580.2,486.1 579.1,486.5 577.8,486.5 576.6,486.1 575.4,485.3 574,484.1 572.6,482.8 570.9,481.5 568.9,480.3 566.2,479.3 562.9,478.2 559.4,477.2 556.1,476.2 553.2,475.4 551.2,474.8" fill="#dc2f4e" fill-opacity="0.18"/>
<polygon points="551.2,467 553.1,467.2 555.8,467.6 559,467.9 562.5,468.4 565.8,468.8 568.9,469.1 571.6,469.5 574.4,469.9 577.1,470.3 579.6,470.7 582,471 584.2,471.3 586.1,471.4 587.8,471.5 589.3,471.4 590.6,471.5 591.9,471.6 593.2,472 594.4,472.5 595.4,473.2 596.3,474.1 597.2,475 598.3,475.9 599.6,476.9 601,478.1 602.5,479.3 604.2,480.6 606,481.9 607.9,483.1 609.9,484 612.2,484.8 614.6,485.5 617.1,486.1 619.8,486.5 622.4,486.8 625.1,486.9 627.8,486.7 630.6,486.3 633.4,485.7 636.2,485.1 639,484.5 641.8,484 644.5,483.7 647.2,483.2 649.9,482.9 652.5,482.6 655.2,482.5 657.8,482.6 660.6,483 663.5,483.8 666.4,484.7 669.1,485.6 671.4,486.3 673,486.9 673,492.5 671.4,492 669.1,491.2 666.4,490.3 663.5,489.4 660.6,488.7 657.8,488.3 655.2,488.2 652.5,488.3 649.9,488.6 647.2,488.9 644.5,489.3 641.8,489.7 639,490.2 636.2,490.8 633.4,491.4 630.6,492 627.8,492.4 625.1,492.5 622.4,492.4 619.8,492.2 617.1,491.7 614.6,491.2 612.2,490.5 609.9,489.7 607.9,488.7 606,487.6 604.2,486.3 602.5,485 601,483.7 599.6,482.6 598.3,481.6 597.2,480.6 596.3,479.7 595.4,478.9 594.4,478.2 593.2,477.7 591.9,477.3 590.6,477.2 589.3,477.1 587.8,477.1 586.1,477.1 584.2,476.9 582,476.7 579.6,476.3 577.1,476 574.4,475.6 571.6,475.2 568.9,474.8 565.8,474.4 562.5,474 559,473.6 555.8,473.2 553.1,472.9 551.2,472.7" fill="#f6a628" fill-opacity="0.18"/>
<polygon points="551.2,471.3 553.2,471.9 556.1,472.7 559.4,473.7 562.9,474.8 566.2,475.9 568.9,476.9 570.9,478.1 572.6,479.4 574,480.8 575.4,482 576.6,482.9 577.8,483.3 579.1,483.3 580.2,482.9 581.3,482.1 582.3,481.1 583.3,479.9 584.2,478.4 585.1,476.5 585.9,474.3 586.7,471.8 587.5,469.1 588.3,466.6 589.1,464.2 590.1,461.8 591.1,459.1 592.1,456.6 593.1,454.2 594.1,452.5 595,451.4 595.8,451.2 596.6,451.6 597.3,452.5 598,453.8 598.8,455.4 599.6,457.1 600.3,459.2 600.9,461.8 601.6,464.6 602.3,467.5 603.3,470.3 604.5,472.7 606.1,474.7 608.1,476.6 610.3,478.3 612.5,479.8 614.7,481.3 616.6,482.6 618.2,483.9 619.7,485 621.2,486.1 622.5,487 623.8,487.7 625.1,488.3 626.3,488.7 627.4,488.9 628.3,488.9 629.4,488.8 630.5,488.6 631.8,488.3 633.2,487.8 634.8,487 636.5,486.2 638.3,485.3 640,484.5 641.8,484 643.5,483.8 645.3,483.6 647.1,483.6 648.9,483.7 650.6,483.8 652.4,484 654.1,484.3 655.7,484.8 657.4,485.3 659,485.8 660.7,486.4 662.4,486.9 664.2,487.4 666.3,487.9 668.3,488.5 670.2,489 671.8,489.4 673,489.7 673,492.5 671.8,492.2 670.2,491.8 668.3,491.3 666.3,490.8 664.2,490.2 662.4,489.7 660.7,489.2 659,488.7 657.4,488.1 655.7,487.6 654.1,487.2 652.4,486.9 650.6,486.7 648.9,486.5 647.1,486.4 645.3,486.5 643.5,486.6 641.8,486.9 640,487.4 638.3,488.1 636.5,489 634.8,489.9 633.2,490.6 631.8,491.1 630.5,491.4 629.4,491.7 628.3,491.7 627.4,491.7 626.3,491.5 625.1,491.1 623.8,490.6 622.5,489.8 621.2,488.9 619.7,487.9 618.2,486.7 616.6,485.5 614.7,484.1 612.5,482.7 610.3,481.1 608.1,479.4 606.1,477.6 604.5,475.5 603.3,473.1 602.3,470.4 601.6,467.5 600.9,464.6 600.3,462 599.6,459.9 598.8,458.2 598,456.6 597.3,455.3 596.6,454.4 595.8,454 595,454.2 594.1,455.3 593.1,457.1 592.1,459.4 591.1,462 590.1,464.6 589.1,467 588.3,469.4 587.5,472 586.7,474.6 585.9,477.1 585.1,479.4 584.2,481.2 583.3,482.7 582.3,484 581.3,485 580.2,485.7 579.1,486.1 577.8,486.2 576.6,485.7 575.4,484.8 574,483.6 572.6,482.3 570.9,480.9 568.9,479.8 566.2,478.7 562.9,477.6 559.4,476.5 556.1,475.6 553.2,474.7 551.2,474.1" fill="#2f2ff5" fill-opacity="0.18"/>
<polyline points="551.2,472 553.2,472.6 556.1,473.4 559.4,474.4 562.9,475.5 566.2,476.6 568.9,477.7 570.9,478.8 572.6,480.1 574,481.5 575.4,482.7 576.6,483.6 577.8,484 579.1,484 580.2,483.6 581.3,482.8 582.3,481.8 583.3,480.6 584.2,479.1 585.1,477.2 585.9,475 586.7,472.5 587.5,469.9 588.3,467.3 589.1,464.9 590.1,462.5 591.1,459.8 592.1,457.3 593.1,455 594.1,453.2 595,452.1 595.8,451.9 596.6,452.3 597.3,453.2 598,454.5 598.8,456.1 599.6,457.8 600.3,459.9 600.9,462.5 601.6,465.3 602.3,468.2 603.3,471 604.5,473.4 606.1,475.4 608.1,477.3 610.3,479 612.5,480.5 614.7,482 616.6,483.3 618.2,484.6 619.7,485.7 621.2,486.8 622.5,487.7 623.8,488.4 625.1,489 626.3,489.4 627.4,489.6 628.3,489.6 629.4,489.5 630.5,489.3 631.8,489 633.2,488.5 634.8,487.7 636.5,486.9 638.3,486 640,485.3 641.8,484.7 643.5,484.5 645.3,484.3 647.1,484.3 648.9,484.4 650.6,484.5 652.4,484.7 654.1,485.1 655.7,485.5 657.4,486 659,486.5 660.7,487.1 662.4,487.6 664.2,488.1 666.3,488.6 668.3,489.2 670.2,489.7 671.8,490.1 673,490.4" fill="none" stroke="#3db595" stroke-width="1.35" stroke-linejoin="round"/>
<polyline points="551.2,473.4 553.2,474 556.1,474.8 559.4,475.8 562.9,476.8 566.2,477.9 568.9,478.9 570.9,480 572.6,481.3 574,482.7 575.4,483.8 576.6,484.7 577.8,485.1 579.1,485 580.2,484.6 581.3,483.9 582.3,483 583.3,481.7 584.2,480.3 585.1,478.5 585.9,476.3 586.7,473.9 587.5,471.3 588.3,468.8 589.1,466.5 590.1,464.2 591.1,461.6 592.1,459.1 593.1,456.9 594.1,455.2 595,454.2 595.8,453.9 596.6,454.3 597.3,455.2 598,456.4 598.8,458 599.6,459.7 600.3,461.7 600.9,464.2 601.6,467 602.3,469.8 603.3,472.5 604.5,474.8 606.1,476.8 608.1,478.6 610.3,480.2 612.5,481.7 614.7,483.1 616.6,484.4 618.2,485.6 619.7,486.8 621.2,487.8 622.5,488.6 623.8,489.4 625.1,489.9 626.3,490.3 627.4,490.5 628.3,490.5 629.4,490.4 630.5,490.2 631.8,489.9 633.2,489.4 634.8,488.7 636.5,487.9 638.3,487 640,486.3 641.8,485.8 643.5,485.5 645.3,485.4 647.1,485.4 648.9,485.4 650.6,485.6 652.4,485.8 654.1,486.1 655.7,486.5 657.4,487 659,487.5 660.7,488.1 662.4,488.5 664.2,489 666.3,489.6 668.3,490.1 670.2,490.6 671.8,491 673,491.3" fill="none" stroke="#dc2f4e" stroke-width="1.35" stroke-linejoin="round"/>
<polyline points="551.2,469.9 553.1,470.1 555.8,470.4 559,470.8 562.5,471.2 565.8,471.6 568.9,472 571.6,472.4 574.4,472.7 577.1,473.1 579.6,473.5 582,473.8 584.2,474.1 586.1,474.3 587.8,474.3 589.3,474.3 590.6,474.3 591.9,474.5 593.2,474.8 594.4,475.4 595.4,476.1 596.3,476.9 597.2,477.8 598.3,478.8 599.6,479.8 601,480.9 602.5,482.1 604.2,483.5 606,484.7 607.9,485.9 609.9,486.9 612.2,487.7 614.6,488.3 617.1,488.9 619.8,489.3 622.4,489.6 625.1,489.7 627.8,489.5 630.6,489.1 633.4,488.6 636.2,487.9 639,487.3 641.8,486.9 644.5,486.5 647.2,486.1 649.9,485.7 652.5,485.5 655.2,485.3 657.8,485.5 660.6,485.9 663.5,486.6 666.4,487.5 669.1,488.4 671.4,489.2 673,489.7" fill="none" stroke="#f6a628" stroke-width="1.35" stroke-linejoin="round"/>
<polyline points="551.2,472.7 553.2,473.3 556.1,474.1 559.4,475.1 562.9,476.2 566.2,477.3 568.9,478.4 570.9,479.5 572.6,480.9 574,482.2 575.4,483.4 576.6,484.3 577.8,484.7 579.1,484.7 580.2,484.3 581.3,483.5 582.3,482.5 583.3,481.3 584.2,479.8 585.1,477.9 585.9,475.7 586.7,473.2 587.5,470.6 588.3,468 589.1,465.6 590.1,463.2 591.1,460.6 592.1,458 593.1,455.7 594.1,453.9 595,452.8 595.8,452.6 596.6,453 597.3,453.9 598,455.2 598.8,456.8 599.6,458.5 600.3,460.6 600.9,463.2 601.6,466 602.3,469 603.3,471.7 604.5,474.1 606.1,476.1 608.1,478 610.3,479.7 612.5,481.3 614.7,482.7 616.6,484 618.2,485.3 619.7,486.5 621.2,487.5 622.5,488.4 623.8,489.1 625.1,489.7 626.3,490.1 627.4,490.3 628.3,490.3 629.4,490.2 630.5,490 631.8,489.7 633.2,489.2 634.8,488.4 636.5,487.6 638.3,486.7 640,486 641.8,485.5 643.5,485.2 645.3,485 647.1,485 648.9,485.1 650.6,485.2 652.4,485.5 654.1,485.8 655.7,486.2 657.4,486.7 659,487.2 660.7,487.8 662.4,488.3 664.2,488.8 666.3,489.3 668.3,489.9 670.2,490.4 671.8,490.8 673,491.1" fill="none" stroke="#2f2ff5" stroke-width="1.35" stroke-linejoin="round"/>
<line x1="567" y1="418.2" x2="572" y2="418.2" stroke="#c5ecdf" stroke-width="1.3"/>
<line x1="575" y1="420.8" x2="580" y2="420.8" stroke="#fcd9a0" stroke-width="1.3"/>
<line x1="587" y1="420.8" x2="617" y2="420.8" stroke="#f6a628" stroke-width="1.3"/>
<line x1="615" y1="418.2" x2="622" y2="418.2" stroke="#c5ecdf" stroke-width="1.3"/>
<line x1="618" y1="414.5" x2="626" y2="414.5" stroke="#bbbbbb" stroke-width="1.3"/>
<line x1="629" y1="414.5" x2="637" y2="414.5" stroke="#bbbbbb" stroke-width="1.3"/>
<line x1="627" y1="420.8" x2="630" y2="420.8" stroke="#fcd9a0" stroke-width="1.3"/>
<line x1="661" y1="414.5" x2="669" y2="414.5" stroke="#bbbbbb" stroke-width="1.3"/>
<line x1="652" y1="420.8" x2="673" y2="420.8" stroke="#f6a628" stroke-width="1.3"/>
<path d="M659.3,422 C663.3,422 670.8,430 670.8,437 C670.8,441 668.3,443 667.3,444 C669.3,446 668.8,450 663.8,451 L662.3,457.5 C660.3,458 658.3,458 656.3,457.5 L654.8,451 C649.8,450 649.3,446 651.3,444 C650.3,443 647.8,441 647.8,437 C647.8,430 655.3,422 659.3,422 Z" fill="#e0b9b5" />
<path d="M659.3,423 L659.3,443" fill="none" stroke="#cc9a96" stroke-width="0.6" />
<path d="M651.3,443.5 Q659.3,441 667.3,443.5" fill="none" stroke="#cc9a96" stroke-width="0.5" />
<path d="M654.8,451 Q659.3,452.5 663.8,451" fill="none" stroke="#cc9a96" stroke-width="0.5" />
<circle cx="656.3" cy="427" r="1.2" fill="#8f9ee8" stroke="#3b4bd0" stroke-width="0.5"/>
<circle cx="657.3" cy="430.5" r="1.2" fill="#8f9ee8" stroke="#3b4bd0" stroke-width="0.5"/>
<text x="635.5" y="426.9" font-size="6.6" fill="#222" stroke="#222" stroke-width="0.12">frontal</text>
<text x="627" y="439.7" font-size="6.6" fill="#222" stroke="#222" stroke-width="0.12">parietal</text>
<rect x="551.4" y="511.8" width="126.6" height="82.7" fill="none" stroke="#7c7c7c" stroke-width="0.9"/>
<line x1="549.9" y1="594.5" x2="551.4" y2="594.5" stroke="#777" stroke-width="0.6"/>
<text x="549.1" y="597" font-size="7" fill="#222" stroke="#222" stroke-width="0.13" text-anchor="end">0.0</text>
<line x1="549.9" y1="580.72" x2="551.4" y2="580.72" stroke="#777" stroke-width="0.6"/>
<text x="549.1" y="583.22" font-size="7" fill="#222" stroke="#222" stroke-width="0.13" text-anchor="end">0.1</text>
<line x1="549.9" y1="566.93" x2="551.4" y2="566.93" stroke="#777" stroke-width="0.6"/>
<text x="549.1" y="569.43" font-size="7" fill="#222" stroke="#222" stroke-width="0.13" text-anchor="end">0.2</text>
<line x1="549.9" y1="553.15" x2="551.4" y2="553.15" stroke="#777" stroke-width="0.6"/>
<text x="549.1" y="555.65" font-size="7" fill="#222" stroke="#222" stroke-width="0.13" text-anchor="end">0.3</text>
<line x1="549.9" y1="539.37" x2="551.4" y2="539.37" stroke="#777" stroke-width="0.6"/>
<text x="549.1" y="541.87" font-size="7" fill="#222" stroke="#222" stroke-width="0.13" text-anchor="end">0.4</text>
<line x1="549.9" y1="525.58" x2="551.4" y2="525.58" stroke="#777" stroke-width="0.6"/>
<text x="549.1" y="528.08" font-size="7" fill="#222" stroke="#222" stroke-width="0.13" text-anchor="end">0.5</text>
<line x1="549.9" y1="511.8" x2="551.4" y2="511.8" stroke="#777" stroke-width="0.6"/>
<text x="549.1" y="514.3" font-size="7" fill="#222" stroke="#222" stroke-width="0.13" text-anchor="end">0.6</text>
<line x1="553.5" y1="594.5" x2="553.5" y2="596.3" stroke="#777" stroke-width="0.5"/>
<line x1="568.85" y1="594.5" x2="568.85" y2="595.5" stroke="#777" stroke-width="0.5"/>
<line x1="577.83" y1="594.5" x2="577.83" y2="595.5" stroke="#777" stroke-width="0.5"/>
<line x1="584.21" y1="594.5" x2="584.21" y2="595.5" stroke="#777" stroke-width="0.5"/>
<line x1="589.15" y1="594.5" x2="589.15" y2="595.5" stroke="#777" stroke-width="0.5"/>
<line x1="593.19" y1="594.5" x2="593.19" y2="595.5" stroke="#777" stroke-width="0.5"/>
<line x1="596.6" y1="594.5" x2="596.6" y2="595.5" stroke="#777" stroke-width="0.5"/>
<line x1="599.56" y1="594.5" x2="599.56" y2="595.5" stroke="#777" stroke-width="0.5"/>
<line x1="602.17" y1="594.5" x2="602.17" y2="595.5" stroke="#777" stroke-width="0.5"/>
<line x1="604.5" y1="594.5" x2="604.5" y2="596.3" stroke="#777" stroke-width="0.5"/>
<line x1="625.12" y1="594.5" x2="625.12" y2="595.5" stroke="#777" stroke-width="0.5"/>
<line x1="637.18" y1="594.5" x2="637.18" y2="595.5" stroke="#777" stroke-width="0.5"/>
<line x1="645.74" y1="594.5" x2="645.74" y2="595.5" stroke="#777" stroke-width="0.5"/>
<line x1="652.38" y1="594.5" x2="652.38" y2="595.5" stroke="#777" stroke-width="0.5"/>
<line x1="657.8" y1="594.5" x2="657.8" y2="595.5" stroke="#777" stroke-width="0.5"/>
<line x1="662.39" y1="594.5" x2="662.39" y2="595.5" stroke="#777" stroke-width="0.5"/>
<line x1="666.36" y1="594.5" x2="666.36" y2="595.5" stroke="#777" stroke-width="0.5"/>
<line x1="669.87" y1="594.5" x2="669.87" y2="595.5" stroke="#777" stroke-width="0.5"/>
<line x1="673" y1="594.5" x2="673" y2="596.3" stroke="#777" stroke-width="0.5"/>
<text x="553.5" y="603.5" font-size="7" fill="#222" stroke="#222" stroke-width="0.13" text-anchor="middle">1</text>
<text x="604.5" y="603.5" font-size="7" fill="#222" stroke="#222" stroke-width="0.13" text-anchor="middle">10</text>
<text x="673" y="603.5" font-size="7" fill="#222" stroke="#222" stroke-width="0.13" text-anchor="middle">100</text>
<polygon points="551.2,573.8 554.2,574.6 558.6,575.7 563.8,576.9 569.1,578.1 574,579 577.8,579.3 580.7,579 582.9,578.3 584.7,577.2 586.2,576 587.7,574.8 589.1,573.8 590.6,572.9 591.9,571.9 593.1,571 594.2,570.2 595.4,569.7 596.6,569.7 597.7,570.2 598.7,571.1 599.7,572.3 600.9,573.7 602.4,575.1 604.5,576.6 607.2,578.2 610.4,580 614,581.9 617.8,583.7 621.5,585.2 625.1,586.2 628.6,586.7 632.1,586.6 635.7,586.3 639.2,585.8 642.5,585.3 645.7,584.9 648.8,584.4 651.8,583.8 654.7,583.2 657.4,582.7 660,582.3 662.4,582.1 664.6,582.3 666.8,582.7 668.7,583.3 670.5,583.9 671.9,584.5 673,584.9 673,587.6 671.9,587.2 670.5,586.7 668.7,586.1 666.8,585.5 664.6,585 662.4,584.9 660,585 657.4,585.4 654.7,586 651.8,586.6 648.8,587.2 645.7,587.6 642.5,588 639.2,588.6 635.7,589.1 632.1,589.4 628.6,589.4 625.1,589 621.5,588 617.8,586.5 614,584.7 610.4,582.8 607.2,580.9 604.5,579.3 602.4,577.9 600.9,576.4 599.7,575 598.7,573.8 597.7,572.9 596.6,572.4 595.4,572.5 594.2,573 593.1,573.7 591.9,574.7 590.6,575.7 589.1,576.6 587.7,577.5 586.2,578.7 584.7,579.9 582.9,581 580.7,581.8 577.8,582.1 574,581.8 569.1,580.9 563.8,579.7 558.6,578.4 554.2,577.3 551.2,576.6" fill="#3db595" fill-opacity="0.18"/>
<polygon points="551.2,575.2 553.2,575.7 556.1,576.4 559.4,577.3 562.9,578.1 566.2,578.8 568.9,579.3 570.8,579.7 572.4,579.9 573.7,580 575,580 576.3,579.8 577.8,579.3 579.6,578.6 581.6,577.5 583.6,576.2 585.6,574.9 587.5,573.6 589.1,572.4 590.6,571.3 591.9,570 593.1,568.7 594.2,567.7 595.4,567 596.6,566.9 597.8,567.5 599,568.7 600.3,570.2 601.5,571.9 602.9,573.7 604.5,575.2 606.3,576.6 608.2,578.1 610.3,579.6 612.4,581.1 614.5,582.4 616.6,583.5 618.4,584.4 620.2,585.1 621.9,585.8 623.7,586.3 625.7,586.6 628,586.9 630.6,587.1 633.5,587.1 636.5,587 639.7,586.8 642.8,586.6 645.7,586.2 648.7,585.8 651.6,585.1 654.5,584.3 657.3,583.6 660,583.1 662.4,582.8 664.6,582.8 666.8,583.1 668.7,583.6 670.5,584.1 671.9,584.6 673,584.9 673,587.6 671.9,587.3 670.5,586.9 668.7,586.4 666.8,585.9 664.6,585.6 662.4,585.5 660,585.8 657.3,586.4 654.5,587.1 651.6,587.8 648.7,588.5 645.7,589 642.8,589.3 639.7,589.6 636.5,589.8 633.5,589.9 630.6,589.8 628,589.7 625.7,589.4 623.7,589 621.9,588.5 620.2,587.9 618.4,587.1 616.6,586.2 614.5,585.1 612.4,583.8 610.3,582.4 608.2,580.9 606.3,579.4 604.5,578 602.9,576.4 601.5,574.7 600.3,573 599,571.4 597.8,570.3 596.6,569.7 595.4,569.8 594.2,570.5 593.1,571.5 591.9,572.8 590.6,574 589.1,575.2 587.5,576.4 585.6,577.7 583.6,579 581.6,580.3 579.6,581.3 577.8,582.1 576.3,582.5 575,582.8 573.7,582.8 572.4,582.7 570.8,582.4 568.9,582.1 566.2,581.6 562.9,580.9 559.4,580 556.1,579.2 553.2,578.5 551.2,578" fill="#dc2f4e" fill-opacity="0.18"/>
<polygon points="551.2,560 552.7,559.8 554.9,559.4 557.4,558.9 560.1,558.6 562.8,558.4 565.3,558.7 567.5,559.3 569.6,560.4 571.7,561.7 573.8,563.1 575.8,564.4 577.8,565.6 579.8,566.6 581.7,567.5 583.6,568.5 585.5,569.4 587.3,570.2 589.1,571.1 590.9,571.9 592.7,572.6 594.4,573.3 596.1,574 597.8,574.6 599.6,575.2 601.2,575.7 602.8,576.2 604.4,576.7 606.1,577.1 607.9,577.5 609.9,578 612.2,578.5 614.6,579 617.1,579.6 619.8,580.1 622.4,580.5 625.1,580.7 627.8,580.8 630.6,580.7 633.4,580.5 636.2,580.2 639,579.8 641.8,579.3 644.5,578.7 647.2,577.8 649.9,576.8 652.5,576 655.2,575.4 657.8,575.2 660.6,575.6 663.5,576.5 666.4,577.7 669.1,578.9 671.4,580 673,580.7 673,591.7 671.4,591 669.1,590 666.4,588.7 663.5,587.6 660.6,586.7 657.8,586.2 655.2,586.4 652.5,587 649.9,587.9 647.2,588.8 644.5,589.7 641.8,590.4 639,590.8 636.2,591.2 633.4,591.5 630.6,591.7 627.8,591.8 625.1,591.7 622.4,591.5 619.8,591.1 617.1,590.6 614.6,590.1 612.2,589.5 609.9,589 607.9,588.5 606.1,588.1 604.4,587.7 602.8,587.3 601.2,586.8 599.6,586.2 597.8,585.6 596.1,585 594.4,584.3 592.7,583.6 590.9,582.9 589.1,582.1 587.3,581.3 585.5,580.4 583.6,579.5 581.7,578.6 579.8,577.6 577.8,576.6 575.8,575.4 573.8,574.1 571.7,572.7 569.6,571.4 567.5,570.4 565.3,569.7 562.8,569.5 560.1,569.6 557.4,569.9 554.9,570.4 552.7,570.8 551.2,571.1" fill="#f6a628" fill-opacity="0.18"/>
<polygon points="551.2,569.7 553.2,570.5 556.1,571.6 559.4,573 562.9,574.3 566.2,575.6 568.9,576.6 570.8,577.4 572.4,578.1 573.7,578.6 575,579.1 576.3,579.3 577.8,579.3 579.6,579 581.6,578.4 583.6,577.5 585.6,576.6 587.5,575.8 589.1,575.2 590.6,574.8 591.9,574.5 593.1,574.3 594.2,574.1 595.4,573.9 596.6,573.8 597.9,573.8 599.1,573.8 600.4,573.8 601.7,573.9 603.1,573.9 604.5,573.8 606.1,573.6 607.8,573.2 609.6,572.7 611.4,572.3 613.1,572.2 614.5,572.4 615.7,573.1 616.7,574.1 617.5,575.3 618.4,576.7 619.3,578.1 620.3,579.3 621.3,580.7 622.3,582.1 623.4,583.6 624.6,585 626.1,586.1 628,586.9 630.3,587.3 633.2,587.4 636.3,587.3 639.5,587 642.7,586.6 645.7,586.2 648.7,585.7 651.6,584.9 654.5,583.9 657.3,583.1 660,582.4 662.4,582.1 664.6,582.2 666.8,582.6 668.7,583.2 670.5,583.9 671.9,584.5 673,584.9 673,587.6 671.9,587.2 670.5,586.6 668.7,586 666.8,585.4 664.6,584.9 662.4,584.9 660,585.2 657.3,585.8 654.5,586.7 651.6,587.6 648.7,588.4 645.7,589 642.7,589.4 639.5,589.8 636.3,590.1 633.2,590.2 630.3,590.1 628,589.7 626.1,588.9 624.6,587.7 623.4,586.4 622.3,584.9 621.3,583.4 620.3,582.1 619.3,580.8 618.4,579.4 617.5,578.1 616.7,576.9 615.7,575.9 614.5,575.2 613.1,575 611.4,575.1 609.6,575.5 607.8,575.9 606.1,576.3 604.5,576.6 603.1,576.6 601.7,576.6 600.4,576.6 599.1,576.5 597.9,576.5 596.6,576.6 595.4,576.7 594.2,576.8 593.1,577 591.9,577.2 590.6,577.6 589.1,578 587.5,578.6 585.6,579.4 583.6,580.3 581.6,581.1 579.6,581.8 577.8,582.1 576.3,582.1 575,581.8 573.7,581.4 572.4,580.8 570.8,580.1 568.9,579.3 566.2,578.3 562.9,577.1 559.4,575.7 556.1,574.4 553.2,573.2 551.2,572.4" fill="#2f2ff5" fill-opacity="0.18"/>
<polyline points="551.2,575.2 554.2,575.9 558.6,577 563.8,578.3 569.1,579.5 574,580.4 577.8,580.7 580.7,580.4 582.9,579.6 584.7,578.6 586.2,577.3 587.7,576.2 589.1,575.2 590.6,574.3 591.9,573.3 593.1,572.4 594.2,571.6 595.4,571.1 596.6,571.1 597.7,571.5 598.7,572.4 599.7,573.7 600.9,575.1 602.4,576.5 604.5,578 607.2,579.5 610.4,581.4 614,583.3 617.8,585.1 621.5,586.6 625.1,587.6 628.6,588 632.1,588 635.7,587.7 639.2,587.2 642.5,586.7 645.7,586.2 648.8,585.8 651.8,585.2 654.7,584.6 657.4,584 660,583.6 662.4,583.5 664.6,583.6 666.8,584.1 668.7,584.7 670.5,585.3 671.9,585.9 673,586.2" fill="none" stroke="#3db595" stroke-width="1.35" stroke-linejoin="round"/>
<polyline points="551.2,576.6 553.2,577.1 556.1,577.8 559.4,578.6 562.9,579.5 566.2,580.2 568.9,580.7 570.8,581 572.4,581.3 573.7,581.4 575,581.4 576.3,581.2 577.8,580.7 579.6,580 581.6,578.9 583.6,577.6 585.6,576.3 587.5,575 589.1,573.8 590.6,572.7 591.9,571.4 593.1,570.1 594.2,569.1 595.4,568.4 596.6,568.3 597.8,568.9 599,570 600.3,571.6 601.5,573.3 602.9,575 604.5,576.6 606.3,578 608.2,579.5 610.3,581 612.4,582.5 614.5,583.8 616.6,584.9 618.4,585.8 620.2,586.5 621.9,587.1 623.7,587.6 625.7,588 628,588.3 630.6,588.5 633.5,588.5 636.5,588.4 639.7,588.2 642.8,587.9 645.7,587.6 648.7,587.1 651.6,586.5 654.5,585.7 657.3,585 660,584.4 662.4,584.2 664.6,584.2 666.8,584.5 668.7,585 670.5,585.5 671.9,585.9 673,586.2" fill="none" stroke="#dc2f4e" stroke-width="1.35" stroke-linejoin="round"/>
<polyline points="551.2,565.6 552.7,565.3 554.9,564.9 557.4,564.4 560.1,564.1 562.8,563.9 565.3,564.2 567.5,564.9 569.6,565.9 571.7,567.2 573.8,568.6 575.8,569.9 577.8,571.1 579.8,572.1 581.7,573.1 583.6,574 585.5,574.9 587.3,575.8 589.1,576.6 590.9,577.4 592.7,578.1 594.4,578.8 596.1,579.5 597.8,580.1 599.6,580.7 601.2,581.3 602.8,581.7 604.4,582.2 606.1,582.6 607.9,583 609.9,583.5 612.2,584 614.6,584.5 617.1,585.1 619.8,585.6 622.4,586 625.1,586.2 627.8,586.3 630.6,586.2 633.4,586 636.2,585.7 639,585.3 641.8,584.9 644.5,584.2 647.2,583.3 649.9,582.4 652.5,581.5 655.2,580.9 657.8,580.7 660.6,581.1 663.5,582 666.4,583.2 669.1,584.4 671.4,585.5 673,586.2" fill="none" stroke="#f6a628" stroke-width="1.35" stroke-linejoin="round"/>
<polyline points="551.2,571.1 553.2,571.9 556.1,573 559.4,574.3 562.9,575.7 566.2,577 568.9,578 570.8,578.7 572.4,579.4 573.7,580 575,580.5 576.3,580.7 577.8,580.7 579.6,580.4 581.6,579.7 583.6,578.9 585.6,578 587.5,577.2 589.1,576.6 590.6,576.2 591.9,575.9 593.1,575.6 594.2,575.5 595.4,575.3 596.6,575.2 597.9,575.1 599.1,575.2 600.4,575.2 601.7,575.3 603.1,575.3 604.5,575.2 606.1,575 607.8,574.5 609.6,574.1 611.4,573.7 613.1,573.6 614.5,573.8 615.7,574.5 616.7,575.5 617.5,576.7 618.4,578.1 619.3,579.4 620.3,580.7 621.3,582 622.3,583.5 623.4,585 624.6,586.4 626.1,587.5 628,588.3 630.3,588.7 633.2,588.8 636.3,588.7 639.5,588.4 642.7,588 645.7,587.6 648.7,587 651.6,586.2 654.5,585.3 657.3,584.5 660,583.8 662.4,583.5 664.6,583.6 666.8,584 668.7,584.6 670.5,585.3 671.9,585.9 673,586.2" fill="none" stroke="#2f2ff5" stroke-width="1.35" stroke-linejoin="round"/>
<line x1="555" y1="514.5" x2="566" y2="514.5" stroke="#bbbbbb" stroke-width="1.3"/>
<line x1="558" y1="517.2" x2="563" y2="517.2" stroke="#c5ecdf" stroke-width="1.3"/>
<line x1="587" y1="514.5" x2="597" y2="514.5" stroke="#bbbbbb" stroke-width="1.3"/>
<line x1="606" y1="514.5" x2="626" y2="514.5" stroke="#111" stroke-width="1.3"/>
<line x1="593" y1="519.8" x2="604" y2="519.8" stroke="#fcd9a0" stroke-width="1.3"/>
<line x1="638" y1="519.8" x2="671" y2="519.8" stroke="#f6a628" stroke-width="1.3"/>
<line x1="664" y1="514.5" x2="667" y2="514.5" stroke="#bbbbbb" stroke-width="1.3"/>
<text x="614" y="612.5" font-size="7.7" fill="#222" stroke="#222" stroke-width="0.14" text-anchor="middle">Frequency [Hz]</text>
<text x="521" y="458.7" font-size="10.7" fill="#111" stroke="#111" stroke-width="0.19" text-anchor="middle" transform="rotate(-90 521 458.7)">wake</text>
<text x="531.2" y="455.4" font-size="8" fill="#222" stroke="#222" stroke-width="0.14" text-anchor="middle" transform="rotate(-90 531.2 455.4)">iCoherence</text>
<text x="521" y="559.6" font-size="10.3" fill="#111" stroke="#111" stroke-width="0.19" text-anchor="middle" transform="rotate(-90 521 559.6)">NREM sleep</text>
<text x="531.2" y="557" font-size="8" fill="#222" stroke="#222" stroke-width="0.14" text-anchor="middle" transform="rotate(-90 531.2 557)">iCoherence</text>
<text x="505.2" y="508.7" font-size="11.1" fill="#111" stroke="#111" stroke-width="0.2" text-anchor="middle" transform="rotate(-90 505.2 508.7)">oscillatory coherence</text>
<line x1="506" y1="415" x2="506" y2="596" stroke="#bdbdbd" stroke-width="0.9"/>
<text x="519.9" y="658.5" font-size="14" fill="#111" stroke="#111" stroke-width="0.25">S</text>
<text x="616" y="658.7" font-size="9.5" fill="#111" stroke="#111" stroke-width="0.17" text-anchor="middle">0-2 hrs post-dosing</text>
<rect x="555.5" y="666.4" width="127" height="84.1" fill="none" stroke="#7c7c7c" stroke-width="0.9"/>
<line x1="554" y1="750.5" x2="555.5" y2="750.5" stroke="#777" stroke-width="0.6"/>
<text x="553.4" y="753" font-size="7" fill="#222" stroke="#222" stroke-width="0.13" text-anchor="end">0.0</text>
<line x1="554" y1="736.48" x2="555.5" y2="736.48" stroke="#777" stroke-width="0.6"/>
<text x="553.4" y="738.98" font-size="7" fill="#222" stroke="#222" stroke-width="0.13" text-anchor="end">0.1</text>
<line x1="554" y1="722.47" x2="555.5" y2="722.47" stroke="#777" stroke-width="0.6"/>
<text x="553.4" y="724.97" font-size="7" fill="#222" stroke="#222" stroke-width="0.13" text-anchor="end">0.2</text>
<line x1="554" y1="708.45" x2="555.5" y2="708.45" stroke="#777" stroke-width="0.6"/>
<text x="553.4" y="710.95" font-size="7" fill="#222" stroke="#222" stroke-width="0.13" text-anchor="end">0.3</text>
<line x1="554" y1="694.43" x2="555.5" y2="694.43" stroke="#777" stroke-width="0.6"/>
<text x="553.4" y="696.93" font-size="7" fill="#222" stroke="#222" stroke-width="0.13" text-anchor="end">0.4</text>
<line x1="554" y1="680.42" x2="555.5" y2="680.42" stroke="#777" stroke-width="0.6"/>
<text x="553.4" y="682.92" font-size="7" fill="#222" stroke="#222" stroke-width="0.13" text-anchor="end">0.5</text>
<line x1="554" y1="666.4" x2="555.5" y2="666.4" stroke="#777" stroke-width="0.6"/>
<text x="553.4" y="668.9" font-size="7" fill="#222" stroke="#222" stroke-width="0.13" text-anchor="end">0.6</text>
<line x1="558" y1="750.5" x2="558" y2="752.3" stroke="#777" stroke-width="0.5"/>
<line x1="573.29" y1="750.5" x2="573.29" y2="751.5" stroke="#777" stroke-width="0.5"/>
<line x1="582.24" y1="750.5" x2="582.24" y2="751.5" stroke="#777" stroke-width="0.5"/>
<line x1="588.58" y1="750.5" x2="588.58" y2="751.5" stroke="#777" stroke-width="0.5"/>
<line x1="593.51" y1="750.5" x2="593.51" y2="751.5" stroke="#777" stroke-width="0.5"/>
<line x1="597.53" y1="750.5" x2="597.53" y2="751.5" stroke="#777" stroke-width="0.5"/>
<line x1="600.93" y1="750.5" x2="600.93" y2="751.5" stroke="#777" stroke-width="0.5"/>
<line x1="603.88" y1="750.5" x2="603.88" y2="751.5" stroke="#777" stroke-width="0.5"/>
<line x1="606.48" y1="750.5" x2="606.48" y2="751.5" stroke="#777" stroke-width="0.5"/>
<line x1="608.8" y1="750.5" x2="608.8" y2="752.3" stroke="#777" stroke-width="0.5"/>
<line x1="629.72" y1="750.5" x2="629.72" y2="751.5" stroke="#777" stroke-width="0.5"/>
<line x1="641.96" y1="750.5" x2="641.96" y2="751.5" stroke="#777" stroke-width="0.5"/>
<line x1="650.64" y1="750.5" x2="650.64" y2="751.5" stroke="#777" stroke-width="0.5"/>
<line x1="657.38" y1="750.5" x2="657.38" y2="751.5" stroke="#777" stroke-width="0.5"/>
<line x1="662.88" y1="750.5" x2="662.88" y2="751.5" stroke="#777" stroke-width="0.5"/>
<line x1="667.53" y1="750.5" x2="667.53" y2="751.5" stroke="#777" stroke-width="0.5"/>
<line x1="671.56" y1="750.5" x2="671.56" y2="751.5" stroke="#777" stroke-width="0.5"/>
<line x1="675.12" y1="750.5" x2="675.12" y2="751.5" stroke="#777" stroke-width="0.5"/>
<line x1="678.3" y1="750.5" x2="678.3" y2="752.3" stroke="#777" stroke-width="0.5"/>
<text x="558" y="759.5" font-size="7" fill="#222" stroke="#222" stroke-width="0.13" text-anchor="middle">1</text>
<text x="608.8" y="759.5" font-size="7" fill="#222" stroke="#222" stroke-width="0.13" text-anchor="middle">10</text>
<text x="678.3" y="759.5" font-size="7" fill="#222" stroke="#222" stroke-width="0.13" text-anchor="middle">100</text>
<polygon points="555.7,729.5 557.7,729.8 560.4,730.2 563.7,730.7 567.2,731.2 570.5,731.8 573.3,732.3 575.7,733.1 578,734.4 580.1,735.6 582.1,736.4 583.9,736.4 585.6,735.1 587.2,732.2 588.7,728 590,722.9 591.2,717.5 592.4,712 593.5,707 594.6,702.2 595.6,697.1 596.6,691.9 597.5,687.2 598.4,683 599.3,679.9 600.1,677.6 600.9,676 601.6,675.1 602.4,674.8 603.1,675 603.9,675.9 604.6,677.4 605.4,679.8 606.1,682.7 606.9,686 607.8,689.6 608.8,693.2 610,697.2 611.3,701.8 612.7,706.7 614.1,711.3 615.5,715.4 616.7,718.5 617.9,720.3 618.9,721.1 619.9,721.3 620.9,721.3 621.9,721.5 623,722.5 624.1,724.1 625.3,726.2 626.5,728.6 627.6,731 628.7,733.2 629.7,735.1 630.5,736.7 631.2,738.2 631.8,739.6 632.3,740.8 633,741.6 633.9,742.1 635,742.1 636.3,741.6 637.7,740.8 639.1,739.8 640.5,738.8 642,737.9 643.3,736.9 644.7,735.8 646,734.6 647.5,733.6 649,732.7 650.6,732.3 652.4,732.2 654.3,732.4 656.3,732.8 658.4,733.4 660.6,734.2 662.9,735.1 665.4,736.3 668.4,737.8 671.4,739.5 674.2,741.1 676.6,742.5 678.3,743.5 678.3,746.3 676.6,745.3 674.2,743.9 671.4,742.3 668.4,740.6 665.4,739.1 662.9,737.9 660.6,737 658.4,736.2 656.3,735.6 654.3,735.2 652.4,735 650.6,735.1 649,735.5 647.5,736.4 646,737.4 644.7,738.6 643.3,739.7 642,740.7 640.5,741.6 639.1,742.6 637.7,743.6 636.3,744.4 635,744.9 633.9,744.9 633,744.4 632.3,743.6 631.8,742.4 631.2,741.1 630.5,739.5 629.7,737.9 628.7,736 627.6,733.8 626.5,731.4 625.3,729 624.1,726.9 623,725.3 621.9,724.4 620.9,724.1 619.9,724.1 618.9,723.9 617.9,723.1 616.7,721.3 615.5,718.2 614.1,714.1 612.7,709.5 611.3,704.6 610,700 608.8,696 607.8,692.4 606.9,688.8 606.1,685.5 605.4,682.6 604.6,680.2 603.9,678.7 603.1,677.8 602.4,677.6 601.6,677.9 600.9,678.8 600.1,680.4 599.3,682.7 598.4,685.8 597.5,690 596.6,694.8 595.6,699.9 594.6,705 593.5,709.9 592.4,714.8 591.2,720.3 590,725.7 588.7,730.8 587.2,735 585.6,737.9 583.9,739.2 582.1,739.2 580.1,738.4 578,737.2 575.7,735.9 573.3,735.1 570.5,734.6 567.2,734 563.7,733.5 560.4,733 557.7,732.6 555.7,732.3" fill="#3db595" fill-opacity="0.18"/>
<polygon points="555.7,728.8 557.7,729.1 560.4,729.5 563.7,730 567.2,730.5 570.5,731.1 573.3,731.6 575.7,732.4 578,733.7 580.1,734.9 582.1,735.7 583.9,735.7 585.6,734.4 587.2,731.5 588.7,727.4 590,722.5 591.2,717 592.4,711.5 593.5,706.3 594.6,701.1 595.6,695.3 596.6,689.4 597.5,683.9 598.4,679.1 599.3,675.5 600.1,673 600.9,671.3 601.6,670.3 602.4,670.1 603.1,670.4 603.9,671.3 604.6,672.9 605.4,675.4 606.1,678.5 606.9,682 607.8,685.7 608.8,689.5 610,693.7 611.3,698.6 612.7,703.7 614.1,708.6 615.5,712.9 616.7,716.2 617.9,718 618.9,718.9 619.9,719.1 620.9,719.1 621.9,719.4 623,720.4 624.1,722.2 625.3,724.6 626.5,727.2 627.6,729.9 628.7,732.3 629.7,734.4 630.5,736.1 631.2,737.7 631.8,739 632.3,740.1 633,741 633.9,741.4 635,741.4 636.3,740.9 637.7,740.1 639.1,739.1 640.5,738.1 642,737.2 643.3,736.2 644.7,735.1 646,733.9 647.5,732.9 649,732 650.6,731.6 652.4,731.5 654.3,731.7 656.3,732.1 658.4,732.7 660.6,733.5 662.9,734.4 665.4,735.6 668.4,737.1 671.4,738.8 674.2,740.4 676.6,741.8 678.3,742.8 678.3,747 676.6,746 674.2,744.6 671.4,743 668.4,741.3 665.4,739.8 662.9,738.6 660.6,737.7 658.4,736.9 656.3,736.3 654.3,735.9 652.4,735.7 650.6,735.8 649,736.2 647.5,737.1 646,738.1 644.7,739.3 643.3,740.4 642,741.4 640.5,742.3 639.1,743.3 637.7,744.3 636.3,745.1 635,745.6 633.9,745.6 633,745.2 632.3,744.3 631.8,743.2 631.2,741.9 630.5,740.3 629.7,738.6 628.7,736.5 627.6,734.1 626.5,731.4 625.3,728.8 624.1,726.4 623,724.6 621.9,723.6 620.9,723.3 619.9,723.3 618.9,723.1 617.9,722.2 616.7,720.4 615.5,717.1 614.1,712.8 612.7,707.9 611.3,702.8 610,697.9 608.8,693.7 607.8,689.9 606.9,686.2 606.1,682.7 605.4,679.6 604.6,677.2 603.9,675.5 603.1,674.6 602.4,674.3 601.6,674.5 600.9,675.5 600.1,677.2 599.3,679.7 598.4,683.3 597.5,688.1 596.6,693.6 595.6,699.5 594.6,705.3 593.5,710.6 592.4,715.7 591.2,721.2 590,726.7 588.7,731.6 587.2,735.7 585.6,738.6 583.9,739.9 582.1,739.9 580.1,739.1 578,737.9 575.7,736.6 573.3,735.8 570.5,735.3 567.2,734.7 563.7,734.2 560.4,733.7 557.7,733.3 555.7,733" fill="#dc2f4e" fill-opacity="0.18"/>
<polygon points="555.7,724.6 556.9,724.3 558.6,723.9 560.6,723.5 562.8,723 564.9,722.7 566.9,722.5 568.9,722.4 570.8,722.5 572.8,722.6 574.7,722.8 576.6,723 578.2,723.2 579.7,723.3 581,723.6 582.3,723.8 583.4,724 584.6,724 585.6,723.9 586.7,723.6 587.6,723.3 588.5,722.9 589.3,722.3 590.2,721.2 591.2,719.7 592.2,717.3 593.3,714.2 594.5,710.6 595.6,707.1 596.6,703.9 597.5,701.4 598.3,699.6 599,698.1 599.6,696.9 600.2,696.1 600.9,695.7 601.6,695.8 602.3,696.5 603.1,697.7 603.9,699.3 604.8,701.2 605.6,703.3 606.5,705.6 607.3,708.4 608.2,711.6 609.1,715.1 609.9,718.5 610.8,721.5 611.7,723.9 612.5,725.5 613.4,726.7 614.3,727.5 615.1,728 615.9,728.4 616.7,728.8 617.5,728.9 618.2,728.7 618.8,728.4 619.5,728 620.3,727.9 621,728.1 621.9,728.6 622.7,729.4 623.6,730.4 624.5,731.5 625.5,732.6 626.5,733.7 627.7,734.9 628.8,736.3 630.1,737.8 631.4,739.1 632.6,740.2 633.9,740.7 635.2,740.7 636.5,740.2 637.9,739.4 639.2,738.4 640.6,737.4 642,736.5 643.3,735.5 644.7,734.4 646,733.2 647.5,732.1 649,731.3 650.6,730.9 652.4,731 654.3,731.4 656.3,732.2 658.4,733.1 660.6,734.1 662.9,735.1 665.4,736.2 668.4,737.5 671.4,738.8 674.2,740.2 676.6,741.3 678.3,742.1 678.3,747.7 676.6,746.9 674.2,745.8 671.4,744.5 668.4,743.1 665.4,741.8 662.9,740.7 660.6,739.7 658.4,738.7 656.3,737.8 654.3,737.1 652.4,736.6 650.6,736.5 649,736.9 647.5,737.7 646,738.8 644.7,740 643.3,741.1 642,742.1 640.6,743 639.2,744 637.9,745 636.5,745.8 635.2,746.3 633.9,746.3 632.6,745.8 631.4,744.7 630.1,743.4 628.8,741.9 627.7,740.5 626.5,739.3 625.5,738.2 624.5,737.1 623.6,736 622.7,735 621.9,734.2 621,733.7 620.3,733.5 619.5,733.7 618.8,734 618.2,734.3 617.5,734.5 616.7,734.4 615.9,734 615.1,733.7 614.3,733.1 613.4,732.3 612.5,731.1 611.7,729.5 610.8,727.1 609.9,724.1 609.1,720.7 608.2,717.2 607.3,714 606.5,711.3 605.6,709 604.8,706.8 603.9,704.9 603.1,703.3 602.3,702.1 601.6,701.4 600.9,701.3 600.2,701.7 599.6,702.5 599,703.7 598.3,705.2 597.5,707 596.6,709.5 595.6,712.7 594.5,716.2 593.3,719.8 592.2,722.9 591.2,725.3 590.2,726.8 589.3,727.9 588.5,728.6 587.6,729 586.7,729.2 585.6,729.5 584.6,729.6 583.4,729.6 582.3,729.4 581,729.2 579.7,728.9 578.2,728.8 576.6,728.6 574.7,728.4 572.8,728.2 570.8,728.1 568.9,728 566.9,728.1 564.9,728.3 562.8,728.6 560.6,729.1 558.6,729.5 556.9,729.9 555.7,730.2" fill="#f6a628" fill-opacity="0.18"/>
<polygon points="555.7,728.8 557.7,729 560.5,729.3 563.8,729.6 567.3,730 570.6,730.4 573.3,730.9 575.5,731.6 577.4,732.7 579.1,733.8 580.7,734.7 582.2,735 583.7,734.4 585.1,732.8 586.4,730.5 587.7,727.6 588.9,724.4 590,721 591.2,717.6 592.3,713.8 593.5,709.3 594.6,704.7 595.7,700.4 596.7,696.8 597.5,694.4 598.2,693.3 598.8,693 599.3,693.5 599.7,694.6 600.3,696.1 600.9,697.9 601.7,700.4 602.6,703.6 603.6,707.4 604.6,711.1 605.5,714.7 606.5,717.6 607.3,719.8 608.2,721.8 609,723.5 609.8,725 610.7,726.3 611.7,727.4 612.8,728.2 614,728.7 615.3,729 616.6,729.3 617.8,729.6 619,730.2 620,730.9 620.9,731.8 621.9,732.8 622.8,733.8 623.7,734.8 624.8,735.8 626,736.8 627.3,737.9 628.6,739 630,740 631.3,740.9 632.6,741.4 633.8,741.6 635,741.6 636.1,741.4 637.3,741.1 638.6,740.6 639.9,740 641.2,739.1 642.6,737.9 644.1,736.5 645.6,735.2 647.3,734.2 649.1,733.7 651.1,733.7 653.3,734 655.6,734.7 658,735.5 660.4,736.4 662.9,737.2 665.5,738.1 668.5,739.1 671.5,740.2 674.2,741.3 676.6,742.2 678.3,742.8 678.3,747 676.6,746.4 674.2,745.5 671.5,744.4 668.5,743.3 665.5,742.3 662.9,741.4 660.4,740.6 658,739.7 655.6,738.9 653.3,738.2 651.1,737.9 649.1,737.9 647.3,738.4 645.6,739.4 644.1,740.7 642.6,742.1 641.2,743.3 639.9,744.2 638.6,744.8 637.3,745.3 636.1,745.6 635,745.8 633.8,745.8 632.6,745.6 631.3,745.1 630,744.2 628.6,743.2 627.3,742.1 626,741 624.8,740 623.7,739 622.8,738 621.9,737 620.9,736 620,735.2 619,734.4 617.8,733.8 616.6,733.5 615.3,733.2 614,732.9 612.8,732.4 611.7,731.6 610.7,730.5 609.8,729.2 609,727.7 608.2,726 607.3,724.1 606.5,721.8 605.5,718.9 604.6,715.4 603.6,711.6 602.6,707.9 601.7,704.6 600.9,702.1 600.3,700.3 599.7,698.8 599.3,697.7 598.8,697.2 598.2,697.5 597.5,698.6 596.7,701 595.7,704.6 594.6,708.9 593.5,713.5 592.3,718 591.2,721.8 590,725.2 588.9,728.6 587.7,731.8 586.4,734.7 585.1,737 583.7,738.6 582.2,739.2 580.7,738.9 579.1,738 577.4,736.9 575.5,735.8 573.3,735.1 570.6,734.6 567.3,734.2 563.8,733.8 560.5,733.5 557.7,733.2 555.7,733" fill="#2f2ff5" fill-opacity="0.18"/>
<polyline points="555.7,730.9 557.7,731.2 560.4,731.6 563.7,732.1 567.2,732.6 570.5,733.2 573.3,733.7 575.7,734.5 578,735.8 580.1,737 582.1,737.8 583.9,737.8 585.6,736.5 587.2,733.6 588.7,729.4 590,724.3 591.2,718.9 592.4,713.4 593.5,708.5 594.6,703.6 595.6,698.5 596.6,693.4 597.5,688.6 598.4,684.4 599.3,681.3 600.1,679 600.9,677.4 601.6,676.5 602.4,676.2 603.1,676.4 603.9,677.3 604.6,678.8 605.4,681.2 606.1,684.1 606.9,687.4 607.8,691 608.8,694.6 610,698.6 611.3,703.2 612.7,708.1 614.1,712.7 615.5,716.8 616.7,719.9 617.9,721.7 618.9,722.5 619.9,722.7 620.9,722.7 621.9,723 623,723.9 624.1,725.5 625.3,727.6 626.5,730 627.6,732.4 628.7,734.6 629.7,736.5 630.5,738.1 631.2,739.7 631.8,741 632.3,742.2 633,743 633.9,743.5 635,743.5 636.3,743 637.7,742.2 639.1,741.2 640.5,740.2 642,739.3 643.3,738.3 644.7,737.2 646,736 647.5,735 649,734.1 650.6,733.7 652.4,733.6 654.3,733.8 656.3,734.2 658.4,734.8 660.6,735.6 662.9,736.5 665.4,737.7 668.4,739.2 671.4,740.9 674.2,742.5 676.6,743.9 678.3,744.9" fill="none" stroke="#3db595" stroke-width="1.35" stroke-linejoin="round"/>
<polyline points="555.7,730.9 557.7,731.2 560.4,731.6 563.7,732.1 567.2,732.6 570.5,733.2 573.3,733.7 575.7,734.5 578,735.8 580.1,737 582.1,737.8 583.9,737.8 585.6,736.5 587.2,733.6 588.7,729.5 590,724.6 591.2,719.1 592.4,713.6 593.5,708.5 594.6,703.2 595.6,697.4 596.6,691.5 597.5,686 598.4,681.2 599.3,677.6 600.1,675.1 600.9,673.4 601.6,672.4 602.4,672.2 603.1,672.5 603.9,673.4 604.6,675.1 605.4,677.5 606.1,680.6 606.9,684.1 607.8,687.8 608.8,691.6 610,695.8 611.3,700.7 612.7,705.8 614.1,710.7 615.5,715 616.7,718.3 617.9,720.1 618.9,721 619.9,721.2 620.9,721.2 621.9,721.5 623,722.5 624.1,724.3 625.3,726.7 626.5,729.3 627.6,732 628.7,734.4 629.7,736.5 630.5,738.2 631.2,739.8 631.8,741.1 632.3,742.2 633,743.1 633.9,743.5 635,743.5 636.3,743 637.7,742.2 639.1,741.2 640.5,740.2 642,739.3 643.3,738.3 644.7,737.2 646,736 647.5,735 649,734.1 650.6,733.7 652.4,733.6 654.3,733.8 656.3,734.2 658.4,734.8 660.6,735.6 662.9,736.5 665.4,737.7 668.4,739.2 671.4,740.9 674.2,742.5 676.6,743.9 678.3,744.9" fill="none" stroke="#dc2f4e" stroke-width="1.35" stroke-linejoin="round"/>
<polyline points="555.7,727.4 556.9,727.1 558.6,726.7 560.6,726.3 562.8,725.8 564.9,725.5 566.9,725.3 568.9,725.2 570.8,725.3 572.8,725.4 574.7,725.6 576.6,725.8 578.2,726 579.7,726.1 581,726.4 582.3,726.6 583.4,726.8 584.6,726.8 585.6,726.7 586.7,726.4 587.6,726.2 588.5,725.8 589.3,725.1 590.2,724 591.2,722.5 592.2,720.1 593.3,717 594.5,713.4 595.6,709.9 596.6,706.7 597.5,704.2 598.3,702.4 599,700.9 599.6,699.7 600.2,698.9 600.9,698.5 601.6,698.6 602.3,699.3 603.1,700.5 603.9,702.1 604.8,704 605.6,706.1 606.5,708.5 607.3,711.2 608.2,714.4 609.1,717.9 609.9,721.3 610.8,724.3 611.7,726.7 612.5,728.3 613.4,729.5 614.3,730.3 615.1,730.9 615.9,731.2 616.7,731.6 617.5,731.7 618.2,731.5 618.8,731.2 619.5,730.9 620.3,730.7 621,730.9 621.9,731.4 622.7,732.2 623.6,733.2 624.5,734.3 625.5,735.4 626.5,736.5 627.7,737.7 628.8,739.1 630.1,740.6 631.4,741.9 632.6,743 633.9,743.5 635.2,743.5 636.5,743 637.9,742.2 639.2,741.2 640.6,740.2 642,739.3 643.3,738.3 644.7,737.2 646,736 647.5,734.9 649,734.1 650.6,733.7 652.4,733.8 654.3,734.3 656.3,735 658.4,735.9 660.6,736.9 662.9,737.9 665.4,739 668.4,740.3 671.4,741.7 674.2,743 676.6,744.1 678.3,744.9" fill="none" stroke="#f6a628" stroke-width="1.35" stroke-linejoin="round"/>
<polyline points="555.7,730.9 557.7,731.1 560.5,731.4 563.8,731.7 567.3,732.1 570.6,732.5 573.3,733 575.5,733.7 577.4,734.8 579.1,735.9 580.7,736.8 582.2,737.1 583.7,736.5 585.1,734.9 586.4,732.6 587.7,729.7 588.9,726.5 590,723.1 591.2,719.7 592.3,715.9 593.5,711.4 594.6,706.8 595.7,702.5 596.7,698.9 597.5,696.5 598.2,695.4 598.8,695.1 599.3,695.6 599.7,696.7 600.3,698.2 600.9,700 601.7,702.5 602.6,705.8 603.6,709.5 604.6,713.3 605.5,716.8 606.5,719.7 607.3,721.9 608.2,723.9 609,725.6 609.8,727.1 610.7,728.4 611.7,729.5 612.8,730.3 614,730.8 615.3,731.1 616.6,731.4 617.8,731.7 619,732.3 620,733.1 620.9,733.9 621.9,734.9 622.8,735.9 623.7,736.9 624.8,737.9 626,738.9 627.3,740 628.6,741.1 630,742.1 631.3,743 632.6,743.5 633.8,743.7 635,743.7 636.1,743.5 637.3,743.2 638.6,742.7 639.9,742.1 641.2,741.2 642.6,740 644.1,738.6 645.6,737.3 647.3,736.3 649.1,735.8 651.1,735.8 653.3,736.1 655.6,736.8 658,737.6 660.4,738.5 662.9,739.3 665.5,740.2 668.5,741.2 671.5,742.3 674.2,743.4 676.6,744.3 678.3,744.9" fill="none" stroke="#2f2ff5" stroke-width="1.35" stroke-linejoin="round"/>
<line x1="580.8" y1="669" x2="585.9" y2="669" stroke="#bbbbbb" stroke-width="1.4"/>
<line x1="594" y1="669" x2="630" y2="669" stroke="#111" stroke-width="1.4"/>
<line x1="648" y1="669" x2="659" y2="669" stroke="#bbbbbb" stroke-width="1.4"/>
<line x1="562" y1="675" x2="582" y2="675" stroke="#f6a628" stroke-width="1.4"/>
<line x1="591" y1="675" x2="630" y2="675" stroke="#f6a628" stroke-width="1.4"/>
<path d="M659.5,679.5 C663.5,679.5 671,687.5 671,694.5 C671,698.5 668.5,700.5 667.5,701.5 C669.5,703.5 669,707.5 664,708.5 L662.5,715 C660.5,715.5 658.5,715.5 656.5,715 L655,708.5 C650,707.5 649.5,703.5 651.5,701.5 C650.5,700.5 648,698.5 648,694.5 C648,687.5 655.5,679.5 659.5,679.5 Z" fill="#e0b9b5" />
<path d="M659.5,680.5 L659.5,700.5" fill="none" stroke="#cc9a96" stroke-width="0.6" />
<path d="M651.5,701 Q659.5,698.5 667.5,701" fill="none" stroke="#cc9a96" stroke-width="0.5" />
<path d="M655,708.5 Q659.5,710 664,708.5" fill="none" stroke="#cc9a96" stroke-width="0.5" />
<circle cx="656.5" cy="684.5" r="1.2" fill="#8f9ee8" stroke="#3b4bd0" stroke-width="0.5"/>
<circle cx="657.5" cy="688" r="1.2" fill="#8f9ee8" stroke="#3b4bd0" stroke-width="0.5"/>
<text x="635" y="684.5" font-size="6.6" fill="#222" stroke="#222" stroke-width="0.12">frontal</text>
<text x="625.5" y="696.5" font-size="6.6" fill="#222" stroke="#222" stroke-width="0.12">parietal</text>
<rect x="554.3" y="769" width="128.2" height="82.6" fill="none" stroke="#d0d0d0" stroke-width="0.9"/>
<text x="618.5" y="813" font-size="8.8" fill="#222" stroke="#222" stroke-width="0.16" text-anchor="middle" font-style="italic">not enough NREM sleep</text>
<text x="617.5" y="865.5" font-size="7.7" fill="#222" stroke="#222" stroke-width="0.14" text-anchor="middle">Frequency [Hz]</text>
<text x="524.4" y="709" font-size="10.7" fill="#111" stroke="#111" stroke-width="0.19" text-anchor="middle" transform="rotate(-90 524.4 709)">wake</text>
<text x="535.8" y="708" font-size="8" fill="#222" stroke="#222" stroke-width="0.14" text-anchor="middle" transform="rotate(-90 535.8 708)">iCoherence</text>
<text x="524.4" y="811" font-size="10.3" fill="#111" stroke="#111" stroke-width="0.19" text-anchor="middle" transform="rotate(-90 524.4 811)">NREM sleep</text>
<text x="535.8" y="809.9" font-size="8" fill="#222" stroke="#222" stroke-width="0.14" text-anchor="middle" transform="rotate(-90 535.8 809.9)">iCoherence</text>
<text x="507.5" y="761.4" font-size="11.1" fill="#111" stroke="#111" stroke-width="0.2" text-anchor="middle" transform="rotate(-90 507.5 761.4)">oscillatory coherence</text>
<line x1="509.7" y1="670" x2="509.7" y2="850" stroke="#bdbdbd" stroke-width="0.9"/>
<text x="321.8" y="762.5" font-size="11.2" fill="#111" stroke="#111" stroke-width="0.2" text-anchor="middle" transform="rotate(-90 321.8 762.5)">oscillatory power</text>
<line x1="323" y1="669" x2="323" y2="849" stroke="#bdbdbd" stroke-width="0.9"/>
</svg></body></html>
